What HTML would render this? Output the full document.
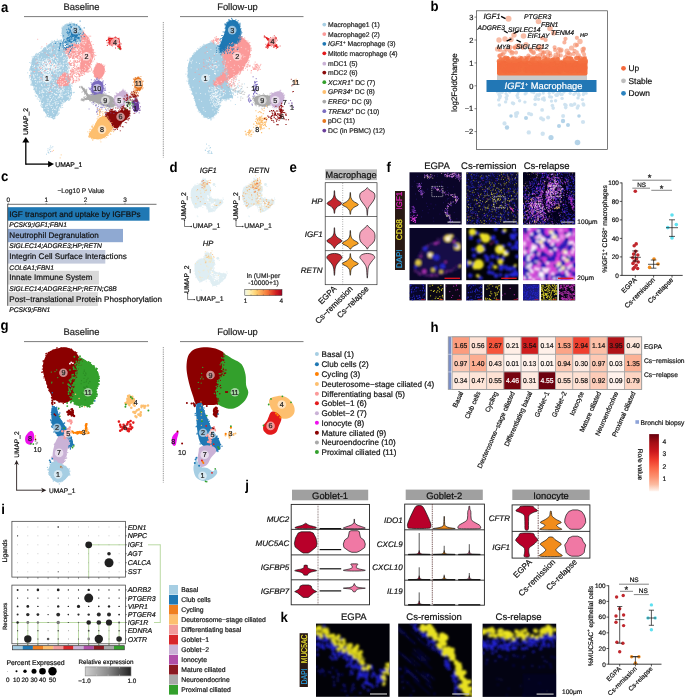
<!DOCTYPE html>
<html><head><meta charset="utf-8"><title>Figure</title>
<style>
html,body{margin:0;padding:0;background:#fff;}
body{width:685px;height:698px;overflow:hidden;}
svg{display:block;font-family:"Liberation Sans",sans-serif;text-rendering:geometricPrecision;opacity:0.9999;}
</style></head><body>
<svg width="685" height="698" viewBox="0 0 685 698">
<defs>
<filter id="b1" x="-10%" y="-10%" width="120%" height="120%"><feGaussianBlur stdDeviation="0.8"/></filter>
<filter id="b2" x="-10%" y="-10%" width="120%" height="120%"><feGaussianBlur stdDeviation="1.2"/></filter>
<filter id="b4" x="-10%" y="-10%" width="120%" height="120%"><feGaussianBlur stdDeviation="0.9"/></filter>
<filter id="b5" x="-10%" y="-10%" width="120%" height="120%"><feGaussianBlur stdDeviation="0.8"/></filter>
<filter id="b3" x="-10%" y="-10%" width="120%" height="120%"><feGaussianBlur stdDeviation="0.35"/></filter>
</defs>
<rect width="685" height="698" fill="#fff"/>
<text transform="translate(1 12.2) scale(0.93 1)" font-size="14.2" font-weight="bold">a</text>
<text x="81.5" y="10" font-size="9.4" text-anchor="middle" fill="#222" stroke="#222" stroke-width="0.2" >Baseline</text>
<line x1="24" y1="16.6" x2="148" y2="16.6" stroke="#444" stroke-width="0.7" />
<text x="237.5" y="10" font-size="9.4" text-anchor="middle" fill="#222" stroke="#222" stroke-width="0.2" >Follow-up</text>
<line x1="180" y1="16.6" x2="303.5" y2="16.6" stroke="#444" stroke-width="0.7" />
<line x1="163.3" y1="22" x2="163.3" y2="157.5" stroke="#333" stroke-width="0.6" stroke-dasharray="0.9 0.9"/>
<path d="M61.1 40.6C59.4 40.1 55.1 40.6 52.1 42.1C49.1 43.6 46.1 47.1 43.1 49.6C40.1 52.1 36.1 54.1 34 57.1C32 60.1 31.2 64.2 30.7 67.7C30.2 71.2 30.5 74.7 31 78.2C31.6 81.7 32.5 85.2 34 88.7C35.5 92.3 38.5 96 40.1 99.3C41.6 102.5 41.8 105.5 43.1 108.3C44.3 111.1 45.8 114.2 47.6 115.8C49.3 117.5 52 118.7 53.6 118.2C55.2 117.7 56.2 115 57.4 112.8C58.5 110.7 58.5 107.6 60.4 105.3C62.3 103 66.7 101.3 68.6 99.3C70.6 97.3 71.6 95.8 71.8 93.3C72.1 90.7 70.9 86.7 70.2 84.2C69.4 81.7 67.5 81.2 67.1 78.2C66.8 75.2 68 69.7 67.9 66.2C67.8 62.7 66.9 59.6 66.4 57.1C65.9 54.6 65.5 53.1 64.9 51.1C64.3 49.1 63.3 46.8 62.6 45.1C62 43.3 62.9 41.1 61.1 40.6Z" fill="#a6cee3" />
<path d="M62.6 27C63.8 25.2 66.4 23.9 68.6 23.4C70.9 22.9 74 23.2 76.2 24C78.3 24.9 80.3 26.8 81.4 28.5C82.6 30.3 83.2 32.5 83.1 34.6C83 36.6 82.1 39.2 80.7 40.6C79.3 42 76.7 42.3 74.7 43C72.7 43.6 70.4 44.6 68.6 44.5C66.9 44.3 65.3 43.7 64.1 42.1C63 40.4 62.1 37.1 61.9 34.6C61.6 32 61.5 28.9 62.6 27Z" fill="#a6cee3" />
<path d="M82.9 32.3C84.2 32 86.6 34.9 88.2 37.6C89.8 40.2 91.8 45.1 92.7 48.1C93.6 51.1 94 52.9 93.6 55.6C93.3 58.4 91.5 62.3 90.6 64.7C89.7 67.1 89.2 68.8 88.2 70.1C87.2 71.4 85.8 72.6 84.5 72.3C83.1 72.1 81 70.3 80.4 68.4C79.8 66.5 80.7 63.3 81 60.9C81.2 58.5 82.7 54.7 81.9 54.1C81.1 53.5 78.1 57.2 76.2 57.4C74.2 57.7 71.7 56.5 70.2 55.6C68.6 54.8 67.2 53.6 66.7 52.3C66.1 51.1 65.5 49.5 66.8 48.1C68.2 46.7 72.5 44.3 74.7 43.9C76.9 43.5 78.9 46.6 79.9 45.8C80.9 45 80.2 41.3 80.7 39.1C81.2 36.8 81.7 32.5 82.9 32.3Z" fill="#fb9a99" />
<path d="M58.9 78.2C60 76.6 62.5 73.4 64.1 72.9C65.8 72.4 67.8 73.8 68.8 75.2C69.8 76.6 70.6 79.6 70.3 81.2C70.1 82.9 68.8 84.4 67.3 85.1C65.8 85.9 62.8 86.3 61.1 85.9C59.4 85.5 57.6 84 57.2 82.7C56.8 81.4 57.7 79.8 58.9 78.2Z" fill="#fb9a99" />
<path d="M95.4 65.9C96.3 64.4 97.3 63.1 98.8 63.2C100.2 63.2 103.1 64.7 104 66.2C105 67.7 105 70.2 104.5 72.2C104 74.2 102.5 77.3 101 78.2C99.6 79.1 97 78.5 95.7 77.5C94.5 76.4 93.5 74.1 93.5 72.2C93.4 70.3 94.6 67.4 95.4 65.9Z" fill="#fb9a99" />
<path d="M70.8 80h0m5.7 -11.1h0m2.4 9.4h0m-8.8 -21.1h0m5.6 19.3h0m-3.4 6.2h0m-0.2 -14.6h0m-3 -5.5h0m6.5 7.6h0m-3.3 -7.4h0m-0.2 6.4h0m1.1 -12.2h0m8.7 14.9h0m-3.1 -10.3h0m-8.2 4h0m9.5 10.6h0m1.7 -1.2h0m-8.4 -2.3h0m3.2 0.1h0m-7.4 -9.7h0m2.2 8.6h0m8.4 3.5h0m-5.2 -6.6h0m2.1 9.5h0m0.2 -10.8h0m-0.5 -10.1h0m7.8 15.7h0m-9.3 -11.8h0m5.9 10.3h0m-3 -2.2h0m-4.9 2.4h0m8.5 -0.8h0m-3.9 -2.6h0m0.2 -6.3h0m-1.1 8h0m-2.3 -3.9h0m2.9 7.7h0m1.1 -4.6h0m-9.2 -6.3h0m2.3 9.9h0m1.3 7.1h0m6.6 -21.1h0m-10.4 -1.9h0m11.7 6.5h0m-10.2 10.5h0m3.7 -15.5h0m-2.9 12.8h0m0.1 -7.1h0m8.6 5h0m-6.2 0.6h0m-4.7 -2.5h0m6.3 -5.5h0m1.4 0.6h0m1.5 16.9h0m-9.2 -22.2h0m2 19.5h0m0.2 -0.4h0m8.2 -4.5h0m-7.3 12h0m9.2 -12.7h0m-9.1 3.6h0m2.7 -2h0m-1.2 1.5h0m-4.1 -9.2h0m3.9 15.6h0m0.1 2.2h0m6.8 -14.5h0m-2.7 -6.8h0m2.1 9.3h0m-5.2 -4.5h0m-2.7 9.2h0m3.6 -13.4h0m-5.2 13.1h0m3 -4.6h0m0.5 10.4h0m-2 -15.2h0m2.2 -3.2h0m5.3 17.4h0m3.3 -4.2h0m-10.2 1.1h0m-2.4 -15.5h0m10.6 12h0m-6.6 -8.6h0m8.4 8.7h0m-11.6 -1.5h0m-0.5 -14.2h0m3.7 16h0m3.7 -10.9h0m-7.8 1.2h0m12.8 8.3h0m-9.7 6.2h0m6.2 -19.4h0m-9.9 4.2h0m1.2 -2.1h0m2 16.1h0m0.2 -7.4h0m-2.5 4.8h0m-0.9 -17.8h0m8.8 12.2h0m-4.5 -10.8h0m-1.6 15.5h0m7.5 1.2h0m-6.8 -3.3h0m0.8 -8.3h0m-3.6 1h0m9.1 10.1h0m-5.5 -8.8h0m0.2 14.5h0m0.2 -8.5h0m3.9 1.5h0m-5.3 -16.1h0m0 1.5h0m4.9 0h0m-7.6 15.7h0m3.4 4.3h0m3.2 2h0m-5.3 -10.1h0m-0.8 0.4h0m3.3 10.8h0m5.9 -20.2h0m-4 -0.5h0m4.4 14.2h0m-7.3 -16.8h0m4.7 13.3h0m-2.4 -5.7h0m-2.2 -8.7h0m6.2 10.9h0m-1.2 -9.9h0m-3.4 2.1h0m-3.7 3.4h0m4.4 9.8h0m2 -3.1h0m1.9 -1.7h0m0.6 8.1h0m-7.1 -6.5h0m3.8 -7.6h0m-1 9.4h0m-2.2 2.4h0m-3.6 -16h0m7.3 22.4h0m-5.5 -3.1h0m8.4 2.3h0m-5.1 -4.1h0m5.8 -3h0m-8.9 -9.5h0m0.7 8.8h0m8.5 -14.4h0m-1.2 18.5h0m-5.3 -5.6h0m-2.8 6h0m10.1 -2.8h0m-8.5 7.9h0m6.2 -5.9h0m-3.4 6.2h0m-4.4 -16.7h0m6.8 2.3h0m-7.6 -3.1h0m2.1 12.7h0m6 -4.1h0m-5.5 -1.7h0m-0.1 1.2h0m-0.4 2.7h0m3.8 4.8h0m4.4 -7.9h0m-6.1 -8h0m-4.3 14.6h0m0.1 -1.7h0m0.3 -6.9h0m6.9 -5.3h0m-1.1 1.3h0m-1 2.6h0m-2.1 -1.4h0m7.5 7.9h0m-4.6 -1h0m-1.8 -12.3h0m3.5 18.8h0m3.7 -10.3h0m-8.3 -9.5h0m4.9 10.1h0m-3.6 -3h0m0.3 12.2h0m2.8 -3.6h0m-1.5 0.3h0m2.4 -2.7h0m-0.2 -6.7h0m0 6.3h0m2.9 -0.8h0m-7.3 -9.5h0m3 -3.1h0m-1.2 -3h0" stroke="#fb9a99" stroke-width="0.9" stroke-linecap="square" fill="none"/>
<path d="M74.7 53.9h0m-1.3 -3.8h0m1.2 5.8h0m2.7 -5.4h0m0 2h0m-7.1 -3.9h0m10 0.6h0m-5.3 1h0m-0.2 3.6h0m-5.1 -0.8h0m8.1 1.6h0m-6.6 -2h0m-0.5 -0.5h0m-0.9 2.2h0m10.2 -4.5h0m-9.5 6.2h0m7.2 -1.1h0m-1.3 -5.2h0m-2.8 4.3h0m5.2 -5.5h0m-2.3 -0.3h0m5.1 2.7h0m-0.9 2.8h0m-4.5 -4.5h0m-1.2 -1.2h0m-5.7 5.6h0m3.3 0.3h0m-1.8 -0.3h0m7 -4h0m-9 0.9h0m5.7 -2.9h0m1.6 7.7h0m1.5 -0.7h0m3.9 -2h0m-9.2 2.2h0m-3.7 -4.3h0m5.9 -0.2h0m-4.8 -1.4h0m9.6 2.2h0m-3.5 -2.4h0m2 1.1h0m-1.8 5.7h0m3 -0.5h0m-7 -4.7h0m3.8 5.3h0m-2.7 -0.4h0m5.3 -7.1h0m2.3 -1.4h0m-11.3 6.4h0m-1.3 -2.8h0m1.1 0.8h0m10.4 4.4h0m0 -8.5h0m-8.3 0.7h0m5.3 6.2h0m0.8 1h0m-0.4 -4.5h0m-0.3 -1.4h0m-0.7 1h0m0.2 2.1h0" stroke="#fff" stroke-width="0.8" stroke-linecap="square" fill="none" opacity="0.85"/>
<path d="M68.9 65.8h0m-0.5 -2.2h0m-31.8 -10.2h0m4.8 -2h0m-2 46.1h0m-5.8 -41.1h0m-1.6 11.4h0m40.1 18.4h0m-0.8 6.8h0m-16.4 25h0m-9.2 -6h0m-14.9 -44.9h0m11.4 38.9h0m26.8 -37.6h0m-34.9 -11h0m33.5 0.9h0m3.3 7.2h0m-40 15.4h0m38.6 16.2h0m-8.4 -54h0m-16.6 66.5h0m22.1 -31.4h0m-11.6 37.2h0m17.7 -31.6h0m-37.8 -27.8h0m33.1 15.7h0m-25.9 33h0m19.5 -60h0m-5.7 71.2h0m-13.6 -11.9h0m28 -11.6h0m-3.6 -33h0m-29.7 -5.1h0m-0.7 3.2h0m32.4 10.5h0m-1.1 14h0m-3.2 -34.3h0m4 38.8h0m1 -9.9h0m-23.3 34.8h0m17.5 -9.1h0m3.9 -33.8h0m5.8 24.3h0m-10.1 -47.2h0m-7.2 67h0m9.5 -47.7h0m1.4 7.8h0m-19.1 43.6h0m-15 -35.4h0m32.8 -23.6h0m-10.9 -16.2h0m7.7 64.3h0m-1.8 -63.6h0m9.3 44.3h0m-38.8 -17.6h0m-1 8.8h0m17 39.1h0m-1.9 -6h0m21.2 -31.3h0m-23.8 -28.7h0m18.6 -8.2h0m-28.8 17.3h0m7.1 -6.8h0m-3.6 43.7h0m-5.1 -33.2h0m-0.3 3.8h0m14.3 -19.4h0m15.2 57.4h0m8.9 -24.9h0m-36.5 -22.4h0m-1.6 27h0m34.5 -21h0m1.6 -7.1h0m3 25.4h0m-9 23.7h0m5.4 -43.1h0m-33.3 -1.5h0m36.1 38.3h0m-6.2 -57.3h0m1.6 5.7h0m3.5 32.9h0m-8.8 28.2h0m-26.9 -23.4h0m-2.3 -15.9h0m32.2 -28h0m1.3 7h0m-32.3 27.8h0m15.5 -30.7h0m-10.1 47.6h0m17.9 25h0m9.9 -69.3h0m-4 -7.2h0m7.7 32.5h0m-34.7 -16h0m18.6 -11.6h0m-2.6 70.2h0m11.9 -76.6h0m1 2.2h0m-6.9 1h0m5.1 60.8h0m-28.9 -31h0m32.6 -20.1h0m2.1 5.2h0m-14.3 59.2h0m-19.6 -37.3h0m26.3 -38.1h0m10.7 39.7h0m-33.5 -27.7h0m32.6 15.9h0m-37.3 -1.1h0m6.3 23.2h0m23.6 15.6h0m3.9 -6h0m-35.1 -32.8h0m32.7 -23.7h0m-0.2 -3.2h0m-29.6 18.5h0m36 37.8h0m2.6 -5.6h0m-17 -52.2h0m12.6 32.1h0m-3 -22.5h0m-21.5 57.1h0m17.7 -0.8h0m-5.1 8.7h0m6.1 -74.9h0m7.7 57.8h0m-14.1 16.4h0m12.2 -37.6h0m-0.4 -1.7h0m-9.2 39.9h0m8.6 -35h0m-33.7 3h0m24 30.5h0m11.9 -32.8h0m-32 12.8h0m31.5 -15.4h0m-3.5 23.2h0m-32.6 -17.5h0m22.2 35.1h0m-21.9 -51.8h0m29.9 -26h0m6.1 57.9h0m3.1 -6.1h0m-32 6.7h0m-8.5 -20.3h0m40.1 18.8h0m-32.9 -3.4h0m29.2 -28.7h0m-2.5 -12h0m-1.8 -12.4h0m-1 -2h0m8.4 59.5h0m-15.5 12.5h0m15.4 -17.2h0m-33.3 1.7h0m10 14.9h0m16.6 -58.7h0m-19.5 58.5h0m30.5 -18.5h0m-33.2 7.5h0m-3.9 -6.2h0m-6.7 -19.8h0m31.7 -31.8h0m-8.8 0.6h0m11.6 9.7h0m-21.9 55.1h0m20.7 -5h0m-33.3 -31.3h0m17.6 45.3h0m14.3 -70.1h0m-14.8 67.1h0m-12.7 -27.1h0m-2.4 -27.6h0m2.9 36.6h0m2 3.5h0m-7.8 -23.4h0m3.1 -10h0m35.9 15.7h0m-34.4 3.5h0m37.7 7.7h0m-27.4 18h0m-12 -26.2h0m3.8 6.8h0m22.1 23.2h0m-13.5 -66.3h0m-11.5 37.7h0m34.3 -10.3h0m-2.6 -24.4h0m-16.7 -5.9h0m-16.3 31.2h0m35.5 -22.2h0m-7.3 51.4h0m3.5 -50.8h0m5.9 24.6h0m-0.1 6.5h0m-41.8 -12.9h0m7.9 -18.4h0m34.1 42.5h0m-3.6 -40.5h0m-12.1 60.9h0m10 -72.9h0m-29.7 12h0m34.1 10.5h0m-34.7 22.7h0m27.4 13.7h0m-4.5 10.2h0m-20.4 -56.3h0m27.5 44.2h0m-25 -47.9h0m29.9 46.9h0m-23.2 10.6h0m-0.6 -61.4h0m-5 48.2h0m13.7 20.9h0m9.2 -11.2h0m8.5 -12.9h0m-6.7 -42.6h0m-30.4 36.9h0m-4.7 -11h0m44.5 14.5h0m-17.5 20.2h0m6.5 -67.6h0m-15.1 70.2h0m-8.4 -59.5h0m-4.4 36.4h0m23.7 18.1h0m5.4 -60.9h0m1.4 5.3h0m-13.5 -13.7h0m9.3 5.1h0m-6.8 69.9h0m15.1 -47.9h0m-2.4 -15.6h0m-5.6 -6.3h0m9.6 42.4h0m-3.7 -14.9h0m-0.5 -8.5h0m-22.9 -16.9h0m22.7 22.5h0m-4.2 -26.5h0m-29.7 16.6h0m33.8 -1.2h0m-10.6 55.7h0m-5.5 -71.4h0m12.1 0.1h0m8.1 54.2h0m-37.4 -13.7h0m28.4 -40.1h0m6.8 20.3h0m-32.1 28.6h0m5.5 12.7h0m-4.4 -11.5h0m19.5 17.5h0m14.4 -26.3h0m-0.3 9.4h0m-13 19h0m7 -53.1h0m-27.4 -6.1h0m25.4 -11.3h0m-18.1 67.7h0m18.1 -63.3h0m-19.9 1.5h0m4.9 -4.4h0m2.9 -3.2h0m3.5 -0.8h0m-10.9 69.2h0m-3.4 -9.2h0m27.4 -41.1h0m-33.2 -1.4h0m-1.9 23.9h0m0.6 -23.3h0m2.5 -3.1h0m18.1 62.2h0m-15.2 -21.6h0m-4.3 -7.8h0m8.3 17.7h0m-0.7 -2.5h0m11.1 12.8h0m10.8 -68.5h0m-22.2 58.5h0m-8.5 -22.1h0m36.1 8.7h0m-13.5 21.5h0m3.8 -4.9h0m-1.1 2.9h0m9.1 -52.4h0m-4.1 -14.6h0m-19.7 63.6h0m24.4 -26.7h0m3 0.8h0m-34.5 -28.9h0m9.3 -6.4h0m14.3 59.2h0m7 -37.7h0m-35.7 -8.9h0m31.9 -14.5h0m-14.6 70.7h0m0.9 -72.1h0m-14.5 45.4h0m8.6 19.7h0m24.8 -39h0m-1.2 -13h0m-0.8 14.2h0m4.5 22.7h0m-40.2 -25.4h0m27.1 41.3h0m-15.6 -5.9h0m18.8 -63.3h0m-1.1 -1.7h0m-16.6 8.4h0m25.8 36.8h0m-4.2 -31.4h0m0.1 4.4h0m-22.9 48.8h0m10.5 -65.4h0m-6 73.7h0m22.7 -33.6h0m-23.7 35.1h0m-9.9 -26.8h0m31.4 -10.3h0m-12.4 38.2h0m11.5 -62.4h0m-34.7 20.7h0m30.5 -32.6h0m4.4 28.9h0m0.1 -4.4h0m-9.4 -28.9h0m14 52.3h0m-12.9 15.6h0m10.5 -42.9h0m-9.4 48.8h0m-18.4 -64.9h0m-9.7 36.2h0m32.7 -34.6h0m5.1 50.1h0m-36.3 -16.2h0m30.9 -34.2h0m6.7 39.4h0m-7.5 -39h0m-27.2 41.9h0m17.2 26.8h0m-21.8 -33.2h0m40.1 5h0m-38.4 -31.5h0m-1.8 24.1h0m36.1 -27.2h0m-5.4 49.1h0m2.6 -55.6h0m-17.4 -0.3h0m-6 55.1h0m-8.3 -43.7h0m36.8 36h0m-1.9 -39h0m0.6 24.6h0m-37 -6.1h0m7.8 21.7h0m-9.3 -35.1h0m37.7 0.9h0m0.1 18h0m-6.4 -37.4h0m-29.5 35.8h0m-0.2 -17.2h0m34.6 15.4h0m-1 -23.4h0m4 23.5h0m-36.8 3.9h0m7.4 19h0m10.4 -56.8h0m10.7 62.7h0m-21.4 -10.5h0m2.7 5.7h0m-12.5 -25.9h0m30 30.2h0m-18.4 -5.8h0m-3.1 -3.3h0m19.2 15.1h0m9.8 -54h0m-14 59.5h0m7.4 -77.2h0m-24.6 51.2h0m-5.5 -23.2h0m-0.6 6.9h0m27.9 39.6h0m-18 -13.8h0m21.6 -57h0m-30.6 24.7h0m29.5 36.5h0m10.1 -21h0m-15.9 -42.2h0m13.5 31.8h0m-37.2 -7h0m34.1 -14.4h0m-35.2 17.6h0m33.4 33.4h0m-27.2 -12.4h0m5 14.3h0m26.4 -47.5h0m-1.5 20.7h0m3.6 21.3h0m-8.9 4.5h0m-11.2 -57.2h0m8.9 62.5h0m-14.3 -3.3h0m14.3 -65.4h0m6.2 4.4h0m0.2 9.1h0m-29.9 2.4h0m30.2 43.9h0m3.2 -28.2h0m-35.8 -16.2h0m24.3 57h0m-21.9 -24.1h0m33.4 -16.7h0m-0.7 7.1h0m-1.7 21.3h0m-1.3 -50.9h0m-6.7 63.3h0m-7.1 -68.2h0m20.2 44.6h0" stroke="#a6cee3" stroke-width="0.7" stroke-linecap="square" fill="none"/>
<path d="M70.5 94.4h0m-23.4 4.6h0m-1.6 7.2h0m5.8 -54.9h0m-1.3 33.5h0m-5.9 -15.4h0m15.8 -27.7h0m-20.9 19.7h0m25 40.1h0m-21.6 -10.7h0m18.1 -11.2h0m-28.9 -7.8h0m3.1 -6.2h0m21.5 29h0m-1.9 14.9h0m-19.8 -30.2h0m10.3 29.1h0m11.3 -5.2h0m-20.6 -21.5h0m26.2 -25.6h0m-9.1 2.2h0m-13 21.4h0m9 8.6h0m-6.1 15.4h0m-8.9 -16.8h0m14.9 28.6h0m16.9 -42.2h0m-25.9 20h0m8.3 20.3h0m3.9 -61.5h0m-13.6 6h0m-4.6 17.2h0m30.7 -17.7h0m-4.5 12.6h0m-9.4 27.2h0m18.6 -9.3h0m-18.8 -27.1h0m13.2 2.2h0m-27.1 26.8h0m21.7 11.7h0m-11.5 -19.5h0m4.6 -33.9h0m-8.1 40.8h0m-3.9 -22.6h0m1.9 12.3h0m-5.4 0.3h0m21.3 10h0m-9.7 18.9h0m-0.4 -34h0m-12.1 13h0m15.8 -13.6h0m1.2 26.8h0m2.2 -17.8h0m-12.4 10.4h0m17.2 -8.6h0m2.2 -36.1h0m-14.8 13.1h0m0.4 16.6h0m13.9 23h0m-6.6 -29.8h0m10 29.5h0m-12 -30.7h0m-2.3 -6.4h0m5.3 4.7h0m-20.3 9h0m11 -11.1h0m-0.1 15.4h0m-1.1 -22.8h0m-3.3 42h0m2.4 -18.4h0m16.8 4h0m-2.4 -26h0m0 -1.7h0m-23.5 13h0m12.4 23.9h0m-9.4 -20.2h0m10 -25.9h0m13.2 13.8h0m10.7 28.1h0m-21.3 13.7h0m-0.2 -17.7h0m-12 -13h0m5.8 6.7h0m-0.6 -16.4h0m13.7 42.5h0m-7.6 -50.4h0m-5.2 35.4h0m13.2 -40.9h0m-1.7 58.2h0m5.5 -25.3h0m4.2 -30h0m-12.3 57.8h0m13.9 -46.3h0m-12.1 15.3h0m-13 -9.3h0m11.7 -3.6h0m-5.8 13.7h0m2.5 -34.1h0m12.1 36.8h0m-25.7 4.3h0m16.1 -7.9h0m-4.8 24.7h0m2.7 -25.8h0m12.8 23h0m-9.8 -19.8h0m1.8 -25.3h0m-11.8 12.6h0m-0.2 10.7h0m9.7 17.3h0m-13.3 -44.7h0m18.4 18.4h0m-15.5 -19.5h0m17.5 21.7h0m-20.1 3h0m18.2 -28.1h0m8.3 23.1h0m-14.7 6.9h0m6.4 -4.7h0m8.1 -14.4h0m-18.7 10.8h0m16.4 -12.3h0m-7.1 9h0m-5.6 49.2h0m-1.4 -67.4h0m-9.3 18.7h0m-5.8 -1.2h0m17.7 21.7h0m-7.7 -3.3h0m3.9 -20.2h0m0.5 -5.3h0m12.6 -16.8h0m-10.2 7.2h0m-9.9 34.6h0m2.7 -4h0m-5.9 -17.1h0m-4.2 12.6h0m13.1 27.8h0m11.5 -11.6h0m-7.8 -45.1h0m7.5 -1.9h0m-16.1 16.2h0m-4.2 16.3h0m22.2 -10.9h0m-10.8 0.3h0m16.1 -8.9h0m-32.4 16.6h0m-0.7 -9.3h0m17 38.5h0m3 -60.5h0m-4.3 60.4h0m-6.8 -23h0m4.9 -9.4h0m2 3.5h0m5.7 -32.6h0m-3.8 55h0m-2.1 12.9h0m-10.7 -27.5h0m25.4 14.4h0m-6.4 -35.9h0m-8.6 16.7h0m1.8 -6.5h0m-3.3 -12.3h0m6.8 44.4h0m7.2 -21.8h0m-13.5 -20.7h0m15.7 25.1h0m-11.5 -33.2h0m-0.3 4.6h0m-17.1 19.4h0m27.2 -0.1h0m-8.2 32.7h0m4.6 -41.4h0m-8.4 -1.3h0m-4.9 3.4h0m13.8 -7.2h0m-17.5 33.8h0m13.7 20.6h0m-5.4 -6.6h0m12.9 -24.7h0m-17 -18.3h0m1.9 21.7h0m17.1 -24.3h0m-6.9 16.6h0m-6.1 13.4h0m-4.9 -13.8h0m11.1 -28.4h0m-17.4 0.8h0m22.4 36.9h0m-13.3 -23h0m14.6 14.1h0m-23.3 -10.6h0m12.2 -9.5h0m3.5 5h0m-4.7 0.2h0m4.6 -22.2h0m-16.8 10.9h0m11.3 40.3h0m2.1 -1.2h0m14.4 -1.3h0m-12.5 14.6h0m6.2 -31.5h0m-23.6 10.9h0m20.4 -17.5h0m-23.6 -2.6h0m19.6 44.6h0m8.1 -41h0m8.8 26.4h0m-14.8 -3.7h0m11.1 0.5h0m-31.1 -22.1h0m1.1 12.4h0m33.3 -0.7h0m-26.6 11.2h0m5.1 -4.3h0m15.5 -13.7h0m-20.3 26.6h0m12.4 -5.5h0m-2.3 -11.4h0m-3.6 -1.3h0m19.5 -1.6h0m-13.9 4.6h0m-13.5 -9.8h0m1.3 27.4h0m7.2 -53.7h0m-9.3 6.7h0m28.4 38.1h0m-14.5 -47.7h0m-13.4 2.6h0m22.4 18.8h0m-0.2 18.2h0m-23.4 -6.8h0m10.9 34.8h0m4.8 -12.2h0m7.6 -20.3h0m-25.4 -2.8h0m26.1 -18h0m-5.9 34.5h0m-4.7 -11.7h0m3 13h0m-15.1 -29.2h0m22.9 20.4h0m-20.8 1.6h0m-7.4 -12.8h0m25.4 -37.1h0m5.2 32.8h0m-22.3 13.6h0m9.5 24.8h0m-3.2 -23.2h0m-3 -23.2h0m-6.5 14.3h0m19.2 -16.2h0m0.7 4.5h0m-10 10.1h0m-2.6 -1.8h0m3.6 27.1h0m-4.5 -55.7h0m1.4 31.3h0m-9.2 -11.8h0m20 -1.4h0m-18.5 31.6h0m9.4 2h0m2.2 -34.1h0m-14.8 -10.9h0m19.2 2.2h0m-8.9 10.8h0m14 -20.4h0m-31.3 22.2h0m23.4 22.7h0m8.9 -33.1h0m-15.9 27.7h0m15.2 -0.1h0m-13.8 0h0m11.5 -39.4h0m-7.7 -4h0m3.8 13.3h0m10.6 16.6h0m-24.1 -3.2h0m-11.9 -0.1h0m29.9 -14.7h0m7.4 35.9h0m-21.3 -44.3h0m21.5 42.5h0m-17.4 0.7h0m15.1 -28.2h0m-14.2 14.2h0m-3.2 3.6h0m2.7 26.4h0m-8.6 -43.7h0m-5.5 -2.8h0m11.6 30.6h0m18.3 5h0m0.3 -26.2h0m-6.1 -26.7h0m-5 22h0m0 15.2h0m-22.2 -14.3h0m23.3 -24h0m-15.2 50h0m6 -3.1h0m-15.8 -10.3h0m34 3.4h0m-18.6 2.7h0m7.5 0.3h0m3 -18.9h0m-1.6 41.1h0m-4.8 -2.4h0m11.7 -32.3h0m-16.7 -12.7h0m15.8 -5.9h0m-21.7 20.9h0m7.5 -27h0m14.5 29.2h0m1.2 5.6h0m-10.9 1.4h0m-10.5 12.4h0m1.8 -36.5h0m10.6 -4.4h0m-17.4 39h0m16.5 -25.2h0m-0.4 -27.5h0m14.6 51.1h0m-10.3 -11.9h0m3.8 21h0m0.4 -48.4h0m-1.4 46.9h0m-3.5 -45.7h0m-17.8 32.7h0m13.1 -21.5h0m5.2 -6.6h0m-6.5 0.4h0m-4.9 32.3h0m9.5 17.3h0m3.8 -14.1h0m-18.4 -10.4h0m0.4 4.9h0m20.5 -35.1h0m-4.6 -6.5h0m-15.9 49.1h0m-2.3 -6.6h0m1.8 -34.2h0m9.6 17.4h0m11.6 -6.3h0m0.9 -7.1h0m-7.5 40.5h0m-10.7 -30.8h0m5.6 5h0m-7.6 -14.3h0m15.2 17.6h0m-10.2 29.2h0m0 -9.1h0m20.6 -2.7h0m-7 1.7h0m4.1 -35.2h0m-28.8 3.8h0m8.4 7.1h0m0.7 31.9h0m-0.2 -31.5h0m19.8 3.4h0m-9.8 16.7h0m-12.2 -19.7h0m18.4 -21.2h0m-5.8 24.7h0m-17.7 -18.2h0m-2.8 1.8h0m9.9 43.4h0m11.7 -53.1h0m-9.8 47.9h0m-0.1 1.3h0m5.2 -22.7h0m2.5 24.4h0m0.3 -8h0m-19 -34.3h0m5.4 30.9h0m7.8 9.8h0m18.4 -5.7h0m-13.5 6.6h0m-6.3 -28.4h0m-8.7 19.1h0m14.1 -38.2h0m8.2 -10.4h0m-16.4 44.3h0m8.5 -20.8h0m-4.8 15.1h0m3.2 4h0m-16.8 -29.3h0m21.8 48.6h0m-5.9 -13.6h0m-8.7 3.6h0m3.1 -6.3h0m10.1 -16.1h0m-8.3 17h0m-1.6 -37.7h0m18.6 27.3h0m-7.8 11.8h0m-10.5 -33.3h0m20.3 31.8h0m-7.4 -15.1h0m-13.2 -27.9h0m0.1 30.4h0m-7.1 3.5h0m0.4 -3.8h0m-1 -18.9h0m13.7 33.4h0m4.6 -28.6h0m-6.8 42h0m12.1 -20.6h0m-10.9 14.3h0m-7.8 2.7h0m13.7 -26.2h0m-13.5 16.4h0m17.5 -16.7h0m-11.6 27.3h0m16.2 -34h0m-23.6 17h0m-11.4 -10.8h0m34.3 -3.1h0m-5.8 -8.3h0m10.9 27.4h0m-0.3 4.3h0m-14.7 -29.7h0" stroke="#fff" stroke-width="0.8" stroke-linecap="square" fill="none" opacity="0.85"/>
<path d="M48.9 63.1h0m-9 -1.7h0m9.7 6.2h0m-7 -7.8h0m9.1 4.8h0m-1.8 -2.1h0m3.8 -3.6h0m-1.3 7.7h0m-5.8 -6.7h0m4.2 11.5h0m-1.7 -5.5h0m5.9 -10.1h0m-14.4 11.4h0m28.3 -6.6h0m-7.8 4.4h0m-4.7 3.7h0m-2.8 -3.8h0m-8.1 -2.7h0m9.9 3.8h0m-12.4 -4h0m5.4 6h0m-5.1 -5.7h0m13.6 8.5h0m-24.8 -13.5h0m10.7 15.7h0m6.8 -7.3h0m4.2 -8.6h0m-9 10.7h0m2.8 -5.3h0m2.6 -3.3h0m-7.1 13.7h0m8.4 -3.8h0m-4.9 2.8h0m5.1 -5.3h0m5.5 -0.2h0m-22 2.3h0m12.7 -4.2h0m-12.6 10.2h0m10.5 -11.2h0m-4.8 -1.6h0m7.4 10.6h0m7.5 0.7h0m8.5 -13h0m-3.6 10.7h0m-7.8 -6.5h0m-6.5 6.3h0m-5.7 -2.3h0m15.2 0.4h0m-3.1 -3.5h0m-6.9 -1.7h0m8.3 10h0m-6.7 -7.4h0m-1.5 0.7h0m10.8 1.6h0m-12 4.4h0m-0.2 -8.8h0m-0.7 -1.9h0m7.9 7.8h0m-8.4 -4.6h0m4.2 -3.3h0m15.7 4.6h0m-25 4.7h0m14.3 -2.7h0m-4.6 -2.6h0m4.4 -2.8h0m0 2.8h0m-4.4 -1.4h0m5.1 6.6h0m-14.9 -2.5h0m16.8 -4.4h0m1 7.4h0m-9.2 -3.1h0m1.3 -1.3h0m-6.1 1.1h0m6.4 -5.1h0m-6 3.2h0m11.6 -2.7h0m-6.2 2.1h0m2.2 0.9h0m0.4 5.5h0m-6.2 -6.9h0m-2.8 4.2h0m21.5 -3.5h0m-15 -0.3h0m5.7 4.4h0m-3 -6.3h0m-1.4 5.9h0m3.5 -3.9h0m-3.5 10.9h0m-6.3 -4.4h0m-3.5 -8.7h0m1.7 4h0m3.6 6.8h0m0.9 -14.3h0m-3.4 10.4h0m-0.6 -3.9h0m0.9 -3.7h0m9.8 3.2h0m0 0.8h0m3.6 -0.7h0m-2.7 1h0m-10 6.1h0m5.2 -3h0m-1 -9.3h0m-6.1 4.6h0m2 4.9h0m10.6 -3h0m1.8 -1.7h0m-7.8 -7.1h0m-1.2 8.6h0m-3.3 -5h0m-1.3 9.2h0m3.6 -4.8h0m-0.5 -0.6h0m-7 1.2h0m17.2 -6.6h0m-12.7 1.9h0m7 0.6h0m-3.6 3.7h0m11.9 1.5h0m-4.1 3.6h0m-6.5 -9.9h0m-7.4 2.7h0m16.6 -2.7h0m2.3 5.8h0m-8.7 -6.9h0m-1.9 -0.8h0m-0.9 10h0m8.3 -3.7h0m2.3 -0.9h0m-13.1 5.6h0m10.6 -10.6h0m-6.8 11.3h0m-4.5 -8h0m4.4 8.1h0m-2.7 -4.4h0m1.3 -1h0m-3 7.2h0m3.5 -10.8h0m13.6 2.6h0m-9.8 8.9h0m-3.1 -6.4h0m1 6.3h0m0.5 -0.7h0m-2.7 -11.3h0m4.1 4.8h0m-10.3 0h0m12.2 -9.9h0m-4.9 12.5h0m19.2 -3.2h0m-13.5 2.3h0m-4.6 -6.3h0m-1.4 4.1h0m1.6 -3h0m2.8 0.8h0m-8.5 1.8h0m10.5 -2h0m-5.3 2.6h0m10.5 -1.2h0m-5.5 0.9h0m-7.4 -2.9h0m3 -0.2h0m-1.5 7.1h0m-0.7 -5.2h0m1.3 -1.4h0m4.2 4.6h0m-0.2 -6.6h0m-5.5 10.4h0m1.8 -1.5h0m-0.3 -5.5h0m-5 -0.5h0m7.2 -6.1h0m-11.8 6.7h0m19.3 5.5h0m-17.6 -8h0m18.2 7.2h0m-10.2 -3.4h0m-8.5 3.5h0m2.9 5.8h0m10.8 -6.9h0m-10.4 -1.3h0m0 0.6h0m5.4 -0.8h0m5.3 -4.2h0m-0.3 0.5h0m-2.7 -5.5h0m0.3 11.6h0m3.8 -0.6h0m-5 -5.3h0m6.2 -0.2h0m-5.2 4h0m-1.3 -4.7h0m1.4 -2.3h0m4.2 3.6h0m-12.4 2.5h0m1.3 2.1h0m-7.9 -14.3h0m16.7 4h0m-1 6.2h0m-1.2 3.1h0" stroke="#fff" stroke-width="0.9" stroke-linecap="square" fill="none" opacity="0.9"/>
<path d="M58.3 90.1h0m2 -6h0m4 4h0m-1.7 8.7h0m-5.9 -5.3h0m0.9 -3.1h0m5.4 2.9h0m-4.7 -4.3h0m-3.1 7.5h0m4.7 0.3h0m3.5 -4.9h0m-2.4 6.6h0m1.3 -7h0m-1.6 3.7h0m-2.2 -8.5h0m0 18.7h0m-3.6 -14.5h0m6.3 3h0m-6.7 -6.2h0m8.3 1.4h0m-8 -2.6h0m5.5 6.8h0m2.1 -5h0m-0.3 -4.3h0m-0.9 14.6h0m-0.1 8.1h0m-2.8 -7.3h0m3 -6.4h0m-2.4 -1h0m2 4.7h0m-3.9 0.2h0m13.4 -13h0m-9.9 10.2h0m-6.3 8.3h0m5 -11.1h0m4.8 -5.6h0m-10.4 13h0m10.6 -2.1h0m-2.1 -1.5h0m-3.1 3.4h0m3 -1.6h0m-2.3 -3h0m-2.4 12h0m2.3 -6.3h0m1.7 -19.8h0m0.4 9.8h0m-1.7 7.9h0m-0.5 -0.8h0m1.1 -4.4h0m-1.9 -1.1h0" stroke="#fff" stroke-width="0.8" stroke-linecap="square" fill="none" opacity="0.9"/>
<path d="M81.9 45.7h0m-12.9 9.9h0m22.3 -3.6h0m-1.3 19.5h0m4.5 -11.9h0m-17.7 -15.3h0m-11.7 3.9h0m15.8 -4.2h0m1.9 24.5h0m7.5 -2h0m-19.5 -11.8h0m0.5 1.1h0m0.2 -12h0m5.9 3.5h0m5.7 11.8h0m10 2h0m-15.4 -3.8h0m5.1 9.4h0m-15 -15.3h0m-1 1.3h0m13.2 13.4h0m9.2 0h0m-24.8 -16.6h0m25.9 14.6h0m-11.7 4h0m-11.3 -18.3h0m12.2 -5.4h0m-13.3 11.4h0m22.5 -17.9h0m-6.8 21.3h0m-1.7 3.2h0m-3.9 -18h0m9.3 27.3h0m-5.2 -3.1h0m1.8 -11.1h0m0.3 1.7h0m0.5 -26.2h0m8.6 8.7h0m-8.2 -8.9h0m-2.6 23.7h0m-13.8 -8h0m13.6 10.2h0m8.6 -19.6h0m-17.8 6.7h0m10.9 -10.2h0m-14.3 15h0m-1.9 -2.2h0m27.7 3.8h0m-11 16.8h0m0 -33.2h0m8 31.5h0m-13 -12.1h0m0.5 0.5h0m-9.3 -7.1h0m10.8 8.6h0m-2.5 -1.3h0m-2.7 -12.9h0m14.2 28.7h0m-20.4 -16h0m14.7 3.8h0m-13.4 -2.1h0m7.9 -11.2h0m12.6 21.4h0m1.6 -5.3h0m-8.3 -29.8h0m-2.4 7h0m-14.5 9.9h0m24.3 -4.1h0m-17.4 12.5h0m-5 -10.8h0m10.9 14.8h0m-0.5 5.7h0m3.2 -7h0m-15.6 -11h0m25.1 19.5h0m-17.8 -13.5h0m4.7 -9.8h0m3.1 -6.4h0m1.7 31.2h0m-3.1 -13.8h0m-9.1 -10.5h0m17.8 -6.6h0m-7.7 0.2h0m-0.9 17.8h0m12.6 -4.2h0m-1.2 8h0m-22.4 -11.5h0m-1.1 1.2h0m22.1 13h0m2.1 -6h0m-24.7 -3h0m9.1 -13.6h0m-11.1 7.3h0m15.4 -4.9h0m8.6 21.7h0m-1.6 6.7h0m-13.8 -14.1h0m10.3 -23.9h0m-15.7 20.3h0m12 -18.1h0m-4.8 18.6h0m10.9 12.6h0m-5.9 0.2h0m-3.6 -22.2h0m12.2 -9.5h0m-6.1 19.7h0m-10.5 1.1h0m8.6 9.3h0m-10.9 -10h0m21.5 -2.1h0m-10.8 -17.9h0m11.7 8.2h0m1.1 11.7h0m-12.6 -9h0m10.9 3.6h0m-21.3 4.7h0m6.6 -10.6h0m2.5 1h0m-0.4 10.1h0m-1.2 3.1h0m-9.4 -11.6h0m-1.1 8.4h0m18.9 16h0m-20.9 -22.9h0m21.6 -11.3h0m-4.3 -5.1h0m-10.3 11.4h0m16.1 16.8h0m-5.3 11.6h0m-9.1 -15.9h0m6.7 -1h0m1.4 -14.8h0m-0.6 23.1h0m6.9 2.6h0m-2.1 -29.3h0m1.7 33.3h0m-10.4 -17.5h0m2.3 -8.9h0m13.1 10.7h0m-18.3 -8.7h0m17.7 4.3h0m-13 6.4h0m-15.5 -4.9h0m12.9 5.6h0m-7.2 -10.9h0m21.3 6h0m-13.6 2.3h0m4.3 -12.9h0m-14.7 11.1h0m16 16.8h0m-12.9 -12.4h0m-3.6 -7.9h0m12.1 19.4h0m7.6 -30.4h0m-3.9 -7h0m-2.4 28.6h0m0 6.4h0m-12 -20.8h0m25.4 9.2h0m-27.9 -1.5h0m26.8 -0.4h0m-12.1 18.9h0m1.6 -15.9h0m-0.2 -24.7h0m5.6 4.8h0m-1.6 35.7h0m-5.7 -28.5h0m11.6 7.6h0m-21.7 2.9h0m8.8 6.6h0m-12.8 -11.7h0m22.9 19.6h0m-5.7 1.9h0m-15.6 -18.5h0m-1.9 1.5h0m8.2 -9.9h0m4.1 1.2h0m1.7 16.1h0m5.4 -24.4h0m-5.5 23.5h0m-0.4 -14.6h0m1.9 18h0m-0.2 0.3h0m-12.4 -10.1h0m-3.7 -1.3h0m3.8 -4.6h0m22.6 10.3h0m-11.3 11.6h0m-1.6 -2h0m-1.3 -14.2h0m15 -3.3h0m-8.8 -18.7h0m7.8 19.5h0m2 -0.9h0m-13.1 -4.8h0m7.5 23.9h0m-4.5 -9.7h0m-11.7 -4.3h0m19.7 14.2h0m-3.5 -31.5h0m4.2 15.5h0m-14.2 -7.3h0m5.7 9.6h0m9.7 1.5h0m-28.2 -3.3h0m30.7 1.9h0m-13.3 -20.6h0m5 4.4h0m5.2 18.2h0m-17.9 -11.9h0m3.2 -1.7h0m-9.5 4.4h0m23.2 -0.2h0m-28 3.3h0m29.2 -1.1h0m-11.9 13.5h0m13.8 -11.1h0m-24.7 4.3h0m11.6 14h0m5.4 1h0m-3 2.4h0m-11.5 -30.7h0m-6.1 8.5h0m17 21.4h0m-15.7 -19.5h0m20.1 17.3h0m-6.2 -30.5h0m-3 14.8h0m12.8 -9.4h0m-10.4 10.7h0m0.7 1.6h0m-0.8 -20h0m2.3 -4.6h0m4.1 32.5h0m-17.1 -20.8h0m14.3 28.5h0m-13.8 -30.3h0m11.2 -10.7h0m12.4 25.1h0m-13.7 -22.6h0m-11.9 8.8h0m26.3 11.1h0m-14.5 9.6h0m-12.8 -14.9h0m21.7 -8.9h0m-18.6 13.1h0m6.2 1h0m2.2 0.8h0m-13.4 -6.4h0m14.4 17.7h0m11.1 -2.9h0m-12.9 -19h0m-8 11.1h0m-5.1 -6.4h0m16.1 -3h0m-16 2.2h0m14.5 15.5h0m10.6 -28.8h0m-16.2 8h0m6.7 27h0" stroke="#fb9a99" stroke-width="0.7" stroke-linecap="square" fill="none"/>
<path d="M58.8 85.3h0m6.5 0.3h0m-7.8 -4.9h0m2.8 -4.5h0m4.3 -1.7h0m-6.7 6.3h0m8.2 4.8h0m0.3 -0.5h0m-9.6 -2.2h0m8.9 -8.9h0m1.7 11.2h0m-6.4 0.1h0m4.4 -12.2h0m-0.7 2.5h0m4.9 3.4h0m-9.7 6.1h0m5.3 -12.1h0m-1.5 11.2h0m4.1 -10.5h0m2.8 0h0m-0.5 2.8h0m-10 1.5h0m-1.8 4.1h0m9.6 1.6h0m-3.4 -9.8h0m-3.8 2.8h0m7.6 6.6h0m-9.3 2.8h0m-0.6 -6.1h0m4.4 -6.5h0m5.5 11.8h0m-9.3 -7.2h0m-1.6 5.5h0m12.7 -4.4h0m-2 5.9h0m0.8 -2.8h0m1.5 -2.6h0m-12.4 -2.1h0m3.8 8.3h0m2.1 -0.7h0m0 -12.7h0m-8.6 9.3h0m13.2 -3.6h0m-2.5 7.5h0m-6.4 1.6h0m-3.4 -7h0m5.7 7.6h0m-4.4 -4.8h0m7.1 2.1h0m-1.1 0.7h0m2.1 -1.1h0m-6.8 -0.9h0m2.6 0.9h0m6.9 -10.2h0m-8.1 2.4h0m-2.6 4.8h0m6.8 -7.7h0m-5.2 5.6h0m1 7.2h0m9.1 -4.5h0" stroke="#fb9a99" stroke-width="0.7" stroke-linecap="square" fill="none"/>
<path d="M94 69h0m9.1 -1.4h0m-5.8 -3.4h0m4.8 1.5h0m1.6 6.3h0m0.5 -1.8h0m-0.4 2.6h0m-5.1 -8.7h0m-2.7 4.3h0m5.8 -2.6h0m-2.3 -2.3h0m1.1 14.4h0m-5.8 -2.2h0m6.6 -11.3h0m-5.6 3.7h0m-1.7 8.1h0m1.4 -2.5h0m2.9 -9.9h0m-1.6 3h0m-2.1 0.5h0m4.4 9.8h0m-5.6 -3.9h0m1.6 1.7h0m-0.3 1.8h0m7 2.3h0m-2 -14h0m5 0.3h0m-8.7 11.7h0m2.1 1.5h0m-2.9 -1.9h0m6.8 2.1h0m3.2 -7.3h0m-6.8 7.4h0m-3.1 -1.1h0m0.6 -12.4h0m6.6 5.9h0m0 1.5h0m-6.6 -2.4h0m0.6 7.4h0m7.9 -11.2h0m-1.4 2.3h0m-1.4 5.1h0m-2.3 5h0m-6.2 -7.9h0m3 5.4h0m-2.5 -4.8h0m2 5h0m4 -12.8h0m-3.5 13.2h0m5.2 -13.3h0m-2.5 0.3h0m-7.6 6.3h0m11.1 2.5h0m1.9 -3.5h0m-7.7 1.4h0m-3.9 1.5h0m2.3 -2.9h0m-1.6 1.7h0m9.6 -6.3h0m-8.4 11.3h0m3.1 -12.5h0m-1.3 12.9h0m-0.5 -11.5h0m1.1 -1.9h0m-2.7 7.2h0m9.6 3h0m-1.1 0.4h0m-5.7 -10.3h0m2.8 1.1h0m-0.1 14.1h0" stroke="#fb9a99" stroke-width="0.7" stroke-linecap="square" fill="none"/>
<path d="M85.7 68.6h0m7.3 -17.5h0m-25.2 -2.9h0m9.4 2.2h0m8.7 -8.4h0m-15.7 10.3h0m15.1 17.7h0m0.7 -29.8h0m-2.2 9.5h0m2.9 2.8h0m2.2 15.1h0m-14.3 -10.7h0m9.1 2.5h0m-1 10.2h0m1 -26.7h0m5.5 1.7h0m-6.4 -11.4h0m-0.5 14.3h0m4.2 -9.5h0m-4.9 3.3h0m0.1 14.9h0m10.9 -7.5h0m-15.4 5.9h0m14.4 4.4h0m-3 -19.7h0m-12.4 12.9h0m6.3 -9.2h0m3.1 -0.1h0m0.4 9.8h0m-4.3 -9.9h0m9.5 15h0m-21 -7h0m7.9 1.2h0m14.3 -4.6h0m-7.7 20h0m-0.4 -22.6h0m-10.1 1.8h0m15.3 15.6h0m0.8 2.7h0m2 -11.2h0m-7.9 -9h0m6.5 1.8h0m-6.4 23.8h0m4.4 -15h0m-3.3 9.3h0m-1.7 -16.4h0m4.7 18.4h0m-16 -10.5h0m11.2 4h0m-0.6 -15.9h0m6.4 3h0m-6.5 -7.1h0m-16.2 10.1h0m19.1 3.9h0m-5.5 -3.8h0m-7.3 -3.1h0m16.7 7.1h0m-16.6 -8.1h0m14 11.5h0m-4.5 -17.3h0m-0.1 -4h0m1.4 5.8h0m1.7 22h0m-8.2 -10.3h0m9.6 11.9h0m-1.4 -23h0m-14 2.8h0m12.1 -5.1h0m-16.1 12.2h0m4.2 2h0" stroke="#fff" stroke-width="0.8" stroke-linecap="square" fill="none" opacity="0.7"/>
<path d="M34.2 71.6h0m9.5 -5.7h0m8.8 -15.8h0m3.5 15.9h0m-2.6 -19.6h0m-6.8 -2.5h0m-0.1 33.1h0m-9 -14.2h0m21.5 1.2h0m-17.5 14.7h0m-2.6 -6.9h0m16.5 4.3h0m-24.8 -0.4h0m20.1 -6.3h0m4.9 -1.9h0m-9.2 17.6h0m-10.7 -16.6h0m2 -29.2h0m3.1 38.4h0m7.7 -8.8h0m-7.2 -0.6h0m8.1 -4.9h0m-4.7 7.6h0m17.7 4.1h0m-11.9 -13.4h0m3.4 -6.3h0m-4.7 36.9h0m-0.5 -37h0m7.3 31.6h0m-3.7 -11.3h0m-2.1 2.1h0m-9.5 -9.6h0m6.2 -3.7h0m3.2 -3.6h0m-7.1 19.3h0m8.7 3.8h0m-10.4 -11.3h0m-5.1 -12.7h0m17.2 25.9h0m-11.5 -39h0m-2.2 20.6h0m5.7 3.1h0m-1 5.1h0m2.2 4.9h0m5.8 -15.8h0m-18.2 6.9h0m10.8 -18.8h0m2.3 25.2h0m-5.4 -5h0m6.8 -13.1h0m-3.6 2.6h0m9.1 -7.6h0m-3.1 36.6h0m7.8 -10.8h0m-8.5 6.7h0m-14.4 -23.6h0m14.3 -1h0m5.2 -5.1h0m-1.3 14.5h0m-7.2 -17.5h0" stroke="#fb9a99" stroke-width="0.7" stroke-linecap="square" fill="none"/>
<path d="M74.6 39.5h0m8.9 -6.3h0m-5.4 -3.1h0m-3.3 10.3h0m0.8 -8h0m-2 -0.9h0m6.2 -2h0m-8.2 1.3h0m6.3 -2.1h0m-3.7 5h0m-4.5 3.9h0m11.5 -0.8h0m-14.2 -4.3h0m4.4 -5h0m2.5 6.8h0m3.6 -4.9h0m-3.1 5.3h0m-3 0.1h0m0.1 -1h0m1.1 -3.5h0m0.2 -0.9h0m1.8 5.7h0m-2.8 1.7h0m-0.4 0.2h0m3 -5.7h0m-6.2 1.8h0m8.5 -2.7h0m-2 -2.3h0m-0.4 3.1h0m-2.8 1h0m7.1 -0.1h0m-2.1 1.8h0m-0.8 7.6h0m-2.9 -6.1h0m-2.2 -8.6h0m5.4 7.3h0m-6.2 7.6h0m4.3 -6.9h0m-6.1 2.9h0m2.1 -1.6h0m10.2 -2.6h0m-4.6 -4.3h0m3.2 10.2h0m-4.1 -5.6h0m0.4 2.8h0m-0.9 -2.6h0m1.9 2.6h0m-2.3 -12.5h0m1.9 7.5h0m-3.6 -0.5h0m4.5 -4.1h0m0.1 4.6h0m1.5 6h0m-7.3 -5.5h0m4.5 -2.1h0m-1.9 3.3h0m-1.5 1.2h0m-2.2 -3.7h0m6.8 5.4h0m0.6 -1.4h0m0.8 -6.7h0m0.1 9.7h0m-1.7 -7.6h0m1.5 2.2h0m-7.5 -0.5h0m3 -2.5h0m0.1 -1.7h0m-4.9 0.5h0m3.5 7.3h0m0 -1h0m-1.1 -3.3h0m9.2 9.8h0m-6.2 -14h0m9.3 6.2h0m-7.5 3.6h0m-3.1 -3.6h0m3.7 -0.7h0m-0.1 2.6h0m-7.2 3h0m5.9 -11.6h0m-3.1 12.3h0m4 -7.4h0m-6.2 5.8h0m5.1 -3.9h0m-0.1 -5.9h0m1.2 9.3h0m2.3 0.7h0m0.8 -2.6h0m-6.5 -1.3h0m2.2 -0.5h0m-5.4 -0.7h0m1 4.1h0m7.6 -3.6h0m-2.6 6.9h0m-6.1 -5.7h0m9.4 -3.4h0m0 7.8h0m0.7 -3.8h0m-4.5 -4.1h0m2.4 5.4h0m-4.5 -5.9h0m2.7 3.5h0m-3.4 -0.7h0m5 0.2h0m-3.6 7.7h0m0.7 -0.2h0m0.9 -2.8h0m2 0.8h0m-4.8 -4h0m3.2 -6.3h0m-1.1 1.6h0m2.9 11.7h0m0.6 -3.5h0m-6.3 -3.2h0m7.3 -8h0m-2.7 1.2h0m-0.3 3.1h0m1.7 2h0m-5.5 8.4h0m2.4 -3.3h0m-3.3 -10.1h0m2 -0.3h0m9.4 6.7h0m-8.6 -2.9h0m1.2 7.6h0m4.2 -10.2h0m-5 5.1h0m-5 -2.1h0m5.6 3.8h0m1.8 -2.6h0m2.4 4.2h0m-3.6 -3.9h0m1.4 -2.2h0m-2.4 1.9h0m-6.4 -7.8h0m6.7 9.8h0m-0.9 -2.1h0m0.7 -0.4h0m-2 4.2h0m-2.2 -6.6h0m7 3h0m-5.3 -1.4h0m-0.3 0h0m3.8 8.3h0m-3.3 -3.8h0m0.3 8.3h0m-1.2 -11.5h0m4.3 1h0m3.3 -6.8h0m-2.9 3.1h0m-1.4 6.7h0m2 -6.4h0m-4.1 2.3h0m-5.2 -1.3h0m3.3 -1.8h0m2.7 -0.2h0m10.7 -1.9h0m-16.4 5.7h0m8.7 -5.3h0m-3.8 8.1h0m-1.6 -1.2h0m-0.2 1.4h0m7.1 1.1h0m-2.8 -2.5h0m-0.3 3h0m-1.7 -7.2h0m0.5 9.6h0m2.4 -5.5h0m-4.3 -8.5h0m1.7 9.7h0m10.7 0.2h0m-8 1.3h0m-5 -4.2h0m1.7 -0.8h0m0.2 6.3h0m-0.9 -4.5h0m3.7 -7.2h0m-0.8 8.5h0m-2 -3.1h0m2.7 -0.9h0m-5.1 8.1h0m5.8 -9.4h0m-2.2 -2.8h0m-1.1 6h0m0.1 -4h0m6.7 11.3h0m-5.5 -5.9h0m1.1 -1.4h0m0 6.3h0m-6.6 -7.4h0m5.4 2.1h0m1.8 0.4h0m4.3 -6.3h0m-1.4 9.5h0m-1.8 -2.8h0m-1.8 -4.5h0m-6 -1.3h0m-2.7 -0.1h0m5.7 -0.4h0m4.7 5.8h0m-4.6 -2.1h0m2 -5h0m-3.1 9.7h0m1.2 -4.8h0m5.9 1.2h0m-2.3 3h0m-0.1 -11h0m-5.4 12.8h0m-2.8 -1.4h0m12.2 -7.9h0m-4.4 5.1h0m-0.5 -3.7h0m-1.1 3.8h0m2.4 -9.2h0m-3.1 3h0m-2.3 10.7h0m3.7 -11h0m-6.6 9.8h0m4.7 -8h0m3.7 -2.2h0m-8.1 1.4h0m1.3 -4.3h0m3.8 9.9h0m0 1.1h0m-0.6 -0.7h0m5.6 7.9h0m-10.3 -8.1h0m7.8 3.1h0m0.4 -5.2h0m-0.4 6.2h0m-6 -14.5h0m4 0.3h0m-0.6 7.6h0m-1.4 2.1h0m4.1 -10h0m3.8 -3.6h0m-5.5 9.8h0m1.7 4.8h0m-1.2 0.5h0m-3.1 -5.8h0" stroke="#1f78b4" stroke-width="0.9" stroke-linecap="square" fill="none"/>
<path d="M63.8 48.9h0m-0.4 -2.9h0m2 -0.5h0m-2.9 -1.6h0m1.5 -4.4h0m3.5 7.9h0m1.1 -3.2h0m-2.1 3.2h0m4.4 -4.7h0m-11.5 4.4h0m12.2 -4.8h0m-2.2 -1.2h0m1.9 4.3h0m-4.7 -2.4h0m-0.3 6.6h0m0.2 -2.2h0m2.6 -6.7h0m-0.5 6.6h0m-8.3 -3.6h0m9.7 2.4h0m-3.6 -1.6h0m6.2 1h0m-3.8 8.6h0m0.5 -7.9h0m-9.2 -2.2h0m10.7 -2.5h0m-6.5 6h0m-8.9 -4.2h0m14.1 9h0m-6.1 -11.1h0m6.1 -1.6h0m6.9 3h0m-10.4 -0.5h0m4.4 3.1h0m0.7 -3.3h0m-12 8.3h0m7.1 -7.8h0m-5.5 1.5h0m1.7 -1.1h0m4.6 -3.8h0m-7.4 9.4h0m4.5 -5.6h0m3 -3.1h0m2.1 1.4h0m-1.6 -2.5h0m-2.3 9.7h0m3.7 -10.1h0m1.7 11.8h0m-10.4 -4.3h0m5.4 4.2h0m4.9 -3h0m-2.5 -1.8h0m-5.1 0.1h0m4.4 -1.4h0m2.8 7.3h0m-4.8 -3h0m5.2 2.5h0m-5.6 -8.2h0m-1.4 -6.5h0m5.2 10.9h0m3.4 -1.8h0m-8.3 -2.8h0m4.4 -0.3h0m-5 1.8h0m11.6 3.9h0m-7.9 -9.2h0m-0.1 6.3h0m4.8 0.5h0m-4.7 -2.4h0m-3.9 4.3h0m5.4 -7h0m-2.4 8h0m1.2 -7.5h0m-0.7 3.8h0m-0.6 -3h0m3.4 4.2h0m0.3 -4.5h0m1.1 5h0m-5.4 -3.3h0m1.6 3.5h0m2.6 -5.5h0m-1.7 0.3h0m3.8 7.6h0m-10.7 -5.4h0m2.5 -3.1h0m9.2 6.9h0m-4.4 -2.7h0m-1 0h0m9 -1h0m-10.9 -1.4h0" stroke="#1f78b4" stroke-width="0.9" stroke-linecap="square" fill="none"/>
<path d="M62.2 28.3h0m16.5 11.2h0m-4.7 -16h0m8.7 11.2h0m-8.1 -11.4h0m5.3 19.2h0m-6.2 0.5h0m-6.7 -19.4h0m-1.9 0.9h0m8.6 18h0m0.3 0.1h0m7.1 -7.9h0m0.2 4h0m-5.5 5.2h0m5 -5.2h0m-4.5 0h0m-14.5 -5.2h0m20.9 -3.1h0m-5.8 12.1h0m-5.2 -20.3h0m8.2 19h0m-10.1 -18.7h0m-8.8 13.1h0m13.9 6.2h0m-7.1 2h0m-5.8 -16.5h0m0.6 8.4h0m17.5 -10.3h0m-6.6 -1.4h0m4.3 17h0m-0.5 -17.1h0m-1.1 1.5h0m-14.2 3.2h0m12.4 13.9h0m7.5 -13.1h0m-6.4 -4.9h0m-12.6 18.8h0m0.6 -3.6h0m19.7 -2.6h0m-2.3 -9.9h0m-14.9 -2.8h0m-1.1 4.3h0m-2 -2.6h0m7.4 18.9h0m12.8 -11.6h0m-0.9 -2.2h0m-12.4 -7.9h0m-1.4 21.2h0m9.6 -3h0m3.9 -12.6h0m-5.6 13.6h0m-3.8 -19h0m-10.3 9.3h0m2.8 9.9h0m1.4 0.5h0m4 0.7h0m10.7 -4.2h0m-9.6 5.4h0m10.8 -13.5h0m-15.5 11.8h0" stroke="#a6cee3" stroke-width="0.7" stroke-linecap="square" fill="none"/>
<path d="M92.5 83.1C93.4 81.5 95.3 81.1 96.9 80.9C98.4 80.8 100.7 80.9 101.8 82C103 83.1 103.6 85.6 103.7 87.5C103.8 89.4 103.2 92.1 102.4 93.5C101.5 95 100 95.9 98.5 96.3C97.1 96.6 94.8 96.6 93.6 95.7C92.4 94.8 91.6 92.9 91.4 90.8C91.2 88.7 91.6 84.8 92.5 83.1Z" fill="#7b6cc0" />
<path d="M102.6 94.2h0m-5.8 2.1h0m-5.6 -7.7h0m0.9 -5.5h0m1.6 11.8h0m-1.6 -7.4h0m4.6 8.7h0m-2.2 -12.5h0m4.1 -3.1h0m4.6 7.3h0m-6.3 -7.1h0m-4.8 13.5h0m-1.8 -5.1h0m8.9 -10.1h0m-0.1 1.3h0m-7.6 3.7h0m7.2 12.2h0m-3.2 -15.7h0m-5.2 8.9h0m11.2 0.7h0m-7 2.7h0m1.1 -10.3h0m5.9 10.2h0m-4.6 -14.3h0m1.9 3.1h0m-0.9 -1.9h0m2.7 15.7h0m-0.6 -5.2h0m3 -4.6h0m-1.6 -2.2h0m-9.9 1.5h0m9.7 4.9h0m-6.4 -10.2h0m7.8 2.2h0m-5.3 -3.9h0m-6.3 12.5h0m10.7 1h0m-7.8 -4.4h0m10.4 -1.2h0m1.2 -1.3h0m-11.3 -3.8h0m-2.8 -0.9h0m9.7 12.8h0m-4.7 -13.5h0m7.5 9.8h0m-1.1 4.6h0m-1.5 1.1h0m-2.9 -13.6h0m7.5 12.9h0m-11.1 -0.8h0m3.6 -10.9h0m-6.3 13.3h0m8.2 -14.1h0m4.9 5.8h0m-16.3 0.6h0m2.4 3.2h0m12.8 -2.2h0m-9.6 8.5h0m1.4 -0.4h0m4.1 -14.2h0m-4.6 13.4h0m-0.4 -12.8h0m-5.3 5.7h0m2.1 -2.4h0m-0.9 1.4h0m11.6 -1.6h0m-8.8 5.2h0m-3.9 -2.8h0m9.3 10.2h0m-7.8 -4.3h0m13.7 -4.2h0m-13.9 3.8h0m7.6 2h0m4.2 -7.7h0m-10.5 4.1h0m12.8 -4.1h0m-1.4 -0.4h0m-1.2 2.9h0m-3 -5.8h0m3.3 -1.3h0m-7.6 -1.2h0m6.7 0.6h0m-8.2 -0.6h0m1.8 1h0m-3.1 5.7h0m4.7 -8.1h0m7.8 8.3h0m-3.6 4.4h0m1.2 -2.8h0m-1.1 3.8h0m-7.9 -10.2h0m-1.9 3.7h0m0.5 -2.3h0m3.2 9.6h0m5.5 -11.6h0m1.3 -1.8h0m-7.9 -0.5h0m0.2 12.8h0m-1.6 -0.9h0m4.2 -14.2h0m2.5 14.5h0m-7.8 -3.5h0m11.4 -9.9h0m-12.2 1.8h0m12 -0.6h0m-0.2 1h0m-3.4 -0.8h0m-8.1 9.5h0m12.9 0.6h0m-4.5 -9.6h0m-4.8 8.1h0m9.3 -0.3h0m-10.9 -6.8h0m0.5 12.9h0m3 -17.3h0m6.1 12h0m-4.4 -8.3h0m2.2 13.5h0m4.9 -6.2h0m-3.1 0.8h0m-9.3 -3.7h0m-0.1 10.7h0m5.4 -1.6h0m0.3 1.8h0m-1 -4.5h0m3.3 2.4h0m-4.6 0.1h0m-3.1 -4.4h0m-0.8 -5.1h0m3.1 -5.6h0" stroke="#7b6cc0" stroke-width="0.7" stroke-linecap="square" fill="none"/>
<path d="M81 86.4C81.1 85.9 83.2 87.4 84.3 88.6C85.4 89.8 86.4 92.4 87.6 93.5C88.8 94.7 89.3 95.3 91.4 95.4C93.5 95.5 96.9 93.9 100.2 94.1C103.5 94.2 108.5 94.8 111.1 96.3C113.7 97.7 115.5 101 115.7 102.8C116 104.7 114.1 106.9 112.4 107.4C110.8 108 108.2 107.1 105.7 106.4C103.1 105.6 99.3 104 96.9 103.1C94.5 102.2 93.2 101.4 91.4 100.9C89.6 100.3 87.6 99.9 85.9 99.8C84.3 99.7 81.9 100.4 81.8 100.1C81.7 99.8 84.5 98.6 85.4 97.9C86.3 97.3 87.3 97.3 87 96.3C86.8 95.3 84.8 93.5 83.8 91.9C82.8 90.3 80.9 87 81 86.4Z" fill="#a9a9a9" />
<path d="M84.7 97h0m1.7 -5.8h0m23.1 15h0m6.9 -1.4h0m-23.1 -3.7h0m-6.4 -8.4h0m-0.2 -1.2h0m27.4 12.1h0m-31.4 -11.9h0m15.9 12.9h0m17.9 -2.1h0m-32.3 -3.9h0m6 2.6h0m0.5 -6.1h0m2.8 7.1h0m-7.6 -12.6h0m8.2 13.2h0m14.2 5.9h0m-23.3 -15.5h0m26 3.9h0m-28.9 -9.7h0m1.4 3.2h0m31.2 14.3h0m0.4 -4h0m-33.2 -13.2h0m4.5 2.4h0m11.9 13.7h0m-11.6 -13.3h0m-4.5 10.2h0m32.6 5.1h0m-24.6 -5.1h0m21.3 -1.4h0m-24.1 -5.2h0m-7.2 -7.7h0m10.7 8.3h0m-8.8 5.7h0m30.9 -0.7h0m-15.1 3.6h0m-16.3 -4.5h0m15.3 3.8h0m12.1 5.5h0m-22.6 -8.8h0m-3.7 0h0m4 -3.6h0m28.9 9.9h0m-28.4 -9.7h0m0.7 0.4h0m-2.1 2.8h0m23.3 -6.7h0m-26.1 6.6h0m18.8 5.6h0m4.9 0.5h0m-18.1 -6.1h0m7.2 6.1h0m-10.1 -5.5h0m0.3 -0.7h0m28.9 5h0m-30 -13.8h0m19.7 3.8h0m4.7 3h0m-26.3 3h0m3 -6.7h0m-6.5 -6.4h0m6.7 4.7h0m6.3 2h0m-8.6 6.7h0m32.3 -1.7h0m-18.2 -4.8h0m-14.2 3.4h0m0.2 0.5h0m26.7 11.5h0m-18.8 -13.4h0m-9.6 -8.7h0m7.5 7.7h0m-7.9 -2.5h0m31.8 15.4h0m-12.9 -13.3h0m-8.4 6.2h0m-7.8 -8.5h0m5 3.4h0m17.9 13.4h0m-19.7 -12.7h0m5.6 -2.4h0m-11.3 6.6h0m31.8 5h0m2.1 -3.2h0m-3.9 -0.7h0m-20.9 -9.1h0m17.8 5.3h0m-13 -1.7h0m-9.8 3.8h0m-1.3 -6.2h0m4.8 6.9h0m6.9 2.3h0m-15.6 -2.7h0m3.6 -5.4h0m7.7 7.3h0m11.1 -7.4h0m-20.2 6h0m22.9 6.7h0m-4.3 -1.1h0m-21 -18.3h0m5.8 6h0m26.7 11.3h0m1.4 -5.8h0m-30.3 -11h0m1.1 3.8h0m7.4 2.8h0m-4 0.1h0m19.9 11.8h0m-8.6 -2h0m-0.3 -11.2h0m3.9 11.4h0m-17.7 -6h0m-2.4 2.1h0m0.8 -1h0m18.8 -6.3h0m-21.5 -7.5h0m4.4 5h0m-0.3 5.2h0m15.2 -1.6h0m-15.2 4.4h0m1 -5h0m26 12.3h0m-11 -12.3h0m-8.3 -0.3h0m20.6 7.2h0m1.4 0.6h0m-1.5 -2.3h0m-28.1 -8.4h0m26.9 6.9h0m-24 -1.4h0m-3.1 -4.3h0m-6.3 -4.8h0m2.7 11.5h0m5.6 -2h0m-4.5 3h0m31.9 3.6h0m-4 -6h0m-24.1 0.1h0m-0.3 -8.4h0m8.2 11.8h0m-10.5 -3.2h0m10.4 5.5h0m14.6 4h0m-28 -7.9h0m7.2 -3.9h0m1.6 5h0m12.5 -6.1h0m13.6 9.6h0" stroke="#a9a9a9" stroke-width="0.7" stroke-linecap="square" fill="none"/>
<path d="M114.4 97.4C115.1 95.5 117.3 94.2 118.8 93C120.3 91.8 121.8 90.1 123.2 90.3C124.6 90.4 126.2 92.7 127.1 94.1C128 95.5 128.9 97 128.8 98.5C128.7 99.9 127.4 101.6 126.5 102.8C125.5 104.1 124.5 105.4 123.2 106.1C121.9 106.9 120.2 107.8 118.8 107.4C117.4 107.1 115.7 105.6 115 103.9C114.2 102.3 113.8 99.2 114.4 97.4Z" fill="#cab2d6" />
<path d="M128.2 96.9h0m-6.8 9.7h0m-5.3 -9.9h0m4.9 10.6h0m-4.3 -13.9h0m-2.8 7h0m15.3 -2.4h0m-14.4 6h0m13.1 -4.1h0m-6.4 7.4h0m6.5 -5.9h0m-7.6 5.3h0m6.5 -6.9h0m-4.6 -8.8h0m-2.6 1h0m6.7 13h0m-3.1 -13.7h0m0.6 0.8h0m-9.1 5.2h0m11.1 6.3h0m-8.2 2.7h0m5.2 -1.5h0m1.3 -13.2h0m2.6 14.6h0m2.2 -10.6h0m-2 3.8h0m0.4 -4.8h0m-2.3 -4.2h0m2.4 5h0m1.2 0.6h0m-2.9 5.7h0m-2 -11.5h0m3.5 4.6h0m-1.1 -2h0m-1.2 -1h0m5.2 3.8h0m-10.5 13.1h0m-6.9 -5.8h0m2.8 -4.9h0m11.7 3.5h0m-10.6 3.5h0m10.2 -9.9h0m-10.7 1.2h0m10.6 0h0m-12.4 3.8h0m3.2 -6h0m-3.3 5.9h0m13.1 -3.2h0m-0.8 -4.4h0m-9.8 2.6h0m14.3 4.6h0m-9.7 8.1h0m6.7 -11.3h0m-10.4 10.6h0m5 -0.5h0m6 -10.3h0m-8.9 12.8h0m2.3 -2.2h0m3.1 -3.1h0m0.1 -12.5h0m2 13.6h0m-10.3 2.6h0m7.7 -4.9h0m-4.5 1.8h0m7 -9.6h0m-1.1 0.8h0m-11.7 1.3h0m2.6 -1.8h0m10.1 -2.3h0m-0.8 2h0m-3.9 12h0m-5.7 -5.5h0m7.6 5.5h0m3.5 -7.1h0m-3.4 5.3h0m-8.6 -4.5h0m4.4 -6.4h0m6.4 8.3h0m-3.4 -12.2h0m-3.5 2.5h0m8.3 2.9h0m-4.9 -4.7h0m3.2 12.9h0m-9.1 -9.8h0m12.9 5.2h0m-10.7 8.3h0m-2.6 -11.7h0m-1.1 7.6h0m7.4 -14.1h0m4.5 4.7h0m-13 1.6h0m13.2 2.1h0m0.4 -3.4h0m-10.6 11.9h0m-0.8 -12.7h0m12.7 5.3h0m-3.1 4.1h0m-7.3 3.4h0m4.6 2.1h0m1.1 -6.2h0m0.1 -9.6h0m2.8 9.7h0m-1.4 -2.1h0m-1.9 5.7h0m-8.5 -10h0m14.4 4.6h0m-4 -7.6h0m-3.8 -2.6h0m-7.9 7h0m-1 6.1h0m2.4 -10.4h0m6.6 12.8h0m-1.1 -0.2h0m4.9 0.1h0m-8.1 1.9h0m6.4 -2.1h0m1.2 -2.5h0m0.3 -8.7h0m-4.2 12.9h0m-3.9 -13.5h0" stroke="#cab2d6" stroke-width="0.7" stroke-linecap="square" fill="none"/>
<path d="M131.9 102C132.5 100.7 135 98.1 136.1 98.2C137.2 98.4 138 101.2 138.5 102.8C139 104.5 139.3 106.8 139.2 108.3C139 109.8 138.3 111.3 137.4 111.7C136.5 112.1 134.4 111.6 133.6 110.6C132.8 109.7 132.8 107.6 132.5 106.1C132.2 104.7 131.3 103.3 131.9 102Z" fill="#6a3d9a" />
<path d="M135.6 97.4h0m0.3 13.7h0m4.6 -4.3h0m-5.5 6.4h0m4.2 -0.4h0m-7.1 -11.4h0m2.4 10.2h0m-2.2 -3.2h0m5.4 -3.9h0m1.9 5.6h0m-7.7 -7.6h0m1.1 1.4h0m5.4 0.7h0m1 5.8h0m-1.1 -4.9h0m-6.6 -5.2h0m4.6 11.8h0m0.8 -13.9h0m-4.1 2h0m5.2 1h0m-0.3 1.4h0m-4.8 3.8h0m5.4 -0.4h0m-4 5.3h0m-0.8 -11h0m6.6 9.9h0m-6.5 -1.6h0m-2.1 -3.3h0m0.9 1.9h0m7 -4.1h0m-3 -2.4h0m2 1.7h0m-6.5 0.7h0m5.6 -1.5h0m-6 2.4h0m2.8 2.6h0m3.9 0.4h0m-4.9 3.4h0m1.3 -11.6h0m4.8 9.8h0" stroke="#6a3d9a" stroke-width="0.7" stroke-linecap="square" fill="none"/>
<path d="M134.7 79.3C135.4 78.2 137.2 77.3 138.5 77.6C139.8 77.8 141.8 79.5 142.4 80.9C143.1 82.4 142.9 84.8 142.4 86.4C142 88.1 140.6 90.5 139.6 90.9C138.6 91.3 137.4 89.9 136.5 88.8C135.6 87.7 134.4 85.8 134.1 84.2C133.8 82.6 133.9 80.4 134.7 79.3Z" fill="#e6761e" />
<path d="M135.6 87.7h0m-0.6 -0.2h0m7 -0.6h0m-0.4 -2.7h0m-5.9 -2h0m-0.4 -2h0m1.7 6.5h0m-0.6 0.5h0m-2.4 -5h0m3.6 5.7h0m-3.1 -8.1h0m6.1 9.6h0m-4.7 -11.9h0m4.1 9.3h0m-2.5 -9.4h0m0.8 12.1h0m4.6 -8h0m-2.6 -2.4h0m2.8 8.8h0m-4.3 -9.4h0m-6.1 6.8h0m2.9 2.9h0m4.2 -9.6h0m-5.3 1.1h0m1.9 -0.7h0m-0.6 7.9h0m3 -9.9h0m-1.7 9.8h0m4.5 -3.7h0m-6.2 1.7h0m4.2 6h0m-4.3 -12.9h0m7.2 7.4h0m-4.4 -6.8h0m4.5 6.4h0m-2.9 -5.6h0m-4.7 2.6h0m0.5 -0.7h0m-1.6 0.7h0m5.9 8.6h0m-1.6 -13.1h0m-2 12.7h0m2.8 -12.7h0m0.8 12.1h0m1 -10.9h0m-5.3 -0.6h0m2.6 11.1h0m2.8 -12.5h0m-6.4 6.2h0m3.4 -5.6h0m1.3 11.9h0m3.1 -0.2h0m-3.8 -10.5h0m-4.2 -0.1h0m0.5 7.9h0m-1.4 -7.3h0m0.3 0.7h0m5.1 -1.6h0m-1.8 12.4h0m6 -9.4h0" stroke="#e6761e" stroke-width="0.7" stroke-linecap="square" fill="none"/>
<path d="M133.6 91.4h0m1.1 -3.6h0m1.2 2.4h0m-0.3 5.7h0m-0.1 -10.5h0m2.1 9.6h0m-1.9 -0.6h0m-0.4 -2.6h0m-0.9 0.3h0m0 1.1h0m0.7 -2.4h0m3.5 2.2h0m-2.8 -3.1h0m0.6 -0.7h0m-2.3 1.1h0m2.4 6.2h0m-2.3 -1.4h0m2.9 -2.5h0m-3.2 -3.6h0m2 3.3h0m-4.1 2.4h0m5.1 -4.3h0m0.5 0.3h0m-3.2 3.4h0m2.1 -0.9h0m-0.3 5.8h0m-3 -6h0m1.8 -6.4h0m-1 7.4h0m-1.2 0.4h0m4.5 0.4h0m-1.1 -2.5h0m-1.7 -0.2h0m1.3 3.4h0m-3.7 -3.1h0" stroke="#e6761e" stroke-width="0.8" stroke-linecap="square" fill="none"/>
<path d="M106.8 113.8C107.7 112.5 110.2 110.8 112.2 110.5C114.2 110.2 117 112.4 118.8 111.8C120.6 111.3 121.7 107.6 123.2 107.2C124.7 106.8 126.6 108.3 127.7 109.4C128.8 110.5 130.1 112.2 129.9 113.8C129.7 115.4 127.9 117.6 126.5 119.3C125 120.9 122.4 122.2 121 123.7C119.5 125.1 119 127.6 117.7 128.1C116.4 128.7 114.6 128.2 113.3 127C112 125.9 111.1 122.9 110 121.5C108.9 120 107.3 119.5 106.8 118.2C106.2 116.9 105.8 115.1 106.8 113.8Z" fill="#8b0a0a" />
<path d="M105.4 118.7h0m6.5 3.7h0m6.8 -11.5h0m8.9 8.2h0m-18.4 -4.3h0m5.7 -3.5h0m-7.2 13.3h0m5.4 -12.7h0m11.3 6.2h0m-3.9 3.9h0m7.7 -1.8h0m-20.7 1.4h0m13.1 3.6h0m-12.9 -12.5h0m8.2 12.3h0m2.5 -12.8h0m7.8 2.5h0m-6 11.8h0m-9.7 -14.6h0m-1.7 6.9h0m19.8 -4.6h0m-8.9 -1.9h0m-9.5 9.5h0m-3.7 -2.4h0m23.3 -11.7h0m-0.2 3.9h0m-7.3 -2.9h0m1.5 -3.1h0m-17.8 12.4h0m20.7 1.3h0m-4.4 7.3h0m-0.3 -18.5h0m-15.2 7.7h0m-1.7 0.8h0m14.6 -4.8h0m4.4 7.5h0m-11 -10.5h0m-7 4.5h0m0.1 7.5h0m13.1 3.8h0m-1.4 -16.3h0m-11.1 3.9h0m21.8 1.9h0m-21.5 4.7h0m16.4 -9.8h0m-4 15.3h0m-7 -14.8h0m9.5 -3h0m-5.7 5.5h0m10.5 -0.6h0m-20.6 3.2h0m15.7 -4.2h0m8.1 2.8h0m-24.4 3.2h0m-0.3 -0.1h0m24.5 -2.4h0m-24 1.4h0m23.6 -4h0m-10.5 0.5h0m10.2 6.9h0m-7.8 -10.3h0m-11.7 14.7h0m10 -13.4h0m-13.3 3.7h0m21.6 -2.8h0m-8.7 11.7h0m-11 -1.9h0m6.7 -9.7h0m15 5.1h0m-24.3 -1.3h0m6.7 13h0m-3.4 -12.6h0m20.7 -4.2h0m4.5 2.7h0m-14.3 11.5h0m10.3 -13.8h0m-21.7 10.1h0m2.7 -10.3h0m0.2 -1.1h0m14 12.7h0m4.1 -4.3h0m-17.3 -7.9h0m15.9 6.6h0m-6.5 -5h0m5.1 10.9h0m-1 -3.4h0m-11.2 7.3h0m-5.8 -12.4h0m5.2 14.9h0m3.2 -0.4h0m-10.3 -11.5h0m2.5 0.4h0m6.9 9h0m-6.4 -15.9h0m2 17.5h0m-0.7 -17.4h0m12.1 -4.4h0m6.5 6.7h0m-18.4 -3.7h0m3.2 17.7h0m-1.4 -1.5h0m15.5 -9.1h0m-18.9 -4.6h0m-2.9 8.1h0m22.9 -7.1h0m-11.2 0.1h0m3.2 8.7h0m5.1 -9h0m-19.7 -0.1h0m12.2 -1.8h0m-9.5 2.2h0m14.9 -4.7h0m-1.3 11.7h0m-14.3 2.4h0m12.5 0.7h0m-10.1 -13.7h0m18.7 -0.8h0m-14.4 -0.7h0m-8.7 6.7h0m3.7 -4.8h0m-1.4 8.1h0m-1.9 -1.1h0m-2.2 -4.5h0m3.9 -2.3h0m20.5 5.6h0m-5.9 2.7h0m2.4 -10.7h0m1 1.7h0m-12.8 20.5h0m-5.6 -13.5h0m14.8 -7.4h0m2.6 10.2h0m-6.3 3.3h0m-8 3.7h0m13.1 -17.8h0m-10 4.9h0m-5.8 4.9h0m11.2 12.6h0m-6 -18.9h0m-6.2 9.3h0m16.7 -3.5h0m-4.4 -4.8h0m4.8 3.6h0m-15.9 7h0m4.7 3.3h0m-7.5 -6.7h0m22 -1.2h0m-20.9 -2.2h0m7.9 12.9h0m-7.8 -16.5h0m22.1 -2.5h0m-17.3 15.1h0m10.6 1.2h0m-13.5 -6h0m14.8 -12.6h0m-4.3 16.8h0m-13 -4.8h0m20.5 -11h0m-22.1 7.2h0m10.1 -5.6h0m9 -0.4h0m-12.7 14.7h0m8.4 -13h0m-3.1 15.7h0m-8.5 -14.6h0m8.8 16.1h0m3.5 -18.3h0m-0.4 -3.2h0m-5.7 18.9h0m12.3 -15.5h0m-1.8 -2.6h0m-2.5 11.2h0m-13.6 -1.4h0m-1.4 -1.9h0m-1.3 2.2h0m16.9 -11.9h0m-0.2 13.8h0m-2.5 3.7h0m-0.4 -13.4h0m-12.9 10.5h0" stroke="#8b0a0a" stroke-width="0.8" stroke-linecap="square" fill="none"/>
<path d="M134.5 97h0m-2.4 -0.3h0m1.2 -5.1h0m-2 5.9h0m0.4 -5.5h0m0.2 2.7h0m1.2 2.1h0m1.1 -0.2h0m3.3 3.4h0m-4.9 -0.2h0m1.1 -4h0m-0.5 -1.6h0m3.6 6.7h0m-2.1 -0.4h0m-0.4 -6h0m0.4 0.4h0m0.8 6.1h0m2.4 -5.6h0m-3.1 -1.4h0m-7.5 0.9h0m6.6 2.6h0m0.5 -5.1h0m-0.2 3.6h0m-1 0.7h0m3.2 -3.7h0m-2.7 3.1h0m4.7 -0.1h0m-2.7 -0.4h0m-2 0.7h0m-7.5 1.6h0m4.2 -0.6h0m4.4 -1.1h0m1.3 1.6h0m-5.5 -1.3h0m1.6 -2h0m4.6 2.2h0m0 4.9h0m-6.9 -3.9h0m5.1 -1.4h0m-1 0.6h0m1.5 -0.6h0m1.7 -5.3h0m-1.5 4.8h0m-6.2 0.9h0m2.8 -2.6h0m4.8 1.7h0m-1.7 2h0m-3 -2.3h0m-1.3 -0.7h0m4.7 0.8h0" stroke="#8b0a0a" stroke-width="0.8" stroke-linecap="square" fill="none"/>
<path d="M125.8 100.3h0m3.4 2.4h0m-1.7 -5h0m0.4 -0.5h0m8.3 2h0m-11.3 -3.2h0m5.7 4h0m-7.3 -1.4h0m5.6 3.4h0m-1.4 -6.1h0m5.8 5.3h0m-6 -2.3h0m4.2 2.4h0m-4.3 -1.9h0m-2.7 -0.6h0m1.7 -0.3h0m1.5 1.4h0m-0.8 -4.3h0m1.1 2.8h0m1.1 1.7h0m1.9 -6.7h0m-3.6 10.1h0m-1.6 -4.7h0m4 -0.8h0m-7.2 8.9h0m1.4 -7.2h0m3.1 3.6h0m-0.4 -9h0m-0.2 6.2h0m3.3 3h0" stroke="#8b0a0a" stroke-width="0.8" stroke-linecap="square" fill="none"/>
<path d="M126.3 109.2h0m4.1 -10h0m-0.3 5h0m-2.4 2.3h0m5.6 -2.1h0m-5.4 -3.5h0m1.3 5h0m0.3 -0.6h0m-2.8 -2.1h0m6.5 2.7h0m-6.3 -2h0m5.7 -0.4h0m-2.4 -1.2h0m-5.8 -0.5h0m6.3 1.1h0m0.1 0.5h0m-1.6 1.5h0m-1.9 -0.6h0m6.6 -0.3h0m-3.1 2.3h0m-0.8 2.4h0m2.2 -7.2h0m-3.4 0.7h0m-2 3.1h0m3.4 -0.4h0m-1.6 -2.1h0m-0.5 4.3h0m2.1 0.3h0m-2.6 -1.3h0m-1.4 -2.9h0m4.6 -0.7h0m0.6 2.8h0m-4.8 -0.6h0m-1.3 3.8h0m4.6 -4.3h0" stroke="#33a02c" stroke-width="0.8" stroke-linecap="square" fill="none"/>
<path d="M130.2 106.8h0m-4.1 -3.7h0m-5.1 -1.3h0m10 6.4h0m3.2 -8.4h0m-5.1 7.2h0m6.9 -4.7h0m-2.7 -2.6h0m-6.1 4.3h0m-2.1 -0.7h0m-1.5 6.7h0m0.3 -0.8h0m3.6 -5h0m4.3 -5.3h0m-3.5 4.9h0m-2.4 0.5h0m2.9 1h0m4.2 -0.3h0m-14.1 0.1h0m12.7 -3.9h0m-0.5 4.7h0m0.2 -1.7h0m-3.2 3.5h0m0.4 -3h0m-2.4 -0.8h0m-3.8 -0.7h0m3.2 -4.8h0m4.6 7.1h0m-7 3.6h0m5 -5.8h0m2 6.9h0m-1 -0.9h0m-1 -1.2h0m2.8 -5.9h0m-6.1 4.6h0m1.5 -3.1h0m5.5 0.5h0m-5.2 3.8h0m-7.7 1.6h0m14.6 -1.3h0" stroke="#fff" stroke-width="0.8" stroke-linecap="square" fill="none"/>
<path d="M93.6 102.2h0m2.3 3.7h0m2.2 4.6h0m2.3 1.1h0m-11.3 -2.6h0m21.7 3.8h0m-7.4 -7h0m0.9 1.3h0m4.9 -0.9h0m-8.4 -3.9h0m-2.4 4.1h0m-6.4 -3.6h0m15.5 2.9h0m-11.7 -0.4h0m0.6 -0.4h0m5.7 0h0m-5.3 6.8h0m5.1 -2.6h0m-4.7 2h0m0.7 -2.1h0m2.5 -1.7h0m2.9 -2.1h0m3.4 5.2h0m-9.4 3.9h0m-4 -10.1h0m20.6 9.2h0m-3.2 -5.1h0m-13.4 -0.6h0m2.3 4.5h0m5.6 0.7h0m-2.5 -5.5h0m-3.1 1.7h0m2 -1.5h0m-4.3 1.6h0m8.6 4.4h0m9.8 -2.4h0m-9.2 -9h0m-9.9 10h0m3 -2.4h0m6.2 -0.4h0" stroke="#7b6cc0" stroke-width="0.8" stroke-linecap="square" fill="none"/>
<path d="M89.2 133.5C89.9 131.9 92.2 129.3 93.6 126.9C95.1 124.6 96.4 121.1 98 119.3C99.6 117.4 101.8 116 103.5 116C105.1 116 106.6 117.8 107.8 119.3C109.1 120.7 110.4 123.1 111.1 124.7C111.9 126.4 112.9 127.5 112.3 129.1C111.8 130.8 109.5 133.1 107.8 134.7C106.2 136.3 104.6 137.8 102.4 138.5C100.2 139.3 96.8 139.4 94.7 139.1C92.6 138.8 90.7 137.7 89.8 136.8C88.9 135.9 88.6 135.1 89.2 133.5Z" fill="#fdbf6f" />
<path d="M92.8 140.1h0m16.1 -17.7h0m-15.8 2.5h0m20 2.8h0m-7.2 6.7h0m-12 4.6h0m19.6 -13h0m-21.7 0.2h0m12.5 10.8h0m-1.8 0.6h0m7 -11.9h0m-3.1 -7.8h0m-9.8 19.7h0m1 -1.4h0m2.6 -18.2h0m-9.4 13.8h0m17.3 3.7h0m-3.6 -19.3h0m-11.6 21.4h0m6.5 -19.2h0m12.1 11.2h0m-22.2 6.7h0m16.3 -1.7h0m0.9 0.8h0m-14.2 -8.1h0m0 -1.2h0m3.6 -2.4h0m-6.6 9.7h0m8.5 5h0m-0.2 -17.6h0m-4.9 6.4h0m12.1 -8.5h0m0.3 -1.6h0m4.7 3h0m-15.6 18h0m-3.4 -8.8h0m1 9.4h0m15.3 -3.3h0m4.8 -7.4h0m-18.6 10.4h0m10.1 -21h0m0.8 -1.5h0m-0.9 1h0m-0.4 -2.2h0m7.6 19.2h0m-5.8 1h0m-7.7 3h0m11.1 -20.8h0m-15.8 17h0m7.7 -15.8h0m11.8 4.2h0m-5.2 15.1h0m-1.4 -1.1h0m5.2 -6.8h0m2.3 1.1h0m-24.1 6h0m20.2 -2.8h0m-16.7 -7.5h0m21.5 5.3h0m-2.1 -0.4h0m-1.7 -7.6h0m1.2 7.3h0m-23.2 0.7h0m9.3 -13h0m10.8 2h0m-4.7 -2.3h0m-13.3 15.2h0m10.3 6.1h0m9.9 -13.4h0m3.1 1.4h0m-22.5 8.1h0m14.6 -1.6h0m-3.7 4.3h0m-12.2 -5.5h0m9.7 -12.8h0m-8.6 13.7h0m23.2 -2.6h0m-20.6 -2.9h0m10.5 -11.6h0m-10.9 23h0m14.6 -18.6h0m-17.8 10h0m21.5 -5.3h0m1.4 2h0m-14.5 -8.9h0m-7.4 13.4h0m13.3 -13.8h0m-13.7 18h0m17.6 -17.4h0m-16.3 10.7h0m19.4 4.4h0m-22.1 1.7h0m16.3 1.9h0m-13.6 0.3h0m4.8 0.6h0m7.5 -21.2h0m3 17.6h0m-8.7 3.8h0m7.1 -20.2h0m-15.2 18.1h0m22.6 -7.4h0m-5.1 3.7h0m-17.9 0.7h0m18.1 -17.8h0m-17.2 17.7h0m8.4 -17.2h0m2.1 25.2h0m9.9 -13.6h0m-18.8 -1.2h0m19.5 -0.3h0m-3.7 8.9h0m0.2 -17.3h0m-18.2 11h0m16.3 -9.8h0m-10.2 8.5h0m10.8 -10.5h0m-15.6 19.5h0m16.6 -4.9h0m-5.2 -12.4h0m-13.1 17.6h0" stroke="#fdbf6f" stroke-width="0.7" stroke-linecap="square" fill="none"/>
<path d="M97.5 108.5h0m2.4 1.8h0m3 6.8h0m-3.5 -4.3h0m0.4 -3.5h0m2 2.7h0m-2.7 2.7h0m-1.6 -1.5h0m0.4 3.7h0m3.2 -7.6h0m4.4 -1h0m-5.6 4.3h0m0.5 -1.7h0m-0.8 0.5h0m0 4.1h0m0.4 -2.3h0m2.5 2.6h0m-2.9 -1.9h0m-0.9 -3.2h0m4.2 2.8h0m-2.5 2h0m-1.1 -4.3h0m3.5 0.5h0m2.9 -0.1h0m-1 1.1h0" stroke="#fdbf6f" stroke-width="0.8" stroke-linecap="square" fill="none"/>
<path d="M108 38.5C108.8 37.8 111.2 37.8 113 37.8C114.8 37.8 117.9 37.7 119 38.6C120.1 39.5 119.5 41.2 119.8 43C120.1 44.8 121.3 48.6 121 49.3C120.7 50 119 47.7 118 47C117 46.3 116.2 45.2 115 45C113.8 44.8 112.1 46 111 45.5C109.9 45 108.8 43.2 108.3 42C107.8 40.8 107.2 39.2 108 38.5Z" fill="#e31a1c" />
<path d="M119.6 48.5h0m-10.3 -4.9h0m11.4 3.3h0m-1 -4h0m-4.1 -5.9h0m0.3 8h0m-1.9 0.2h0m5.7 -2.7h0m-6.7 2.2h0m7.9 -1.2h0m-11.2 -4.7h0m11.2 5.5h0m-1.5 3.5h0m-9.6 -10.6h0m10 11.5h0m-11.4 -11.4h0m9.5 9.1h0m3.5 2.4h0m-11.5 -4.4h0m9.1 -2.2h0m-3.9 -4.9h0m-2.5 6.6h0m6.7 -2.4h0m-1.2 6.5h0m-3.1 -10.4h0m3.1 9.1h0m1 -8.5h0m-2.4 -0.6h0m-4.3 8.1h0m-3.5 -3.5h0m-0.7 2h0m-1.2 -3.5h0m0.2 2.1h0m5.1 3.1h0m-2.7 -1.1h0m-0.6 -2.3h0m7.9 1.8h0m-4.4 0.1h0m-3.8 -1.4h0m7 2.6h0" stroke="#e31a1c" stroke-width="0.7" stroke-linecap="square" fill="none"/>
<path d="M118.3 40.8h0m0.3 2.8h0m-1.1 -0.5h0m-1.3 -3h0m0.6 -1.5h0m-6.5 5.7h0m-0.2 -4.7h0m8.9 6.2h0m-8 -4.7h0m5.8 3.6h0m-6.6 -1.8h0m6.4 0.8h0m-5.8 0.5h0m3.3 -5.2h0m1 0h0m1.6 2.1h0m3.2 2.7h0m-11.5 -2.2h0m8.4 3.1h0m0 -1.3h0m-0.4 -1.4h0m1.5 -2.4h0m1 3.5h0m-1.7 -4h0m-8.9 1.7h0" stroke="#fff" stroke-width="0.8" stroke-linecap="square" fill="none" opacity="0.7"/>
<path d="M107.3 45.5h0m-0.8 -5h0m9 7.5h0m5.1 1.6h0" stroke="#e31a1c" stroke-width="0.9" stroke-linecap="square" fill="none"/>
<path d="M119 48.6h0m0.6 0.6h0" stroke="#33a02c" stroke-width="0.9" stroke-linecap="square" fill="none"/>
<path d="M48.2 152.5h0m2.3 -1h0m-2 0.7h0m1.6 -2.9h0m0 -1.5h0m-2.2 3h0m3.9 -3h0m-3.8 1h0m2.6 -2.8h0m2.2 0.7h0m-3.9 6.4h0m-2.4 1.1h0m4.1 -2.5h0m-1.1 -1.8h0" stroke="#a6cee3" stroke-width="0.8" stroke-linecap="square" fill="none"/>
<path d="M53.4 150.4h0m6.8 7.5h0m1 -3h0" stroke="#fdbf6f" stroke-width="0.8" stroke-linecap="square" fill="none"/>
<path d="M52.1 151.4h0" stroke="#fb9a99" stroke-width="0.8" stroke-linecap="square" fill="none"/>
<circle cx="47.1" cy="78.4" r="4.3" fill="#fff" opacity="0.55"/>
<text x="47.1" y="80.9" font-size="7.2" text-anchor="middle" fill="#222" stroke="#222" stroke-width="0.2" >1</text>
<circle cx="86.5" cy="56.4" r="4.3" fill="#fff" opacity="0.55"/>
<text x="86.5" y="58.9" font-size="7.2" text-anchor="middle" fill="#222" stroke="#222" stroke-width="0.2" >2</text>
<circle cx="75.2" cy="30.1" r="4.3" fill="#fff" opacity="0.55"/>
<text x="75.2" y="32.6" font-size="7.2" text-anchor="middle" fill="#222" stroke="#222" stroke-width="0.2" >3</text>
<circle cx="115" cy="42.4" r="4.3" fill="#fff" opacity="0.55"/>
<text x="115" y="44.9" font-size="7.2" text-anchor="middle" fill="#222" stroke="#222" stroke-width="0.2" >4</text>
<circle cx="119.3" cy="100.3" r="4.3" fill="#fff" opacity="0.55"/>
<text x="119.3" y="102.8" font-size="7.2" text-anchor="middle" fill="#222" stroke="#222" stroke-width="0.2" >5</text>
<circle cx="120.6" cy="116.8" r="4.3" fill="#fff" opacity="0.55"/>
<text x="120.6" y="119.3" font-size="7.2" text-anchor="middle" fill="#222" stroke="#222" stroke-width="0.2" >6</text>
<text x="127.8" y="106.5" font-size="7.2" text-anchor="middle" fill="#222" stroke="#222" stroke-width="0.2" >7</text>
<circle cx="102" cy="129.6" r="4.3" fill="#fff" opacity="0.55"/>
<text x="102" y="132.1" font-size="7.2" text-anchor="middle" fill="#222" stroke="#222" stroke-width="0.2" >8</text>
<circle cx="105.3" cy="100.3" r="4.3" fill="#fff" opacity="0.55"/>
<text x="105.3" y="102.8" font-size="7.2" text-anchor="middle" fill="#222" stroke="#222" stroke-width="0.2" >9</text>
<circle cx="97.2" cy="88.2" r="4.3" fill="#fff" opacity="0.55"/>
<text x="97.2" y="90.7" font-size="7.2" text-anchor="middle" fill="#222" stroke="#222" stroke-width="0.2" >10</text>
<circle cx="138.6" cy="83.2" r="4.3" fill="#fff" opacity="0.55"/>
<text x="138.6" y="85.7" font-size="7.2" text-anchor="middle" fill="#222" stroke="#222" stroke-width="0.2" >11</text>
<text x="135.6" y="111.3" font-size="7.2" text-anchor="middle" fill="#222" stroke="#222" stroke-width="0.2" >1</text>
<line x1="25.8" y1="164.8" x2="25.8" y2="140.9" stroke="#000" stroke-width="1.3" />
<line x1="25.8" y1="164.1" x2="50" y2="164.1" stroke="#000" stroke-width="1.3" />
<path d="M22.3 142.6 L29.3 142.6 L25.8 136.9 Z" fill="#000" />
<path d="M48.1 160.9 L48.1 167.3 L54 164.1 Z" fill="#000" />
<text x="55.3" y="166.6" font-size="6.75" stroke="#000" stroke-width="0.2" >UMAP_1</text>
<text x="28.4" y="121.5" font-size="6.75" text-anchor="middle" stroke="#000" stroke-width="0.2" transform="rotate(-90 28.4 121.5)" >UMAP_2</text>
<path d="M211.5 42.6C209.6 42.8 206.3 44.2 203.6 45.7C201 47.3 198.1 49.5 195.8 52C193.4 54.5 190.8 57.4 189.5 60.7C188.1 64 187.6 67.8 187.6 71.7C187.6 75.7 188.5 80.4 189.5 84.4C190.4 88.3 192.1 91.5 193.4 95.4C194.7 99.3 195.6 104.6 197.3 108C199 111.4 201.5 114.1 203.6 115.9C205.7 117.6 208 118.7 209.9 118.4C211.9 118.1 213.9 116.3 215.5 114.3C217 112.3 218.4 108.8 219.4 106.4C220.5 104.1 220.5 101.4 221.8 100.1C223.1 98.8 225.6 99.1 227.3 98.5C229 98 231.6 98.5 232.2 97C232.7 95.4 231.3 91.2 230.4 89.1C229.6 87 227.8 86.7 227.3 84.4C226.8 82 227.7 77.5 227.3 74.9C226.9 72.3 225.4 71 224.9 68.6C224.4 66.2 224.6 63.2 224.1 60.7C223.7 58.2 223 55.6 222.2 53.6C221.5 51.6 220.5 50.5 219.4 48.9C218.3 47.3 216.8 45.2 215.5 44.2C214.2 43.1 213.5 42.3 211.5 42.6Z" fill="#a6cee3" />
<path d="M240.7 37.1C242.3 36.8 244.6 39.4 246.2 41C247.8 42.6 249.8 44 250.3 46.5C250.9 49 250.1 53.4 249.5 56C249 58.6 248.1 60.2 247 62.3C245.9 64.4 244.5 66.8 243.1 68.6C241.6 70.4 239.9 72 238.3 73.3C236.7 74.6 235.2 75.4 233.6 76.5C232 77.5 230.4 78.8 228.9 79.6C227.3 80.4 225.7 80.5 224.1 81.4C222.6 82.2 221.1 83.9 219.4 84.5C217.7 85.2 214.3 86.1 213.7 85.3C213.2 84.5 214.9 81.4 216.3 79.6C217.6 77.9 220.3 76.7 221.8 74.9C223.2 73.1 224.5 71 224.9 68.6C225.3 66.2 224.6 63.2 224.1 60.7C223.7 58.2 222 55.6 222.2 53.6C222.5 51.6 224.1 50.3 225.7 48.9C227.3 47.4 230.2 46 232 44.9C233.9 43.9 235.3 43.9 236.7 42.6C238.2 41.3 239.1 37.3 240.7 37.1Z" fill="#fb9a99" />
<path d="M226.5 23.7C227.4 21.7 229 20.9 230.4 20.4C231.9 19.8 233.7 19.7 235.2 20.4C236.6 21 238.3 22.5 239.3 24.5C240.2 26.5 240.7 30 240.8 32.3C241 34.7 240.7 36.9 240.1 38.6C239.4 40.4 238.1 41.7 236.7 42.7C235.4 43.8 233.9 44.2 232 45.1C230.2 46 227.6 47.1 225.7 48.3C223.9 49.4 222.1 52.2 221 52.2C219.9 52.2 219.1 50.1 219.2 48.1C219.4 46.1 220.8 42.8 221.8 40.2C222.7 37.6 224.1 35.1 224.9 32.3C225.7 29.6 225.6 25.7 226.5 23.7Z" fill="#1f78b4" />
<path d="M215.4 115h0m2.6 -4.9h0m2.4 -8h0m11.2 -5.3h0m-7.6 -30.5h0m-14.4 -22.7h0m-13.4 57.9h0m24.5 -50.1h0m11.9 46.4h0m-45 -30h0m43.8 27h0m-44.1 -18.3h0m0.4 -16.2h0m38.2 8.7h0m-7.1 -19.2h0m-29.9 20.4h0m12.6 44.5h0m-4.7 -63h0m30.5 44.4h0m-38.2 -24.5h0m5.6 26.8h0m-1.1 -2.9h0m38.8 -2.3h0m-45.5 -12.2h0m30.1 -35.1h0m4.5 3.8h0m-22 -0.1h0m-9.8 29.8h0m23.6 -36.2h0m-21 15h0m34 15.7h0m-35.1 -16.1h0m12.8 59.1h0m20.4 -57.7h0m-28 -8.8h0m28.6 13.7h0m-26.8 47.2h0m5.1 5.5h0m21.8 -43.9h0m2.5 26.2h0m-37.6 -13.2h0m5.8 11h0m17.7 -53.3h0m4.7 68.9h0m7 -14h0m0.4 0.4h0m2.9 0h0m-35.2 -42.2h0m-3.3 1.8h0m3.9 40.1h0m-5.3 -14.8h0m34.8 -25.4h0m-34.5 6.4h0m16.2 52.6h0m20 -37.3h0m-27.6 -28.1h0m28.9 29.2h0m-30.3 23.9h0m24.6 -2.2h0m6.8 -21.7h0m0.4 6.6h0m0.1 -0.8h0m-8.1 -35.1h0m-0.7 55.3h0m13.1 -10.4h0m-16.3 16.8h0m-2.9 1.1h0m-0.6 -0.4h0m18.9 -19.6h0m-12.9 13.1h0m-13.3 -60.3h0m21.1 24.5h0m-37.8 -6.5h0m35.7 -2.6h0m-29.3 37.6h0m17.9 -56.9h0m8.2 7.2h0m-4.8 61.9h0m11.3 -33.2h0m-3.8 -17.6h0m-33.5 2h0m26.1 50.2h0m-2.4 3.8h0m14.2 -32.9h0m5.4 9.6h0m-33.5 -46.6h0m20.4 3.1h0m-0.5 -3.7h0m0.1 58.1h0m12.2 -12.6h0m-42.8 -7.2h0m29.2 -36.6h0m6.9 48.6h0m-38.1 -26.1h0m21.9 -27h0m-5.9 0.7h0m6.3 -1.2h0m10.4 62.3h0m-2.1 6.4h0m-17.2 -64h0m28.6 38.5h0m-13.2 25.5h0m7.3 -49.6h0m2.4 36.7h0m-35.8 -10.3h0m12.2 -43.2h0m-4.5 2h0m25.3 5h0m-35.4 22.1h0m28.6 37.5h0m10.2 -37.1h0m-38 -3.2h0m39.7 1.4h0m-17.1 45.5h0m8.1 -66.8h0m-0.7 57.5h0m5.4 -47.7h0m-6.3 42.3h0m-9.4 10.4h0m1.2 -71.1h0m-5.5 2.3h0m24.5 37.7h0m-24.1 -39.3h0m17.2 8.2h0m-23.1 -3.9h0m-1 57.5h0m-0.9 -54.4h0m18.4 -9.2h0m-1.2 0.1h0m-15 67.1h0m24.2 -56.6h0m1 9.5h0m3.6 8.7h0m-17.2 -28.1h0m-5.9 71.3h0m10.4 -1.9h0m9 -48.5h0m2.3 20.7h0m-5.5 -33.9h0m-27.2 2.2h0m5 54.8h0m25.9 -55.6h0m-2.2 47.7h0m6.6 -15.3h0m-21.2 32h0m-19.4 -35.8h0m32.6 24h0m-14.5 10h0m26.5 -19.6h0m-13.2 8.3h0m-2.7 -60.6h0m8.1 18h0m4.8 27.8h0m-32.7 18.5h0m30.2 -26.7h0m-33.1 -28.2h0m11.4 63.6h0m-16.9 -34.4h0m43.6 16.1h0m-26.8 -52.2h0m20 16h0m-25.2 48.5h0m22 -57.9h0m-18.1 62.8h0m20.1 -15.8h0m2.2 -21.6h0m-7 -30h0m6.9 51h0m-27.9 9.9h0m24.7 -49.2h0m3.1 21h0m1.6 -10.7h0m-12.2 -22.5h0m-20.9 4.8h0m32.9 27.4h0m0 -6h0m-38.8 6.6h0m4.1 -25.1h0m33.7 25.5h0m-14 34.5h0m-14.3 -9.5h0m16.6 5.5h0m14 -28.2h0m-1.7 14.6h0m1.4 -9.7h0m-1.1 -1.4h0m-10 -40.8h0m-27.7 31.7h0m36.2 23.3h0m3 -13.3h0m-12.3 23.5h0m12.7 -24.8h0m-16.1 29.8h0m0.1 -73.2h0m12.8 31.6h0m0.4 8.7h0m0.9 -0.8h0m-30.9 22.5h0m10.3 -60.6h0m1 74.5h0m-11.9 -66.4h0m5.2 59.2h0m21.4 -11.3h0m-11.4 -56.9h0m20.7 45.6h0m-14.3 22h0m-1.1 2.7h0m12.7 -25.6h0m-10.4 18.2h0m-22.7 -0.9h0m29.9 -33.8h0m-20.7 44.1h0m-17.1 -40.1h0m-0.5 2.3h0m34.3 -20h0m6.7 41.1h0m-9 -51.4h0m-33.8 26.6h0m40.5 -4.4h0m-3.3 -6.8h0m1.3 7.6h0m-1.3 -14h0m-33.8 24.6h0m27.9 31h0m-22.9 -20.6h0m22.4 -46.9h0m-28.1 34h0m34.7 -25.4h0m-34.7 22.9h0m36 24.2h0m7.3 -3h0m-29.5 14.1h0m27.6 -27h0m2.4 13.1h0m-11.3 -46h0m8.2 35.1h0m-2.4 -12.6h0m-4.3 -18.8h0m4.3 15.1h0m-7.6 37.1h0m-27 -14h0m10 -47.3h0m-5.9 50.4h0m29.9 3.1h0m-32.9 -42.6h0m26.3 48.1h0m-0.9 4h0m-17.9 3.6h0m-1.6 -3h0m-9.4 -22.5h0m35 -27.4h0m-13.1 58.8h0m7 -8.5h0m-4.8 5.5h0m15.3 -28h0m-15.5 -44.3h0m-25.6 33.8h0m41.1 8.6h0m-10.8 -36.7h0m-7.8 -6.6h0m-2.4 75.9h0m23.3 -21.2h0m-40.9 -10h0m14.6 29.9h0m21.3 -18.4h0m0.9 -0.9h0m-36.3 -7.2h0m36.7 -6.8h0m-1 -15.3h0m-38 9.9h0m21.7 40.5h0m-0.5 -76.8h0m11.8 12.9h0m-3.7 -7.6h0m-22.1 58.3h0m34.7 -16.6h0m-3.5 -5.6h0m2 15.6h0m-4.1 -25.7h0m-16.5 -29.5h0m11.5 56.7h0m-13.1 17.2h0m5.8 -0.7h0m-23.7 -35.7h0m39.2 4.5h0m-3.8 -25.6h0m1.3 16.7h0m-0.5 -16.3h0m0.1 6.7h0m6.8 28.6h0m-0.7 -0.1h0m-20.8 20.2h0m20.1 -23.7h0m-0.8 -3.7h0m-30.7 24h0m10.6 5.9h0m16.8 -33.6h0m-5.2 16.6h0m-3.4 -55.5h0m-29.4 37.4h0m-0.6 -4.1h0m25.2 34.4h0m14.8 -15.4h0m5.1 -4.8h0m-20.1 22.7h0m8.3 -61.4h0m-4.1 53.9h0m6.7 -43.7h0m-1.4 -13.3h0m-33.9 29.6h0m22.1 -40h0m15.4 30.7h0m-1.1 -1.9h0m-37.5 4.8h0m37 -6.2h0m-33.7 18.2h0m32.2 -25.1h0m-30.9 -1.8h0m1.7 -5.1h0m25.8 -2.1h0m-29.7 31.6h0m24.9 -39.5h0m-20.4 51.7h0m32.1 -24.9h0m-37.9 -4.4h0m39.8 10.8h0m3.9 11.5h0m-8.6 -23.5h0m2.8 8.1h0m-14.8 -29.9h0m7.4 1.5h0m7.9 31.4h0m-38.1 -13.7h0m-0.3 20.6h0m14.9 -39.8h0m18 11.2h0m-3.1 -6.7h0m-10 69.7h0m-9.8 -9.1h0m-2 -7.8h0m24.1 -0.5h0m-28.9 -7.5h0m39.5 -4.3h0m-27.1 27.9h0m5.3 -1.1h0m-17.4 -21.6h0m-0.9 -6.5h0m26.2 -39.7h0m-17.3 -1.6h0m-11 36.8h0m3.1 -28h0m39.5 40.8h0m-11.5 -43.6h0m5.1 10.6h0m-36.8 19.5h0m26.3 30.2h0m5.1 -62.1h0m-27.7 43.1h0m25.6 14.9h0m-24.4 -51.5h0m6 52.6h0m12.2 -67.4h0m18 47.4h0m-6.6 -31.3h0m-33.6 1.1h0m-0.4 10.3h0m15.9 -25.3h0m15.3 56.8h0m-4 8.2h0m12.5 -23.4h0m-38.6 1h0m37.5 -4h0m-17.4 33.6h0m16 -43.2h0m-8.6 35.3h0m-6.9 11h0m12.7 -64.7h0m-8.7 -12.4h0m-24.7 15.1h0m41.6 34.1h0" stroke="#a6cee3" stroke-width="0.7" stroke-linecap="square" fill="none"/>
<path d="M216.1 62.6h0m-7.8 54.9h0m9 -12.8h0m5 -12.7h0m-15.6 -31.1h0m23.5 33.3h0m-27 13.4h0m-2.6 -14.1h0m-1.1 -30h0m17.4 -10h0m-22.2 24.9h0m20.5 -12.9h0m-9.9 46h0m-12.4 -24.3h0m-2.2 -25.9h0m21.3 27.9h0m-10.4 12.1h0m13.3 -13.9h0m-17.8 -18.3h0m13.1 -8.5h0m-13.8 1.7h0m28.9 28.5h0m-14.2 -22.2h0m1.6 -10.4h0m9 -1h0m-10.8 -7.7h0m19.9 45h0m-13.2 7.6h0m-18.1 -14.2h0m-7.1 -27.6h0m22.3 51.7h0m-26 -33.1h0m7.4 14.2h0m20.1 0.6h0m-9.8 -16.5h0m1 -24.8h0m7.2 1.5h0m-10.8 56.2h0m-12.6 -42.3h0m38.3 23.6h0m-38.1 -28.3h0m2.1 16.4h0m5.7 20.2h0m8 -24.8h0m6.6 25.7h0m-22.1 -38.8h0m36 23.3h0m-9.6 -24h0m-12.3 7.1h0m-18.1 3.9h0" stroke="#fff" stroke-width="0.8" stroke-linecap="square" fill="none" opacity="0.8"/>
<path d="M218.3 98.7h0m-0.6 -2.9h0m0.5 -7.4h0m-1.2 4.7h0m1.4 11.4h0m5.2 -3.9h0m-12.1 -6.5h0m1.8 7.3h0m2.9 -18.1h0m8.1 9h0m-10.5 5.2h0m8.3 2.3h0m1.3 -7.2h0m-9.8 1h0m5.2 9.5h0m1.2 -9.8h0m-0.4 4.2h0m-5.6 5.4h0m1.3 -10.4h0m-0.2 -3.7h0m8.5 16h0m-13.4 -9.6h0m2 -4.4h0m0.2 4.7h0m7.6 1.4h0m3 -1.2h0m-4.7 -4.5h0m1.8 3.3h0m-6.3 9.2h0m3.5 -2.6h0m-1.5 -4.7h0m3.2 -8h0m-8.2 9.8h0m9.2 6.7h0m-3.6 -15.5h0m-2.4 3.9h0m3.9 7.3h0m-2.9 -6.9h0m1.9 13.7h0m-4.8 -1.4h0m2.2 -9.3h0m-4.5 3.5h0m7.2 2.6h0m-4.6 3.3h0m-0.5 -14.8h0m10 -0.9h0m-2.1 11.3h0m0.1 -7.3h0m-1.3 8.8h0m2.5 -1.6h0m-5.3 -6.8h0m-2.9 3.4h0m-7.5 -4.2h0m19.9 -0.3h0m-6.7 15.5h0m-6.3 -6.8h0m0.7 -8.8h0m1.5 2.2h0m1 1h0m2.4 -1.6h0m-5.6 -1.3h0m-0.3 -4.6h0m4.1 15.8h0m-0.8 -12.4h0m2.8 6.6h0m-9.6 -8.4h0m0.7 1h0m14.3 3h0m-8.5 9.2h0m-3.6 -4.5h0m12.3 -5.4h0m-7.7 2.2h0m-5.5 6.5h0m8.7 -5.8h0m-1.3 -12.2h0m-3.6 20.6h0m5.3 -4.1h0m-0.7 0.1h0m1.1 -5.7h0m-9.3 1.9h0m6.4 7.9h0m0.1 -13.8h0m1.1 10.7h0m-3.7 -12.5h0m1 -0.2h0m-4.5 -2.6h0m7.6 15.2h0m-3.2 -13.3h0m7.3 12.5h0m-6.2 -3.4h0m1.6 -3h0m-1.9 8.4h0m-6.9 -16.2h0m12.9 11.9h0m1.7 1.3h0m-6.1 -9.6h0m-4.2 13.3h0m-3.4 -12.9h0m9.4 12.2h0m-9.3 -8h0m10.4 -3.6h0m-8.9 5.4h0m5.5 -9.9h0m-3.4 6.4h0m7.2 -12.6h0m2 8.5h0m-7.7 5.1h0m3.6 5.1h0m-1.3 -0.4h0m-2 4.4h0m-3.6 -5.3h0m8.9 -8.3h0m-4.4 7.7h0m-1.1 2.6h0m-2.8 -13.2h0m1.3 11.7h0m1.4 -7.5h0m5.2 11.7h0m-5.1 -5.7h0m1.2 -1.7h0m-2.8 0.4h0m6.3 -6.1h0m-5.3 15.6h0m1.1 -9.1h0m5.7 -0.1h0m-1.7 -7.6h0m-8.2 11.6h0m3.7 -13.7h0m-2.1 9h0m0.4 -7.2h0m-0.9 3.2h0m3.9 4.7h0m0.4 -4.4h0m-0.6 4h0m-5 0.4h0m2.5 -6.6h0m-1.3 19.8h0m-3.1 -21.4h0m4.8 -1.7h0m5.7 10h0m-6.9 -0.4h0m-0.6 -0.5h0m6.3 8.7h0m0.4 -5.2h0m-4.1 7.6h0m1.3 -5.6h0m0.4 9.2h0m-0.1 -17.8h0m0.2 5.9h0m-1 -6.3h0" stroke="#fff" stroke-width="0.8" stroke-linecap="square" fill="none" opacity="0.9"/>
<path d="M216.6 67.6h0m-0.2 -0.4h0m-1.6 6.4h0m0.2 -2.7h0m-5.7 -11.3h0m3 2.4h0m-2.7 13.5h0m7.1 -9.4h0m-4.7 0.8h0m4 1.1h0m-2.5 1.3h0m-3.1 -2h0m4.5 4.6h0m-0.4 1.6h0m1.4 -8h0m-1.6 0.2h0m-6.2 -4.2h0m7.3 12.3h0m-2.8 -4.3h0m4.8 -2.5h0m-1.8 7h0m-1.7 -8.1h0m4.1 4.9h0m-5.1 -10.1h0m0.9 6.3h0m5.1 -1.9h0m-4.9 -2.1h0m-3.2 2.8h0m4.5 -3.2h0m-6 4h0" stroke="#fff" stroke-width="0.8" stroke-linecap="square" fill="none" opacity="0.9"/>
<path d="M238 41.8h0m-15.6 20.2h0m20.9 6.7h0m-19 -1.5h0m15.8 5.4h0m9.7 -25h0m0.6 7h0m-36.1 28.4h0m10.7 -23h0m-0.4 2h0m2.5 19.2h0m4.5 -37.7h0m5.9 29.7h0m2.1 -1.6h0m-7.4 5.2h0m12.8 -36.3h0m-21.4 23h0m-5.2 19.7h0m4.6 -33.3h0m17.7 20.7h0m-15.4 -20.9h0m-3.9 34.5h0m29.8 -35.1h0m-34.7 33.6h0m6.7 -21.4h0m24.7 -20.3h0m-24.8 41.1h0m9.5 -39.6h0m2.1 32.2h0m-11 7.6h0m25.4 -31.4h0m-26.3 11.9h0m12.1 -19.1h0m-10.9 16.5h0m13.5 -18.9h0m5.3 26.3h0m-26.7 14.4h0m9.2 -33.5h0m18.9 16.6h0m-10.5 -19.7h0m-14.5 31.2h0m30.3 -23.9h0m-25 16.9h0m21.8 -28.9h0m-9.9 35.1h0m-14.5 -20.5h0m3.3 -5.3h0m-7.4 33.4h0m2 0.1h0m-2.2 -4.6h0m11.9 -35.3h0m18.5 20.4h0m-16.1 -18.9h0m-9 16.4h0m26.9 -9.9h0m-16.6 26h0m6.9 -40.3h0m10.5 17.4h0m-3.4 -8.4h0m-19.4 36h0m16.3 -15.9h0m-2.3 -29.1h0m9.6 13.3h0m-9.4 -13.3h0m3.8 27.6h0m-3.3 2.1h0m-16.8 13.7h0m5.8 -36.5h0m17 16.5h0m-4.8 7.3h0m-13.9 -20.9h0m14.8 -5.9h0m-12.8 35.2h0m6.5 -2.5h0m-22.2 12h0m22.8 -47.7h0m-15.4 44.6h0m3.5 -3.2h0m-13.5 1.1h0m8.6 -26.6h0m19.5 -16.3h0m3.9 30.5h0m-25.6 14h0m7.4 -2.9h0m-11.5 -0.7h0m6.1 -5.9h0m16.5 -31.3h0m5.2 -1.5h0m-16.8 41.9h0m23 -26.9h0m-0.4 -0.4h0m-22 -7.5h0m23.9 1h0m-16.3 26.5h0m-12.4 -16.8h0m1.6 6.1h0m19.2 4h0m4.5 -3.6h0m-25.9 20.4h0m20.7 -15.1h0m-1.9 -1.3h0m-18.3 4.1h0m27 -26.7h0m-16.8 0.2h0m-2.6 32.1h0m-16.5 6.2h0m25.4 -13.2h0m-17.6 15.4h0m-4.6 -7.3h0m5.1 -24.3h0m13.2 22.4h0m6.2 -6.5h0m-19 4.8h0m8.3 -30.8h0m15.5 16.8h0m-13.6 -15.1h0m-4.4 -1.1h0m12.6 26.2h0m9.6 -22.6h0m-5.7 -11h0m-16.4 42.6h0m1.8 0.9h0m19.7 -29.4h0m-30.8 25.5h0m17 1.6h0m-13.5 -17h0m24.9 -20h0m1.2 14.2h0m1.9 -0.1h0m-23.9 23.7h0m23.6 -25.5h0m-27.2 -1.8h0m26 -8h0m1.7 1.2h0m-5.8 -6.9h0m-25.5 38.2h0m1.5 -1.5h0m2.7 -15.7h0m-1.5 27.8h0m-1.1 -12.4h0m22.7 -5h0m3.6 -8.9h0m-21.8 -12h0m16.6 20.3h0m1.8 -29.9h0m-16.2 42.9h0m20.8 -37.1h0m-8.4 24.8h0m2.6 -2.4h0m6.7 -7.1h0m-28.8 13.1h0m22.8 -35.5h0m-11.4 5.1h0m-6.2 5.8h0m14.9 23.2h0m7.8 -29h0m0.3 18.9h0m-3.7 -22.4h0m-25.5 44.9h0m3.7 -17.4h0m-9.1 16.7h0m32.4 -22.8h0m-21.5 0.9h0m11.5 11h0m-11.9 7h0m-6.7 -1.3h0m8.8 -29.5h0m-12.1 33h0m32.3 -20.4h0m0.6 -16.8h0m-22.9 34.9h0m-2.3 -26.1h0m17.1 20.2h0m7.3 -13.2h0m-1 -20.5h0m-4.7 29.5h0m-10.1 -22.9h0m-7.3 9.4h0m-6.6 31.6h0m24.7 -51.4h0m-13.6 43.5h0m-8 4h0m-4.3 2.1h0m33.5 -43.5h0m-26.8 31.4h0m18.3 -3.9h0m2.3 -2.7h0m-16.6 0.8h0m13.8 2h0m-20.5 6.6h0m-6.8 5.9h0m22.1 -9h0m-3.6 2.9h0m5.3 -2.9h0m-12.9 -16.2h0m1.8 -10.8h0m11.5 29h0m-7.1 1.9h0m-9.4 7.2h0m-6.3 -3.9h0m10.4 -12h0m25 -26.7h0m-1.8 16.3h0m-25 15.1h0m22.2 -10.8h0m2 -19.8h0m-25.2 33.1h0m4.9 5.1h0m12.7 -40.8h0m7.3 2h0m2.6 8.5h0m-15.9 27.7h0m-16.9 -1.1h0m31.8 -35h0m-9.1 30.9h0m-21.2 3.5h0m5.2 -24.9h0m3.1 12.3h0m3.9 -17.5h0m-1.8 0.7h0m-4.2 3.2h0m-6.7 34.6h0m22.9 -16.7h0m-18.2 -13.1h0m0.7 8.9h0m21.9 -2.1h0m-13.1 14.6h0m9.8 -9.3h0m3 -3h0m-20.8 -5.6h0m22.6 2.8h0m-21.5 2h0m10 15.4h0m-11.2 0.6h0m1.7 -21.3h0m23.8 -5.3h0m-9.5 -15.5h0m-16.8 15.3h0m3.3 -4.1h0m-1.3 20.3h0m22.8 -25.5h0m-24.5 19.4h0m22.9 3.1h0m-3.9 3.7h0m7.5 -12.9h0m-26.1 7.1h0m23.8 -20.2h0m-20.6 35.2h0m23.1 -33.6h0m-27.2 28h0m0.3 -3.2h0m0.9 -19.3h0m-0.9 29.7h0m15.1 -9.8h0m-21.9 10.1h0m25.1 -44.3h0m-7 41.2h0m15.7 -27.9h0m-24.2 -2.2h0m14.5 25.5h0m6.5 -22.2h0m-26.2 33h0m16.6 -10.1h0m7.8 -33.3h0m-11.2 37.3h0m-11.8 -23.8h0m0.1 29h0m10.7 -40.4h0m-8.1 6.7h0m-8.5 31.1h0m30.6 -23.1h0m-26.1 24.8h0m-5.6 2.2h0m13.6 -5.8h0m3.4 0.5h0m8.1 -43.3h0m-15 14.1h0m0.5 -0.6h0m23.1 -5.8h0m-23.3 5.9h0m17.1 19.5h0m-21.7 -18h0m13.9 25.9h0m-14 -0.8h0m-3.5 1.2h0m2.4 5h0m3 -0.8h0m0.6 -30.8h0m15.9 -15.2h0m-11.7 10.6h0m-0.8 21.8h0m13.6 2.6h0m-17.4 -8.9h0m3.4 9.6h0m0.3 -9.4h0m12 6.4h0m0.1 -31h0m-3.2 39.5h0m-9.2 -26.4h0m-2.7 8.2h0" stroke="#fb9a99" stroke-width="0.7" stroke-linecap="square" fill="none"/>
<path d="M244.9 56.6h0m-3.6 -9.2h0m2.2 9.6h0m-16.6 9h0m-0.3 -13.7h0m-0.3 18.9h0m12.1 -5.5h0m-13.5 6.5h0m20.5 -8h0m0.4 -15.3h0m-13 -3.3h0m-3.4 6.5h0m8.8 -1.5h0m-7.1 16.8h0m2.8 7.3h0m-6.7 1.4h0m1.4 -0.7h0m14.3 -8.9h0m-9.8 2.9h0m6.1 1.9h0m-21.3 12.8h0m17.7 -35.3h0m-17.9 33.4h0m10.8 -3.2h0m19.7 -28.2h0m-15.3 4.6h0m6.6 11.6h0m-3.7 -21.3h0m-1.6 25.7h0m6.9 -12.2h0m-14.9 8.4h0m10.1 -23.2h0m-10.9 16.8h0m5.2 -0.7h0m-2.4 1.7h0m8.2 -16.5h0m-20.3 35.2h0m26.8 -25.9h0m-1.4 1h0m-7.1 9.2h0" stroke="#fff" stroke-width="0.8" stroke-linecap="square" fill="none" opacity="0.7"/>
<path d="M216.3 36.6h0m0.2 4.6h0m-3.6 0.1h0m4.2 -1.9h0m-3.7 0.4h0m0.3 3.9h0m4.7 -0.5h0m-0.4 -4.4h0m-0.7 1.1h0m-5 2.1h0m7.4 -1.6h0m-3.3 -2.2h0m0.8 0.6h0m1.6 0.1h0m-5.4 3.7h0m4.6 -2.6h0m-5.1 0.8h0m0.9 1h0m2.3 -1.4h0m0.1 -1.6h0m0 1.9h0m1.6 -1.3h0m-2.6 -0.5h0m1.1 1.1h0m1.5 2.1h0m0.3 0h0m-0.9 -2.2h0m0.7 3.4h0m-3 -5.7h0m3.7 1.1h0m-4.6 2h0m6.3 0.3h0m-2.5 -1.7h0m-1.3 2.1h0m-0.7 -1.9h0m-4.2 1.4h0m2.1 -0.2h0m4.2 0.4h0m-2.5 -0.6h0m1.5 3.7h0" stroke="#fb9a99" stroke-width="0.8" stroke-linecap="square" fill="none"/>
<path d="M206.4 47.3h0m-2.8 15h0m5.5 23.8h0m4.4 -5h0m-1.3 -16.3h0m-6 1h0m3.6 -5.5h0m0.1 -1.5h0m-8.6 9.8h0m-3.1 0.6h0m16.1 -13.7h0m-6.1 12.7h0m-3.8 -1.5h0m11.7 0.4h0m-12.6 -0.7h0m1.6 16.2h0m-1.3 -22.9h0m7 7.7h0m-11.3 14.2h0m6.5 -13.8h0m6.7 -2.8h0m-3.2 -7.2h0m-10.4 16.7h0m6 -21.6h0m3.4 11.3h0m-1.3 -12.7h0m-0.9 25h0m10.2 -14.8h0m-21.3 10.7h0m8.8 -8.6h0" stroke="#fb9a99" stroke-width="0.7" stroke-linecap="square" fill="none"/>
<path d="M247.5 70h0m7.5 -4.1h0m1.4 -1.5h0m-0.1 4.8h0m-2.4 0.3h0m-6.7 -3.5h0m6.6 2.9h0m5.2 -2.7h0m0 1.9h0m-3.4 1.3h0m-0.6 -2.1h0m1.3 -2.8h0m-2.3 4.6h0m-2.5 1.4h0m-4.3 -5.8h0m12.2 2.7h0m-11.2 -2.3h0m3 5.8h0m4.4 -6.1h0m-0.6 3.4h0m2.5 -1h0m-7.6 -0.9h0m5.5 0.6h0m-0.7 1.4h0m-3.6 4.6h0m2.1 -3.9h0m-0.7 -2h0m7.8 -1.3h0m0 3.7h0m-2.8 1.3h0m-4.2 -2.9h0m-5.8 -0.9h0m9 -0.6h0m0.1 0.9h0m-2.4 -3h0m2.9 -0.1h0m1.3 1.9h0m-11.6 1h0m3.2 -1.7h0m8.8 4.3h0m-4 -0.8h0m-5 -3.1h0m6 0h0m0.9 1.8h0m0.7 1.4h0m-1.3 -2.5h0m1.6 -1.4h0m1 3.1h0m-1.2 -2.9h0m3.3 -0.8h0m-2.6 5.7h0m-3 -8h0m-1 7.2h0m-5 -2.9h0m6.7 2.2h0" stroke="#fb9a99" stroke-width="0.8" stroke-linecap="square" fill="none"/>
<path d="M225.6 78.2h0m5.7 7.6h0m-9.1 1.4h0m5.4 -9.1h0m11.4 2.3h0m-8.7 3.2h0m4.9 -2.2h0m-1.8 2.6h0m-0.2 -6h0m0.1 2.6h0m-9.4 10.7h0m5.3 -12.2h0m-2.1 6.3h0m7.3 -1.7h0m-4.9 0.5h0m5.7 4.5h0m-2.1 -5.6h0m-1.7 2.7h0m3.5 -9.7h0m-3.5 5.2h0m0.1 -1.5h0m2 2.4h0m-2.4 3.4h0m3.1 -0.7h0m-4.6 1.8h0m4.7 -0.5h0m-2.5 -1.3h0m-6.3 -3.1h0m10.9 -3.8h0m-6.4 7h0m3.8 -2.6h0m-6.8 3.3h0m3.4 -2.1h0m7.4 0.3h0m-8.8 0.5h0m5.3 -8.2h0m-2.4 10.6h0m-0.2 -4.4h0m7.9 3.6h0m-8.5 -0.7h0" stroke="#fb9a99" stroke-width="0.8" stroke-linecap="square" fill="none"/>
<path d="M220.7 50.7h0m0.3 0.3h0m14 -29.5h0m-1.6 23.3h0m-8.6 -8.8h0m13.4 -7.2h0m1.9 6.4h0m-1.6 6.2h0m-17.6 13.3h0m19.3 -15.7h0m-2.8 -16.9h0m-12.4 28.8h0m15 -27.7h0m-16.3 26.5h0m16.3 -19.5h0m-19 20.2h0m16.6 -7.2h0m-13.3 7.1h0m-3.2 1.2h0m4.4 -20.2h0m10.8 -8.7h0m1.1 2.4h0m-7.6 -2.5h0m1.6 22.1h0m-10.1 7.9h0m15.1 -29.4h0m3.6 3.3h0m-7.1 18.8h0m-6.7 -19.1h0m14.9 6.5h0m-20.6 18.8h0m17.7 -9.4h0m-5 -20.9h0m-0.6 24.7h0m-7.9 3.3h0m8.2 -4.1h0m-2.5 0.5h0m5.3 -2.9h0m-3.4 3.9h0m8.3 -16.4h0m-20.5 9.5h0m2.1 -4h0m16.2 -8.9h0m-10.4 -3.8h0m1.3 -3h0m-3.3 6.1h0m10.6 -2.4h0m3.3 4.7h0m-21 16.9h0m2.5 -6.6h0m20.5 -2h0m-15.3 -13.9h0m13.3 17.2h0m-7.9 5h0m-5.5 3.6h0m7.6 -27.8h0m-8.9 7.5h0m-4.5 16.7h0m19.2 -20.2h0m-8.3 21.6h0m-8.4 -14.4h0m9.3 -11.3h0m0.9 25.1h0m-12.7 -7h0m2.7 -0.1h0m-1.6 14.4h0m3.6 -4.9h0m13.7 -10.2h0m-16.6 1.6h0m4.3 -7.7h0m-7.8 15h0m6.7 0.6h0m2.9 0.1h0m-4.7 -11.3h0m7.2 8.9h0m-5.2 2.4h0m14.5 -10.5h0m-15.2 8.4h0m-4.3 -4h0m8.3 -20.9h0m9.6 19.1h0m-14.4 -7.1h0m1.2 0h0m2.5 -8.1h0m-6.9 26.3h0m6.8 -26.8h0m-10.5 22h0m7.1 -21.8h0m-1.8 14.7h0m16.2 3.3h0m-16.3 8.3h0m13.6 -25.9h0m-10.2 7.5h0m15 6.2h0m-1.3 -14.4h0m-3.9 -4.1h0m1 2.1h0m3.6 7.6h0m0.3 10.2h0m-20.3 12.7h0m11.8 -32.3h0m-13.5 26.8h0m18.4 -3.1h0m-13 6.2h0m9.8 -5h0m1.6 -1.2h0m4.1 -18.6h0m-14.8 6.3h0m6.6 -13h0m3 2.7h0m-14.8 25.3h0m15.6 -24.6h0m-11.9 17.2h0m12 -18.2h0m-8.4 3.2h0m12 16.4h0m-9.3 -19.3h0m-4.9 28.2h0m15.4 -17.9h0m-9.6 -10.9h0m-5.5 13.9h0m3.6 -14.6h0m-2.7 26.9h0m-4.1 -11.2h0m16.3 -14.8h0m3.7 12h0m-12.7 -9.7h0m-8.8 23.7h0m-1.2 4.3h0m4.4 -14.5h0m4.1 -14.5h0m12.3 19.2h0m-8.6 4.6h0m-8.9 -5.7h0m12.1 -18.9h0m-12.2 29.7h0m1.8 -15.6h0m7.9 -16.2h0m-8.9 33h0m3.5 -4.1h0m-6.7 -5.2h0m6.8 5.6h0m-4 -10.7h0m9.9 -17.7h0m1.2 0.8h0m-13 30.4h0m1.5 -10.6h0m18.8 -9.3h0m-4.5 10.4h0m0.7 0.4h0m-14.7 -4.5h0m1.2 10.8h0m1.7 -20.8h0m-6.2 18.5h0m5.8 3.1h0m0.1 -20.5h0m-5.3 16.1h0m21 -16.1h0m-1.3 -2.2h0m-10.5 -5.3h0m-5.9 16.3h0m1.9 -11.8h0m-1.4 23.8h0m12.3 -7.2h0m3.7 -17h0m-2 -1.2h0m-13.1 10h0m2.4 -4h0m-7.8 22.3h0m21.5 -21.2h0m-4.3 12.1h0m-12.8 8.1h0m5.5 -3.3h0m-3.3 -23.9h0m-6.6 24.3h0m6.3 -24h0m15.9 9.4h0m-3.5 -11.2h0m-12.2 1.3h0m-6 25.7h0" stroke="#1f78b4" stroke-width="0.8" stroke-linecap="square" fill="none"/>
<path d="M224.9 46.1h0m2.6 7.5h0m-6.2 -3.8h0m2 -5.9h0m6 2.7h0m-2.8 2.3h0m-4.7 0.5h0m12 -0.7h0m-8.6 0.7h0m-2.3 2.1h0m1.6 1.9h0m-4.7 -6.2h0m6.8 4.6h0m-2.4 0.6h0m-1.2 -5.5h0m7.1 5.9h0m-5.9 -2.8h0m-5.3 -3.8h0m13.5 4.4h0m-7.8 -0.2h0m-3.6 -0.7h0m16.7 0h0m-6.8 -4.8h0m1.6 4.3h0m-1.9 2.8h0m-1.2 0.9h0m-0.7 -2.5h0m-1.7 -3.5h0m0.3 -2h0m6.3 4.3h0m0 3.2h0m-9.3 -4.6h0m7.7 1.6h0m-8.6 -1.5h0m-4.8 1h0m-2.2 -0.9h0m0.1 4.3h0m9.5 -4.3h0m-2.6 1h0m5 1h0m-5.5 -3.9h0m1.1 4.8h0m5.2 -2.5h0m-2.9 2.2h0m11.7 -2.6h0m-13.7 2.1h0m8.2 3.4h0m-15.8 -3.1h0m3.8 0.6h0m0 -3.6h0m3.4 -0.1h0m-2.9 -1.1h0m10.8 2.5h0m-11.7 -2h0m7.6 5.5h0m-6.9 -2.4h0m2.2 -3.9h0m5.9 2.5h0m8.4 1h0m-15.7 -3.7h0" stroke="#1f78b4" stroke-width="0.8" stroke-linecap="square" fill="none"/>
<path d="M238.3 87.8h0m-3.2 4h0m2.4 -5.5h0m1.7 -4h0m-2.9 8.7h0m0.7 1h0m3.3 1.3h0m-0.9 -1.2h0m-4.3 -1.9h0m0.5 0.6h0m-0.2 1.5h0m-1.9 -9.5h0m3 -3.1h0m5.3 9.2h0m-8.9 1.4h0m5.3 -5h0m0 6.7h0m-3.9 -3.4h0m1.1 15.9h0m7.4 -12.9h0m-1.8 4.9h0m-2.8 -9.2h0m0.6 3.8h0m-5.2 1h0m0.1 -12.2h0m7.1 11h0m-5.6 4.5h0m-4.5 5.4h0m9.6 -9.6h0m2.1 -4.2h0m-4.8 5.9h0m0.2 4.3h0m0.1 -6.2h0m2.5 -1.6h0m-9.1 5.7h0m13.1 -11.2h0m-6.8 7.5h0m-1.8 -14.7h0m-3.3 20.2h0m5.3 -5.3h0" stroke="#a6cee3" stroke-width="0.7" stroke-linecap="square" fill="none"/>
<path d="M233.4 89.7h0m10.9 4.6h0m-3 -0.8h0m-6.2 -8h0m7 -1.4h0m-2.1 9.2h0m7.3 -5.9h0m-14.9 -2.5h0m6.2 7.1h0m-3.7 -0.7h0m-6.6 -4h0m14.5 10.9h0m-8.6 -8.4h0m2 -2.4h0m8.6 5h0m-13.8 -5.3h0m6.6 7.1h0m5.5 0.2h0m-3.9 -3.7h0m-3.1 -2.3h0m5.1 -2.2h0m2 4.9h0m-1 0.7h0m-1.4 6.2h0m-5.5 -7.9h0m6.5 2.2h0m-8.6 -1.9h0m7.5 9.8h0m0.6 -11.6h0m6 8.4h0" stroke="#a9a9a9" stroke-width="0.7" stroke-linecap="square" fill="none"/>
<path d="M264 35.8 L270.3 39.1 L276.8 37.1 L275.3 42.6 L278.3 48.1 L271.8 45.4 L266.3 46.9 L268.3 41.6 Z" fill="#e31a1c" />
<path d="M278.1 46.8h0m-1.4 -2.2h0m-12.3 -8.8h0m6.9 4h0m1.6 -2.5h0m-4.1 8.1h0m-1 1.6h0m-0.7 0.3h0m8.7 -2.3h0m-11.5 -8.6h0m13.4 11h0m-4.3 -0.4h0m-2.3 -9h0m5.6 9.9h0m-5.4 -1.8h0m4.5 -6.1h0m-7.6 7.1h0m-1.2 -8.9h0m3.5 -0.6h0m6.5 7.8h0m-11.4 1.7h0m3.6 -2.1h0m7 -3.4h0m-9.8 6h0m0.2 -1.9h0m9.9 -0.9h0m-2.4 -4.7h0m-5.9 5.2h0m4.9 -7.3h0m1.5 9.1h0m-1.8 -8.2h0m-4.6 7.2h0m-0.6 2.4h0m8.7 0.1h0m-2 -12.9h0m-0.7 8.2h0m1.7 -1.8h0m-6.3 -3.4h0m7.5 0h0m0.7 1.5h0m-2 -3.3h0m-7.1 10.7h0m2.7 -8.8h0m6.6 8.4h0m-3.7 -0.1h0m6.4 -1.1h0m-5.3 -2.3h0m-10.5 -6.1h0m1.6 6.7h0m1.5 2.1h0" stroke="#e31a1c" stroke-width="0.7" stroke-linecap="square" fill="none"/>
<path d="M254 98.2C254.6 96.7 257.5 95.5 260.3 95.2C263 94.9 268.4 95.2 270.3 96.5C272.2 97.7 272.6 101 271.8 102.8C270.9 104.5 267.8 106.5 265.3 106.8C262.7 107 258.4 105.7 256.5 104.3C254.6 102.8 253.4 99.7 254 98.2Z" fill="#a9a9a9" />
<path d="M252.9 98.1h0m8.7 -2.5h0m-5.9 8.5h0m4.4 -7.4h0m4 -0.6h0m6.8 5.2h0m-2.8 -5.1h0m-12.3 8.2h0m14.4 0.6h0m-15.3 -0.9h0m4.8 -9.4h0m-2.1 0.1h0m-1.8 4.1h0m17 -0.7h0m-8.3 8.8h0m-8.9 -3.4h0m12.2 -6h0m-12.8 3.1h0m9.2 -6.1h0m-10.7 5.6h0m18.2 3.8h0m-16.3 1.1h0m13.3 -1.4h0m-1.3 2.7h0m-12.7 -6.5h0m-1.4 2.4h0m10.2 -8.5h0m-0.7 1.2h0m-6.4 10.8h0m11.4 -10.5h0m-8.3 10.6h0m2.4 2.4h0m-6.6 -7.5h0m6.3 4.3h0m-6.3 -7h0m12.2 9.2h0m-3.1 -11.6h0m-7.7 0.7h0m9.8 9.1h0m3.1 -8.7h0m-14.5 2h0m14 6.7h0m0.6 -7.1h0m-14.6 -1.3h0m14.3 6.6h0m2.8 -4h0m-2 -3.3h0m-14.6 2.1h0m3.4 8.1h0m13 -5.4h0m-10.9 4.7h0m8.8 -10.3h0m-5.1 0.1h0m5.7 2.3h0m-13.8 0.1h0m-1.5 0.5h0m16.7 3.8h0m-4.4 -4.9h0m-8.7 -2.6h0m11.1 0.1h0m0.5 0.7h0m-16.9 2h0m17.8 3.9h0m0.1 -5h0m-8.1 8.9h0m-7.5 -1.7h0m-2.1 -5.2h0m18.7 0.2h0m-15.6 5.8h0m-3.3 -7h0m9.1 8.8h0m-2.9 -9.5h0m1.5 -1.2h0m-7.8 2.8h0m6.2 6.8h0m11.8 -3.7h0m-17.2 -2.7h0m5 6.1h0m1.1 -7.8h0m-4.2 6.5h0m-1 -6.6h0m5.7 7.3h0m2.2 -8.9h0m-8.2 7.9h0m0.8 -3.6h0m6.5 -3.7h0m6.1 2.4h0m-15.7 0.6h0m2.4 -3.2h0m8.2 9.8h0m0.7 -8.1h0m8.2 3.3h0m-4.6 2.9h0m-6.1 1.8h0m3.8 -9.5h0m7.8 6.8h0m-2.7 -3.7h0m-15.1 3.1h0m12.4 -6.2h0m-12.7 4.8h0" stroke="#a9a9a9" stroke-width="0.7" stroke-linecap="square" fill="none"/>
<path d="M270.3 95.7C271.4 93.1 277 91.1 279.3 91.2C281.6 91.4 284.1 94.3 284.3 96.7C284.5 99.2 282.5 104.1 280.6 105.8C278.6 107.4 274.5 108.4 272.8 106.8C271.1 105.1 269.2 98.3 270.3 95.7Z" fill="#cab2d6" />
<path d="M272.8 107.5h0m6.5 -14.8h0m-0.1 0.2h0m-6.3 3.4h0m6.8 9.1h0m-4.8 -13.3h0m0.3 1h0m1.7 0.9h0m4.9 1.1h0m-6.6 -1h0m7.8 -1.1h0m-1.8 4.9h0m3.1 -0.6h0m-11.2 -0.4h0m0.9 12.1h0m-1.5 -15.5h0m11.7 1.9h0m-9.4 12h0m0.7 -14h0m5.7 5.9h0m-4 -7.2h0m3.3 2.9h0m-9.1 -1.3h0m7.4 -0.1h0m-4.1 0.4h0m6.8 8.2h0m-7 4.8h0m7.1 -14.3h0m-3.6 14.6h0m-6.5 -10.3h0m9.3 9.2h0m-7.5 -10.1h0m6.4 -5.1h0m3.7 2.6h0m-1.2 1.5h0m-6 10.8h0m-2.6 0.6h0m6.1 1.9h0m0.2 -13.5h0m-8.9 7.4h0m5.9 4.9h0m1.6 -1.1h0m3.7 -5.4h0m-8.3 -4.3h0m-1.4 -2.5h0m8.5 8.5h0m-3.2 -8.3h0m-4.3 12.1h0m1.2 -0.7h0m5 -12.4h0m-10 7.8h0m0.3 -7.5h0m7.2 12.4h0m-5.6 -13h0m1.5 12.2h0m-0.3 -11.7h0m5.9 -0.9h0m-6.9 7.3h0m-1 -6.4h0m0.4 12.4h0m1.1 -3.2h0m5.8 -8.6h0m2.5 -1.5h0m-1.4 10.3h0m-4.4 4.7h0m-4.9 -8.6h0m12.1 -4.9h0m-4.2 10h0m-5.2 -8.5h0m9.2 8h0m-1.1 -13h0m-4.3 4.1h0m6.3 4.3h0m3.4 1.5h0m-12.9 -5.7h0m0.8 11.5h0m6.3 -14.2h0m4.5 7.3h0m-6.9 -6.3h0m3.7 1.5h0m-10.6 4.3h0m7.8 -6.5h0m0.2 1.9h0m3.6 5.7h0m-12.1 4.9h0m10.3 1.1h0m-4.6 2.9h0m8.4 -13.7h0m-6.7 12.1h0m2.4 -16.8h0" stroke="#cab2d6" stroke-width="0.7" stroke-linecap="square" fill="none"/>
<path d="M254.1 96.1h0m1.1 -6.3h0m0.4 -3.6h0m-1.1 5h0m0.8 -8.6h0m-1.4 5.3h0m3.3 -3.6h0m-0.7 2.4h0m-2.2 6.2h0m0.4 -0.9h0m2.2 -10.5h0m-0.7 4.1h0m0.7 8h0m-1.2 -4.9h0m0.5 -4.2h0m-0.3 2.9h0m-0.1 1.8h0m-1.1 -6.9h0m-0.4 9h0m-0.6 -5.3h0m1.1 -2.8h0m1.5 10.1h0m-3 -3.8h0m3.7 -5h0m-3.9 -7.7h0m3.6 11h0m-3.1 6.5h0m0.9 -4.7h0m0.7 1.6h0m1.1 -0.7h0m1.9 -3.5h0m-2.1 -2.5h0m-1.2 7.9h0m-0.1 -11h0m0.1 7.6h0m0.9 -6.9h0m-0.5 7.2h0m0.4 -0.4h0m0.2 -4h0m-1 6.1h0m1.3 -12.3h0m-1.9 7.4h0m-0.2 -1h0m-0.6 8.5h0m4.1 -4.7h0" stroke="#7b6cc0" stroke-width="1" stroke-linecap="square" fill="none"/>
<path d="M248.4 99.8h0m2.8 0.9h0m-2.5 -0.4h0m0.2 -1.5h0m-0.5 -2.7h0m4 9h0m-2.3 -5.9h0m0.3 1.2h0m-1.2 -5.4h0m-0.4 6.2h0m0.7 0.9h0m-0.3 -4.2h0m2.8 6.2h0m1 -7.8h0m-2.8 5h0" stroke="#7b6cc0" stroke-width="1" stroke-linecap="square" fill="none"/>
<path d="M258.2 122h0m1.5 1.5h0m0.2 3.7h0m1.9 -5.9h0m0.1 3h0m-0.5 3.2h0m-0.7 -4.9h0m1.6 -4.4h0m-0.1 -8.4h0m-1 9.3h0m-3.2 -1.2h0m2.3 8.3h0m0.9 0.7h0m5.4 -21h0m0.2 13.7h0m-4.1 9.2h0m-6.3 -12.7h0m2.7 6.3h0m1.2 -3h0m8.9 9.2h0m1.7 -9.1h0m-9.8 1h0m-0.4 8.6h0m-3 -8.6h0m2.4 0.5h0m6 -3.4h0m-1.7 4.9h0m-3.4 -2h0m2.4 -1.5h0m-2.9 -1.6h0m0.6 -0.5h0m-3.7 3.8h0m6.6 -9.9h0m-4.3 0.7h0m1.5 9.6h0m-1.3 3.1h0m-0.3 -6.6h0m4.9 1.6h0m0.6 5.2h0m-8.4 3.2h0m7.5 -19.2h0m0.5 16h0m0.1 -6.8h0m-5.5 1.2h0m4.3 6.6h0m-1.7 -9.4h0m2.3 6.1h0m-1.7 0.1h0m0.5 -3.8h0m-3.2 0.7h0m5.7 6.3h0m0.1 -7h0m-3.2 6.3h0m-5.1 1.5h0m5.7 -2.8h0m2.8 -1h0m-9.2 1h0m1 -3.8h0m1.9 -2.5h0m0.7 12.6h0m4.1 -10.4h0m0.4 -0.5h0m-2.2 1.7h0m-0.9 1.9h0m-4.9 -4.1h0m0.2 5.4h0m1.7 -0.2h0m-2.5 -4.3h0m9 -0.2h0m-9.1 6.6h0m4.2 -13.6h0m-1.9 0.2h0m7.1 10.8h0m-6 1.2h0m2.3 0.5h0m-1.6 -5.8h0m0.3 8.8h0m2.4 -7.6h0m-6.1 3.3h0m-0.8 -12.6h0m2.2 13.4h0m5.3 -5.9h0m0.7 9.8h0m2.1 -1.6h0m-7.6 -7.7h0m1.1 8h0m-6.1 0.5h0m8 5.3h0m-0.5 -15.4h0m-1.1 8.9h0m4.6 -1.4h0m-3.4 3.9h0m-3.6 -4.8h0m4.6 -3.1h0m-1.5 -1.9h0m5.4 2.7h0m-1.5 2.7h0m-1.4 -10.6h0m-3.8 6.8h0m-3.9 1.1h0m5.7 -8.9h0m5.9 6.1h0m-6.9 6.6h0m5.5 -6.1h0m-9.1 3.1h0m5 4.4h0m-0.1 -1.4h0m-7.7 -1.2h0m5 -4.9h0m1.5 5h0" stroke="#fdbf6f" stroke-width="1.1" stroke-linecap="square" fill="none"/>
<path d="M248.5 131h0m-0.8 1.5h0m-1.3 2.5h0m3.1 -4.7h0m0.9 0.5h0m0.5 0.9h0m-5.6 -0.3h0m3.2 1.2h0m-0.2 1.8h0m0.8 1.3h0m-0.3 -3.3h0m0.6 -1.6h0m2.4 -0.5h0m-1.8 1.2h0m1.7 2.9h0m1.5 -2.3h0m-3.7 -2.4h0m-3.5 4.9h0m4 -1.9h0m-0.3 -1.9h0m1.3 5.4h0m-1.6 -3.8h0m-3.3 0.8h0m3.3 0.6h0m1.5 0.9h0" stroke="#fdbf6f" stroke-width="1.1" stroke-linecap="square" fill="none"/>
<path d="M272.8 115.1h0m6.4 -6.2h0m2.5 3.8h0m-11.9 -1.3h0m4.4 6.2h0m0.7 -4.7h0m-2.7 0.1h0m0.8 -1.9h0m13.1 4.3h0m-15.9 1.7h0m5.4 1.6h0m-0.8 -6.8h0m0.1 1.5h0m-3.4 -2.8h0m4.1 3.4h0m-2.8 -0.3h0m9.1 2.8h0m-7.2 -1.9h0m4.4 5.7h0m-7.9 -2.2h0m14.9 1.6h0m-8.1 -4.8h0m-6.3 3.9h0m12.4 0.2h0m-12.5 -2.5h0m4.7 -1h0m3.7 -5.9h0m-15.3 9h0m16.2 -2.5h0m3.9 -3.4h0m-4.1 -0.8h0m-4.1 -0.9h0m3.8 4.1h0m3.6 3.3h0m2 6.1h0m-12.1 -2.2h0m-2.1 -1.8h0m0.1 -4.9h0m6.3 2.3h0m-4.9 2.8h0m8.2 -5h0m-0.5 -3.1h0m1.9 -0.3h0m-7.7 2.6h0m0.7 -8.7h0m5.6 10.9h0m-10.6 1.4h0m2.7 -8h0m5.4 7.9h0m-2 6.2h0m0.7 -7.8h0m-0.2 -3.1h0m-9.7 2.3h0m7.9 -1h0m3.2 3.3h0m7.1 -4.3h0m-6.7 0.3h0m-12.9 5.4h0m11.8 5h0m-1 -5.5h0m-1.8 -5.9h0m-6.7 3.8h0m11.4 -5.8h0m0.3 4.4h0m0 1.6h0m-0.9 -1.7h0m-0.6 -1.8h0m4.2 2.3h0m-1.7 -0.3h0m-1.2 2.8h0m5.6 -4h0m-11.7 1.4h0m2.4 5.2h0m-1.7 -6.2h0m13.7 4.7h0m-4.6 -7.2h0m-2.5 4.7h0m-4.6 2.8h0m1 -9h0m1.9 6.6h0" stroke="#8b0a0a" stroke-width="1.1" stroke-linecap="square" fill="none"/>
<path d="M281.6 113h0m-1.3 -2.7h0m0.7 6.5h0m1 -10.6h0m-0.6 1.6h0m2.1 2.5h0m-2 -5h0m0.5 4.7h0m-1.2 -4.4h0m-0.2 5.9h0m1.3 0h0m-0.6 -1.1h0m-0.5 -1.5h0m0.9 -2.7h0m0.5 4.5h0m0 -0.1h0m-0.9 -1h0m-2 -2.3h0m2.5 5h0m0 -2.7h0m0.2 0.4h0m-1 -1h0m-1.4 -2.1h0m2.5 7.3h0m0.3 -2.9h0m-2 2.6h0m2.5 -7.1h0m-1.3 -3.5h0m-1.5 7.7h0m-0.1 -1.3h0" stroke="#8b0a0a" stroke-width="1.1" stroke-linecap="square" fill="none"/>
<path d="M295.8 82.6h0m-0.4 0.9h0m2 -0.9h0m-2.6 -0.6h0m1.9 -0.6h0m-1.7 2.8h0m1.1 -3.2h0m-0.9 2.1h0m1.5 -2.6h0m-1.2 1.2h0m-2.5 0.4h0m2.7 -0.6h0m1.9 0.5h0m-2.8 2.4h0m0.2 -4.7h0m2.2 1.1h0m-0.9 -1.5h0m-0.6 1.9h0m-0.3 -0.8h0m0 0.2h0m0.9 2.6h0m-1.5 -2.4h0m1.1 0.5h0m-0.4 0.6h0m-1.3 -1h0" stroke="#e6761e" stroke-width="1" stroke-linecap="square" fill="none"/>
<path d="M292.4 84.8h0m-0.6 1h0m0.8 6h0m0.6 -6.7h0m-1.9 -5.8h0m2.2 12.2h0" stroke="#8b0a0a" stroke-width="0.8" stroke-linecap="square" fill="none"/>
<path d="M291.9 102.7h0m0.1 2.3h0m-1.4 -4.4h0m-1.6 2.7h0m4.5 4.3h0m-0.3 -0.8h0m-3 -0.9h0m1.7 -2.3h0" stroke="#6a3d9a" stroke-width="0.8" stroke-linecap="square" fill="none"/>
<path d="M211.4 151.8h0m-0.9 -4.3h0m-3.7 0.7h0m3.1 -0.1h0m-1.8 5.3h0m3.9 0.1h0m-3 -7.8h0m2.6 7h0m-0.3 0.8h0m-5.8 -3.2h0m1 -6.2h0m-1.2 6.1h0m3.5 1.9h0m-1.2 -0.5h0m1.2 -0.7h0m1.1 2.5h0m-0.2 -2.7h0m-1.2 1.2h0" stroke="#a6cee3" stroke-width="0.8" stroke-linecap="square" fill="none"/>
<circle cx="205.4" cy="78.2" r="4.3" fill="#fff" opacity="0.55"/>
<text x="205.4" y="80.7" font-size="7.2" text-anchor="middle" fill="#222" stroke="#222" stroke-width="0.2" >1</text>
<circle cx="237.2" cy="56.4" r="4.3" fill="#fff" opacity="0.55"/>
<text x="237.2" y="58.9" font-size="7.2" text-anchor="middle" fill="#222" stroke="#222" stroke-width="0.2" >2</text>
<circle cx="232.2" cy="30.1" r="4.3" fill="#fff" opacity="0.55"/>
<text x="232.2" y="32.6" font-size="7.2" text-anchor="middle" fill="#222" stroke="#222" stroke-width="0.2" >3</text>
<circle cx="272.5" cy="41.6" r="4.3" fill="#fff" opacity="0.55"/>
<text x="272.5" y="44.1" font-size="7.2" text-anchor="middle" fill="#222" stroke="#222" stroke-width="0.2" >4</text>
<circle cx="275.3" cy="100.3" r="4.3" fill="#fff" opacity="0.55"/>
<text x="275.3" y="102.8" font-size="7.2" text-anchor="middle" fill="#222" stroke="#222" stroke-width="0.2" >5</text>
<text x="282.1" y="119" font-size="7.2" text-anchor="middle" fill="#222" stroke="#222" stroke-width="0.2" >6</text>
<text x="284.8" y="104.8" font-size="7.2" text-anchor="middle" fill="#222" stroke="#222" stroke-width="0.2" >7</text>
<text x="257.2" y="132.1" font-size="7.2" text-anchor="middle" fill="#222" stroke="#222" stroke-width="0.2" >8</text>
<circle cx="262.3" cy="100.3" r="4.3" fill="#fff" opacity="0.55"/>
<text x="262.3" y="102.8" font-size="7.2" text-anchor="middle" fill="#222" stroke="#222" stroke-width="0.2" >9</text>
<text x="255.2" y="90.7" font-size="7.2" text-anchor="middle" fill="#222" stroke="#222" stroke-width="0.2" >10</text>
<circle cx="295.8" cy="82.7" r="4.3" fill="#fff" opacity="0.55"/>
<text x="295.8" y="85.2" font-size="7.2" text-anchor="middle" fill="#222" stroke="#222" stroke-width="0.2" >11</text>
<text x="292.1" y="109.5" font-size="7.2" text-anchor="middle" fill="#222" stroke="#222" stroke-width="0.2" >1</text>
<circle cx="324.3" cy="24.6" r="1.9" fill="#a6cee3" />
<text x="328" y="27" font-size="6.8" fill="#222" stroke="#222" stroke-width="0.2" >Macrophage1 (1)</text>
<circle cx="324.3" cy="34.1" r="1.9" fill="#fb9a99" />
<text x="328" y="36.5" font-size="6.8" fill="#222" stroke="#222" stroke-width="0.2" >Macrophage2 (2)</text>
<circle cx="324.3" cy="43.8" r="1.9" fill="#1f78b4" />
<text x="328" y="46.2" font-size="6.8" fill="#222" stroke="#222" stroke-width="0.2" ><tspan font-style='italic'>IGF1</tspan><tspan font-size='4.4' dy='-2.2'>+</tspan><tspan dy='2.2'> Macrophage (3)</tspan></text>
<circle cx="324.3" cy="53.3" r="1.9" fill="#e31a1c" />
<text x="328" y="55.7" font-size="6.8" fill="#222" stroke="#222" stroke-width="0.2" >Mitotic macrophage (4)</text>
<circle cx="324.3" cy="63.7" r="1.9" fill="#cab2d6" />
<text x="328" y="66.1" font-size="6.8" fill="#222" stroke="#222" stroke-width="0.2" >mDC1 (5)</text>
<circle cx="324.3" cy="72.6" r="1.9" fill="#8b0a0a" />
<text x="328" y="75" font-size="6.8" fill="#222" stroke="#222" stroke-width="0.2" >mDC2 (6)</text>
<circle cx="324.3" cy="82.2" r="1.9" fill="#33a02c" />
<text x="328" y="84.6" font-size="6.8" fill="#222" stroke="#222" stroke-width="0.2" ><tspan font-style='italic'>XCXR1</tspan><tspan font-size='4.4' dy='-2.2'>+</tspan><tspan dy='2.2'> DC (7)</tspan></text>
<circle cx="324.3" cy="92" r="1.9" fill="#fdbf6f" />
<text x="328" y="94.4" font-size="6.8" fill="#222" stroke="#222" stroke-width="0.2" ><tspan font-style='italic'>GPR34</tspan><tspan font-size='4.4' dy='-2.2'>+</tspan><tspan dy='2.2'> DC (8)</tspan></text>
<circle cx="324.3" cy="101.6" r="1.9" fill="#a9a9a9" />
<text x="328" y="104" font-size="6.8" fill="#222" stroke="#222" stroke-width="0.2" ><tspan font-style='italic'>EREG</tspan><tspan font-size='4.4' dy='-2.2'>+</tspan><tspan dy='2.2'> DC (9)</tspan></text>
<circle cx="324.3" cy="111.2" r="1.9" fill="#7b6cc0" />
<text x="328" y="113.6" font-size="6.8" fill="#222" stroke="#222" stroke-width="0.2" ><tspan font-style='italic'>TREM2</tspan><tspan font-size='4.4' dy='-2.2'>+</tspan><tspan dy='2.2'> DC (10)</tspan></text>
<circle cx="324.3" cy="121" r="1.9" fill="#e6761e" />
<text x="328" y="123.4" font-size="6.8" fill="#222" stroke="#222" stroke-width="0.2" >pDC (11)</text>
<circle cx="324.3" cy="130.6" r="1.9" fill="#6a3d9a" />
<text x="328" y="133" font-size="6.8" fill="#222" stroke="#222" stroke-width="0.2" >DC (in PBMC) (12)</text>
<text transform="translate(430.5 11) scale(0.93 1)" font-size="14.2" font-weight="bold">b</text>
<g fill="#2b83c0" opacity="0.22">
<circle cx="583" cy="122" r="2.1" fill="#2b83c0" />
<circle cx="502.1" cy="92.4" r="1.6" fill="#2b83c0" />
<circle cx="572.2" cy="105.2" r="1.8" fill="#2b83c0" />
<circle cx="557.3" cy="95.3" r="1.6" fill="#2b83c0" />
<circle cx="551.5" cy="101.1" r="1.7" fill="#2b83c0" />
<circle cx="549.3" cy="93.3" r="1.6" fill="#2b83c0" />
<circle cx="535.8" cy="96.7" r="1.7" fill="#2b83c0" />
<circle cx="582.4" cy="99.6" r="1.7" fill="#2b83c0" />
<circle cx="537" cy="94.7" r="1.6" fill="#2b83c0" />
<circle cx="500.2" cy="91.8" r="1.6" fill="#2b83c0" />
<circle cx="538.8" cy="95.5" r="1.6" fill="#2b83c0" />
<circle cx="531.2" cy="114.4" r="1.9" fill="#2b83c0" />
<circle cx="544.3" cy="100" r="1.7" fill="#2b83c0" />
<circle cx="518.3" cy="91.8" r="1.6" fill="#2b83c0" />
<circle cx="526.3" cy="93" r="1.6" fill="#2b83c0" />
<circle cx="557.7" cy="93.6" r="1.6" fill="#2b83c0" />
<circle cx="577.4" cy="107.9" r="1.8" fill="#2b83c0" />
<circle cx="563.1" cy="116" r="2" fill="#2b83c0" />
<circle cx="565.7" cy="107.6" r="1.8" fill="#2b83c0" />
<circle cx="528.8" cy="132.4" r="2.2" fill="#2b83c0" />
<circle cx="583.6" cy="93.3" r="1.6" fill="#2b83c0" />
<circle cx="564.9" cy="104.5" r="1.8" fill="#2b83c0" />
<circle cx="538.5" cy="99.3" r="1.7" fill="#2b83c0" />
<circle cx="541.1" cy="118.2" r="2" fill="#2b83c0" />
<circle cx="542.1" cy="109.9" r="1.9" fill="#2b83c0" />
<circle cx="528.9" cy="113.6" r="1.9" fill="#2b83c0" />
<circle cx="578" cy="97.9" r="1.7" fill="#2b83c0" />
<circle cx="548.1" cy="117.6" r="2" fill="#2b83c0" />
<circle cx="562.1" cy="98.4" r="1.7" fill="#2b83c0" />
<circle cx="517" cy="95.6" r="1.6" fill="#2b83c0" />
<circle cx="560" cy="93.4" r="1.6" fill="#2b83c0" />
<circle cx="578.7" cy="94.7" r="1.6" fill="#2b83c0" />
<circle cx="579" cy="95.3" r="1.6" fill="#2b83c0" />
<circle cx="583.2" cy="104.1" r="1.8" fill="#2b83c0" />
<circle cx="542.4" cy="99" r="1.7" fill="#2b83c0" />
<circle cx="555.6" cy="100.7" r="1.7" fill="#2b83c0" />
<circle cx="525.1" cy="93.9" r="1.6" fill="#2b83c0" />
<circle cx="543.1" cy="119.6" r="2" fill="#2b83c0" />
<circle cx="553.1" cy="92.3" r="1.6" fill="#2b83c0" />
<circle cx="570.8" cy="104.9" r="1.8" fill="#2b83c0" />
<circle cx="578.7" cy="93.7" r="1.6" fill="#2b83c0" />
<circle cx="564" cy="92.1" r="1.6" fill="#2b83c0" />
<circle cx="555.8" cy="94.8" r="1.6" fill="#2b83c0" />
<circle cx="517.4" cy="113" r="1.9" fill="#2b83c0" />
<circle cx="506.6" cy="99.1" r="1.7" fill="#2b83c0" />
<circle cx="573.9" cy="94.4" r="1.6" fill="#2b83c0" />
<circle cx="515.9" cy="113.4" r="1.9" fill="#2b83c0" />
<circle cx="535.1" cy="104.5" r="1.8" fill="#2b83c0" />
<circle cx="499.9" cy="96.2" r="1.7" fill="#2b83c0" />
<circle cx="512.5" cy="103" r="1.8" fill="#2b83c0" />
<circle cx="504.5" cy="123.4" r="2.1" fill="#2b83c0" />
<circle cx="499.3" cy="105" r="1.8" fill="#2b83c0" />
<circle cx="498.9" cy="94.6" r="1.6" fill="#2b83c0" />
<circle cx="570.2" cy="93.3" r="1.6" fill="#2b83c0" />
<circle cx="513.5" cy="103.6" r="1.8" fill="#2b83c0" />
<circle cx="531.7" cy="92" r="1.6" fill="#2b83c0" />
<circle cx="586.1" cy="93.2" r="1.6" fill="#2b83c0" />
<circle cx="500.3" cy="95.9" r="1.7" fill="#2b83c0" />
<circle cx="552.4" cy="105.5" r="1.8" fill="#2b83c0" />
<circle cx="507.2" cy="95.8" r="1.7" fill="#2b83c0" />
<circle cx="499.8" cy="97.7" r="1.7" fill="#2b83c0" />
<circle cx="565.9" cy="105.4" r="1.8" fill="#2b83c0" />
<circle cx="578.2" cy="106" r="1.8" fill="#2b83c0" />
<circle cx="574.6" cy="104.1" r="1.8" fill="#2b83c0" />
<circle cx="539.6" cy="94.2" r="1.6" fill="#2b83c0" />
<circle cx="556.5" cy="95.4" r="1.6" fill="#2b83c0" />
<circle cx="506.2" cy="97.6" r="1.7" fill="#2b83c0" />
<circle cx="575.7" cy="92.9" r="1.6" fill="#2b83c0" />
<circle cx="549.6" cy="96.7" r="1.7" fill="#2b83c0" />
<circle cx="543.3" cy="93.1" r="1.6" fill="#2b83c0" />
<circle cx="583.4" cy="94.6" r="1.6" fill="#2b83c0" />
<circle cx="551.5" cy="97.1" r="1.7" fill="#2b83c0" />
<circle cx="498.6" cy="99.9" r="1.7" fill="#2b83c0" />
<circle cx="509.7" cy="92.1" r="1.6" fill="#2b83c0" />
<circle cx="500" cy="93.3" r="1.6" fill="#2b83c0" />
<circle cx="505.6" cy="101.9" r="1.7" fill="#2b83c0" />
<circle cx="542.7" cy="133.8" r="2.2" fill="#2b83c0" />
<circle cx="517.9" cy="97.6" r="1.7" fill="#2b83c0" />
<circle cx="519.6" cy="100.7" r="1.7" fill="#2b83c0" />
<circle cx="553.2" cy="108.1" r="1.8" fill="#2b83c0" />
<circle cx="560.9" cy="94.6" r="1.6" fill="#2b83c0" />
<circle cx="535.1" cy="99.2" r="1.7" fill="#2b83c0" />
<circle cx="497.4" cy="91.9" r="1.6" fill="#2b83c0" />
<circle cx="533.8" cy="92.7" r="1.6" fill="#2b83c0" />
<circle cx="562.1" cy="94.4" r="1.6" fill="#2b83c0" />
<circle cx="506" cy="93.6" r="1.6" fill="#2b83c0" />
<circle cx="517.8" cy="94.1" r="1.6" fill="#2b83c0" />
<circle cx="543.9" cy="98" r="1.7" fill="#2b83c0" />
<circle cx="524.9" cy="102.1" r="1.7" fill="#2b83c0" />
<circle cx="516.1" cy="116" r="2" fill="#2b83c0" />
<circle cx="583.7" cy="105" r="1.8" fill="#2b83c0" />
<circle cx="536" cy="98.9" r="1.7" fill="#2b83c0" />
</g>
<g fill="#2b83c0" opacity="0.35">
<circle cx="507" cy="127.5" r="2.2" fill="#2b83c0" />
<circle cx="551" cy="137.5" r="2.6" fill="#2b83c0" />
<circle cx="577.5" cy="142.5" r="2.8" fill="#2b83c0" />
<circle cx="563" cy="121" r="2.2" fill="#2b83c0" />
<circle cx="568" cy="125" r="2" fill="#2b83c0" />
<circle cx="526" cy="118" r="2" fill="#2b83c0" />
<circle cx="559" cy="126" r="2" fill="#2b83c0" />
<circle cx="579" cy="116" r="1.8" fill="#2b83c0" />
<circle cx="511" cy="116" r="1.8" fill="#2b83c0" />
</g>
<g fill="#bdbdbd" opacity="0.8">
<rect x="497" y="74.5" width="90" height="5.5" fill="#bdbdbd" />
</g>
<rect x="497" y="60.5" width="90.5" height="15" fill="#f4703f" rx="2"/>
<path d="M549.3 71.2h0m-14.2 -5.2h0m-20.7 4.9h0m54.3 -2.7h0m-24.8 -15.8h0m8 16.6h0m32.7 -0.9h0m-84.4 -5.2h0m7.2 5.9h0m64.7 -5.6h0m-72.2 3.9h0m34.5 -0.5h0m-17.7 -1.7h0m-11.7 4.2h0m26.1 -18.2h0m-25.9 10.1h0m10.1 4.2h0m17.5 1.7h0m31.6 0.9h0m-55.2 2.8h0m-3.7 -13.3h0m49.1 -10h0m4.5 24.1h0m-2.9 -11.1h0m5.6 6.1h0m-32 0.6h0m38.6 2.2h0m-23.8 -2.5h0m37.4 -7.4h0m-1.9 -1.4h0m-55.6 11.7h0m16.8 -0.3h0m-5.4 -6.3h0m43 1.9h0m-8.8 5.9h0m-58.8 -3.3h0m-7 3.4h0m72.6 -33.1h0m-21.7 32.8h0m-30.8 -1h0m32.8 -6.6h0m-20.3 3h0m-28.6 -0.3h0m73.3 -4.8h0m-74.7 5.2h0m54.2 3.3h0m15.7 -2.5h0m-16.8 0.8h0m25.6 -7.6h0m-36.9 10.3h0m-11.6 1h0m13.5 -15.9h0m-36.3 10.7h0m26.4 1.5h0m20 -17h0m-0.5 16.1h0m22.5 1.8h0m-19 -5.1h0m1.4 -6.3h0m-46.9 7.1h0m15.5 -1h0m50.3 0.7h0m-84.5 2.9h0m61.3 -11.5h0m-5.4 3.4h0m-55.4 -8.9h0m62.3 14.7h0m15.4 -9.3h0m-70.4 3.5h0m58.3 11.1h0m-2 -5h0m-48.3 -5.6h0m-4.7 5.1h0m25.9 5h0m11.5 -2.6h0m-31.6 -20.9h0m-11.5 25.7h0m36.1 -13.7h0m15.1 3.1h0m-15.2 2.1h0m-13.1 6.2h0m14.7 2.1h0m-37 -10.4h0m8.2 0.1h0m53.4 6.6h0m-9.5 -7.8h0m16.5 10.6h0m-61.4 -2.5h0m26.5 1h0m-39.8 -3.6h0m83.7 2.8h0m-37.5 -0.2h0m-8.4 -11.8h0m-11.7 7.5h0m15.3 2.1h0m37.7 5.2h0m-7.9 -2.1h0m-15.5 -9.3h0m0.6 8.2h0m16.4 3.1h0m-18.2 -3h0m-9 -10.7h0m23.4 6.9h0m-42.8 5.5h0m13 0h0m-15.7 -21.9h0m-14.5 11h0m23.4 9.5h0m-5.3 2.8h0m12.1 -0.8h0m-1.3 -1.2h0m39.6 -16.7h0m-39.6 11.6h0m42.6 4.7h0m-72.6 0.9h0m7.9 -6.5h0m16.1 5.3h0m36.9 1.3h0m1.1 -5.6h0m-35.7 -5.5h0m-5.1 -2.8h0m51.1 10.6h0m-20.6 -17.2h0m4.6 12h0m11.1 -10.2h0m-10.2 -8.5h0m-40.4 21.8h0m33.2 3.9h0m-24.1 2.1h0m49.2 -1.9h0m-42.1 -13.6h0m-25.4 -7.6h0m-5.2 24.3h0m19.6 -3.2h0m49.6 -12.8h0m-13.7 11.9h0m-19.1 2.3h0m25.4 -1.7h0m-48 -4h0m-11.7 4.8h0m67.8 2.1h0m-68.6 -0.9h0m9.6 -2.4h0m-0.1 0.9h0m-0.3 1.1h0m31.8 -1h0m-20.8 -7.9h0m-27.2 9.8h0m69 -3h0" stroke="#f4693c" stroke-width="4.2" stroke-linecap="round" fill="none" opacity="0.5" />
<path d="M566.6 70.5h0m-22.3 -13h0m-16.2 3.1h0m23.8 7.2h0m33.9 0h0m-45.8 -3.5h0m-13.8 -6.4h0m24.6 7h0m-5.2 -25h0m39.4 17.8h0m-46.7 9.9h0m6.1 3.6h0m-34.7 -20.5h0m48.3 2.3h0m-52.7 15.8h0m63 2.7h0m-60.5 -3.2h0m5.8 2.1h0m43.5 0.5h0m26.4 -7.2h0m-80.6 -9.4h0m16.7 12.3h0m27.8 3.9h0m-5 0.6h0m-26.4 -18.5h0m54.4 13.4h0m-12.2 -10.1h0m-47.5 10.6h0m-0.7 4.2h0m-2 -0.9h0m-4.8 0h0m28.5 -5.6h0m41.9 -10.3h0m-12.3 12.4h0m17.4 4h0m-71 -11.6h0m45.7 11.1h0m-21.9 -0.9h0m4.7 -1.5h0m-2.9 -7.9h0m36.2 5.9h0m-29.6 3.7h0m25.6 -30.3h0m-47 23.6h0m41.2 1.1h0m-58.5 2h0m15 4.5h0m33 -6.2h0m4 -2.4h0m6.8 5.3h0m-57.3 -6.3h0m67.8 -2.4h0m-19.7 13.3h0m-35.2 -0.6h0m38.5 -5h0m-39.3 -17.7h0m69.3 6.3h0m-45 14.7h0m-22.3 -10.5h0m43 10.6h0m17.7 -3.9h0m-42.9 2.3h0m26.9 -0.5h0m-5.3 3.6h0m3.8 -1.4h0m18.2 0.6h0m-50.5 -4h0m5.1 0.2h0m46.5 3.9h0m-13.2 -7.2h0m1.2 4.4h0m-29 1.3h0m1.6 1h0m-24.7 -2.7h0m0.1 0.1h0m33.4 2h0m-35.3 -4.2h0m60.4 5.1h0m-21.4 -6.2h0m23.5 -0.6h0m-50.5 6.9h0m46.3 -0.9h0m-72.1 -12.7h0m16.2 12.6h0m10.6 0.6h0m35.5 -1h0m-24.9 -0.9h0m34.4 4h0m-22.2 -1h0m-37.5 -6h0m19.7 6.6h0m18.6 -18.1h0m4.9 13.4h0m13.7 -13.5h0m-56.9 16h0m71.2 -17h0m-66.6 10.5h0m58.7 2.4h0m-15.1 1.2h0m-40.9 3.8h0m-15.1 -6.5h0m6.7 1h0m22.1 3h0m50.7 0.5h0m-43.4 0.2h0m-22.7 1.7h0m27.8 -10.9h0m-38.7 -9.2h0m51.1 21.6h0m2.9 -3.5h0m-16.9 3.1h0m-0.3 -4.7h0m23.8 -1.1h0m-6.8 -3.4h0m-42.4 9.8h0m22.6 -0.8h0m-29.5 -1.9h0m34.6 -4.3h0m9.6 -14.4h0m-47.7 15.4h0m-1.3 -2.2h0m30.7 7.3h0m-11.1 -7.1h0m14.2 -13.6h0m-10.3 18.7h0m49.6 -3.9h0m-71.3 -4.6h0m22.4 -10.7h0m23.8 10h0m22.8 6.9h0m6.2 5.2h0m-54.8 -13.5h0m-29.1 5.3h0m86.7 -1.1h0m-12 8.9h0m-28.1 -6.5h0m-9.2 3h0m31.1 2.8h0m-65.3 -5.5h0m80.7 -6.5h0m-25.7 10.7h0m20.2 2.3h0m-57.5 -11.4h0m56.7 7.8h0m1.3 3h0m-27.4 0.4h0m-31.8 -1.1h0m-19.9 -2.3h0m43.3 1.4h0" stroke="#f4693c" stroke-width="4.2" stroke-linecap="round" fill="none" opacity="0.5" />
<path d="M555.5 71.2h0m-11.7 -5.3h0m-10 -12.9h0m-24.2 14.4h0m29.1 0.7h0m45 -2.9h0m-40 2h0m-6.9 -18.4h0m31.6 14.9h0m-55.7 1.1h0m-3 3.5h0m-9.2 -5.9h0m83.5 1.5h0m-35.6 5.5h0m-11.2 -2.5h0m-1.7 2.3h0m-17.8 -8.1h0m64.1 -2.5h0m-28.9 12.8h0m-28 -13.6h0m58.7 7.8h0m-35.3 -2.8h0m-28.2 -0.6h0m10.3 -4.8h0m8.5 6h0m8.3 2.4h0m-8.4 -17.2h0m25.7 18.9h0m-21.8 -13.1h0m21.2 9.2h0m18.5 7.1h0m-31.6 -6.5h0m-12.5 -17.6h0m44.9 21.3h0m-30.8 -7.3h0m7 7.6h0m8.9 0.2h0m-56.9 -5.1h0m43.9 4.3h0m-13.2 -29.4h0m27.1 29.5h0m9.1 -2.5h0m-44.4 -1.5h0m33.2 -9.2h0m-9.9 8.8h0m-23.6 8h0m4.7 -0.6h0m42.6 -2.5h0m-29.5 -6.6h0m-37.3 -3.5h0m12.9 12.9h0m24 -3.3h0m27.9 -0.5h0m-72.1 4.3h0m-5.6 -5h0m59.8 4.7h0m-33.6 -4.5h0m49.6 -21.7h0m-1.9 18.9h0m-26.3 5.8h0m3.3 0.5h0m-27.1 -12h0m23.2 3.6h0m-9 7.3h0m3.4 -3.9h0m-22.9 -7.7h0m64.7 12.6h0m-64.7 -11.1h0m42 10.7h0m-11.9 -0.2h0m24.2 -4.6h0m-30.8 5.4h0m-9.2 -3.5h0m-3.8 3.3h0m-14.4 -7.6h0m63.6 -4.9h0m-27.1 2.2h0m-42.1 10h0m49.9 1.8h0m-54.3 -11.4h0m9.9 9.9h0m17.4 -12.2h0m-33.7 -2.2h0m25.8 9.5h0m14.7 5.4h0m42.5 -0.5h0m-13.5 -14.5h0m-30.7 -8.4h0m-34.2 23.2h0m36.8 0.6h0m28.4 -5h0m-0.8 3.1h0m-67.5 -14.2h0m15.8 12.6h0m-7.2 -2.6h0m29.6 5h0m-37.2 -1.4h0m65.2 1.8h0m-48.6 -6h0m35.6 -5h0m0.8 -2h0m-42.8 -5h0m-11.1 18.3h0m6.6 -10.3h0m35.1 -7.9h0m41.1 -3.8h0m-31.6 19.7h0m30 -6.7h0m-66.5 3.9h0m-15.4 6h0m54.1 -9.5h0m19.4 -1h0m-63.3 0.5h0m73.9 1.6h0m-43.8 5.9h0m-36.5 -4.8h0m78.6 6.5h0m-12.4 -16.3h0m-41 3.1h0m-17.2 11.4h0m36 -13.3h0m-2.7 15.3h0m34.5 -5.7h0m-13.2 4.4h0m-38.9 1.3h0m-13 -3.6h0m19.7 -3.8h0m36.9 5h0m8.1 -4.9h0m-50.8 6.5h0m53.5 -6.6h0m-79.9 -0.6h0m29.3 4.6h0m33.9 2.2h0m-43.5 -4h0m55.7 5.2h0m-6.2 -8.9h0m-57.5 1.4h0m38.8 -1.1h0m-7.3 6.5h0m-3 0.8h0m-4.2 -1.9h0m-30.5 1.9h0m20.8 -1.8h0m19.2 -6.6h0m-26.6 4.3h0m6.9 4.2h0m-17.4 -22.4h0m69.4 10.9h0m-66.6 12.2h0" stroke="#f4693c" stroke-width="4.2" stroke-linecap="round" fill="none" opacity="0.5" />
<path d="M507.6 59.2h0m28.2 -1.2h0m-0.4 2.8h0m36.1 -2h0m-72.8 2.4h0m33.1 -1.9h0m-19.8 -0.2h0m9.8 -0.1h0m-2.9 1.1h0m50.8 -0.9h0m-34.8 0.7h0m37.3 1.2h0m12.5 -2.4h0m-15.7 0.5h0m-20.1 0.9h0m-0.1 -0.8h0m-44 -1.3h0m74.9 3.5h0m-40.9 -3.1h0m33 1.6h0m-32.2 0.6h0m-27.3 -1.7h0m57.5 2h0m14.8 -1.2h0m-1.1 1.9h0m-40.6 0h0m-30.2 -3.3h0m57 0.3h0m-26.1 2.3h0m14.3 -2h0m9.5 -0.7h0m-19.7 3.4h0m-1.4 -2.4h0m39.5 1.7h0m-18 0.7h0m12.5 -1.3h0m-9.7 -0.3h0m-49.8 -0.9h0m0.6 -1h0m31.3 1.5h0m25.5 -1.4h0m-11.2 0.6h0m-40.2 0.4h0m55.5 1.4h0m-42.9 -1.9h0m-36.7 0.8h0m81 0.3h0m-26.1 1.7h0m-54.9 -2.2h0m32.4 -0.4h0m-3.1 1.8h0m-21.7 0.1h0m14.2 -0.2h0m-10.8 0.6h0m21.5 0.1h0m48 -1h0m-82.8 -0.8h0m83.5 1.1h0m-19 -0.7h0m15.9 1.7h0m-28.7 -1.2h0m-44.6 -2.4h0m9 2.9h0m56.1 0.2h0m3.5 -3h0m-75.1 0.9h0m-0.9 1.3h0m79.7 1.3h0m-72 -0.9h0m49.4 -0.1h0" stroke="#f4703f" stroke-width="4.2" stroke-linecap="round" fill="none" opacity="0.9" />
<g fill="#f5906c" opacity="0.6">
<circle cx="508.5" cy="18.8" r="3" fill="#f5906c" />
<circle cx="538.5" cy="21.5" r="2.8" fill="#f5906c" />
<circle cx="550" cy="28.5" r="2.8" fill="#f5906c" />
<circle cx="553.5" cy="33" r="2.6" fill="#f5906c" />
<circle cx="523.5" cy="36" r="2.8" fill="#f5906c" />
<circle cx="514" cy="35" r="2.7" fill="#f5906c" />
<circle cx="499" cy="40" r="2.7" fill="#f5906c" />
<circle cx="505" cy="39" r="2.7" fill="#f5906c" />
<circle cx="511" cy="39.5" r="2.7" fill="#f5906c" />
<circle cx="497.5" cy="49" r="2.6" fill="#f5906c" />
<circle cx="519" cy="46" r="2.7" fill="#f5906c" />
<circle cx="526" cy="44.5" r="2.6" fill="#f5906c" />
<circle cx="580" cy="41.5" r="2.7" fill="#f5906c" />
<circle cx="575.5" cy="45" r="2.6" fill="#f5906c" />
<circle cx="583" cy="49.5" r="2.6" fill="#f5906c" />
<circle cx="571.5" cy="48" r="2.6" fill="#f5906c" />
<circle cx="567" cy="51" r="2.6" fill="#f5906c" />
<circle cx="541" cy="47" r="2.6" fill="#f5906c" />
<circle cx="556" cy="55" r="2.6" fill="#f5906c" />
<circle cx="547.5" cy="52" r="2.6" fill="#f5906c" />
<circle cx="561" cy="50" r="2.6" fill="#f5906c" />
<circle cx="533" cy="52" r="2.6" fill="#f5906c" />
<circle cx="504" cy="52" r="2.6" fill="#f5906c" />
<circle cx="512" cy="53" r="2.6" fill="#f5906c" />
</g>
<rect x="486.5" y="80" width="110" height="12" fill="#2277b5" />
<text x="543.5" y="89.3" font-size="9.3" text-anchor="middle" fill="#fff" stroke="#fff" stroke-width="0.2" ><tspan font-style="italic">IGF1</tspan><tspan font-size="5" dy="-3">+</tspan><tspan dy="3"> Macrophage</tspan></text>
<rect x="476.5" y="10.8" width="130.9" height="138.7" fill="none" stroke="#444" stroke-width="0.7" />
<line x1="474.5" y1="17.1" x2="476.5" y2="17.1" stroke="#333" stroke-width="0.6" />
<text x="473.3" y="19.8" font-size="7.5" text-anchor="end" fill="#222" stroke="#222" stroke-width="0.2" >3</text>
<line x1="474.5" y1="40" x2="476.5" y2="40" stroke="#333" stroke-width="0.6" />
<text x="473.3" y="42.7" font-size="7.5" text-anchor="end" fill="#222" stroke="#222" stroke-width="0.2" >2</text>
<line x1="474.5" y1="62.9" x2="476.5" y2="62.9" stroke="#333" stroke-width="0.6" />
<text x="473.3" y="65.6" font-size="7.5" text-anchor="end" fill="#222" stroke="#222" stroke-width="0.2" >1</text>
<line x1="474.5" y1="85.8" x2="476.5" y2="85.8" stroke="#333" stroke-width="0.6" />
<text x="473.3" y="88.5" font-size="7.5" text-anchor="end" fill="#222" stroke="#222" stroke-width="0.2" >0</text>
<line x1="474.5" y1="108.7" x2="476.5" y2="108.7" stroke="#333" stroke-width="0.6" />
<text x="473.3" y="111.4" font-size="7.5" text-anchor="end" fill="#222" stroke="#222" stroke-width="0.2" >−1</text>
<line x1="474.5" y1="131.6" x2="476.5" y2="131.6" stroke="#333" stroke-width="0.6" />
<text x="473.3" y="134.3" font-size="7.5" text-anchor="end" fill="#222" stroke="#222" stroke-width="0.2" >−2</text>
<text x="456.5" y="82.5" font-size="7.95" text-anchor="middle" fill="#111" stroke="#111" stroke-width="0.2" transform="rotate(-90 456.5 82.5)" >log2FoldChange</text>
<text x="483.5" y="19.3" font-size="7.6" font-style="italic" fill="#111" stroke="#111" stroke-width="0.2" >IGF1</text>
<text x="524" y="19.3" font-size="6.8" font-style="italic" fill="#111" stroke="#111" stroke-width="0.2" >PTGER3</text>
<text x="477.5" y="29.8" font-size="6.7" font-style="italic" fill="#111" stroke="#111" stroke-width="0.2" >ADGRE3</text>
<text x="508" y="32" font-size="6.8" font-style="italic" fill="#111" stroke="#111" stroke-width="0.2" >SIGLEC14</text>
<text x="541" y="27.2" font-size="6.8" font-style="italic" fill="#111" stroke="#111" stroke-width="0.2" >FBN1</text>
<text x="527.5" y="38.2" font-size="6.5" font-style="italic" fill="#111" stroke="#111" stroke-width="0.2" >EIF1AY</text>
<text x="551" y="35" font-size="6.8" font-style="italic" fill="#111" stroke="#111" stroke-width="0.2" >TENM4</text>
<text x="580" y="37.2" font-size="5.6" font-style="italic" fill="#111" stroke="#111" stroke-width="0.2" >HP</text>
<text x="497" y="48.8" font-size="6.1" font-style="italic" fill="#111" stroke="#111" stroke-width="0.2" >MYB</text>
<text x="516" y="48.8" font-size="6.8" font-style="italic" fill="#111" stroke="#111" stroke-width="0.2" >SIGLEC12</text>
<line x1="501.1" y1="16.4" x2="505.5" y2="18.6" stroke="#000" stroke-width="1.3" />
<line x1="504" y1="30.8" x2="507.7" y2="33" stroke="#000" stroke-width="1.3" />
<line x1="513.6" y1="33.5" x2="518.2" y2="31.3" stroke="#000" stroke-width="1.3" />
<line x1="506.6" y1="41.1" x2="511.4" y2="38.9" stroke="#000" stroke-width="1.3" />
<line x1="516.5" y1="40" x2="520.8" y2="42.2" stroke="#000" stroke-width="1.3" />
<circle cx="623.5" cy="68.3" r="2.4" fill="#f4693c" />
<text x="628.5" y="71.2" font-size="8.4" fill="#111" stroke="#111" stroke-width="0.2" >Up</text>
<circle cx="623.5" cy="80.8" r="2.4" fill="#bdbdbd" />
<text x="628.5" y="83.7" font-size="8.4" fill="#111" stroke="#111" stroke-width="0.2" >Stable</text>
<circle cx="623.5" cy="93.3" r="2.4" fill="#2b83c0" />
<text x="628.5" y="96.2" font-size="8.4" fill="#111" stroke="#111" stroke-width="0.2" >Down</text>
<text transform="translate(1 181) scale(0.93 1)" font-size="14.2" font-weight="bold">c</text>
<text x="81" y="192.8" font-size="6.7" text-anchor="middle" fill="#222" stroke="#222" stroke-width="0.2" >−Log10 P Value</text>
<text x="8.2" y="202.2" font-size="6.4" text-anchor="middle" fill="#222" stroke="#222" stroke-width="0.2" >0</text>
<line x1="8.2" y1="203" x2="8.2" y2="204.3" stroke="#333" stroke-width="0.5" />
<text x="46.2" y="202.2" font-size="6.4" text-anchor="middle" fill="#222" stroke="#222" stroke-width="0.2" >1</text>
<line x1="46.2" y1="203" x2="46.2" y2="204.3" stroke="#333" stroke-width="0.5" />
<text x="85.6" y="202.2" font-size="6.4" text-anchor="middle" fill="#222" stroke="#222" stroke-width="0.2" >2</text>
<line x1="85.6" y1="203" x2="85.6" y2="204.3" stroke="#333" stroke-width="0.5" />
<text x="125" y="202.2" font-size="6.4" text-anchor="middle" fill="#222" stroke="#222" stroke-width="0.2" >3</text>
<line x1="125" y1="203" x2="125" y2="204.3" stroke="#333" stroke-width="0.5" />
<rect x="7.8" y="207.2" width="141.7" height="13.5" fill="#1f78b4" />
<text x="9.3" y="216.5" font-size="8.1" fill="#111" stroke="#111" stroke-width="0.2" >IGF transport and uptake by IGFBPs</text>
<text x="9.3" y="226.7" font-size="6.7" font-style="italic" fill="#111" stroke="#111" stroke-width="0.2" >PCSK9;IGF1;FBN1</text>
<rect x="7.8" y="228.9" width="115.2" height="13.3" fill="#8fa9d2" />
<text x="9.3" y="238.2" font-size="8.1" fill="#111" stroke="#111" stroke-width="0.2" >Neutrophil Degranulation</text>
<text x="9.3" y="248.2" font-size="6.7" font-style="italic" fill="#111" stroke="#111" stroke-width="0.2" >SIGLEC14;ADGRE3;HP;RETN</text>
<rect x="7.8" y="250" width="97.5" height="13.6" fill="#c3cadc" />
<text x="9.3" y="259.4" font-size="8.1" fill="#111" stroke="#111" stroke-width="0.2" >Integrin Cell Surface Interactions</text>
<text x="9.3" y="269.6" font-size="6.7" font-style="italic" fill="#111" stroke="#111" stroke-width="0.2" >COL6A1;FBN1</text>
<rect x="7.8" y="270.8" width="91.1" height="13.8" fill="#d9d9d9" />
<text x="9.3" y="280.3" font-size="8.1" fill="#111" stroke="#111" stroke-width="0.2" >Innate Immune System</text>
<text x="9.3" y="290.6" font-size="6.7" font-style="italic" fill="#111" stroke="#111" stroke-width="0.2" >SIGLEC14;ADGRE3;HP;RETN;C8B</text>
<rect x="7.8" y="292.2" width="90.1" height="13.8" fill="#d9d9d9" />
<text x="9.3" y="301.7" font-size="8.1" fill="#111" stroke="#111" stroke-width="0.2" >Post−translational Protein Phosphorylation</text>
<text x="9.3" y="312" font-size="6.7" font-style="italic" fill="#111" stroke="#111" stroke-width="0.2" >PCSK9;FBN1</text>
<line x1="7.7" y1="204.3" x2="156.5" y2="204.3" stroke="#333" stroke-width="0.7" />
<line x1="7.7" y1="204" x2="7.7" y2="305.8" stroke="#333" stroke-width="0.8" />
<text transform="translate(169.5 171.8) scale(0.93 1)" font-size="14.2" font-weight="bold">d</text>
<text x="208.3" y="173" font-size="7.6" text-anchor="middle" font-style="italic" fill="#111" stroke="#111" stroke-width="0.2" >IGF1</text>
<text x="259" y="173" font-size="7.6" text-anchor="middle" font-style="italic" fill="#111" stroke="#111" stroke-width="0.2" >RETN</text>
<text x="208" y="246.2" font-size="7.6" text-anchor="middle" font-style="italic" fill="#111" stroke="#111" stroke-width="0.2" >HP</text>
<path d="M191.2 189.7C191.9 187.7 193.8 186.6 195.3 185.7C196.8 184.8 199 184.9 200.1 184C201.2 183.1 201 180.9 201.7 180C202.4 179.1 203.2 178.6 204.1 178.7C205 178.8 206.4 179.6 207.3 180.8C208.2 182 209 184.2 209.7 185.7C210.4 187.2 211.3 188.4 211.3 189.7C211.3 191 209.7 192.4 209.7 193.7C209.7 195 210.1 196.8 211.3 197.7C212.5 198.6 215 198.9 216.9 199.3C218.8 199.7 221.8 199.3 222.6 200.1C223.4 200.9 222.6 202.8 221.8 204.1C221 205.4 219 206.9 217.7 208.1C216.3 209.3 215.2 210.6 213.7 211.3C212.2 212 210 212.6 208.9 212.1C207.8 211.6 208.1 209.3 207.3 208.1C206.5 206.9 205.3 205.2 204.1 204.9C202.9 204.6 201.4 206 200.1 206.5C198.8 207 197.3 208.5 196.1 208.1C194.9 207.7 193.7 205.8 192.8 204.1C191.9 202.4 191.2 200.1 190.9 197.7C190.6 195.3 190.5 191.7 191.2 189.7Z" fill="#dfeef3" />
<circle cx="214" cy="184.5" r="1.4" fill="#dfeef3" />
<path d="M197.3 216h0m0.5 0.7h0m25.2 -18.7h0m0.4 1.5h0m-7.9 -13h0" stroke="#dfeef3" stroke-width="0.9" stroke-linecap="square" fill="none"/>
<path d="M210.7 190.1h0m-11.8 -5.5h0m-3.1 0.6h0m13.4 1.3h0m-14.2 -1.3h0m14.6 2.5h0m12.1 12.1h0m-15.2 8.1h0m-5.2 -1.6h0m14 -7.3h0m-20.6 8.1h0m16.5 -10.1h0m-21.3 0.6h0m27.7 1.6h0m-7.3 -10.8h0m4 22.9h0m3.6 -11.7h0m-20.2 8.5h0m10.9 -25.8h0m-6 -2.2h0m14 21h0m-23.7 0h0m7.9 -17.6h0m3.8 -4.5h0m-4.1 27.6h0m20.6 -2.8h0m-10.7 -16.2h0m-13.1 -4.2h0m-1.9 24.6h0m-0.7 -22.7h0m20.5 25.3h0m-2.8 1.2h0m-2.6 -19.3h0m-0.1 -6.2h0m0.8 2.8h0m7.5 9.8h0m-18.7 7.7h0m-1.2 -21.5h0m-1 22.6h0m-5.6 -14.1h0m23.5 15.3h0m-5.4 -13.3h0m1.5 1.8h0m-14.4 10h0m2.5 -23.9h0m8.9 25.4h0m-15.5 -19.2h0m17.7 3.3h0m0.5 -1.4h0m-19.3 0.4h0m15.7 16.5h0m-12 -1.1h0m10.3 -27.9h0m-13.2 9.2h0m10.5 18.8h0m16.2 -2.3h0m-16 -25.9h0m17.9 23.4h0m-7.2 8.3h0m2.5 -11.8h0m-12.5 5.7h0m1.8 -25.9h0m-10.8 7.9h0m9.2 17.3h0m3.2 5h0m15.9 -6.9h0m-29.5 -15.7h0m14.9 24.6h0m-4.2 -6.1h0m-1 -27h0m14.8 21.5h0m-21.9 7.4h0m0.2 -0.5h0m4.8 -24.3h0m-8.3 20.8h0m4.5 4.6h0m25 -4.4h0m-27.3 3h0m6.7 -25.3h0m-9.4 19.8h0m-0.7 -5.7h0m3.2 12.2h0m27.2 -5.3h0m-13.2 10.5h0m9.6 -12.8h0m-9.8 -14.2h0m13.5 16.4h0m-13 5.7h0m12.9 -4.7h0m-12 -7.8h0" stroke="#dfeef3" stroke-width="0.8" stroke-linecap="square" fill="none"/>
<path d="M211.9 204.1h0m1.3 0.1h0m-0.2 0.8h0m-2.8 1.1h0m-0.2 -3.8h0m2.1 2.1h0m0.5 3.4h0m1.4 1.4h0m0 -3.9h0m0.8 -2.8h0m-4.7 0.2h0m3 2.8h0m-1.6 -0.5h0m0.8 -1.3h0m0.1 0.9h0m1 -0.9h0m-2.2 1.5h0m0.5 1.6h0m-0.1 -1.5h0m2.9 -2.3h0m-3.8 1.1h0m0.7 1.1h0m6.8 1.4h0m-6.3 0.9h0m-0.7 0.3h0m2.2 -2.8h0m-1.2 -0.7h0m0.3 0.5h0m2.3 -1.6h0m-0.5 -0.1h0" stroke="#fff" stroke-width="0.9" stroke-linecap="square" fill="none" opacity="0.9"/>
<path d="M207.8 195.5h0m-0.4 1.2h0m0.3 3.9h0m-0.3 -1.3h0m-1.5 0.9h0m0.7 2.9h0m1.9 -5.4h0m-0.6 -1.9h0m0.4 6.3h0m0.1 -5.1h0m-0.2 0.3h0m0.7 -0.9h0m-0.3 3.8h0m-0.8 0.2h0" stroke="#fff" stroke-width="0.9" stroke-linecap="square" fill="none" opacity="0.9"/>
<path d="M205.7 184.9h0m-2 3.7h0m7 -5.8h0m-5.4 3.1h0m-5.1 -1.7h0m4.6 -0.2h0m-0.9 -1.8h0m0 1.7h0m0 5h0m4.8 -8.1h0m-3.2 3.1h0m-0.2 3.9h0m4.9 -4.9h0m-4.8 2h0m-1 -2.2h0m0.6 8h0m-4.2 2.5h0m6.5 -12.1h0" stroke="#fdd08a" stroke-width="0.8" stroke-linecap="square" fill="none" opacity="0.95"/>
<path d="M203.7 186.2h0m0.4 -1.1h0m-2.2 -0.4h0m1.1 -0.7h0m3.1 6.3h0m-1.9 -3.1h0m-2 -1.7h0m5.1 -1.1h0m3 -4.1h0m-2.9 3.1h0m-2.4 -0.8h0m-0.2 3.9h0" stroke="#f9a050" stroke-width="0.8" stroke-linecap="square" fill="none" opacity="0.95"/>
<path d="M202.1 187.7h0m1.2 -7.2h0m0 2.5h0m5.9 -0.4h0m-7.1 -1.3h0m4.7 2.6h0" stroke="#e8602c" stroke-width="0.8" stroke-linecap="square" fill="none" opacity="0.95"/>
<path d="M197.8 200.1h0m17.3 0.2h0m-23.9 -2.6h0m16.2 -15.8h0m-11.7 21.7h0m23.7 0h0m-4.5 1.9h0m-5.2 -5.7h0m4.5 4.6h0m-18.2 -0.5h0m24.3 -2.7h0m-2.6 4.1h0m-14.4 -6.5h0m3.3 -9.3h0m-2.1 2.8h0m-7.9 -1.6h0m3.7 0.1h0m7.6 -8.4h0" stroke="#fdd9a0" stroke-width="0.8" stroke-linecap="square" fill="none" opacity="0.9"/>
<path d="M196.8 196.6h0m3.5 5.1h0m0.8 -4.9h0m15.2 8.7h0m-5.8 -15.1h0m-5.4 13.1h0m15.1 -0.9h0m-22.6 -12.9h0m0.6 8.5h0" stroke="#f59a4a" stroke-width="0.8" stroke-linecap="square" fill="none" opacity="0.9"/>
<path d="M242.7 189.7C243.4 187.7 245.3 186.6 246.8 185.7C248.3 184.8 250.5 184.9 251.6 184C252.7 183.1 252.5 180.9 253.2 180C253.9 179.1 254.7 178.6 255.6 178.7C256.5 178.8 257.9 179.6 258.8 180.8C259.7 182 260.5 184.2 261.2 185.7C261.9 187.2 262.8 188.4 262.8 189.7C262.8 191 261.2 192.4 261.2 193.7C261.2 195 261.6 196.8 262.8 197.7C264 198.6 266.5 198.9 268.4 199.3C270.3 199.7 273.3 199.3 274.1 200.1C274.9 200.9 274.1 202.8 273.3 204.1C272.5 205.4 270.6 206.9 269.2 208.1C267.8 209.3 266.7 210.6 265.2 211.3C263.7 212 261.5 212.6 260.4 212.1C259.3 211.6 259.6 209.3 258.8 208.1C258 206.9 256.8 205.2 255.6 204.9C254.4 204.6 252.9 206 251.6 206.5C250.3 207 248.8 208.5 247.6 208.1C246.4 207.7 245.2 205.8 244.3 204.1C243.4 202.4 242.7 200.1 242.4 197.7C242.1 195.3 242 191.7 242.7 189.7Z" fill="#dfeef3" />
<circle cx="265.5" cy="184.5" r="1.4" fill="#dfeef3" />
<path d="M248.8 216h0m0.5 0.7h0m25.2 -18.7h0m0.4 1.5h0m-7.9 -13h0" stroke="#dfeef3" stroke-width="0.9" stroke-linecap="square" fill="none"/>
<path d="M247.7 208.5h0m17.9 1.8h0m8.3 -7.4h0m-26.1 5.7h0m8.2 -2.9h0m6.1 -18.3h0m-18.5 12.9h0m15.1 -19.9h0m-4.7 1.2h0m3.3 -1.5h0m1.5 29.5h0m7 -11.3h0m-9.3 -19h0m0.9 26.5h0m5.1 -18h0m-13.4 -4h0m11.6 -2.8h0m-8.5 3h0m5.7 22.8h0m13.7 -7.6h0m-15.9 5.9h0m3.6 -24.7h0m-1.7 27.5h0m-3.7 -29.3h0m-10.5 9.6h0m21.2 21.4h0m-7.8 -29.9h0m-8.2 26.3h0m0 0.9h0m12.2 -20.6h0m-17 18.2h0m21.2 -6.9h0m-3.4 -10.1h0m-18.7 9.2h0m29.4 3.8h0m-7.9 -2.7h0m-18.3 -12h0m15.7 4.8h0m-18.4 10.1h0m9.2 -18h0m17.3 25.4h0m-19.8 -23.4h0m23.7 19.4h0m-19.5 -25.4h0m-4.5 27.8h0m1.4 -24.5h0m1.4 1.4h0m21.3 19.3h0m-31.1 -8.9h0m11.9 -14.3h0m1.3 25.2h0m16.5 -1.5h0m-4.5 6h0m-25.6 -11.2h0m16.1 13h0m4.9 0.3h0m-17.9 -24.7h0m15.8 8.2h0m-9.5 10.8h0m7.8 1.6h0m10.2 0.5h0m-19.7 -23.7h0m-4.1 20.7h0m-1.8 -17.7h0m12 -9.3h0m0 2.3h0m6.4 10.9h0m2 20h0m-4.6 -1.6h0m-0.2 -28.2h0m2.6 5.5h0m11.2 14.8h0m-1.7 -2.5h0m-10.1 -5.3h0m-11.1 -9.1h0m11.9 4.7h0m-19.3 10.5h0m17.4 12.7h0m-6.1 -32.4h0m-3.8 26.1h0m21.3 -1.6h0m-9.8 -9.7h0m-12.4 11.1h0m4 -27.7h0m5.9 6.5h0m-15.5 17.4h0m8.7 -20h0m-1.1 -1h0m-7.5 6.4h0m17 -0.6h0" stroke="#dfeef3" stroke-width="0.8" stroke-linecap="square" fill="none"/>
<path d="M262.3 204.2h0m3.4 1.4h0m-0.4 -4.1h0m-4.1 1.1h0m6.3 0.9h0m-2 -0.9h0m-1.3 6.7h0m1.6 -2h0m-0.5 -3.3h0m-6.4 -0.6h0m3.8 3.6h0m2.4 -4.9h0m-4.4 3.8h0m-1.1 3.1h0m8.1 -4.7h0m-1.5 1.2h0m-2.4 0.1h0m-0.2 -2.6h0m-5 3.5h0m2.7 -3.6h0m1.9 -0.5h0m0.4 5.4h0m1.9 -2.3h0m0.7 -0.9h0m0.3 -2.1h0m-3.1 2.1h0m0.9 1.4h0m-1.7 -1.8h0m0.9 -1.9h0m-1 3.4h0" stroke="#fff" stroke-width="0.9" stroke-linecap="square" fill="none" opacity="0.9"/>
<path d="M259.9 202.3h0m-0.5 -5.4h0m0.3 0.1h0m-0.2 -1.3h0m-0.9 3.5h0m1.1 -5.6h0m0.7 6.6h0m-1.2 -2.6h0m0.5 0.5h0m-1.1 2.2h0m2.5 -0.2h0m-0.9 1h0m-0.7 -0.4h0m-0.3 -6h0" stroke="#fff" stroke-width="0.9" stroke-linecap="square" fill="none" opacity="0.9"/>
<path d="M254.1 184.4h0m-1.9 -1.8h0m5.2 5.1h0m2.4 -5.3h0m-1.6 5.9h0m-2.6 -7.6h0m4.3 1.2h0m-4.6 1.4h0m1.5 -2h0m-0.5 5.8h0m3.2 -9.4h0m1.5 12.3h0m0.3 -6.3h0m-5.2 5.1h0m4.7 -5.7h0m-2.2 3.3h0m-7.4 -3.3h0m7.6 -0.2h0m1.6 -2.7h0m-3.9 7.5h0m-1.8 1.1h0m4.1 2.4h0m-4.1 -7.2h0m4.2 3.5h0m-4.5 -4.6h0m1.2 -7.2h0m-1.8 10.8h0m0.4 -4.9h0m5.9 1.5h0m-5.2 2.2h0m4.6 -6.2h0m-3.4 4.7h0m-1 -3.2h0m1 0.2h0m3.6 15.2h0m-4.1 -15.2h0m1.4 1.6h0m-3.6 3.4h0m7.3 1.5h0m-7.4 -1.2h0" stroke="#fdd08a" stroke-width="0.8" stroke-linecap="square" fill="none" opacity="0.95"/>
<path d="M257.3 183.4h0m-0.5 4.9h0m1.5 -2.1h0m2.3 -5.2h0m-4.7 7.5h0m2.6 1.3h0m-1.5 -1.4h0m-1 -0.4h0m3.7 2.1h0m-4.9 -4.2h0m-2 -0.2h0m2.9 -1.4h0m1.3 0.5h0m-1.5 3h0m1 -4.7h0m-0.8 1.2h0m-2 4.8h0m2.8 -5.6h0m-1.2 1.4h0m4.6 -2.4h0m-7.4 2.5h0m5.7 5.3h0m-3.9 1.1h0m3.4 -12.8h0m1.6 5.5h0m-1.6 -4.4h0" stroke="#f9a050" stroke-width="0.8" stroke-linecap="square" fill="none" opacity="0.95"/>
<path d="M257.2 183.1h0m1.2 6.9h0m-0.4 -6.1h0m-4.2 3.5h0m0.5 5h0m3.2 -11.9h0m-2.6 8.1h0m1.9 -0.6h0m-4.1 -0.5h0m4.4 -3.9h0m-5.6 11.3h0m5.6 -8.5h0m-1.7 4.9h0m-1.4 -9.7h0" stroke="#e8602c" stroke-width="0.8" stroke-linecap="square" fill="none" opacity="0.95"/>
<path d="M259.2 201.7h0m-6.8 -13.9h0m5 15.7h0m-11.5 -14.3h0m5.7 -2h0m7.4 9.3h0m-2.5 -9.2h0m4.7 15.9h0m5.8 2.5h0m-10.6 -4.6h0m1.3 -6.8h0m3 17.7h0m0.9 -16.9h0m-5.9 1.6h0m-6.5 -4h0m20.6 8.4h0m-4.8 0.1h0m0.3 1.9h0m-5 8.7h0m4.7 -6h0m-15.9 -14.2h0m7.7 12.2h0m1.9 -1.6h0m-7.6 1.5h0m8.8 3.8h0m-7.3 -24h0m1.5 2.5h0m3.4 11.1h0m3.8 -10.5h0m-18.1 13h0m6.5 7.2h0m-1.4 -21.5h0m10.3 4.9h0m-4.2 -4.2h0m0.5 17.9h0m-3.9 -19h0m14.5 22.1h0m-5 1.2h0m-2 -5.2h0m-1.6 -9.1h0m1.8 10.2h0m-14.1 -12.1h0m16.7 16h0m1.4 2.6h0m-19.7 -15.4h0m8.6 -0.4h0m18.1 10.7h0m-15.1 -22h0m-5.9 13.8h0m2.2 -4.5h0m6.7 -10.7h0m-1.8 18.7h0m0.4 0.9h0m-9.7 -0.8h0m0.9 1.6h0m10.8 -14.1h0m-2.8 6.7h0m3.6 8.1h0m8.3 4.5h0m-14.1 -2.9h0m18.3 0.2h0m-24.6 -11.5h0m5.7 1.6h0m16.1 8.8h0m-24.5 -10.6h0m23.3 11.2h0m-9.4 -3.8h0m2.2 -16.3h0m-13 5.9h0m3.9 -1.9h0m10.7 7.3h0m4.7 3.9h0m-5.8 1.6h0m8.9 6.2h0m-10.6 -3.9h0m11 0.5h0m-8.1 5.5h0m-7.6 -20.7h0m-7.6 17.4h0m11.3 -25.4h0m-6.4 15.5h0m4.8 -10.9h0m8.5 20.7h0m-15.1 -7.9h0m-0.8 -3.4h0m12.1 5h0m-0.9 -13.8h0m-7.7 11.8h0m-5 -8h0m0.7 -2.1h0m1.7 -3.1h0m11.9 21.4h0m6.2 -3.1h0m-20.9 -9h0m25 8.3h0m-8.9 -2.5h0m-16.9 6.5h0m22.4 1.4h0m-0.5 -3h0m-6.5 -15.4h0m-6.6 3.3h0m-3.6 11.5h0m-5.1 -3.8h0m7.9 -19h0" stroke="#fdd9a0" stroke-width="0.8" stroke-linecap="square" fill="none" opacity="0.9"/>
<path d="M256.2 198.9h0m2.9 -13.4h0m-14.2 15.8h0m14 -5.4h0m0 4.9h0m7.3 -1h0m-15.4 -12.5h0m12.9 14h0m-14.6 -14.9h0m-2.2 1.1h0m-0.7 18.3h0m-2 -7.4h0m10.1 -14.5h0m14.3 18.3h0m-11.2 -0.1h0m7.3 0.8h0m-7.1 -10h0m-3.7 11.1h0m3.8 -5.8h0m-2 -6.2h0m-12.1 0.9h0m13.9 1.9h0m-10.1 10.9h0m21.8 -3.1h0m-22.6 0.3h0m12.6 -13.4h0m-11.8 1.4h0m24.6 13.3h0m-15.7 -19.3h0m-7.1 4.7h0m19.4 17.6h0m-8.2 2.5h0m-10.7 -20.4h0m10.5 9.5h0m4.9 4.9h0m6.9 -3.8h0m-29.4 -4h0m9.5 3.8h0m15.9 4.5h0m-1.3 2.4h0m-15.7 -22h0m-2.4 19.5h0m18.1 -2.8h0m-6.7 -8h0m-16.2 3.1h0m26.4 9.3h0m-10.1 -17.1h0m-14.5 5.2h0m7.1 -7.3h0m15.9 17.6h0m4.4 -3.4h0m-20.3 -12.9h0" stroke="#f59a4a" stroke-width="0.8" stroke-linecap="square" fill="none" opacity="0.9"/>
<path d="M195 263.5C195.7 261.5 197.6 260.4 199.1 259.5C200.6 258.6 202.8 258.8 203.9 257.8C205 256.9 204.8 254.7 205.5 253.8C206.2 252.9 207 252.4 207.9 252.5C208.8 252.6 210.2 253.4 211.1 254.6C212 255.8 212.8 258 213.5 259.5C214.2 261 215.1 262.2 215.1 263.5C215.1 264.8 213.5 266.2 213.5 267.5C213.5 268.8 213.9 270.6 215.1 271.5C216.3 272.4 218.8 272.7 220.7 273.1C222.6 273.5 225.6 273.1 226.4 273.9C227.2 274.7 226.4 276.6 225.6 277.9C224.8 279.2 222.8 280.7 221.5 281.9C220.2 283.1 219 284.4 217.5 285.1C216 285.8 213.8 286.4 212.7 285.9C211.6 285.4 211.9 283.1 211.1 281.9C210.3 280.7 209.1 279 207.9 278.7C206.7 278.4 205.2 279.8 203.9 280.3C202.6 280.8 201.1 282.3 199.9 281.9C198.7 281.5 197.5 279.6 196.6 277.9C195.7 276.2 195 273.9 194.7 271.5C194.4 269.1 194.3 265.5 195 263.5Z" fill="#dfeef3" />
<circle cx="217.8" cy="258.3" r="1.4" fill="#dfeef3" />
<path d="M201.1 289.8h0m0.5 0.7h0m25.2 -18.7h0m0.4 1.5h0m-7.9 -13h0" stroke="#dfeef3" stroke-width="0.9" stroke-linecap="square" fill="none"/>
<path d="M206.8 252.6h0m-10.9 23.4h0m16.5 7.4h0m3.8 0.6h0m-4.7 -0.7h0m-6.6 -26.3h0m-3.7 24.6h0m18 -8.8h0m-5.5 -12.7h0m-7.4 -4.8h0m0 26.4h0m-8.7 -3.1h0m3.2 3h0m14.4 -17.3h0m-6.6 -11.3h0m-3.2 1.8h0m-3.1 26.4h0m14 4h0m-13 -4.9h0m-2.6 1h0m18.5 2.2h0m-9.1 -2.1h0m13.5 -8.2h0m-23.8 9.3h0m-0.7 -23.3h0m15.2 9.4h0m-8.7 -13.3h0m-0.7 -2.2h0m-10.9 17.9h0m6.4 -11.8h0m5.6 -4.6h0m19 19.3h0m-29.8 -0.1h0m15.8 -19.1h0m-4.9 24.7h0m-1.9 -22.7h0m11.5 16.2h0m-3 13.2h0m-14.6 -25.8h0m-2.6 13.6h0m2.4 -12.2h0m15.6 -3.1h0m-12.9 21.6h0m12.6 -24.2h0m-16.1 21.3h0m26.4 -3.4h0m-18 -20.3h0m0.5 2.6h0m-10.4 18.5h0m-0.5 -1.1h0m19 -6.1h0m12.2 7.7h0m-1.2 2h0m-12.7 -18.3h0m-1.6 23.3h0m-7.1 -2.1h0m4.8 -1.3h0m5.8 -13.6h0m0.3 20.3h0m-9.2 -30.8h0m-0.1 -1.3h0m-10 12.4h0m27.3 15.4h0m-19 -24.3h0m3.3 -5h0m-0.5 1.5h0m-1.6 26.9h0m4.3 -0.7h0m-13.3 -2h0m5.5 -19.2h0m-2.8 21.8h0m7.7 -26.5h0m-8.4 7.8h0m13.4 -8.6h0m3.3 7.6h0m10.4 18h0m-30.3 -14.3h0m16.3 -9.9h0m1 28.5h0m-13.8 -4.4h0m15.8 -19.4h0m2.8 27.5h0m-10 -6.7h0m-8.2 -18.6h0m21.2 11.2h0m5.9 4.6h0m-14.7 -23.4h0m8.2 30.9h0m-7.7 -1.9h0m-6.9 -27.3h0" stroke="#dfeef3" stroke-width="0.8" stroke-linecap="square" fill="none"/>
<path d="M214.3 278.3h0m2.3 -1.7h0m0.4 1.6h0m1.5 2.7h0m-2.6 -6h0m7.3 2.8h0m-8.7 2.9h0m2.6 -2.9h0m-4.1 0h0m5.6 0.2h0m-0.7 1.5h0m-1.7 0.3h0m2.2 -3.1h0m-1.5 0.5h0m0 -2.8h0m2.2 1.1h0m-2.3 4.2h0m-2.4 -5h0m0.7 1.9h0m0.3 -0.2h0m3.2 2h0m-1.9 -0.2h0m-1 0.7h0m2.1 -2.3h0m-3.6 3.6h0m0.4 0.5h0m1.3 -3.3h0m1.4 -2.4h0m0.7 3.3h0m-2.5 0.3h0" stroke="#fff" stroke-width="0.9" stroke-linecap="square" fill="none" opacity="0.9"/>
<path d="M212 273.6h0m1.1 -0.4h0m-0.7 0h0m-0.5 2.2h0m-1.2 -1h0m0.5 -2.7h0m1.1 1.4h0m-0.8 -1h0m0.3 1.1h0m0.6 0h0m0 -3.8h0m0.4 6.7h0m-0.1 -3.6h0m-0.9 2.5h0" stroke="#fff" stroke-width="0.9" stroke-linecap="square" fill="none" opacity="0.9"/>
<path d="M206.1 257.7h0m5.2 3.2h0m-5.9 -9.1h0m1.4 -5.5h0m-2.5 13h0m7.2 -1.9h0m-4.9 8.6h0m3.6 -7h0m0 -1h0m-1.1 -1.9h0m-0.8 -2h0m5.2 2.5h0m-4.9 1.8h0m2.9 0.5h0m-2.4 -1h0m1 -0.7h0m-4.9 3.4h0m6.8 -9.8h0m-2.1 7.7h0m0 2.9h0m1.3 -2.9h0m-4.2 -1.5h0m0.3 0.4h0m3.7 -0.9h0m-3.6 0.1h0m4.1 2.2h0m-1 3.4h0" stroke="#fde2a8" stroke-width="0.8" stroke-linecap="square" fill="none" opacity="0.95"/>
<path d="M205.8 261.9h0m6.8 -7.3h0m1.4 2.6h0m-8.3 5.5h0m1.4 -5.3h0m3.7 -4.5h0m-2 4.1h0m-0.3 -0.9h0m-2.4 -0.8h0" stroke="#f9b060" stroke-width="0.8" stroke-linecap="square" fill="none" opacity="0.95"/>
<path d="M202.2 277.5h0m2.7 -14.7h0m4 -1.5h0m-1.2 16.7h0m1.4 -15.5h0m3.2 9.9h0m-16.8 -8.8h0m17.4 -1.1h0m-1.8 6.2h0m-12.4 2.7h0m7.8 -10.1h0m-2.3 8.7h0m-3.2 9.3h0m7.4 -3.2h0m-7.5 -11.7h0m10.2 3.5h0m-11.3 4.7h0m8.2 -2.4h0m-4.8 0.5h0m-3.6 6.3h0m0.9 0.3h0m9.4 -16.4h0m8.5 14.6h0m-10.5 -8.6h0m-10.3 -4.5h0m12.6 7.4h0m-1.7 2.1h0" stroke="#fde6b8" stroke-width="0.8" stroke-linecap="square" fill="none" opacity="0.9"/>
<line x1="184.5" y1="226.5" x2="184.5" y2="220.5" stroke="#222" stroke-width="0.6" />
<line x1="184.5" y1="226.5" x2="191" y2="226.5" stroke="#222" stroke-width="0.6" />
<circle cx="184.5" cy="220.2" r="0.7" fill="#222" />
<circle cx="191.3" cy="226.5" r="0.7" fill="#222" />
<text x="192.8" y="227.8" font-size="6.9" fill="#111" stroke="#111" stroke-width="0.2" >UMAP_1</text>
<text x="186.1" y="206" font-size="6.9" text-anchor="middle" fill="#111" stroke="#111" stroke-width="0.2" transform="rotate(-90 186.1 206)" >UMAP_2</text>
<line x1="236" y1="226.5" x2="236" y2="220.5" stroke="#222" stroke-width="0.6" />
<line x1="236" y1="226.5" x2="242.5" y2="226.5" stroke="#222" stroke-width="0.6" />
<circle cx="236" cy="220.2" r="0.7" fill="#222" />
<circle cx="242.8" cy="226.5" r="0.7" fill="#222" />
<text x="244.3" y="227.8" font-size="6.9" fill="#111" stroke="#111" stroke-width="0.2" >UMAP_1</text>
<text x="237.6" y="206" font-size="6.9" text-anchor="middle" fill="#111" stroke="#111" stroke-width="0.2" transform="rotate(-90 237.6 206)" >UMAP_2</text>
<line x1="187.6" y1="299.6" x2="187.6" y2="293.6" stroke="#222" stroke-width="0.6" />
<line x1="187.6" y1="299.6" x2="194.1" y2="299.6" stroke="#222" stroke-width="0.6" />
<circle cx="187.6" cy="293.3" r="0.7" fill="#222" />
<circle cx="194.4" cy="299.6" r="0.7" fill="#222" />
<text x="195.9" y="300.9" font-size="6.9" fill="#111" stroke="#111" stroke-width="0.2" >UMAP_1</text>
<text x="189.2" y="279.1" font-size="6.9" text-anchor="middle" fill="#111" stroke="#111" stroke-width="0.2" transform="rotate(-90 189.2 279.1)" >UMAP_2</text>
<linearGradient id="cbd" x1="0" x2="1" y1="0" y2="0"><stop offset="0" stop-color="#eef6e8"/><stop offset="0.12" stop-color="#fff3b8"/><stop offset="0.3" stop-color="#fed070"/><stop offset="0.6" stop-color="#f4773a"/><stop offset="0.85" stop-color="#d01c1f"/><stop offset="1" stop-color="#a00020"/></linearGradient>
<rect x="244.8" y="289.5" width="37.2" height="6" fill="url(#cbd)" stroke="#333" stroke-width="0.5" />
<line x1="251" y1="289.5" x2="251" y2="290.6" stroke="#444" stroke-width="0.4" />
<line x1="251" y1="294.4" x2="251" y2="295.5" stroke="#444" stroke-width="0.4" />
<line x1="257.2" y1="289.5" x2="257.2" y2="290.6" stroke="#444" stroke-width="0.4" />
<line x1="257.2" y1="294.4" x2="257.2" y2="295.5" stroke="#444" stroke-width="0.4" />
<line x1="263.4" y1="289.5" x2="263.4" y2="290.6" stroke="#444" stroke-width="0.4" />
<line x1="263.4" y1="294.4" x2="263.4" y2="295.5" stroke="#444" stroke-width="0.4" />
<line x1="269.6" y1="289.5" x2="269.6" y2="290.6" stroke="#444" stroke-width="0.4" />
<line x1="269.6" y1="294.4" x2="269.6" y2="295.5" stroke="#444" stroke-width="0.4" />
<line x1="275.8" y1="289.5" x2="275.8" y2="290.6" stroke="#444" stroke-width="0.4" />
<line x1="275.8" y1="294.4" x2="275.8" y2="295.5" stroke="#444" stroke-width="0.4" />
<text x="245.6" y="303" font-size="6.4" text-anchor="middle" fill="#222" stroke="#222" stroke-width="0.2" >1</text>
<text x="281.3" y="303" font-size="6.4" text-anchor="middle" fill="#222" stroke="#222" stroke-width="0.2" >4</text>
<text x="263.5" y="277.6" font-size="6.7" text-anchor="middle" fill="#222" stroke="#222" stroke-width="0.2" >ln (UMI-per</text>
<text x="263.5" y="284.8" font-size="6.7" text-anchor="middle" fill="#222" stroke="#222" stroke-width="0.2" >-10000+1)</text>
<text transform="translate(289.5 172) scale(0.93 1)" font-size="14.2" font-weight="bold">e</text>
<rect x="325.2" y="169.3" width="51.8" height="10.8" fill="#b9b9b9" />
<text x="351.1" y="178.2" font-size="9.2" text-anchor="middle" fill="#111" stroke="#111" stroke-width="0.2" >Macrophage</text>
<rect x="325.2" y="182.7" width="51.8" height="102" fill="none" stroke="#333" stroke-width="0.7" />
<line x1="325.2" y1="216.5" x2="377" y2="216.5" stroke="#333" stroke-width="0.7" />
<line x1="325.2" y1="250.6" x2="377" y2="250.6" stroke="#333" stroke-width="0.7" />
<line x1="342.7" y1="183" x2="342.7" y2="284.5" stroke="#555" stroke-width="0.6" stroke-dasharray="0.8 1.6"/>
<path d="M334.6 191.2C334.7 192 334.6 194.6 335 196C335.4 197.4 335.8 198.3 336.9 199.5C338 200.7 341.6 202.2 341.7 203.4C341.8 204.6 338.7 205.5 337.6 206.5C336.5 207.5 335.7 208.4 335.2 209.5C334.7 210.6 334.8 212.4 334.6 213C334.4 213.6 334.4 213.6 334.2 213C334 212.4 334.1 210.6 333.6 209.5C333.1 208.4 332.3 207.5 331.2 206.5C330.1 205.5 327 204.6 327.1 203.4C327.2 202.2 330.8 200.7 331.9 199.5C333 198.3 333.4 197.4 333.8 196C334.2 194.6 334.1 192 334.2 191.2C334.3 190.4 334.5 190.4 334.6 191.2Z" fill="#c4262e" stroke="#111" stroke-width="0.7" stroke-linejoin="round"/>
<path d="M350.5 193C350.6 193.8 350.5 196.2 350.9 197.5C351.3 198.8 351.9 199.8 353.1 201C354.3 202.2 358.2 203.5 358.3 204.6C358.4 205.7 355 206.5 353.8 207.5C352.6 208.5 351.8 209.4 351.2 210.5C350.6 211.6 350.7 213.4 350.5 214C350.3 214.6 350.3 214.6 350.1 214C349.9 213.4 350 211.6 349.4 210.5C348.9 209.4 348 208.5 346.8 207.5C345.6 206.5 342.2 205.7 342.3 204.6C342.4 203.5 346.3 202.2 347.5 201C348.7 199.8 349.3 198.8 349.7 197.5C350.1 196.2 350 193.8 350.1 193C350.2 192.2 350.4 192.2 350.5 193Z" fill="#f5a024" stroke="#111" stroke-width="0.7" stroke-linejoin="round"/>
<path d="M367.5 188C368 188.4 369.2 189.7 370.3 190.5C371.4 191.3 373.3 191.9 374.1 193C374.9 194.1 375 195.7 374.9 197C374.8 198.3 374.1 199.7 373.3 201C372.5 202.3 371.1 203.8 370.3 205C369.5 206.2 368.7 207 368.3 208C367.9 209 367.8 209.8 367.7 211C367.6 212.2 367.6 214.3 367.5 215C367.4 215.7 367.2 215.7 367.1 215C367 214.3 367 212.2 366.9 211C366.8 209.8 366.7 209 366.3 208C365.9 207 365.1 206.2 364.3 205C363.5 203.8 362.1 202.3 361.3 201C360.5 199.7 359.8 198.3 359.7 197C359.6 195.7 359.7 194.1 360.5 193C361.3 191.9 363.2 191.3 364.3 190.5C365.4 189.7 366.6 188.4 367.1 188C367.6 187.6 367 187.6 367.5 188Z" fill="#f4a3bb" stroke="#111" stroke-width="0.7" stroke-linejoin="round"/>
<path d="M334.6 228.3C334.7 229.2 334.6 232.1 335 233.5C335.4 234.9 335.8 235.8 336.9 237C338 238.2 341.7 239.6 341.9 240.8C342.1 242 339.1 243.1 338 244C336.9 244.9 336.2 245.8 335.6 246.5C335 247.2 334.8 248 334.6 248.3C334.4 248.6 334.4 248.6 334.2 248.3C334 248 333.8 247.2 333.2 246.5C332.6 245.8 331.8 244.9 330.8 244C329.7 243.1 326.7 242 326.9 240.8C327.1 239.6 330.8 238.2 331.9 237C333 235.8 333.4 234.9 333.8 233.5C334.2 232.1 334.1 229.2 334.2 228.3C334.3 227.4 334.5 227.4 334.6 228.3Z" fill="#c4262e" stroke="#111" stroke-width="0.7" stroke-linejoin="round"/>
<path d="M350.5 231C350.6 231.8 350.5 234.6 350.9 236C351.3 237.4 351.7 238.3 352.9 239.5C354.1 240.7 358.2 242.1 358.3 243.2C358.4 244.3 355 245.2 353.8 246C352.6 246.8 351.9 247.5 351.3 248C350.8 248.5 350.7 249 350.5 249.2C350.3 249.4 350.3 249.4 350.1 249.2C349.9 249 349.9 248.5 349.3 248C348.8 247.5 348 246.8 346.8 246C345.6 245.2 342.2 244.3 342.3 243.2C342.4 242.1 346.5 240.7 347.7 239.5C348.9 238.3 349.3 237.4 349.7 236C350.1 234.6 350 231.8 350.1 231C350.2 230.2 350.4 230.2 350.5 231Z" fill="#f5a024" stroke="#111" stroke-width="0.7" stroke-linejoin="round"/>
<path d="M367.5 225.4C367.9 225.8 368.8 227 369.8 228C370.9 229 372.9 230.2 373.8 231.5C374.7 232.8 374.9 234.4 375 236C375.1 237.6 374.9 239.6 374.3 241C373.7 242.4 372.3 243.5 371.3 244.5C370.3 245.5 369.1 246.2 368.5 247C367.9 247.8 367.7 248.7 367.5 249C367.3 249.3 367.3 249.3 367.1 249C366.9 248.7 366.7 247.8 366.1 247C365.5 246.2 364.3 245.5 363.3 244.5C362.3 243.5 360.9 242.4 360.3 241C359.7 239.6 359.5 237.6 359.6 236C359.7 234.4 359.9 232.8 360.8 231.5C361.7 230.2 363.8 229 364.8 228C365.9 227 366.7 225.8 367.1 225.4C367.6 225 367.1 225 367.5 225.4Z" fill="#f4a3bb" stroke="#111" stroke-width="0.7" stroke-linejoin="round"/>
<path d="M336.4 253.6C337.7 253.8 339.5 254.3 340.4 255C341.3 255.7 342.1 256.7 342 257.6C341.9 258.5 340.8 259.4 339.9 260.5C339 261.6 337.7 262.8 336.9 264C336.1 265.2 335.6 266.2 335.2 268C334.8 269.8 334.8 273.5 334.6 274.6C334.4 275.7 334.4 275.7 334.2 274.6C334 273.5 334 269.8 333.6 268C333.2 266.2 332.7 265.2 331.9 264C331.1 262.8 329.8 261.6 328.9 260.5C328 259.4 326.9 258.5 326.8 257.6C326.7 256.7 327.5 255.7 328.4 255C329.3 254.3 331.1 253.8 332.4 253.6C333.7 253.4 335.1 253.4 336.4 253.6Z" fill="#c4262e" stroke="#111" stroke-width="0.7" stroke-linejoin="round"/>
<path d="M350.5 254C350.6 254.6 350.5 256.4 351 257.5C351.5 258.6 352.1 259.5 353.3 260.5C354.5 261.5 358.2 262.7 358.3 263.7C358.4 264.7 355 265.5 353.8 266.5C352.6 267.5 351.8 268.1 351.2 269.5C350.6 270.9 350.7 273.8 350.5 274.6C350.3 275.5 350.3 275.5 350.1 274.6C349.9 273.8 350 270.9 349.4 269.5C348.9 268.1 348 267.5 346.8 266.5C345.6 265.5 342.2 264.7 342.3 263.7C342.4 262.7 346.1 261.5 347.3 260.5C348.5 259.5 349.1 258.6 349.6 257.5C350.1 256.4 350 254.6 350.1 254C350.2 253.4 350.4 253.4 350.5 254Z" fill="#f5a024" stroke="#111" stroke-width="0.7" stroke-linejoin="round"/>
<path d="M369.3 253.6C370.6 253.8 372.4 254.3 373.3 255C374.2 255.7 374.8 256.7 374.7 257.6C374.6 258.5 373.3 259.4 372.5 260.5C371.7 261.6 370.6 262.8 369.9 264C369.2 265.2 368.6 265.8 368.2 268C367.8 270.2 367.7 275.5 367.5 277C367.3 278.5 367.3 278.5 367.1 277C366.9 275.5 366.8 270.2 366.4 268C366 265.8 365.4 265.2 364.7 264C364 262.8 362.9 261.6 362.1 260.5C361.3 259.4 360 258.5 359.9 257.6C359.8 256.7 360.4 255.7 361.3 255C362.2 254.3 364 253.8 365.3 253.6C366.6 253.4 368 253.4 369.3 253.6Z" fill="#f4a3bb" stroke="#111" stroke-width="0.7" stroke-linejoin="round"/>
<text x="322.6" y="204.2" font-size="8.0" text-anchor="end" font-style="italic" fill="#111" stroke="#111" stroke-width="0.2" >HP</text>
<text x="322.6" y="237" font-size="8.0" text-anchor="end" font-style="italic" fill="#111" stroke="#111" stroke-width="0.2" >IGF1</text>
<text x="322.6" y="272.8" font-size="8.0" text-anchor="end" font-style="italic" fill="#111" stroke="#111" stroke-width="0.2" >RETN</text>
<text x="337" y="289.3" font-size="8.1" text-anchor="end" fill="#111" stroke="#111" stroke-width="0.2" transform="rotate(-45 337 289.3)" >EGPA</text>
<text x="353.3" y="289.3" font-size="8.1" text-anchor="end" fill="#111" stroke="#111" stroke-width="0.2" transform="rotate(-45 353.3 289.3)" >Cs−remission</text>
<text x="369.3" y="289.3" font-size="8.1" text-anchor="end" fill="#111" stroke="#111" stroke-width="0.2" transform="rotate(-45 369.3 289.3)" >Cs−relapse</text>
<text transform="translate(386.5 172) scale(0.93 1)" font-size="14.2" font-weight="bold">f</text>
<text x="437" y="169.3" font-size="9.5" text-anchor="middle" fill="#111" stroke="#111" stroke-width="0.2" >EGPA</text>
<text x="488.8" y="169.3" font-size="9.5" text-anchor="middle" fill="#111" stroke="#111" stroke-width="0.2" >Cs-remission</text>
<text x="546.6" y="169.3" font-size="9.5" text-anchor="middle" fill="#111" stroke="#111" stroke-width="0.2" >Cs-relapse</text>
<rect x="395" y="191" width="9.9" height="79" fill="#2a1a14" />
<text x="402.5" y="268.3" font-size="8.2" fill="#2a9fe0" stroke="#2a9fe0" stroke-width="0.2" transform="rotate(-90 402.5 268.3)" >DAPI</text>
<text x="402.5" y="240.2" font-size="8.2" fill="#e8e030" stroke="#e8e030" stroke-width="0.2" transform="rotate(-90 402.5 240.2)" >CD68</text>
<text x="402.5" y="209.8" font-size="8.2" fill="#e020c0" stroke="#e020c0" stroke-width="0.2" transform="rotate(-90 402.5 209.8)" >IGF1</text>
<rect x="409.5" y="172.3" width="52.2" height="52.2" fill="#0a0528" />
<clipPath id="cp1"><rect x="409.5" y="172.3" width="52.2" height="52.2"/></clipPath>
<g clip-path="url(#cp1)">
<g filter="url(#b3)">
<path d="M445.8 212.1h0m-13.5 -25.1h0m16.1 28.5h0m2.4 -20h0m-5.4 18.1h0m2.8 0.5h0m7.3 -10.7h0m0.9 -5h0m-5.6 21.2h0m3.1 -25.1h0m-5.5 -1.6h0m-1.1 20.6h0m-0.4 -4.3h0m-0.9 3.3h0m1.5 2h0m-1.9 -19.6h0m3.7 23h0m-0.1 -2.7h0m5.7 -17.7h0m-2.3 23.7h0m-0.1 0.3h0m-11.1 -31.4h0m8.2 14.5h0m2.8 -2.6h0m-17.8 -14.4h0m15.9 31.9h0m-14.6 -31.3h0m12 20.5h0m-0.3 -3.2h0m-1 3.8h0m5.1 -7h0m6.8 -3.6h0m-8 6.7h0m0.9 0.3h0m-3.8 -0.2h0m-9.5 -15.5h0m19.4 6.8h0m-14.4 -4h0m-5.3 -4.9h0m18.6 14.3h0m-5.1 -6.7h0m-11.3 -4.5h0m8.8 25.7h0m-7.1 -24.3h0m-7.5 -4.6h0m13.9 27.4h0m5.6 -17.9h0m-4.5 7.3h0m0.6 12.5h0m6.1 -20.1h0m0.6 -0.1h0m0.1 -0.1h0m-9.1 16.8h0m11.2 -15h0m-7.4 -3.5h0m-1.9 23.7h0m-0.1 -1.4h0m-2.3 -2.6h0m0.5 -20.3h0m3.7 9.4h0m-0.6 16.6h0m6.3 -19.6h0m-9.5 5.6h0m-3 4.5h0m2.6 1.9h0m-1.4 0.1h0m-0.9 -20.7h0m-11.9 -4.6h0m18 31.6h0m-17 -30.4h0m13.4 21.9h0m-6.2 -20.1h0m9.1 25.7h0m-4.5 -24.5h0m4.5 29.6h0m6.3 -21.6h0m-9.4 13.2h0m8.7 -17.3h0m-5.4 25.2h0m-2.4 -10.6h0m-12.4 -22.6h0m14.1 33.5h0m-12.1 -31.8h0m19.7 11.1h0m-10.2 10.3h0" stroke="#7038c0" stroke-width="1" stroke-linecap="round" fill="none" opacity="0.85" />
<path d="M448.5 206.7h0m-3 1.9h0m9.9 -11.4h0m0.9 4.6h0m-17 -10.8h0m14.3 10.9h0m-8.7 10.4h0m12.3 -11.6h0m-20.6 -10.9h0m19.3 8.4h0m-1.7 -0.9h0m0.6 -1.4h0m-2.3 -1.3h0m-13.8 -5.5h0m17.4 12.5h0m-7.9 1.8h0m-11.3 -14.2h0m10.5 22.9h0m-5.9 -23h0m1.6 2.9h0m14.2 5.2h0m-11.3 -3h0m3.9 10.1h0m-1.6 2h0m9.4 -7h0m-19.9 -10.3h0m-0.3 0.4h0m-1.8 -1.3h0m11.5 18.2h0m6.6 -10.1h0m-3.1 5.9h0m-6.1 -9.2h0m6.3 1.8h0m-13.3 -4.1h0m10.9 4.4h0m6.8 1.6h0m-9 16.5h0m3.7 2h0" stroke="#e080e0" stroke-width="1" stroke-linecap="round" fill="none" opacity="0.85" />
<path d="M445.5 212.6h0m7 -16h0m-4.9 11.4h0m1.1 7.7h0m1.2 3h0m5.7 -19.3h0m-8.9 16.4h0m8.2 -21.6h0m-16.5 -4.5h0m17.2 7.1h0m-5.6 20.9h0m5.4 -17.6h0m-6.1 16.1h0m-2.3 -0.3h0m9.9 -16h0m-10.9 14.8h0m5.2 -19.8h0m-4.1 21.6h0m0.7 -1.4h0m3.1 -11.4h0m-8 -12.6h0m13 9.4h0" stroke="#fff0c8" stroke-width="1" stroke-linecap="round" fill="none" opacity="0.85" />
<path d="M463.2 179.9h0m-14.2 -4.3h0m-4.3 0.1h0m2.4 -3.1h0m9.5 4.7h0m-0.8 1h0m-3.6 -1.9h0m6.9 2.8h0m-5.9 -5.5h0m6.6 3.8h0m-14.6 -1.1h0m6.2 -0.3h0m5.4 -0.8h0m-4.1 -1.2h0m-6.9 0.3h0m14.4 4.7h0m-4.2 -4.6h0m1.7 1.4h0m-5.4 -1.5h0m1.6 1.2h0m5.9 2.7h0m-7.3 -0.8h0m3.3 -1.2h0m2.5 -1.7h0m3.8 -0.3h0m-6.9 0.5h0m-5.4 0.9h0m-5.2 -1.2h0m4.1 1.3h0m6.9 -1.1h0m-8.2 1.3h0m2.2 0.8h0m1.7 0.7h0m10.5 -2.2h0m-3.5 1.4h0m4.4 2.1h0m-10.5 -3.8h0m4.6 -1.8h0m-9.2 0.1h0m10.6 5.5h0m-3.6 -6.4h0m-9.5 2.3h0m12 1.9h0m-8.9 -3.2h0m10.3 2.8h0m-3.5 -2.2h0m-5.3 0.9h0m8.9 4.3h0m-1.9 -3.7h0m-8.1 0.4h0m3.4 1h0m6.9 0.4h0m-0.3 -2h0m-1.3 0h0m-9.9 0.1h0m3.3 1.1h0m5.9 -0.4h0m-7 -0.4h0m9.1 -0.6h0m0 -0.9h0" stroke="#8848c8" stroke-width="1" stroke-linecap="round" fill="none" opacity="0.9" />
<path d="M454.8 173.6h0m-7.6 1.3h0m11.5 0.3h0m-0.2 -1h0m-7.7 0.3h0m-9.1 -1.1h0m5.9 2.7h0m-0.6 0.7h0m0.1 -0.2h0m5.4 0.1h0m-0.8 -0.2h0m-6 -2.1h0m14.2 0.5h0m-15.5 -3h0m9.3 4.6h0m-2.5 -2.3h0m-1.7 1.8h0m5.5 -3.1h0m-8.2 2.6h0m5.4 -1.1h0m9.8 4h0m-8.3 -2.5h0m5.7 5h0m-5.3 -5.7h0m6 1.3h0m-1 -0.5h0m-6.4 -2.6h0m5.2 4h0m-4.2 -3.8h0m-1.1 1h0" stroke="#f0a0e0" stroke-width="1" stroke-linecap="round" fill="none" opacity="0.9" />
<path d="M424.6 174.8h0m-0.1 3h0m1.9 -2.2h0m4.5 2.1h0m-3.3 -1.8h0m0 0.7h0m2 1.8h0m2.6 -3.2h0m2.1 0.6h0m-8.1 -0.1h0m3.5 1.2h0m0.2 0.2h0m-2.4 -0.9h0m0.1 -1.5h0m3.5 -0.1h0m-3.9 0.2h0m-2.3 2.5h0m3.5 -0.4h0m-2.8 -1h0m3.2 0h0m-1.7 1h0m2.1 0.1h0m2.5 -0.6h0m-7.1 -0.6h0m2.7 0.3h0" stroke="#9050c8" stroke-width="1" stroke-linecap="round" fill="none" opacity="0.9" />
<path d="M427.4 178.1h0m-0.3 -3h0m1.2 2.2h0m2.5 -0.4h0m2 1.3h0m-5.4 -1.6h0m3.3 -1.9h0m-6 2.4h0" stroke="#f0e0a0" stroke-width="1" stroke-linecap="round" fill="none" opacity="0.9" />
<path d="M421.1 193.7h0m0.9 -3.5h0m-0.5 -3.6h0m-2.3 -1h0m2.8 7.7h0m-0.7 -1.2h0m0.3 1.6h0m-2.4 -7.3h0m5 6h0m-4.1 -5.6h0m0.3 -1.8h0m0.1 5.5h0m-1.1 -1h0m-2.3 -3.7h0m4.3 -2.5h0m-2 8.2h0m0.4 -0.1h0m-1 -7.2h0m4.3 7.1h0m-4.7 -4.8h0m3 4.3h0m-2.1 -5.4h0m1.6 6.4h0m-1.7 -7.1h0m1.3 8.2h0m1.1 1.8h0m-4.5 -11h0m5.5 10.5h0m0 3h0m-1.8 -6.5h0m-2.9 -2.9h0m1.6 -4.3h0m-1 2.5h0m4.2 6.2h0m-2 -4.4h0" stroke="#7038c0" stroke-width="1" stroke-linecap="round" fill="none" opacity="0.9" />
<path d="M417.9 186.9h0m3.3 5.1h0m0.9 2.8h0m-1.7 -6.5h0m-1.1 -2.1h0m-0.9 4.6h0m2.2 -4.5h0m0.4 8.4h0m1.9 -1.2h0m-3.8 -9.8h0" stroke="#e080e0" stroke-width="1" stroke-linecap="round" fill="none" opacity="0.9" />
<path d="M412.4 211.2h0m1.1 1.5h0m2.1 -2h0m0.3 1.8h0m-4.9 3.3h0m2.5 -0.4h0m0.3 -3.6h0m1.3 -1h0m-1.3 -1.4h0m0.1 1.8h0m0.3 -0.6h0m-1 -4.4h0m0.5 4.5h0m1.7 7.5h0m-1.8 -5.4h0m-2.9 -0.2h0m1.5 -3.3h0m1.2 2.3h0m0.5 -0.3h0m0.2 -2.9h0m-0.3 10.4h0m-1.7 -12h0m-0.2 11.3h0m3 -7.8h0m2 5h0m-1.5 4.8h0m-2.1 -7.7h0m2.2 4.9h0m-1.4 -9.9h0m0.2 1h0m1.1 9.3h0m-0.1 3h0m0.3 -0.1h0m-0.3 1.5h0m-0.7 -2.3h0m-1.1 -13.1h0m0.9 8.5h0m-2.1 -4.3h0m2.3 1.5h0m-1.4 -5.3h0" stroke="#8030b8" stroke-width="1.1" stroke-linecap="round" fill="none" opacity="0.9" />
<path d="M413.6 221.4h0m-4.1 0.7h0m4.1 -3.5h0m-0.5 0.8h0m3.4 -2.1h0m-1.7 3.1h0m2.7 -5.3h0m-4.4 4.4h0m1.6 0.1h0m-3.3 0.8h0m1.8 0.6h0m1.6 -3.4h0m-0.3 2.7h0m0.1 -2.2h0m-1.9 -1.2h0m2.7 3.9h0m-2.7 -1h0m0.3 -1.5h0m1.2 0.4h0m-1.5 0h0m2.5 3.6h0m-4.3 -4.8h0" stroke="#e838d8" stroke-width="1.2" stroke-linecap="round" fill="none" opacity="0.95" />
<path d="M461.4 174.3h0m-47.1 35.3h0m34 8.3h0m-1.5 -11.7h0m-30.3 -7.1h0m27.1 3.6h0m13.3 16.2h0m-42.1 -10.3h0m-5.2 -8.6h0m17.1 3.2h0m-17 0.9h0m38.1 -5.7h0m-0.7 25.8h0m-35 -37.8h0m9.4 30.5h0m11.7 1.1h0m4.1 -41.7h0m5.2 33.8h0m-0.7 -23.7h0m6 0.9h0m1.7 6.2h0m-2.2 -2.9h0m-20 15.9h0m14.7 -24.5h0m11.3 4.9h0m-6 13h0m-31.8 -5.9h0m33.2 4.6h0m-20.6 14.3h0m-5.4 -2.2h0m27.3 -12.8h0m0.6 25.8h0m2.1 0.5h0m-6.8 -23.2h0m12.7 -27.6h0m-5.6 25.6h0m-17.2 5.9h0m9.7 5.5h0m14.1 14h0m-25.8 -3.2h0m2.6 -38.7h0m25 7.5h0m-9.6 -17.1h0m-2.5 -0.5h0m-9.3 41.7h0m21.1 -36.7h0m-19.6 7.9h0m-10.5 -9h0m-3.2 12.8h0m-10.2 -12.6h0m33.8 44.9h0m-35.6 -4.3h0m37.2 -42.8h0m-23.8 35.3h0m4.2 -0.9h0m-2.4 -4.8h0m6.2 -29.3h0m-22.7 6.6h0m39.7 31.2h0m-25.9 -33h0" stroke="#2c1c88" stroke-width="0.8" stroke-linecap="round" fill="none" opacity="0.8" />
</g>
</g>
<rect x="431.8" y="186.4" width="11" height="10.2" fill="none" stroke="#fff" stroke-width="0.6" stroke-dasharray="1 0.8"/>
<line x1="447.5" y1="222.1" x2="460.5" y2="222.1" stroke="#fff" stroke-width="0.9" />
<rect x="466.2" y="172.3" width="52.2" height="52.2" fill="#0c0a2c" />
<clipPath id="cp2"><rect x="466.2" y="172.3" width="52.2" height="52.2"/></clipPath>
<g clip-path="url(#cp2)">
<g filter="url(#b3)">
<path d="M477.1 189.4h0m-10.2 22.2h0m43.4 -22.1h0m-23.9 31.9h0m0.6 -3.2h0m1 -40.7h0m25.1 37.4h0m-2.9 -14h0m3.8 2.3h0m-9.8 -9h0m-16.8 -1.9h0m20 20.8h0m-30.4 1.2h0m9.6 7.3h0m12.4 -7h0m15.6 -8.8h0m-38.2 -30.5h0m33.1 15.7h0m-36.3 18h0m33.9 -21.7h0m2.4 -4.7h0m6.2 13.8h0m-45.8 -10h0m45.6 -4h0m-20.6 20.4h0m-11.4 -26.7h0m7.1 45h0m17.3 -1.6h0m-16.1 -39.5h0m11.9 34.8h0m-7.3 -4.6h0m13.4 -22.1h0m-0.3 8.1h0m-27.4 -18.7h0m15.5 10.1h0m2.3 -12.7h0m-28.2 3.1h0m42.4 30.4h0m-35.6 -13h0m13.4 12.8h0m-20.9 -0.8h0m13.1 -23.2h0m33.1 5.6h0m-29.9 -0.3h0m25.5 1.9h0m-24.1 -16.3h0m-13.8 6.5h0m33.3 33.4h0m-35.7 -15.2h0m-1.6 -5.4h0m2.4 1h0m-3.9 21.6h0m7.2 -13.5h0m18.8 -13.8h0m-0.4 -17.2h0m-17.6 25.8h0m25.2 3.9h0m12.4 13.2h0m-19.7 -31.8h0m-9.1 -4.1h0m17.7 35.2h0m-28.4 -1.2h0m31.1 -21.2h0m-11.9 25.9h0m-20.6 -43h0m30.1 14.9h0m-37.6 -13.6h0m32.5 46.7h0m10.5 -20.1h0m7.5 -4.4h0m-38.9 -22.8h0m-3 35.5h0m4.2 10.8h0m-6.6 -36.5h0m40.1 -5.4h0m-43.5 -7.3h0m31 10.9h0m-11.2 26.6h0m8.2 -32.2h0m15.5 41.8h0m-34.8 -37.9h0m-9.8 19.4h0m6.5 -27h0m-1.2 20.9h0m36.1 9.6h0m-8.4 -0.4h0m-27.5 8.4h0m10.6 -19.4h0m2.7 -4.1h0m-15.9 23.9h0m30.5 3.4h0m-22.7 -19.8h0m3.6 -18.5h0m-9.3 31h0m7.1 -28h0m19.5 14.9h0m11.1 -15.3h0m-28.9 -6.3h0m21.5 36.1h0m-32.1 -0.6h0m0.3 -25.5h0m25.3 38.1h0m-0.2 -10h0m18.4 -7.2h0m-42.3 10.8h0m-0.5 -33.4h0m19.6 3.8h0m6.2 24.4h0m-21.1 -18.6h0m35.9 -20h0m-35.3 42.5h0m10.6 -3.1h0m9.6 -38h0m-29.6 36h0m46 -31.6h0m-41.6 11.8h0m45.5 -2.5h0m-12.3 32.5h0m-0.9 0.6h0m-36.1 -1.6h0m24.3 -25.6h0m16.9 1.7h0m-13.3 -1h0m-1.4 26.7h0m-10.3 -5.4h0m18.3 -41.4h0m-28.7 3.8h0m3.2 30.7h0m-1.9 -30.6h0m-8.1 7.4h0m-1.3 -6.7h0m15 4.8h0m18.8 0.7h0m-7.9 24.4h0m0.4 1.3h0m11.8 -35.9h0m13.2 50.2h0m-29.9 -42.7h0m-18.9 23.2h0m36 3.6h0m-15.8 14.7h0m-17.3 -45.3h0m35.5 14.1h0m-22.2 23.4h0m-3.4 -37.1h0m0.7 39.8h0m2.6 -27.7h0m28.9 -3.5h0m-42.9 34h0m1.7 -0.6h0m0 -26h0m-4.2 -5.4h0m21.7 -0.9h0m4.3 33.5h0m-7.2 -45h0m-11.2 45.4h0m-5.5 -11.7h0m18.8 -23.8h0m12.1 15.2h0m-27.7 10.6h0m31.8 -8.6h0m12.2 8.8h0m-39.6 -23.4h0m25.7 -16.7h0m-25.2 46.1h0m21.8 -13.4h0m-9.5 12.3h0m-24.9 -42.3h0m4.9 6.5h0m9.9 -3.4h0m13.5 7.2h0m9.8 27.4h0m0.7 7.1h0m-0.5 -27.1h0m-29.1 1.7h0m27.7 -2.6h0m0.1 17.4h0m-21.4 -29.6h0m-0.6 24.4h0m-4 16.2h0m5.8 -22.7h0m13.7 2.3h0m7.5 -18.2h0m-33.9 23.4h0m5.9 -3.4h0m0.4 -3.7h0m12.1 -1.9h0m19.3 15.8h0m7.1 -2.4h0m0.3 -30.3h0m-36.7 17.4h0m20.2 -4.5h0m-32.7 -9.6h0m16.3 19.8h0m30.4 -13.5h0m-11.8 31.3h0m-0.7 -5.6h0m13.7 0h0m-47.2 -31.7h0m23.3 35.3h0m26.3 -22.5h0m-3.8 -20.8h0m-42.2 1.1h0m20.8 40.4h0m9.5 -8.6h0m-14 6.3h0m-4.7 -15.3h0m-11.7 13h0m0.7 1.1h0m-3.6 -18.8h0m43.6 7.6h0m-3.3 -23.4h0m-14.8 -2.8h0m-5.8 2.9h0m16.1 21.5h0m-15.6 -11.5h0m8.7 34.2h0m-3.9 -4h0m22.4 -25.2h0m-11.9 -18.7h0m-12.8 25.2h0m8.6 16.4h0m19.3 -6.7h0m-19.7 -18.1h0m-29.4 -19h0m8.1 48.5h0m40.9 -11.1h0m-9.1 11.8h0m3.6 -38.4h0m-42 22.9h0m10.6 -27.7h0m11.3 -5.4h0m-16.1 49.3h0m2.5 -37.1h0m4.6 22.6h0m-5.7 9.8h0m37.4 -18.5h0m-3.6 -22.1h0m-31.7 23.8h0m-4 -24.6h0m1.3 47.4h0m31.3 -4.4h0m-26.5 -31.7h0m35.7 0.8h0m-28.4 20.6h0m8.6 8.1h0m-1.2 -38.2h0m3.3 0.5h0m11.7 -7h0m-27.8 32.8h0m28.7 -2h0m2.6 -14h0m-37.2 32.4h0m17.6 -21.1h0m21.2 -19.6h0m-42 6.4h0m21.5 21.3h0m-8.5 -28.6h0m22.4 3.2h0m-37 41.3h0m43 -0.9h0m-14.2 -25.9h0m-29 -10.1h0m21 30.8h0m-7.6 -10.7h0m7.8 -8.2h0m-14.2 3.3h0m23 17.4h0m-7 -7.5h0m16.9 -19.4h0m3.5 30h0m-26.3 -40.8h0m17.7 15.4h0m-10 26.1h0m-3 -27.2h0m20.1 -0.4h0m-13.1 18.5h0m-33.7 -0.6h0m23.2 -8.9h0m4.2 -21.3h0m13.3 1h0m-36.9 -6.8h0m-2.1 18.8h0m19.8 14.1h0m17.3 -12.1h0m3.7 -24.9h0m-30.6 12.1h0m20.3 8.9h0m10.5 -3.5h0m-15.1 24.7h0m-23.8 -39.8h0m-5.3 41h0m28.1 -7.8h0m15.6 -0.4h0m-21.3 11.5h0m4.6 -2.3h0m-11 -9.7h0m3.7 -32.4h0m12.7 23.9h0m-26.4 -6.3h0m31.5 5.2h0m-35.8 22.4h0m37.9 -15.4h0m-8.4 10.2h0m-25.8 -36.1h0m11.6 10.9h0m8.9 -0.4h0m-18.4 15.3h0m32.7 -26.4h0m-4.8 23h0m-32.3 -4.2h0m12.1 -2.8h0m28 0.7h0m-3.9 2.7h0m-17.2 0.7h0m-9.4 -18h0m10.9 14.5h0m0.7 15.2h0m-6.3 -15.8h0m2.8 -1.3h0m7.2 15.1h0m17.8 -11.1h0m2.7 -18.5h0m-13.5 14.3h0m0.6 11.4h0m-22.2 -20.2h0m5.3 6.2h0m-0.3 22.8h0m12.4 -13.2h0m8.7 4.1h0m-0.4 -29.5h0m-19.9 15.1h0m14.7 25.7h0m-13.7 -38.9h0m28.3 38.2h0m-32.7 -30.8h0m-13.9 19.2h0m26.7 -1.8h0m-15.2 3.9h0m30.3 -17.7h0m-8.4 26.9h0m16.2 -40.1h0m-13 36.3h0m8.2 -0.7h0m-31.9 -33.5h0m2.5 0.5h0m14.9 31.3h0m-12.7 -21.3h0m3.4 22.1h0m18.2 -37.6h0m-16.1 19.5h0m-24.3 30.9h0m44.4 -22.5h0m-22.5 -24.7h0m-16 -1.1h0m24 1.7h0m-23 28.7h0m34.7 7.7h0m-7.7 -26.9h0m-15.9 -3.9h0m19.9 15.4h0m-34.1 -9.8h0m8.4 12.4h0m15.9 1.9h0m-26.3 -3.4h0m31.9 -9h0m14.1 15.5h0m-38.7 -24.1h0m6.8 18.3h0m-12.3 11.4h0m27.1 -19.9h0m-3.9 18.5h0m-3.3 -33.1h0m-14.1 35.9h0m-6.5 -20.5h0m40.1 15.1h0m-3 1.7h0m-34.1 -21.6h0m41.3 -7.3h0m-7.9 6.5h0m-22 7.1h0m-15.5 -5.1h0m48.2 3.9h0m-23.2 -15.2h0m-15.9 7.7h0m4.8 21.9h0m34.1 -14.6h0m-4.8 22h0m-23.3 1.8h0m4.8 -18.5h0m3.1 -3.1h0m7.2 24h0m-17.9 -3.6h0m4.2 -20h0m-3.6 -12.5h0m4.4 32.8h0m-7.4 1.7h0m7 -42.4h0m-19.8 49.1h0m-3.1 -26.3h0m5.1 11.7h0m3.7 12h0m-10.3 0.2h0m11.5 -34.1h0m-5.7 34.7h0m42.9 -4.1h0m-44.9 -44.3h0m41.9 1.7h0m-43.7 5.1h0m23.4 25.5h0m7.9 12.2h0m10.5 -17.7h0m-33.2 14.1h0m15.2 -18.7h0m-19.4 16.8h0m21.8 -28.9h0m-26.6 3.3h0m49.4 10.9h0m-19.9 -3.2h0m-1.7 -15.3h0m10 19.6h0m-5.2 9.3h0m13.7 3.9h0m-42.4 -37.7h0m-3.9 13.5h0m9 32.8h0m-8.4 -11.6h0m17.7 -6.7h0m20.8 -27.9h0m-20 17.5h0m-15.9 -15.1h0m-3.8 22.9h0m39.9 7.9h0m-0.1 -11.2h0m-15.5 -8.7h0m8.4 19.3h0m-27.8 9.9h0m30.2 0.6h0m-23.6 -14.2h0m6.5 -12h0m30.9 16.6h0m-31.8 1.8h0m32.5 -31.9h0m-24.4 -3h0m-11.1 28.8h0m-14.2 -0.8h0m9 12.9h0m32.2 0.4h0m-36.6 -24.4h0m34.8 13.5h0m-31 2.8h0m18.6 -8.6h0m-23.5 4.7h0m0.2 12.2h0m35.7 -35h0m-20.7 -5.3h0m-7.5 49.2h0m2.7 -21.2h0m4.3 14h0m22.8 -4.6h0m7.1 -35.2h0m2.4 31.7h0m-14.9 -11.1h0m-31.8 -14.9h0m33.1 14.9h0m-15.6 18.8h0m21.9 -37.8h0m-11.5 45.4h0m5.9 -13.7h0m-24.3 -10.4h0m-10.1 -18.4h0m41.8 -3.3h0m1.9 17.6h0m-35.6 23.7h0m22.5 -17.3h0m6.2 -27.6h0m-21.2 7.7h0m18.5 34.2h0m3.5 -40.7h0m5.6 46.3h0m-41.7 -6h0m13.2 4h0m25.6 -47.3h0m-0.5 15.2h0m-11.6 33.2h0m-8.7 -46.6h0m-12.9 28.6h0m38 -14.6h0m-42.8 -1.8h0m24.6 -8.9h0m-8.6 17.2h0m-3 -0.5h0m-3.4 -16.8h0m-4.3 43.8h0m20.3 -13.3h0m-4.1 -34.1h0m-2.4 9.5h0m-17.9 22.8h0m30.3 -17.2h0m-25.3 3.5h0m-7.5 -5.5h0m26.4 -7.6h0m7.4 38.4h0m-22.7 -3.9h0m31.4 -16.4h0m-41.3 14.7h0m41.8 -10.6h0m-18 -6.2h0m-12.8 -18.3h0m14.1 2.4h0m19.5 -5.3h0m-17.5 48.3h0m-22.4 -49.6h0m31.1 17.2h0m6.6 12.6h0m1.4 17.4h0m2.2 -3.9h0m-26.5 -18.4h0m-5.5 10.4h0m3.5 -29.9h0" stroke="#2828c8" stroke-width="1" stroke-linecap="round" fill="none" opacity="0.9" />
<path d="M487.1 201h0m-3.2 22.6h0m-12.6 -48.9h0m10.3 47.2h0m24.2 -10.9h0m-5.6 -13.9h0m1.3 -22.8h0m-3.8 24.5h0m-8.8 -23.2h0m20.2 25.2h0m-28.1 -14.2h0m31.8 24.6h0m-23.8 -23.4h0m-20.9 12.7h0m48.5 -1.5h0m-44 10.6h0m-5.9 4.1h0m40.5 -38.8h0m-17.6 44.3h0m22.3 -44.3h0m-6.7 24.5h0m-24.9 -22.5h0m33.5 22.3h0m-15.4 0.5h0m-18.6 5.8h0m20.9 11.5h0m-28.4 -24.7h0m-4.9 28.1h0m34.3 -6.2h0m-22.9 -11.6h0m25 -29.5h0m-14.8 22.3h0m19.8 -13.6h0m7.2 35.4h0m-35.9 -14h0m0.4 -8.5h0m-6.4 -2.3h0m41.4 -14.5h0m-21.5 27h0m-7.9 -28.7h0m32.1 46.8h0m-9.3 -34.2h0m-13.2 34.1h0m-28.4 -16.2h0m32.2 0.3h0m-6.1 -20.9h0m-21.1 31.9h0m11.7 2.4h0m28.1 -41.3h0m-1.1 21.4h0m-3.5 8.8h0m-41 -15.5h0m33.8 -3h0m-10.6 -8.8h0m14.1 25h0m4.3 11.9h0m-15.9 -7.2h0m0.3 -17.1h0m7.7 25h0m-9.3 -29h0m22.4 29.4h0m-11.8 -47.5h0m-8.4 43.7h0m13.5 -33.6h0m-27 23.6h0m2.1 -30.4h0m-13.2 31.6h0m34.7 0.6h0m10.2 0.6h0m-12.7 8.9h0m-14.9 -7.4h0m1.8 5.7h0m6.4 -31.2h0m-11.2 4.8h0m16 -6h0m2.5 22h0m7.6 -12.6h0m-42.5 4.6h0m18.2 23.6h0m30.6 -42.7h0m-40.2 21h0m20 -0.2h0m-28.1 -13.6h0m41.9 19.3h0m4.9 11.3h0m0.4 -25.9h0m-15 -0.8h0m10.5 -9.3h0m-25.4 15.9h0m24.7 -18.7h0m-0.9 1.3h0m-29.2 27.5h0m2.3 -12.2h0m27.5 -14.9h0m-21.1 9.7h0m16.3 -0.2h0m-7.1 14.7h0m-17.8 8.4h0m13.4 -15.1h0m3.6 12.7h0m17.7 -17.4h0m-11.5 15h0m5.9 7.5h0m-36.6 -4.6h0m40.2 -14.1h0m2.9 -10.8h0m-47.1 35.3h0m35.4 -43.9h0m15.2 37.7h0m-3.2 6h0m-40.6 -1.6h0m34.2 -19.8h0m-17 -5.9h0m-17.6 -12.2h0m-6.6 -6.9h0m9.5 26.8h0m-6.6 16.1h0m19.6 -33h0m-12.6 17.3h0m15.8 6.1h0m-23.1 -15.5h0m7.8 24h0m18.6 1.5h0m12.1 -28h0m-12.8 22.1h0m-7.2 -2.5h0m10.4 -29.3h0m15.1 42.9h0m-33.2 -1.3h0m-12.8 -3.8h0m33.4 2h0m-0.8 2.3h0m-14.5 -12.8h0m9.9 -15h0m20.8 -18.6h0m-16.2 38.5h0m-31.6 -8.9h0m48.7 -31.5h0m-22 17.4h0m5.9 -11.1h0m-16.7 44.4h0m-10.5 -23.4h0m-4.1 20.2h0m2.3 -12.7h0m31.9 -22.7h0m-4.7 -9.3h0m-0.6 32.3h0m-20.2 -12.6h0m29 -19.1h0m-17.4 8.7h0m-19.8 24.9h0m45.7 -26.3h0m-12.3 38.9h0m12.2 -28.3h0m-34.3 27.9h0m29.5 -9.2h0m-37.8 -22.3h0m38.5 17.7h0m-35.7 -8.4h0m-8.4 -9.7h0m46.5 2h0m-16.5 -3.8h0m-19.4 -6.1h0m0.8 14.8h0m-5.2 26.2h0m33.3 -15.2h0m-40.2 11.9h0m50.1 3.1h0m-12.3 -45.3h0m-19.9 18.1h0" stroke="#c8c030" stroke-width="0.9" stroke-linecap="round" fill="none" opacity="0.9" />
<path d="M492.9 199.9h0m5.2 -4.1h0m17.1 0.3h0m-20.7 3.3h0m-7.5 -3.9h0m17.6 -1.4h0m-18 7.4h0m0.6 6.6h0m-6.6 -7.5h0m12.6 -11.5h0m0.9 6.1h0m-0.6 9.5h0m7.1 -5.7h0m-4.8 1.5h0m10 -16.6h0m-15 13.8h0m0.6 -3.7h0m12.1 -14.5h0m-9.5 14h0m10.1 -10.2h0m-2.6 6.6h0m-25.8 -0.4h0m24.3 16.2h0m9.7 1.4h0m-5.3 1.2h0m-15.4 -19.1h0m28.2 3.8h0m-18.3 5.6h0m-28.1 8.9h0m22.2 -6.2h0m-7.3 6.1h0m15.4 -22.4h0m-16.1 6.5h0m11.1 5.9h0m-4.3 -3.5h0m17.9 7.6h0m-27.2 0.1h0m19.9 0.8h0m-1.7 3.2h0m13.9 -0.4h0m-29.1 -2.9h0m3.6 -3.2h0m12.3 -6.4h0m-8.2 7.1h0m-0.2 -9.7h0m-9.1 7.3h0m20 4.4h0m-18.4 -14.8h0m6.7 -4.1h0m3.7 18.8h0m16.5 -2.5h0m-14.3 -3.2h0m-0.2 3.7h0m-10.7 -5.7h0m12.6 6.6h0m-5.7 8.6h0m5.8 -14h0m11.7 0.9h0m-11.4 -0.3h0m-12.1 11.1h0m5.9 -0.1h0m3.5 -6.6h0m5.3 -4.7h0m-11.3 -1.1h0m3.1 -8.3h0m16.9 13.1h0m-18.1 5h0m6.9 -4.8h0m-15.6 7.7h0m13.2 -7.4h0m12.6 8.6h0m-13.8 -20.1h0m11 12.4h0m-11.8 0.8h0m-15.3 7.7h0m-4.7 -5h0m25 -13.3h0m-16.7 22.6h0m25 -12.6h0m-26.7 9h0m15.9 -11.1h0m0.9 -6.8h0m2.4 16.6h0m-12.8 -3.5h0m3.1 4.4h0m4.8 -17.2h0m-9.4 15.8h0m0.5 -8.2h0m16.1 -2.6h0m-11.4 1.3h0" stroke="#d8d040" stroke-width="0.9" stroke-linecap="round" fill="none" opacity="0.9" />
<path d="M484.4 215.5h0m31.4 -8.6h0m-37.2 -11.6h0m29.2 -18.2h0m-12.4 42.2h0m-20 -4.2h0m11.7 -16.4h0m-15.2 14.9h0m13 -23.9h0m-16.4 27.2h0m39.6 -25.9h0m-12.1 -10.2h0m-12.9 -0.3h0m-5.6 23.1h0m13.7 17.3h0m16 -16.4h0m-5.3 -26.9h0m15.8 32.8h0m-39.9 6.7h0m-10 -21.2h0m29.4 12h0m12.9 -7.1h0m-29.2 -16h0m28.4 -5.9h0m-30.2 8.2h0" stroke="#c030b0" stroke-width="0.9" stroke-linecap="round" fill="none" opacity="0.9" />
<path d="M511.7 208.8h0m-0.2 0.4h0m-1.5 -2h0m1.9 2.1h0m0.7 0.3h0m-1.3 -0.9h0m-0.3 -0.8h0m-0.2 0.4h0m2.5 3.5h0m-0.3 -1h0m-0.2 -0.3h0m-0.5 -0.4h0" stroke="#e030c0" stroke-width="1" stroke-linecap="round" fill="none" opacity="0.95" />
<path d="M474.6 208.3h0m-2.8 1.3h0m-4.9 21.2h0m6.6 -13.4h0m-1.3 -1.1h0m0.8 -9.7h0m-3.7 22.8h0m19.4 -12.2h0m-5.7 -8.1h0m-9.8 7.7h0m-4.7 -4.4h0m1.1 -2.6h0m7.6 -1.3h0m5.4 -15.6h0m-14.1 20h0m11.6 3.2h0m-8.1 -10.1h0m-2.1 4.4h0m-8.2 -1.6h0m11.6 7.4h0m-0.5 -21.4h0m9.1 10.7h0m-12.5 -3.5h0m24.4 5.1h0m-12.2 -4.7h0m-13.9 7.1h0m6.4 9.3h0m9.6 -22.1h0m-7.9 -4.3h0m-4.5 21.5h0m2.3 1.5h0m4.6 -18.4h0m-4.1 12.1h0m9.7 -1.1h0m-2.6 13.6h0m-2.4 -11.5h0m-3.8 5.2h0m0.2 -3.3h0m-3.8 6.3h0m15.4 -8.9h0m-13 -2.8h0m0.3 -16.1h0m-1.7 14h0m7.6 -0.8h0m0.5 0.4h0m-10.3 4.9h0m12.1 4.9h0m-4.5 -1.5h0m-3.8 9.5h0m-2 -14.9h0m-8.8 5.3h0m20.7 -0.3h0m-3.6 17.6h0m-16.4 -10.5h0m12.6 -4.6h0m3.8 -6.1h0m-7.6 17.9h0m3.3 -31.1h0m-8.4 8.1h0m-1 9.5h0" stroke="#08061c" stroke-width="1.2" stroke-linecap="round" fill="none" opacity="0.9" />
</g>
</g>
<rect x="493.9" y="196.6" width="11.3" height="11" fill="none" stroke="#fff" stroke-width="0.6" stroke-dasharray="1 0.8"/>
<line x1="503.2" y1="221.9" x2="516.7" y2="221.9" stroke="#fff" stroke-width="0.9" />
<rect x="523" y="172.3" width="52.2" height="52.2" fill="#07051e" />
<clipPath id="cp3"><rect x="523" y="172.3" width="52.2" height="52.2"/></clipPath>
<g clip-path="url(#cp3)">
<g filter="url(#b3)">
<path d="M560.7 218.2h0m13.8 -26.6h0m-50.9 31.6h0m22.6 -43.2h0m25.5 6h0m-25.6 -0.4h0m-15.6 22.6h0m-1.7 -11.6h0m37.7 1.5h0m1.7 -18.2h0m-25.9 31.8h0m14 8h0m6.4 -30.9h0m12 30.5h0m-17.2 -42h0m-28.2 21.6h0m10.3 -25.4h0m-6 19.4h0m37.1 3.3h0m-9.5 -22.5h0m-28.1 10.3h0m13.7 12.8h0m-11.4 -16.2h0m32 30.7h0m-15.1 -17.7h0m14.5 5.5h0m-8.8 -21.2h0m3.8 12.1h0m-14.8 -6.2h0m6.6 21.9h0m20.5 -19.3h0m-11.3 37.4h0m-3.1 -37.3h0m9.9 3.9h0m-18.5 20.6h0m21.2 -11.6h0m-47.8 9h0m13.8 -4.6h0m-5.3 -6.5h0m17.1 -0.3h0m12.4 26.6h0m10.2 -45.7h0m-31.8 37.3h0m32.2 -1.6h0m-15.4 -37.5h0m-16.9 24.7h0m23.8 -11.5h0m-11.7 -4.9h0m-18.1 14h0m4.3 -14.1h0m15.7 19.2h0m9.8 -14.3h0m-40.4 29.1h0m20 -32.7h0m23.6 33.9h0m2.4 -17h0m-4.6 -1.9h0m-2.8 14.1h0m-2.7 -12.9h0m13.5 -21.9h0m-16.5 37.5h0m-20.9 -28h0m3.9 27.1h0m0.3 -25.2h0m14.8 3.2h0m-6.9 -3.2h0m-0.6 -5.9h0m0.7 13.9h0m-4 -1.6h0m7.1 -11.7h0m-7.5 26.5h0m-14.9 1.5h0m34.6 8.6h0m-29.9 -19.5h0m39.7 -20.1h0m-22.6 35.3h0m16.5 2.9h0m-9.9 -36.4h0m-13.1 23h0m-7.5 11.8h0m10.7 -0.1h0m13.6 1.3h0m-23 -37.6h0m2.7 0.7h0m11.7 0.7h0m16.2 3.9h0m-16.5 -1.9h0m-8.2 23.4h0m11.8 -8.2h0m-29.2 4.7h0m20 -2.6h0m9.4 -10.3h0m-11.3 20.2h0m10.8 -35.9h0m8.7 0.1h0m-24.1 8.3h0m31.4 -8.5h0m-0.8 -1.4h0m-21.8 16h0m20.8 14.7h0m-41.3 11.8h0m7.4 -15.1h0m-2.1 11.7h0m4.2 -27.5h0m29.8 14.2h0m-20.3 -21.4h0m6 3.1h0m18.3 32.6h0m-39.3 -9h0m0.4 14.4h0m36.7 -25.7h0m-20.8 -10.4h0m-19 11.9h0m14.7 24.8h0m6.1 -32.7h0m10 23.9h0m-20.1 -33.6h0m17.3 11.6h0m-14.4 -5.4h0m10.8 -3.3h0m-8.3 39.6h0m-8.3 -6.1h0m20.1 -43.8h0m5.2 3.6h0m-6 23h0m15.3 -23h0m-3.5 23.6h0m-25.3 -5.4h0m-4 26.9h0m-8.8 -14h0m16.4 -32.1h0m5.3 21.3h0m15.8 20.8h0m-36.1 3.8h0m42.1 -1.1h0m-48.8 -14.6h0m1.3 -6.4h0m3.7 7.7h0m43 -14h0m-29.2 19.5h0m-5.3 5h0m34.3 1.1h0m-37.9 -5.6h0m7.7 -21.3h0m-0.7 20.1h0m-14 5.8h0m29.4 -43.9h0m0.5 33h0m-28.6 -13.7h0m27 -17.5h0m-14.1 39.3h0m25.6 1.7h0m-29.6 -28h0m26.5 -2h0m-29.5 14.8h0m5.6 20.8h0m7.7 2h0m-2.1 -23.3h0m-2 -6.3h0m-7.6 9.9h0m29.5 10.7h0m-38.5 -15.4h0m27.5 16.8h0m-16.1 -24.7h0m8.7 1.6h0m2.7 -11.7h0m8.2 0.7h0m-32.6 22.4h0m21.8 17.1h0m6.8 -42.9h0m19 16.8h0m-30.5 -15.1h0m29.4 19.8h0m-38 -0.2h0m13.3 -5.8h0m-7.4 -21.3h0m-6.7 15.2h0m8.7 -4.8h0m4.6 11.2h0m-1.6 20.9h0m15.9 -26.7h0m-36.4 0h0m23.3 16.7h0m4.2 5.6h0m-7.9 -38.4h0m-11.2 47.4h0m24.9 -33.2h0m-23.2 24.6h0m33.4 7.9h0m-39.3 -13.7h0m-6.1 0.2h0m18.8 5.2h0m15.9 -8.7h0m5.5 2.1h0m-24 -14.9h0m17.6 -15.7h0m0.4 15.8h0m5.6 -13.2h0m0.4 18.3h0m-20.3 15.3h0m28.3 2.4h0m-42.7 6.5h0m27.7 -35h0m-31 11.7h0m41.2 -1.3h0m-42.9 14.9h0m22 -26.5h0m20.7 28.3h0m-31 -18.8h0m34.6 18.2h0m-24.1 -38.1h0m-9.5 10.5h0m-3.9 14.7h0m5.5 18.2h0m9.3 -21.4h0m22.7 27h0m-11.4 -40.9h0m-33.9 32.8h0m-0.1 -1h0m1.1 6h0m28 -40.8h0m-6.4 17.6h0m-22.3 18.4h0m47.7 -25.2h0m-30.5 13.9h0m10.9 0.6h0m-23.6 -14.8h0m16.7 29h0m28.5 -31.5h0m0 37.9h0m-31 -25.2h0m29.6 -14.7h0m-4.5 -3.8h0m-24.6 43h0m-10.4 -42.7h0m22.2 40.2h0m-18.7 -34.2h0m23.8 -8.4h0m-23.3 28.9h0m11.3 -4h0m0.7 -20.2h0m-2 24.7h0m5.9 -9.7h0m6.7 17.6h0m11.9 6.3h0m-29.5 -36.4h0m-11.5 30.8h0m-0.6 -7.2h0m3 10.7h0m14.5 -43.2h0m-1.9 25.1h0m-1.3 -0.9h0m-6.9 -4.2h0m33.2 -10.4h0m-39.6 33.7h0m-4.6 -1.5h0m13.6 -0.5h0m24.5 -4.2h0m-41.9 4.4h0m51.4 2.3h0m-18.9 -22.9h0m8.5 27.2h0m-22.9 -46.4h0m17.7 2h0m9 41.4h0m-10.7 -2.7h0m0.7 -32.9h0m7.6 33.1h0m-38.8 4.8h0m16.9 -37.3h0m25.4 21.2h0m-45.2 -1h0m15.3 -11.4h0m20.9 -14.3h0m-0.2 13.7h0m3.1 -15.7h0m-2 -4h0m-1 31.3h0m11.1 15.7h0m-40.5 -15h0m6.3 -0.6h0m32.7 0.4h0m-21.6 -28.6h0m11.7 21.5h0m-3.8 15.4h0m-27.6 -15.7h0m32.3 17.7h0m-1.4 -17.4h0m-23.1 -8h0m0.7 -2.9h0m-3.7 16.3h0m34.7 -5.8h0m-23.8 -25.1h0m-16 13.8h0m15.5 5.1h0m29.1 4.4h0m-22.7 4.4h0m-12.4 -14.4h0m-6.8 15.6h0m36.1 6.8h0m-6.2 -12.3h0m1.5 -6.2h0m-10 -3h0m-13.9 8.8h0m-11.7 7.3h0m-0.3 -7.6h0m8 15.2h0m-7.4 -17.4h0m30 24.7h0m-16.4 -36.6h0m24.8 28.8h0m-22 0.2h0m-18.4 3.4h0m3.3 -23.1h0m44.1 -17.5h0m-17.2 6h0m17.4 41.4h0m-40.3 -29.6h0m8.7 27h0m21.8 -43.2h0m-11.5 22.6h0m-20.5 -15.3h0m7.4 7.4h0m-3.6 18.1h0m2.8 -33.4h0m-3.1 27.3h0m35.5 19h0m-29.9 -4.6h0m11.8 -38.7h0m-26.2 13.6h0m45.3 22.7h0m-42.9 -11.2h0m38.6 -22.9h0m-9.2 37.2h0m10.3 -17.8h0m-24.5 23.1h0m-9 -14h0m28.8 10.6h0m0.8 -13.2h0m-38.7 -7.3h0m1.1 4.9h0m38.7 -30.9h0m-9.3 8.9h0m6.8 27h0m-12.4 -19.9h0m13 2.9h0m-9.9 0.8h0m19.9 26.8h0m-23.6 -11.7h0m14.2 -8h0m3.4 -11.2h0m-23.8 28.8h0m22.8 -29.1h0m-14.6 -10.7h0m-10 42.5h0m-17.3 -24.7h0m12.1 20.5h0m12.1 -28.5h0m0.1 6.3h0m-16.5 -4.2h0m5.4 7.8h0m18.8 6.2h0m-0.2 -12.6h0m-32.8 0.3h0m28.3 5.1h0m16 11.1h0m-30.7 10.6h0m14.2 -29.7h0m-17.8 29.3h0m5.8 -17.6h0m28.4 -10.1h0m-15.9 -10.3h0m-16 25.8h0m17.3 13.8h0m-21.4 -6.6h0m36.7 -8.2h0m-28.8 5.1h0m17.3 -10.9h0m0.8 -21.4h0m15.1 4.6h0m-39.4 9.7h0m21 6.8h0m0.6 0h0m-4.4 21.5h0m12.6 -44h0m-19.1 32.6h0m25.1 -24.2h0m-22 10.3h0m10.8 3.9h0m-1.4 3.5h0m11.6 12.4h0m-29.5 -0.5h0m22.1 -11h0m-30.4 13.6h0m32.5 -41.4h0m-39.5 49.1h0m48.5 -12.1h0m-2.3 -23.3h0m-33.3 18.3h0m-4.8 7.5h0m7.7 -14.3h0m21.5 8.9h0m-29.6 11.8h0m9.9 -34.2h0m-11.6 27.1h0m5.6 -1.6h0m28.1 1h0m-15.9 -38.8h0m8.3 35.9h0m-14.8 -0.3h0m19.8 -23.5h0m-7.2 11h0m-8 14.4h0m-1.5 -11.1h0m-8.4 -21.6h0m12.7 44.7h0m18.1 -10.8h0m-16.5 9.7h0m-22.5 -32.5h0m22 27.6h0m10.5 -5h0m-11.8 -37.8h0m10.2 -0.6h0m-13.1 49.7h0m12.6 -18.5h0m-32.5 6.9h0m35.9 9.1h0m-3.8 -17.5h0m-22.4 3.1h0m33.5 -33.4h0m3.3 17.4h0m-45.7 2.6h0m33.4 -12.4h0m-7.4 7.9h0m12 11h0m5.2 19.7h0m-26.6 -21.9h0m-12 18h0m-6.4 -7.1h0m20 -20.1h0m2.1 20.4h0m20.5 -20.1h0m-20.3 14.1h0m-2.3 9h0m-10.7 -27.2h0m24.3 33.8h0m-1.5 -43.2h0m9.5 43.1h0m8.6 -0.6h0m-50.3 -8.9h0m41.1 -0.5h0m-33.4 3h0m22.4 -20.3h0m19.2 24.1h0m-0.4 -24.1h0m-41.8 19.2h0m-7.2 -5.9h0m24.1 -28.6h0m1.3 32h0m6.2 -26.4h0m17.9 29.9h0m-22 -16.6h0m-8.6 -21.7h0m-12.6 44.4h0m14.1 -0.6h0m-10.5 -32h0m-8.3 9.5h0m25.3 11.4h0m-0.7 -32.3h0m14.1 14.7h0m-5.5 36h0m-34.7 -14.8h0m22.7 -32.8h0m20.7 9.2h0m-14.7 18.6h0m-12.2 -6.5h0m30.4 -15.8h0m-41.1 0.7h0m2.5 17.5h0m-6.3 12.2h0m4.1 -1.2h0m3 -1.9h0m41.5 9.8h0m-31.1 -21.8h0m-0.7 -8.6h0m18.2 -5.7h0m-20.7 33.2h0m15.6 -16h0m-24.9 3.9h0m42.9 -24.9h0m-43.9 23.7h0m28.6 -23.1h0m10.6 6.1h0m-22.6 -12.4h0m-18.5 11.8h0m22 -0.5h0m18.9 10.3h0m-2.6 19.6h0m3 -32.3h0m-10.8 28.9h0m-21 -22.3h0m-0.1 10.8h0m6.2 21.1h0m-18.6 -24h0m0 21h0m14.5 5.2h0m29.9 -27.8h0m-7.1 -13h0m11.4 20.3h0m-12.8 -21.9h0m5 27h0m-19.5 -14h0m-5.3 22.4h0m21.5 -0.7h0m-21.7 -26.5h0m5.9 -9.1h0m12.8 43.5h0m-36.1 0.3h0m21.4 -48.7h0m25.1 42.5h0m-35.8 -20.4h0m23 10.5h0m-10.1 -25.7h0m10 11.3h0m-26.7 22h0m1.4 -13.7h0m4.4 15h0m18.6 -37.9h0m-23 21.7h0m25.9 -27.7h0m-14.4 36.3h0m-1.4 2.6h0m26.1 -35.9h0m-29.5 12h0m9.3 -2.5h0m-3.8 -9.1h0m10.7 22.1h0m12.1 9.3h0m3.4 6.7h0m3.6 9.6h0m-10.9 -41.6h0m5.4 38.8h0m-12.5 -40h0m-18.3 10.9h0m15.3 -17.6h0m13.8 7.1h0m6.1 22.6h0m-19.9 6.4h0m16.5 -14.6h0m-3.2 -8.4h0m-24.1 22.3h0m-2.6 -3.3h0m-9.9 -20.8h0m21.9 33.4h0m-19.8 -10.9h0m28.1 5.4h0m13.9 9.5h0m-26.9 -7.1h0m-5.4 -3.7h0m-16.2 3.3h0m6.8 -13.5h0m3.5 -15.9h0m6.8 -6.3h0m2.2 11.1h0m0 0.3h0m-12.5 2.7h0m30.2 29.3h0m-15.3 -26.6h0m-13 -17.4h0m19.5 35.3h0m-9.3 -26.3h0m23.3 -1.5h0m-28.7 15.8h0m-2.7 -2.9h0m34.9 -6.6h0m-11.2 23.4h0m-27.4 -8.6h0m4.7 -30.4h0m18.8 1.8h0m7.8 5.1h0m-38.9 9.7h0m47.9 5.5h0m-38.4 13.8h0m5.8 -4.9h0m27 -3.5h0m2.2 -19.7h0m-27 -11.7h0m21.7 16h0m-30.6 0.9h0m12.2 -10.9h0m25.3 42.9h0m-40.3 -28.1h0m28.3 14.4h0m-10.1 -20.5h0m11.1 24h0m14.1 6.1h0m-48.9 -1.3h0m28.2 -26.5h0m20.7 -9.3h0m-23.8 40.9h0m-0.2 -43.2h0m-23.8 42.9h0m16.9 -1.3h0m-13.2 -3.9h0m26.3 -17.9h0m-3.5 23.7h0m-19.4 -29.9h0m8 15.4h0m4.7 -8.6h0m-20.2 -11.9h0m19.1 1.9h0m17.5 2.4h0m-10.8 11.5h0m12.2 8.4h0m-26.7 -12.2h0m22.5 17.1h0m1 -40.7h0m7.6 47.6h0m-15.9 -31.2h0m-20.5 1.3h0m41.6 -12.4h0m-21.2 33.2h0m16.1 7.3h0m-1.8 -44.7h0m8.9 33h0m-32.6 -21.5h0m-8.2 -6.6h0m-5.7 24.9h0m23.7 -32.8h0m-15.7 17.9h0m-1.9 -1.5h0m9.5 23.5h0m-7.3 -22h0m30.7 -12.9h0m-23.1 -3.3h0m24.4 12h0m-13.5 19.5h0m15 -1.2h0m-24.5 -0.1h0m28.6 -17.9h0m-13.4 -15.7h0m-20.3 18.2h0m-9 18.3h0m19.9 -18.5h0m-26 12.9h0m9.9 17.4h0m1 -10.2h0m7.3 -23.2h0m-3.7 0.6h0m26 15h0m-30.5 -1.8h0m24.2 -18.7h0m12.5 28h0m-37.5 -20.2h0m-11.3 33.4h0m27.5 -39.2h0m23.9 34.1h0m-39.2 -39.8h0m-4 2.6h0m15.7 38.8h0m-17.6 -22.5h0m19.4 -11.5h0m-15.7 25h0m9.6 -22.2h0m20 27h0m-31.8 -31.9h0m36.6 4.9h0m-19.9 17.7h0m-5.2 -33.1h0m-4 20.1h0m28.6 -6.1h0m-2.9 23.6h0m-26.3 12.7h0m-9.1 -11h0m10.2 -25.7h0m23.3 23.5h0m6.3 3.3h0m0.9 -19.9h0m5.1 21.4h0m-13.1 5h0m-16.9 -47.7h0m-3.1 51.2h0m-3.6 -42.2h0m22.2 13.5h0m-23.4 -7.8h0m2.3 23.3h0m-7.9 1.2h0m0 10.3h0m1.1 -33.3h0m37.3 9.2h0m-22.8 15h0m-23 -21.1h0m19.5 14.6h0m-7.8 -19.7h0m0 11.3h0m3.9 17.3h0m35.1 -16.2h0m-43.2 19.2h0m21 -7.5h0m4.8 7.7h0m-19.6 1h0m-13.5 -13.3h0m24.9 -9h0m2.2 7.4h0m1.3 15h0m-12.8 -11.4h0m8.7 2.6h0m4 -30.8h0m14.4 19.8h0m-22.3 -3.4h0m13.7 11.1h0m4.2 -2.8h0m-1.6 15.5h0m-3.3 -40.5h0m-30.4 30.1h0m11.4 10.5h0m23.8 -3.5h0m-29.3 1.5h0m40.4 -19.8h0m-37.1 -17.7h0m6.7 40.7h0m17.6 -34.6h0m-22.8 20.6h0m14.6 -1.7h0m18.2 -17.7h0m-21.2 -6.5h0m17.6 6h0m-15.5 -12.8h0m14.9 3.7h0m-2.1 31.8h0m-36.4 -12.7h0m36.4 0h0m8.5 -6.4h0m-1.6 4.8h0m-19.2 17.3h0m1.4 -1.8h0m15.3 1.3h0m-14.7 -24h0m-19.9 28.1h0m37 -21.9h0m-9.6 5.9h0m-30.4 7.9h0m15.8 0.8h0m0 -10h0m16.7 -27.2h0m-28.3 39.2h0m34.3 -12.3h0m-28.1 -4.4h0m-13.4 14.6h0m35.5 -3.6h0m-22.6 -24.9h0m10.6 25.7h0m-24.7 16.9h0m29.5 -15.2h0m10.9 -20.5h0m-33.6 0.3h0m29.3 24.1h0m8 8.8h0m-28.5 -46.4h0m0.1 0.9h0m32 46.3h0m-34.1 -39h0m-1.8 15.3h0m17.5 0.1h0m-5.7 -0.5h0m22.3 -3.1h0m-28.8 9.1h0m27.6 -25.2h0m-44.2 17.9h0m16.1 7.7h0m5.5 -1.5h0m15.5 18.8h0m-1.3 -32.6h0m-29.5 8.5h0m0.9 12.3h0m29.7 1.7h0m-22.6 12.2h0m13 -36.7h0m-30.7 24.5h0m28.9 -9.7h0m11.3 -20.5h0m-20.8 24.1h0m4.1 -11.9h0m3 12.3h0m-23.9 -19.8h0m44.6 -0.2h0m-24.9 9.4h0m-12 13h0m9.6 6.3h0m12.7 -21.9h0m-7.5 28.2h0m25.2 -40.7h0m-0.5 34.4h0m-36.8 -21.2h0m6.9 3.3h0m23.4 24.3h0m-4.7 -37.9h0m0.2 33.4h0m-4.8 -6.6h0m-22.9 5.5h0m-2 -24.8h0m15.8 18h0m15.4 12.3h0m1 -16.7h0m-9.5 -4.6h0m1.2 1.2h0m-1.6 -3.1h0m-31.3 10.1h0m8.9 -24.6h0m36.9 2.2h0m-40 35.9h0m1.2 2.5h0m38.5 -5.2h0m-26.8 -41.2h0m26.8 27.8h0m2.6 -11h0m-40.8 11.5h0m-5.2 15.1h0m43.5 -18.5h0m-35.1 -19h0m38.4 7.3h0m-32.6 29.1h0m14.6 -32.3h0m17.6 0.9h0m-21.6 20.4h0m-10.6 8.7h0m5.6 -0.1h0m20.6 -22.4h0m-21.6 4.4h0m9.3 4.2h0m-2.3 -10h0m-23.4 9.9h0m2.1 -6.3h0m8 6.4h0m28.4 -31.1h0m-32.7 11.5h0m11.1 20.9h0m-10.5 1.5h0m28.7 13.8h0m1.4 -47.1h0m-39.5 32.8h0m17.8 0.1h0m22.4 -16.2h0m1.1 -2.9h0m-18.1 26.3h0m21.3 5.6h0m-23.3 -17.4h0m13.3 11.1h0m-13 -22.6h0" stroke="#2a20c4" stroke-width="1.1" stroke-linecap="round" fill="none" opacity="0.9" />
<path d="M557.8 207.2h0m-21.7 -0.5h0m18.2 13.2h0m-16.4 -41.4h0m14.3 -4.3h0m2.2 46.3h0m11.5 -17.3h0m-40.5 -21.5h0m-1.4 6.2h0m50.2 22.8h0m-28.8 -21.9h0m-4.2 22.3h0m22.7 0.4h0m-2.3 -2h0m-3.5 1.8h0m-27.1 -23.8h0m16.1 17.6h0m11.4 7.8h0m-16.4 -36.1h0m31 2.3h0m-47.4 -5h0m43.7 -0.1h0m-24.3 -1.1h0m13.3 47.7h0m-10.6 -43h0m-16.7 -3.3h0m16.7 23h0m7.7 -4.4h0m19.3 11.4h0m-42.6 -10.8h0m5.9 7.4h0m-7.3 -22h0m25.1 39h0m4.7 -45.5h0m-10.5 22.5h0m-25 -11.6h0m9 -4.7h0m-4.8 2.7h0m45.6 25.5h0m-42.3 -24.9h0m15.1 4.4h0m-7.1 22.3h0m-15.3 6h0m21 -18h0m-8 1.2h0m29 -9h0m-22 24.8h0m-0.8 -32.2h0m19.8 36.8h0m-21.2 -11.5h0m25.9 14.8h0m-2.2 -48.6h0m-18.5 14.9h0m18.5 17.3h0m-9.1 18.5h0m8.7 -4.6h0m-10.9 1.9h0m-0.7 -37.6h0m19.7 -7h0m-37.4 34.6h0m33.8 -13.6h0m-22.5 14.3h0m-11.6 10.9h0m26 -7.5h0m-36.7 -17.7h0m45.8 -21.4h0m-45 48.5h0m19.5 -42.1h0m-8.2 40.9h0m6.3 -14.5h0m29.7 4.5h0m-10.1 4.7h0m-26.9 -29.4h0m19.4 34.4h0m-20.1 -8.3h0m0.4 7.6h0m6.2 -38.1h0m-17.7 4h0m29.2 2.5h0m-28.8 15h0m47.5 13.1h0m-49 -6.2h0m2.6 8.1h0m4.4 -9.2h0m41.6 -33.4h0m-26.6 38.1h0m26.4 -5.8h0m-19.9 -37.2h0m0.8 35h0m-12.5 -5.9h0m8 1.1h0m14.1 1h0m7.2 -6.6h0m-1.8 -20h0m-17.3 28.9h0m-13.6 -32.6h0m-10.5 2.4h0m25.3 40.7h0m17.6 -24.3h0m-35.4 26.7h0m-7.6 -38.3h0m16.1 -1.1h0m-8.1 -6.4h0m34.6 23.8h0m-25.3 -2.8h0m0.8 -0.2h0m14.6 -10.5h0m-25.5 9.8h0m40.5 24.2h0m-27.8 -16.8h0m15.6 -20.9h0m5.2 3h0m-35.8 30.6h0m32.6 -32h0m2.8 38.8h0m-11.2 -26h0m17.4 2.1h0m-26.6 5h0m-18.7 1h0m41.4 -27.6h0m-39.6 7.4h0m11.5 24.7h0m14.8 -1.1h0m11.5 -24.6h0m-3.6 14h0m-39 22.5h0m42.8 -33.8h0m-7.4 13.9h0m-8.8 18.2h0m18 -17.8h0m-4.9 6.1h0m-30.5 6.9h0m-2 -25.1h0m21.8 -3.1h0m5.3 7.2h0m-10.7 -11.5h0m-8 -0.4h0m31.6 44.7h0m1.4 -44.3h0m-32.3 17.3h0m-10.3 21.3h0m18.3 -14h0m-19 -19.8h0m34.9 -5.3h0m-5.9 12h0m-15.8 30.6h0m4.1 -17.3h0m-16.4 -2.8h0m2.1 -27.5h0m16.1 23.6h0m4.4 19.9h0m-17.5 -38.3h0m5.7 20.4h0m4.2 18.8h0m-15.3 -1.1h0m37.8 1.9h0m-32.3 -46.4h0m32.8 27h0m-11 -1.2h0m-34.3 -11.8h0" stroke="#6030c8" stroke-width="1" stroke-linecap="round" fill="none" opacity="0.9" />
<path d="M529.3 212.1h0m14.1 0.4h0m-17.7 -1.1h0m14.5 -12.1h0m-6.5 0.1h0m12.3 17.8h0m-7.9 3.3h0m14.8 -15.4h0m-10.5 -0.3h0m-2.7 3.2h0m1.1 19.6h0m-12 -21.9h0m11.6 -4.5h0m-9.2 9.1h0m-7.4 -14.1h0m11.9 5.5h0m-1.8 22.3h0m-9.1 -2h0m15.7 -11.3h0m-16.3 -2.5h0m7.6 4.4h0m10.5 -18.7h0m-13.6 12.2h0m-0.9 0.9h0m16.1 26.3h0m-11.9 -34.5h0m-6.4 3.1h0m10.2 15.1h0m6.2 -11.2h0m-3 -1.8h0m-6.2 5.1h0m2.1 13.4h0m8.6 -16.9h0m-2.4 5.9h0m12 -3.4h0m-25.2 2.5h0m10.6 -11.8h0m4.5 0.6h0m-2.8 -10.5h0m-10.7 14.7h0m1.6 0.2h0m1.8 11h0m-7.5 -20.5h0m22.1 15.8h0m-4 5.8h0m13.1 -19.9h0m-15.5 7.5h0m9.4 3.7h0m-20.9 6.7h0m1.3 -8.2h0m-0.1 9.3h0m1.5 -9.2h0m8.7 5.6h0m3.1 -11.6h0m-10.7 6.2h0m3.2 7h0m-2.8 -15.4h0m4.1 2.5h0m-7.5 11.2h0m11.7 7.4h0m14.7 -27.2h0m-19.8 18h0m10.4 -16h0m-12.7 8.5h0m18.3 21.6h0m-30 -19.1h0m24.7 -9.4h0m-11.8 30.6h0m9.3 -4.3h0m-3.6 -2.1h0m1.2 -17.3h0m5.1 17.9h0m-19.6 -23.9h0m25.1 7.5h0m-8.1 3.5h0m-1.4 10.4h0m-16.7 -13.8h0m11 -5.8h0m4.1 6.2h0m0.6 5.8h0m5.7 9.1h0m-0.2 -4.1h0m-26.2 1.3h0m16 8.4h0m3.4 -12.5h0m-18.6 1.4h0m14.6 -0.2h0m5.4 0.1h0m7 -6.7h0m-12.7 1.3h0m-12.1 18.3h0m10.7 -21.7h0m-6.9 -8.9h0m2.7 11.5h0m2.6 -2.9h0m-5.6 -5.8h0m3.7 8.5h0m-2 18h0m-9.6 -20h0m27.7 24.8h0m-12.7 -14.6h0m-2.1 -21.2h0m5.3 15.2h0m-4.3 -4.5h0m2.9 0.9h0m-10.5 13.9h0m6.6 16.3h0m0.7 -6.2h0m-1.4 -18.1h0m10 2.1h0m-4.9 1.2h0m1 -7.9h0m3.4 -8.5h0m4.2 11.5h0m3 0.9h0m-14.3 -16h0m16.9 18.9h0m-23.5 4.3h0m7.9 -11.4h0m-5.3 -3.1h0m23.3 7.9h0m-19.8 -3.3h0m16.1 13.2h0m-13.4 -5.1h0m4.9 -16.5h0m4.4 5.7h0m-11.6 -6.2h0m-2.3 10.9h0m14.2 8.6h0m-2.2 -12.7h0m-6.8 6.2h0m10.9 -16h0m-18.4 6.1h0m6.3 11.9h0m2.4 3h0m6.2 -3.5h0m4.1 -8.7h0m-11.2 -6.5h0m-5.4 6h0m19 9.5h0m-3.1 4.8h0m-22.5 -20.7h0m7.7 5.8h0m18.6 11h0m-11.5 -7.1h0m2.1 -6.6h0m1 4.3h0m-16.9 -4.7h0m12.1 0.2h0m-4.6 16.1h0m3.3 -1.8h0m-2.7 5.9h0m8.3 4.7h0m-8.9 -11.1h0m4.8 -10.4h0m-1 0.7h0m-4.9 -3.4h0m-6.6 16.7h0m-1.5 -27.8h0m14 4.7h0m-10.5 10.1h0m33 3.9h0m-27.1 8.5h0m5.6 6.1h0m1.5 -15h0m-1.4 -0.8h0m9.4 -4.5h0m-8.7 15.8h0m0.7 -12.6h0m-3.2 -4.8h0m-7.5 11.6h0m-0.1 -13.1h0m11.6 1.7h0m-2.7 8.4h0m-8.4 -3.8h0m-2.3 14.3h0m11.4 -4.8h0m-1.8 -0.5h0m-9.1 1h0m14.9 -12.8h0m-8.2 1.3h0m3.1 22.4h0m-10.5 -24h0m13.6 13.4h0m0.1 -20.2h0m-16.1 17.4h0m6.6 1.5h0m-0.1 -5.8h0m12.7 3.4h0m-0.1 -6h0m-11.5 -13.7h0m-2.2 9h0m15.7 -0.9h0m4.2 0.1h0m-17.5 15.6h0m20.7 -6.1h0m-25.5 -4.5h0m9.3 -11.1h0m-1.1 2.2h0m19.3 8.7h0m-20.3 -9.5h0m10.6 1.1h0m-3.3 14h0m-8.1 -4h0m-4 6h0m6.6 -16.7h0m12.7 0.5h0m-22.4 11.5h0m13.5 12.5h0m-7.7 1h0m10.1 -31.2h0m8.9 11.2h0m-5.3 3h0m-24.4 -0.8h0m12.7 15.1h0m21.5 -6.9h0m-10.6 -3h0m-10.1 7.4h0m-2.6 -11h0m-1.2 8.7h0m11.5 -10h0m-15.4 -20.4h0m-5.6 30.1h0m13.6 -0.1h0m-13.7 -7.1h0m18.5 10.2h0m-24.2 -4.1h0m30 -7.8h0m-13.3 -0.7h0m4.2 8.2h0m7.7 -1.7h0m-9.3 8.5h0m-7 -11.3h0m1 3h0m10.5 -8h0m0.2 -0.3h0m-4.4 3h0m1.5 5.4h0m-8.1 -34.6h0m0.3 30.5h0m-13 2.5h0m22.4 -9.1h0m-2.7 -1.1h0m-10.5 11.5h0m21.5 0.5h0m-2.5 -11h0m-9.6 -3.2h0m6 0.1h0m-5.5 10.6h0m3.2 19.8h0m2.3 -16.1h0m1.5 2.9h0m-3.5 -21.5h0m-5 3.1h0m-2 8.3h0m8.1 16.1h0m9.4 0.1h0m-16.6 -2.7h0m-18.3 -12.9h0m20.2 7.6h0m-5.4 -2.3h0m17.4 0.6h0m-2.8 -9.2h0m-18.1 13.8h0m26.1 5h0m-32.1 -24.7h0m18.5 3h0m-4.6 11.1h0m17.7 -12.3h0m-11.4 5.5h0m3.1 -9.2h0m-0.8 11.5h0m6.5 -4h0m-20.4 1.8h0m9.1 -3.8h0m-7.9 11.3h0m9.2 -17.1h0m0.2 16.7h0m-4.1 -2.9h0m-3.3 -4.6h0m9 12.9h0m-10.7 -23.5h0m0.6 18.6h0m-0.6 -8.2h0m-5 12.8h0m7.9 2.6h0m7.6 -18.9h0m4.7 -2.4h0m-1 16.6h0m-12.2 -5.4h0m7.3 -4.6h0m-2.8 -3.1h0m-8.3 1.1h0m1.7 11.6h0m-10 3.3h0m20 -1.8h0m11.9 -6.4h0m-25.3 -1.4h0m16.7 -10.6h0m-18.6 17.7h0" stroke="#b840d8" stroke-width="1.1" stroke-linecap="round" fill="none" opacity="0.9" />
<path d="M549.6 198.8h0m-0.7 2.7h0m1.8 -14.6h0m-13.5 4.3h0m18.4 16.4h0m6.7 -18.8h0m-19.1 -11.3h0m12.9 8.9h0m10 14.7h0m-14.5 -14.6h0m-4.2 17.4h0m20.5 -2.1h0m-23.4 8.5h0m4.2 -35.4h0m1.2 23h0m7.3 -9h0m5.1 -9.3h0m-12.1 -11.1h0m3.9 20.5h0m-7.5 5.3h0m-3.2 -1.9h0m1.3 8.2h0m16.7 -7.6h0m7.5 4.4h0m-11.2 -19.9h0m-2.2 -0.3h0m-20.4 14h0m7.5 -17.8h0m10.5 26.4h0m-2.6 -9h0m-1.2 3.4h0m5.2 3h0m-8.8 12.2h0m3.2 -12.3h0m-4.9 -24.1h0m-7.4 15.6h0m7.7 11.9h0m21 -7.8h0m-14.7 -8.5h0m-2.2 23.5h0m0.9 -10.5h0m2.8 2.1h0m-14.2 -26.4h0m11 12.5h0m4.9 11.1h0m-6.8 -14.5h0m8.4 0.8h0m-0.9 -5.7h0m-7.1 0.1h0m13.3 15.5h0m0 -1.8h0m3.9 -0.2h0m-27.6 -3h0m27.3 -5.2h0m-10.2 19h0m0.3 -20.8h0m1.3 11.1h0m-17 -8.5h0m20.3 23.6h0m-6.4 -20.6h0m0.3 -9.3h0m2.8 3.8h0m-0.6 21.3h0m8 -18.2h0m-15.9 17.1h0m8.7 -2.3h0m10.4 -19.1h0m-12.6 9.6h0m-3.9 19.8h0m-2.9 -17.3h0m2.6 4.5h0m-2.1 -19.6h0m-8.4 13.8h0m13.6 12.7h0m7.5 -4.8h0m-3.2 -14.5h0m9.9 12.6h0m-22.3 4.3h0m-1.2 4h0m14.9 -7.5h0m-10.4 -10.8h0m10.2 15h0m-0.6 -4.7h0m4.5 -7.2h0m6.8 13.6h0m-14.4 -12.1h0m3.5 -7.2h0m-12.2 29.1h0m6.2 -23.8h0m17.5 17h0m-12.8 -19.6h0m-6.7 6.9h0m-0.7 -10.9h0m-1.7 20h0m13.2 -20.7h0m-12.8 5.2h0m-1.9 -1h0m0.8 3.2h0m9.3 9.7h0m-9.4 -1.5h0m4.5 -18.8h0m-14.6 9.8h0m19 4.6h0m0.5 -9.8h0m-4.6 22h0m10.5 -27.8h0m0.8 5.7h0m-1.4 3.4h0m-19.8 3.6h0m13.2 11.6h0m1.2 -6.1h0m-6.2 6.8h0m-0.6 6h0m0 -25.1h0m6.3 0.2h0m-11.3 11.2h0m-11 5.4h0m15.3 -1.8h0m2 1.6h0m-5.5 10h0m1.3 -19.6h0m0.5 1.6h0m-5.3 -0.5h0m17.9 -3.1h0m0 -14.7h0m8 8.1h0m-23.3 4.9h0m15.9 -1.3h0m-20.1 11.9h0m10.8 -4.3h0m7.4 -3.7h0m-15.4 20.7h0m2.1 -11.2h0m2 -13.7h0m2.9 7.1h0m18 0.4h0m-26 -7.8h0m17 -1.7h0m-14.9 13.5h0m2.9 1.6h0m-6.4 -10.2h0m16.5 3.1h0m-8.5 -4.6h0m13.5 2.4h0m-2.7 15.2h0m-18.3 -8.5h0m14.3 11.3h0m0.1 -4h0m-7.9 -3.7h0m-4.7 -6.9h0m4.7 11.4h0m7 -26h0m-6.9 19.9h0m4.3 -10.4h0m-2.8 13.5h0m-10.6 1.2h0m10.3 -2.7h0m4.9 -5h0m6.2 -4.8h0m-0.4 4.6h0m-11.6 -3.8h0m19.1 4.1h0m-20.4 -13h0m-1.9 5.5h0m19.1 17.7h0m-10.5 -15.5h0m-5.6 16.2h0m9.8 -24.6h0m-3.7 7.8h0m1.5 9.4h0m-6.2 -11h0m2.1 -1.3h0m-5.8 -1.2h0m-4.1 9h0m6.3 2.5h0m-0.7 -3.4h0m3.7 -9.4h0m-1.5 17.6h0m11 5.4h0m-19.1 -14h0m2.6 0.1h0m-2.7 2.1h0m15.3 -11.2h0m-6.8 16.5h0m6 -14.7h0m-3.9 12.2h0m-4.7 5.5h0m0.8 -15.6h0m15.9 -5.5h0m-7.8 10.2h0m2.9 -2.7h0m-1.3 -4.6h0m-14.6 3.7h0m-0.8 9.4h0m7 2.3h0m8.5 -21.5h0m2.6 33.1h0m-2.8 -27.5h0m-3.8 -4.2h0m-0.1 -0.4h0m8.8 22.6h0m-2.7 -8.1h0m5.5 18.6h0m-15.1 -20.8h0m-4.6 -0.9h0m20.2 -8.4h0m-8.7 3h0m-3.7 5.1h0m6.1 -12.3h0m-8.9 7h0m9.9 10.5h0m-12.4 -9.8h0m1.9 3.8h0m0.4 -5.2h0m-5.6 9.7h0m6.3 -8.4h0m4.7 8h0m0.9 6.1h0m-12 -13.2h0m1.4 6.5h0m9 12.4h0m-1.2 -13.1h0m-0.4 19.5h0m-3 -21.5h0m2.5 2.4h0m1.6 11h0m-5.7 -20.8h0m-0.7 -4.5h0m-6.1 12.6h0m7.3 -13.1h0m1.9 8.1h0m-13.5 7.1h0m19.4 -20.7h0m-8.1 31.9h0m-2 -2.8h0m0.6 -6.6h0m7.9 -10.1h0m-9.6 11.8h0m7.9 -12.4h0m-3.4 15.4h0m-0.6 -22.3h0m-3.4 14h0m3.7 -7.7h0m-0.9 9.6h0m2.2 -12.6h0m0 15.8h0m2.1 -13h0m-13.6 17.9h0m16.4 -14.6h0m0.1 16.4h0m-2.7 -6.1h0m-2.2 6h0m3 -12.8h0m1.9 -19.1h0m-9.3 7.8h0m6.2 29.8h0m0.2 -31.5h0m0 11.2h0m-13.9 -4.3h0m10.3 10.2h0m7.1 -1.1h0m0.2 18.4h0m-8.4 -25.8h0m-6.7 7.4h0m9.9 15.2h0m-10.9 -27.2h0m7.8 27.1h0m-5.4 -25.3h0m-0.2 9.4h0m4.3 10.2h0m2.1 -17.2h0m16.5 -2.4h0m-13 22.4h0m-21.1 -5.7h0m18.4 -20.8h0m5.5 29h0m2.8 -4.7h0m-17.8 -8.1h0m26.6 -4.3h0m-18.9 7.4h0m1.2 8.6h0m14.6 -13.9h0m-26 -8.3h0m4.8 34.6h0m6.7 -13h0m11 -12.5h0m-6.3 -6.6h0m3.9 0.5h0m1.1 2.2h0m-8.3 12h0m3.1 -27.6h0m-5 5.6h0m3.6 8.9h0m-0.4 -5.2h0m-14.7 24h0m23.3 -13.7h0m3.5 -0.4h0m-15.7 2.8h0m0.8 -17.3h0m8.8 5.7h0" stroke="#b840d8" stroke-width="1.1" stroke-linecap="round" fill="none" opacity="0.9" />
<path d="M527.2 223.4h0m8.9 -19.8h0m6.1 12.2h0m-21 -2.6h0m19.8 3h0m2.4 -11.7h0m-0.8 3.4h0m6.9 -6.9h0m-20 21.6h0m15.2 -2.4h0m1 -0.8h0m-2.6 4.5h0m-7.1 -19.6h0m2.8 8h0m2.1 2.7h0m-11.4 9.3h0m-3 -9.3h0m7.6 16.1h0m-1.4 -14.6h0m9.7 -8.9h0m3.6 5.4h0m2.4 -20.2h0m-10.9 26.1h0m4.5 -4.6h0m-9 -3.7h0m9.1 0.5h0m-11.9 -8.3h0m3.6 2.6h0m2.9 -1.7h0m-14.8 -5.1h0m9.4 11.4h0m3.1 -6.6h0m16.4 21h0m-21.7 -20.9h0m10 7.9h0m5.9 7.7h0m-12.4 -11.6h0m6.2 2.2h0m-6 3.8h0m4.5 -3.8h0m1.7 -11.8h0m-3.6 5.2h0m12.4 8.5h0m-13.1 -1.5h0m2.3 -12.2h0m-5.3 6h0m4.3 -7h0m10.7 8.2h0m3.9 5.1h0m-12.6 6.2h0m-6.4 -11.2h0m0.4 7.8h0m-1 -7.4h0m5.5 -4.6h0m-7 7.6h0m10.9 5.6h0m-2.4 -2.8h0m0.5 7.9h0m10 -8.2h0m-12.7 -7.9h0m2.9 1.6h0m13.8 -0.7h0m-22.7 19.4h0m-3.5 -12.2h0m9.3 13.2h0m8.7 -15.7h0m-11.8 12.3h0m2.9 -13h0m-10.3 -9.8h0m-0.7 8.9h0m-0.8 -3.8h0m18.9 -5h0m-1.8 -1.1h0m-8.3 10.5h0m10.9 26.1h0m-6.1 -27.1h0m-4.3 -7.6h0m-5 11.2h0m22.5 -16.1h0m-7 12.6h0m-5.8 5h0m5.9 -15.5h0m-0.7 14.6h0m-4.4 7.7h0m0.1 -14.3h0m13.1 3.5h0m-10.2 -11.8h0m-11.1 8.6h0m-1.6 -3.4h0m20.9 18.5h0m-0.4 -3h0m-18.3 -11.2h0m10.7 8.7h0m0.6 -3.6h0m-8.8 1.3h0m6.6 -5.7h0m-3 3.2h0m2 3.5h0m-3.3 -6.7h0m-1.2 14.2h0m1.4 -17.5h0m-1.3 3.3h0m5.1 -0.8h0m3.4 1.3h0m-6.2 -0.3h0m-8.7 11.3h0m19.2 -23.1h0m-6.4 4.9h0m4.1 13.8h0m-0.6 -10.4h0" stroke="#f09cec" stroke-width="1" stroke-linecap="round" fill="none" opacity="0.95" />
<path d="M551.6 184.6h0m-2.7 15.2h0m-4.5 -11.4h0m3.8 -4.9h0m7.6 2.9h0m-2.8 11.1h0m2.9 -12.1h0m-0.7 8.6h0m4.3 21.7h0m-5.9 -22.3h0m1.4 11.3h0m2.4 -21.4h0m1.5 20.9h0m-5.6 -16.3h0m1.8 -0.2h0m-3.8 -13.4h0m6.5 16.6h0m5.4 4.6h0m-12 -20.8h0m0.2 8.4h0m-6.3 -1.6h0m13.6 0.5h0m-6.6 -2.8h0m2.2 13h0m4.8 -5.4h0m-5.3 -1.2h0m-14.8 14.2h0m23.2 -11.5h0m-19.5 3.3h0m0.1 -0.8h0m5.2 -5.8h0m6.5 19h0m-7.4 -26h0m5.7 5.2h0m-5.6 8.8h0m6.3 -5.7h0m-9.5 14h0m9 -6.4h0m5.1 -7.7h0m0.6 4.1h0m-7 10.1h0m-5.8 -2.1h0m1.2 -17.9h0m0.1 15.5h0m10.6 8h0m-6.1 -6.8h0m-2.7 8.8h0m12.3 -8.4h0m-6.3 -2.6h0m-6.1 -2.3h0m5.3 -12.3h0m-3.8 12h0m-3.7 -0.9h0m4.9 0.6h0m-2.7 5.2h0m2.9 -2.8h0m5 -10.4h0m1.4 8.5h0m-6.7 -0.7h0m4.2 -8.4h0m8.2 5.4h0m-7.8 2.8h0m-11.6 -10.4h0m9 8.1h0m-6.4 18.1h0m3.2 -25h0m-2.8 10.5h0m13.3 -25.2h0m-0.5 12.3h0m-8.5 15.3h0m-4 -13.9h0m-1.2 11.3h0m8.6 -9.2h0m11.8 3.4h0m-18.5 -0.6h0m6.8 5.5h0m-6.8 7.5h0m5.2 -5.3h0m-6.4 -11.9h0m9.8 11h0m-5.4 -4h0m-1.1 10.2h0m1.7 -9.2h0m-0.7 2.1h0m-3.7 -7.4h0m3.7 19.7h0m-3.6 -4.6h0m5.8 -23.8h0m2.4 27.9h0m-5.1 4.9h0m-0.2 -19.8h0m4.6 -9.2h0m-7.9 20.8h0m-0.1 -13.9h0m6.7 -6h0m6 19.1h0m-13 -10.1h0m4 13.4h0m-1.7 -16.6h0m16 -2.4h0m-7.9 12.2h0m-6.6 -11h0m10 16.8h0m-11 -5.3h0m0.2 -2.4h0m3.2 -3.5h0m2.5 17.7h0m5.7 -11.4h0m-15.2 -12.6h0m2.1 5.7h0m12.8 -0.8h0m-1.1 0.9h0m-4.9 -8.9h0m-6.3 15.8h0m1 5h0m2.3 -10.8h0m6.7 -13.4h0m-8.7 10.6h0m1.2 13.7h0m2.6 -12.5h0" stroke="#f09cec" stroke-width="1" stroke-linecap="round" fill="none" opacity="0.95" />
<path d="M551.8 198.6h0m7.7 -1.9h0m-7 -4.4h0m1.1 6.6h0m4.1 -24h0m-6.1 13.7h0m4.9 -7h0m-1.4 5.3h0m3 -17.5h0m-9.5 31.4h0m8.8 -7.9h0m-7.1 -6.7h0m2 -12h0m-4.8 11.5h0m6.7 -4.5h0m-0.9 4.1h0m2.5 8.4h0m-1 -11.3h0m0 6.2h0m-0.7 -1.6h0m1.9 -9.4h0m6.6 11.4h0m-7.7 -3.8h0m-2.1 2.9h0m-3.7 -3h0m-2.1 7.9h0m10.9 2.4h0m-0.9 -8.6h0m-3.8 3.1h0m1.2 -2.8h0m-4.8 -1.1h0m4.3 2.2h0m-5.4 3.4h0m15.5 -10.8h0m-15.5 10.2h0" stroke="#fff0fa" stroke-width="0.9" stroke-linecap="round" fill="none" opacity="0.95" />
<path d="M536 204.2h0m4.4 8.2h0m-8.2 -14.2h0m2.7 2.7h0m-6 -6.3h0m3.7 -0.3h0m-0.5 7.5h0m6.2 15.1h0m2.4 -13.1h0m-6 18.2h0m3.6 -18.6h0m2.7 5.1h0m5.5 -0.3h0m-14.7 -1.5h0m8.1 -1h0m-0.8 -1.7h0m3 4.6h0m-6.6 1.8h0m4.7 0.5h0m0.7 -6.7h0m-0.2 3.1h0m-2.1 -6h0m-1.3 2.7h0m-5.2 -0.4h0m7.4 3h0m-4.9 0.9h0m5.6 -4h0m-4.6 2h0m5.3 -3.8h0m-4.3 5.6h0" stroke="#fff0fa" stroke-width="0.9" stroke-linecap="round" fill="none" opacity="0.95" />
<path d="M570.9 200h0m-1.5 -3.9h0m1.3 3.9h0m0.7 0.7h0m-0.7 0.5h0m0.8 2.6h0m0.8 1h0m1.4 -5.6h0m-1.8 -1.4h0m0.3 10.5h0m-1.6 -8.9h0m1 -0.1h0m1 -1.2h0m-1 -2.3h0m1.7 14.4h0m-0.7 -2.7h0m-0.6 -3.6h0m-1.4 -4h0m0.8 0h0m0.2 1.4h0m-0.4 0.6h0m-0.1 -3.4h0m2 8.5h0m-1.5 -6.6h0m0.1 3.8h0m-1.6 -4.8h0m3.4 6.5h0m-1.4 1.4h0m0.6 0.9h0m-2.1 -8.7h0m3.2 7.6h0m-3.1 -9.5h0m0 5.8h0m2.4 4.6h0m-0.7 0.1h0m0.7 -1.6h0m-1 -1h0m-0.2 -1.8h0m1.7 2.3h0m-1.7 -3.8h0m1.3 1.3h0m-0.6 -4.5h0m-0.6 8.8h0m0.2 -6.5h0m-0.6 -1.2h0m-1.1 -1h0m0.6 -0.5h0m0.2 6.4h0m-2.6 -6.4h0m4.2 10.9h0" stroke="#b030d0" stroke-width="1.1" stroke-linecap="round" fill="none" opacity="0.9" />
<path d="M531.2 207h0m2 8.2h0m2.9 7h0m19.2 -47.2h0m-28.6 7.3h0m46 -9.3h0m-45.6 12.9h0m9.9 5.1h0m8.3 5.4h0m-21.3 -10.7h0m-0.8 33.1h0m13.6 2.5h0m-8.6 -33.2h0m10.1 9.2h0m-1.2 22.6h0m17.5 -41h0m-20 42.8h0m-10.7 -6.4h0m23.6 -34.1h0m-20.5 30h0m4.2 7.5h0m21.8 -18.3h0m-20.8 -27.7h0m4.7 4.5h0m-10.6 11.8h0m23 27h0m-18.9 -16.5h0m30.3 9.3h0m-34.2 -7.7h0m34 0.5h0m-34.8 -18.4h0m5.5 15.6h0m28.9 15.4h0m-15 -24.5h0m-1 19.7h0m-5.3 -7.6h0m-8.3 3.6h0m43 6.4h0m-49.9 4.9h0m38 -34.8h0m12.3 12.5h0m-2.6 -2.6h0m-41 20.2h0m4.3 9.5h0m9.7 -1.3h0m-1.1 -5.3h0m-5.7 -39h0m2.8 46.8h0m28.7 0.5h0m-9.5 -14.6h0m1.4 -17.6h0m-35.5 27.8h0m42.7 -37.8h0m-43.7 25.2h0m26.7 -10h0m-6.6 -13.2h0m-6.9 34.9h0m-9.9 -43.8h0m3.7 26h0m15.6 -4.4h0m-10.8 -21.5h0m24.9 38h0m-31.8 -19.2h0m19.3 18.8h0m-1.1 -22.7h0m-2 16.7h0m-3.3 3.2h0m6.7 -24.3h0m-12.5 26.5h0m-6.9 -36.4h0" stroke="#e8c860" stroke-width="0.9" stroke-linecap="round" fill="none" opacity="0.9" />
<path d="M543.1 196.3h0m1.2 2.2h0m0.2 -6.5h0m2.8 23.6h0m-3.4 -20.2h0m3.4 16.7h0m-0.1 0.7h0m-1.9 -5.7h0m-1.4 -7.4h0m2.2 -10h0m0.6 22.7h0m0 -1h0m-2.9 -11.9h0m-0.4 2.9h0m0.7 -1.4h0m0.8 4.2h0m1.6 -21h0m0.9 31h0m-2.4 -26.2h0m-0.4 22.1h0m4.6 8.6h0m-2.1 -36.8h0m-1.5 4.1h0m1.1 -6.2h0m-1.4 16.4h0m0 10.9h0m0.6 4.4h0m-2.4 -14.8h0m4.1 18.8h0m-3.8 -11.5h0m4.2 9.5h0m-0.5 -35.1h0m-1.8 32h0m4.5 10.9h0m-5.7 -25.9h0m3 -13.8h0m-0.7 28.5h0m0.1 -24.8h0m-2.7 5.2h0m2.1 17.9h0m0.5 -30.4h0m-0.5 5.8h0m-2.1 19.2h0m5.8 18.5h0m-3 -39.2h0m-3.2 16.3h0m2.3 10.8h0m-0.7 -27.6h0m-1.5 15.1h0m2.5 -9.5h0m1.2 -7.5h0m-1.3 34.1h0m-1.7 -11.2h0m1 -15.4h0m3.7 26.2h0m-5.7 -16.9h0m5.8 23.4h0m-5.8 -23.3h0m1.3 -4.4h0m5 26h0m-3.8 -33.1h0m1.4 26.8h0m-3.5 -18.3h0m1 -5.3h0m0.3 0.9h0m-0.1 -1.6h0m-2.4 9.5h0m3.3 -13.1h0m-0.6 15.5h0m1.3 -15.7h0m1.9 36.1h0m-2.2 -31.7h0m-1.6 17.7h0m3.2 7.9h0m-0.7 -32.5h0m-3.7 17.1h0m4.4 15.3h0m-3.5 -21.8h0m-1.3 9.9h0m4.8 14.9h0m-3.5 -20.2h0m0.3 12.8h0m2.3 -28.3h0m-0.7 30.9h0m0.7 -30.5h0m-3.3 10.9h0m4.4 22.1h0m-2.1 -27.3h0m1 -7h0m0.5 1.4h0m-2.1 7.9h0m-1.5 9.2h0m-0.4 -5.6h0m3 -12.1h0m-1.8 23.7h0m0.2 -15.6h0m-1.4 10.2h0m3.6 -21.5h0m-1.4 5.2h0m-0.7 5.1h0m0.2 21.9h0m4.9 10.7h0m-2.8 -42.5h0m-2.5 8.8h0m-1.3 13.4h0m2.3 -16.8h0m-2.2 18.2h0m1.5 3.1h0m0.9 -23.9h0m-2.4 18.7h0" stroke="#05031a" stroke-width="1.5" stroke-linecap="round" fill="none" opacity="0.97" />
<path d="M564 185.1h0m1.8 11.7h0m0 -0.3h0m3.5 8.3h0m-0.3 0h0m-2.8 -1.3h0m0.2 -5.8h0m2.2 10h0m-4.5 -24.8h0m6.3 26.8h0m-4.8 -13.7h0m0.5 -3.4h0m5.5 19.4h0m-2.7 -6.5h0m-3 -11.9h0m-3.6 -12.2h0m0.6 -2.4h0m2.4 19.3h0m7.9 14.3h0m-9 -24.5h0m8.2 23.5h0m-3.1 -5.8h0m2.5 5.1h0m-5.3 -12.2h0m6 12.4h0m-7.5 -25h0m-1.3 -3.7h0m2.3 8.2h0m4 16h0m-0.6 1.6h0m3.2 2.8h0m-7.6 -26.9h0m2.3 17.5h0m6 11.6h0m-6 -10.4h0m-3 -17.5h0m0.4 1.8h0m1 8.4h0m-3.2 -16.8h0m1.8 13h0m5 12.5h0m1.5 2.8h0m-5.4 -18.3h0m-0.8 -8.6h0m0.8 7.3h0m2.1 15.6h0m-3.9 -18h0m1.4 9.4h0m2.8 7.2h0m-1.6 -9.6h0m0.7 8.4h0m-1.9 -13.3h0m2.4 13.7h0m-4.3 -20.3h0m5.4 23.7h0m-2.3 -3.6h0m0.7 -1.5h0m4.8 11.4h0m-1.4 -1.8h0m1.2 2.5h0m2.2 1.8h0m-9.6 -27.3h0m1.7 10.3h0m3.3 10.1h0m-1.8 -1.8h0m2.6 1.8h0m-5.8 -23.1h0m1.5 11h0m-2.1 -12.3h0m0 -3.5h0m3.3 21.9h0m3.7 6.1h0m-8.5 -29.7h0m6.8 29.2h0m-5.2 -25.7h0m5.7 27.2h0m-2.9 -16.5h0m-1.3 -6.5h0m-2.3 -8.2h0m3.2 16.5h0m1.3 11.6h0m-2 -11.6h0m6.9 20.2h0m-9.1 -32.4h0m2.8 11.6h0m-0.7 6.4h0m4.2 7.1h0m-4.7 -16.1h0m-0.6 -1.6h0m2.7 11.6h0m-3.2 -22.9h0m6.5 34.8h0m-4.3 -15.1h0m1.8 4.3h0m5.1 10.5h0m0.6 0.3h0m-8.1 -17.5h0m0.9 5.2h0m0.1 -1.2h0m4.9 11.3h0" stroke="#05031a" stroke-width="1.5" stroke-linecap="round" fill="none" opacity="0.97" />
<path d="M559.8 207.2h0m-0.9 3.2h0m-4 4.2h0m7.7 0.8h0m-4.5 7.1h0m-6.4 -13.6h0m9.1 4.7h0m-2.6 1.6h0m-0.7 -6.9h0m-4.7 -5.4h0m3.2 20.6h0m-1.9 -15.2h0m1.7 1.5h0m0.6 5h0m2.1 2.6h0m-2.1 -9.4h0m-2.2 5.4h0m1.7 4h0m3.3 -0.9h0m-3 -1.8h0m-3.7 -1.6h0m-1.8 -7.3h0m6.8 -1.1h0m1.1 13.2h0m-9.6 -4.2h0m6.3 8.3h0m1.4 -10.5h0m-7 1.7h0m5.9 0h0m0.7 -8.2h0m1 16.8h0m-1 -14.8h0m-5.2 1.6h0m2.7 6.8h0m-5.5 -1.7h0m7.8 7h0m-4.2 -7.2h0m5.3 4.8h0m5 -4.5h0m-6.5 2.3h0m0.2 -2.4h0m-2.5 6.5h0m2.7 -12h0m0.5 5.5h0m-1.6 -2.7h0m3.9 -3.7h0m-8.3 -2.2h0m9.3 5h0m-4 9.5h0m3.6 -7.6h0m-3 1.9h0m0.7 3.8h0m0.9 -9.6h0m3.2 16.6h0m-7.5 -13.9h0m3 8.5h0m0.8 0.5h0m3.8 -10.9h0m-5 4h0m2.1 5.4h0m-2.6 -5.1h0m6 3.8h0m-9.7 -2h0m-0.1 0.1h0m7.2 -1.1h0m-2.6 -0.1h0m9.5 4.6h0m-9.8 -6.9h0m-5.9 4.7h0m3.4 1.1h0m7.2 -6h0m-2.8 -5.3h0m-5.7 14.2h0m9.9 -6.2h0m-11.6 5.9h0m5.3 -0.5h0m-2.4 -9h0m0 -2.2h0m3.1 6.2h0m4.2 -5h0m-3.2 3.5h0m0.1 1.7h0m0.3 -3.5h0m-1 -5.5h0m-1.4 5.3h0m-0.9 6.6h0m4.8 0h0m-2 -6.9h0m-1.7 9.6h0m-0.9 -10.9h0m-7 -6h0m6.7 3.1h0m-0.1 13.4h0m0.7 -5h0m-4.3 5h0m3.5 -6h0m0.5 0.8h0m-4.2 1.9h0m8.5 -7h0m-5.2 5.1h0m-2.1 2.1h0m4.7 2.7h0m3.2 -7.4h0m-4.7 -2.4h0m3.1 -2.2h0m-0.9 11.6h0m-2.8 -2.8h0m-1.6 -2.2h0m1.5 -5.9h0m-2.4 -8.1h0m6.3 11.2h0m-0.8 4.7h0m-3.9 -0.4h0m1.1 -5.6h0m-0.9 3.2h0m5 -1.9h0m-3 3.5h0m-1.7 -0.6h0m2.9 -3.9h0m-3.9 3.5h0m6.6 -4.6h0m-0.3 0.1h0m-1.8 6.4h0m0.2 5h0m-2.7 -2.3h0m-4.8 -10h0m3.3 0.9h0m0.9 6.5h0m3.5 -6.2h0m2.2 -1.3h0m-4.8 9.7h0m-2.1 4.4h0m-2 -12.3h0m7 1.7h0m-0.9 0.3h0m-3.4 12.8h0m-2.5 -8h0m2.4 4.3h0m3.1 -13.3h0m-2.3 1.9h0" stroke="#05031a" stroke-width="1.6" stroke-linecap="round" fill="none" opacity="0.95" />
<path d="M530.7 174.4h0m-8.7 -1.1h0m9.1 -5.5h0m-4 13.3h0m-1.3 -3.5h0m-7.8 -9.7h0m11.6 7.6h0m-8.7 2h0m5.4 5.5h0m-0.2 -6.4h0m1.1 -2.8h0m-0.4 8h0m2 -4.8h0m5.8 -3.1h0m-2.5 -6.8h0m-5.2 12.3h0m3.2 0.5h0m-3.5 -1.3h0m-1.3 -5.5h0m2.4 3.3h0m-1.5 -0.8h0m0.6 3.7h0m-0.9 -2.9h0m-0.6 -0.9h0m3.9 -4.7h0m1.3 0.5h0m-5 5.8h0m6 0.5h0m-6.9 -5.7h0m5.6 7.9h0m-6.7 -1.1h0m3.1 -4.4h0m11.5 2.3h0m-5.7 0.2h0m-7.5 5.4h0m0.2 -1.6h0m4.5 -8.2h0m3.5 2.7h0m-4.1 -2.8h0m-1.6 -1.4h0m-5.4 3.4h0m8 -1.3h0m-2.1 6.9h0m1.1 -7.8h0m-9.6 2.6h0m5 1.9h0m6.3 -5.1h0m2.3 -0.6h0m-3.9 -0.4h0m-1.6 3h0m0.5 -8.8h0m4.3 15.8h0m-7.1 1.3h0m2.4 -14h0m-1.8 5.7h0m2.8 3.3h0m0.2 0.6h0m-2.8 -3.8h0m-2.1 1h0m3.8 2.2h0m-5.5 0.1h0m2.4 -9.1h0m0.3 4h0m-0.7 3.7h0m6.7 4.9h0m-9.2 -1.5h0m3.5 -4.1h0m-3.8 -5h0m7.5 3.6h0m-6.4 2.3h0m3.9 0.3h0m0.5 3.6h0m1.9 -3.6h0m2 -2.4h0m-9.4 3.7h0m2.4 -0.2h0m-0.3 -2.6h0m7.7 3.5h0m6.2 0.9h0m-22.3 -0.7h0" stroke="#05031a" stroke-width="1.6" stroke-linecap="round" fill="none" opacity="0.95" />
<path d="M559.1 206h0m-2.3 1.5h0m-2.3 1.2h0m3.2 -0.3h0m0.6 -1.1h0m0.1 0.6h0m-1.6 0.8h0m0.3 -1.5h0m1.6 0h0m-2.2 -0.2h0m2.4 -1.8h0m-1.6 3.4h0m2.2 -1h0m-4.3 0.8h0m1.7 -1.2h0m-1.9 1.1h0" stroke="#e8c060" stroke-width="1" stroke-linecap="round" fill="none" opacity="0.9" />
</g>
</g>
<rect x="550.6" y="185.4" width="10.3" height="11.2" fill="none" stroke="#fff" stroke-width="0.6" stroke-dasharray="1 0.8"/>
<line x1="561" y1="222.1" x2="574" y2="222.1" stroke="#ddd" stroke-width="0.9" />
<text x="577.3" y="224" font-size="6.6" fill="#111" stroke="#111" stroke-width="0.2" >100μm</text>
<rect x="409.5" y="228" width="52.2" height="52.2" fill="#0a0628" />
<clipPath id="cp4"><rect x="409.5" y="228" width="52.2" height="52.2"/></clipPath>
<g clip-path="url(#cp4)">
<g filter="url(#b4)">
<path d="M413.8 265.3C414.6 260.8 419 251.7 422.5 247.8C426 243.8 431 243.7 434.8 241.6C438.6 239.6 442.4 236.8 445.3 235.5C448.2 234.2 449.6 232.3 452.3 233.8C455 235.2 459.8 239 461.4 244.3C463 249.5 463.9 260.6 462.1 265.3C460.3 270 455.7 270.7 450.5 272.6C445.4 274.6 436.8 276.7 431.3 277C425.7 277.3 420.2 276.3 417.3 274.4C414.3 272.4 412.9 269.7 413.8 265.3Z" fill="#1a0f4a" opacity="0.9"/>
<path d="M446.2 272.6h0m-31.4 -1.9h0m35.8 0h0m-32.1 1.6h0m2.2 1.7h0m21.5 -1.5h0m-5.4 3.9h0m-4.7 -1h0m3.5 0.2h0m18.4 -7.5h0m2.5 -1.9h0m-14.1 5.9h0m-0.2 2.5h0m-25 -1.8h0m10 2.6h0m20.6 -4.7h0m-32.9 1h0m9 1.5h0m3.3 2.6h0m19.8 -4.2h0m-6.4 1.6h0m5.5 -2.1h0m-26.5 3.6h0m30 -3.4h0m-12.3 5h0m-5.7 -0.2h0m14.4 -4.3h0m-16 3.8h0m22.4 -5.7h0m-17.7 4.5h0m16.8 -3.2h0m-30.1 2.6h0m-2.2 0h0m13.1 1.9h0m-16.2 -4.5h0m16.9 5.5h0m2.9 -1.8h0m-11.1 -0.8h0m5.6 2.1h0m1.6 -1.5h0m6.3 -1.1h0m21.9 -9.3h0m-15.2 9h0m-25.7 1.4h0m12.3 0h0" stroke="#c040c0" stroke-width="1" stroke-linecap="round" fill="none" opacity="0.85" />
<path d="M443.1 236.7h0m-16.4 9.4h0m0.8 -0.5h0m-9 14.4h0m26.2 -22h0m-4.9 1.8h0m-5.7 3.2h0m7.1 -4.8h0m-12.7 7.4h0m-7.1 8.2h0m23.2 -17.2h0m-18.3 9.8h0m-0.9 0.8h0m12.1 -8.8h0m-20.9 23.3h0m1.8 -1.5h0m2.9 -6.8h0m11.7 -10.1h0m4.3 -3.4h0m6.6 -3.5h0m0.7 1.3h0m-28.3 24.3h0m6.4 -14.4h0m7.7 -4h0m-5 4.5h0m-9.2 14.4h0m11.7 -15.7h0m4.7 -3.6h0m4.5 -0.4h0m-11.3 3.9h0" stroke="#9040b8" stroke-width="0.9" stroke-linecap="round" fill="none" opacity="0.8" />
<circle cx="425.1" cy="248.6" r="2.3" fill="#2626d0" opacity="0.95"/>
<circle cx="436.5" cy="257.4" r="3" fill="#2626d0" opacity="0.95"/>
<circle cx="442.7" cy="266.2" r="2.6" fill="#2626d0" opacity="0.95"/>
<circle cx="435.6" cy="267.9" r="1.8" fill="#2626d0" opacity="0.95"/>
<circle cx="415.5" cy="267" r="1.6" fill="#2626d0" opacity="0.95"/>
<circle cx="428.6" cy="253" r="1.6" fill="#2626d0" opacity="0.95"/>
<circle cx="424.3" cy="271.4" r="2.1" fill="#c838c8" opacity="0.85"/>
<circle cx="435.6" cy="243.4" r="1.4" fill="#c838c8" opacity="0.85"/>
<circle cx="438.3" cy="242.5" r="1.1" fill="#c838c8" opacity="0.85"/>
<circle cx="445.6" cy="262.1" r="1.1" fill="#c838c8" opacity="0.85"/>
<circle cx="420.8" cy="256.5" r="1.1" fill="#c838c8" opacity="0.85"/>
<circle cx="454" cy="241.6" r="1.4" fill="#c838c8" opacity="0.85"/>
<circle cx="447.9" cy="238.1" r="3.9" fill="#e8d040" opacity="0.95"/>
<circle cx="457.2" cy="246.4" r="3.5" fill="#e8d040" opacity="0.95"/>
<circle cx="418.1" cy="262.7" r="3" fill="#e8d040" opacity="0.95"/>
<circle cx="430.4" cy="255.1" r="2.8" fill="#e8d040" opacity="0.95"/>
<circle cx="433" cy="270" r="1.9" fill="#e8d040" opacity="0.95"/>
<circle cx="441.1" cy="271.9" r="1.8" fill="#e8d040" opacity="0.95"/>
<circle cx="460.3" cy="266.3" r="1.4" fill="#e8d040" opacity="0.95"/>
<circle cx="451.9" cy="235.5" r="1.6" fill="#e8d040" opacity="0.95"/>
<circle cx="447.9" cy="238.7" r="2.3" fill="#fff8e8" opacity="0.95"/>
<circle cx="457.5" cy="246.9" r="1.6" fill="#fff8e8" opacity="0.95"/>
<circle cx="430" cy="255.1" r="1.8" fill="#fff8e8" opacity="0.95"/>
<circle cx="450.2" cy="235.9" r="1.1" fill="#fff8e8" opacity="0.95"/>
<circle cx="455.8" cy="245.7" r="1.8" fill="#3030d8" opacity="0.95"/>
<circle cx="433" cy="256.5" r="1.4" fill="#3030d8" opacity="0.95"/>
</g>
</g>
<line x1="444.5" y1="278.3" x2="460" y2="278.3" stroke="#e0141c" stroke-width="1.3" />
<rect x="466.2" y="228" width="52.2" height="52.2" fill="#020208" />
<clipPath id="cp5"><rect x="466.2" y="228" width="52.2" height="52.2"/></clipPath>
<g clip-path="url(#cp5)">
<g filter="url(#b4)">
<circle cx="510.8" cy="274.7" r="2" fill="#2424d0" opacity="0.95"/>
<circle cx="517" cy="248.1" r="2.2" fill="#2424d0" opacity="0.95"/>
<circle cx="505.8" cy="266.8" r="2.1" fill="#2424d0" opacity="0.95"/>
<circle cx="481.2" cy="250.7" r="2.4" fill="#2424d0" opacity="0.95"/>
<circle cx="471" cy="237.8" r="2.2" fill="#2424d0" opacity="0.95"/>
<circle cx="506.2" cy="278" r="1.9" fill="#2424d0" opacity="0.95"/>
<circle cx="473.1" cy="265" r="2.1" fill="#2424d0" opacity="0.95"/>
<circle cx="489.4" cy="267.4" r="2.1" fill="#2424d0" opacity="0.95"/>
<circle cx="513.4" cy="236" r="2.3" fill="#2424d0" opacity="0.95"/>
<circle cx="487.5" cy="257.6" r="2" fill="#2424d0" opacity="0.95"/>
<circle cx="492.6" cy="273" r="2.1" fill="#2424d0" opacity="0.95"/>
<circle cx="496.5" cy="242" r="2" fill="#2424d0" opacity="0.95"/>
<circle cx="478.7" cy="241" r="2.1" fill="#2424d0" opacity="0.95"/>
<circle cx="470.2" cy="275.6" r="2.4" fill="#2424d0" opacity="0.95"/>
<circle cx="514" cy="268.1" r="2.1" fill="#2424d0" opacity="0.95"/>
<circle cx="491.5" cy="263.7" r="2.1" fill="#2424d0" opacity="0.95"/>
<circle cx="506.8" cy="269" r="1.8" fill="#2424d0" opacity="0.95"/>
<circle cx="478.8" cy="251.9" r="2.4" fill="#2424d0" opacity="0.95"/>
<circle cx="496.9" cy="249.9" r="2" fill="#2424d0" opacity="0.95"/>
<circle cx="467.4" cy="265" r="2.4" fill="#2424d0" opacity="0.95"/>
<circle cx="503.5" cy="231.7" r="2.3" fill="#2424d0" opacity="0.95"/>
<circle cx="477.2" cy="233.1" r="2.1" fill="#2424d0" opacity="0.95"/>
<circle cx="500.6" cy="274.8" r="1.9" fill="#2424d0" opacity="0.95"/>
<circle cx="474" cy="255.6" r="2.3" fill="#2424d0" opacity="0.95"/>
<circle cx="492.9" cy="238.3" r="2.1" fill="#2424d0" opacity="0.95"/>
<circle cx="480.6" cy="278.1" r="2.2" fill="#2424d0" opacity="0.95"/>
<circle cx="513.1" cy="275" r="2.4" fill="#2424d0" opacity="0.95"/>
<circle cx="497.4" cy="257.5" r="2" fill="#2424d0" opacity="0.95"/>
<circle cx="515.7" cy="246.4" r="2.4" fill="#2424d0" opacity="0.95"/>
<circle cx="502.6" cy="259.2" r="2.1" fill="#2424d0" opacity="0.95"/>
<circle cx="512.3" cy="237.7" r="2.3" fill="#2424d0" opacity="0.95"/>
<circle cx="484.5" cy="249.8" r="1.8" fill="#2424d0" opacity="0.95"/>
<circle cx="514.4" cy="229.5" r="2.4" fill="#2424d0" opacity="0.95"/>
<circle cx="500.8" cy="266.6" r="2" fill="#2424d0" opacity="0.95"/>
<circle cx="472.3" cy="263.5" r="2.1" fill="#2424d0" opacity="0.95"/>
<circle cx="516.9" cy="274.5" r="2.4" fill="#2424d0" opacity="0.95"/>
<circle cx="473.3" cy="249.6" r="2.1" fill="#2424d0" opacity="0.95"/>
<circle cx="477.1" cy="264.8" r="2.2" fill="#2424d0" opacity="0.95"/>
<circle cx="493.4" cy="236.9" r="1.9" fill="#2424d0" opacity="0.95"/>
<circle cx="466.6" cy="261.8" r="2.2" fill="#2424d0" opacity="0.95"/>
<circle cx="501" cy="269.1" r="2.2" fill="#2424d0" opacity="0.95"/>
<circle cx="504.8" cy="252" r="2.3" fill="#2424d0" opacity="0.95"/>
<circle cx="516" cy="234.4" r="1.9" fill="#2424d0" opacity="0.95"/>
<circle cx="515.4" cy="272" r="2.2" fill="#2424d0" opacity="0.95"/>
<circle cx="485.5" cy="256" r="1.9" fill="#2424d0" opacity="0.95"/>
<circle cx="509.5" cy="244.4" r="2.2" fill="#2424d0" opacity="0.95"/>
<circle cx="493.4" cy="237.7" r="2.4" fill="#2424d0" opacity="0.95"/>
<circle cx="514.1" cy="237.8" r="2.2" fill="#2424d0" opacity="0.95"/>
<circle cx="501.8" cy="267.2" r="2.4" fill="#2424d0" opacity="0.95"/>
<circle cx="503.8" cy="245.8" r="1.8" fill="#2424d0" opacity="0.95"/>
<circle cx="512.4" cy="248.1" r="1.9" fill="#2424d0" opacity="0.95"/>
<circle cx="495.7" cy="229" r="2.2" fill="#2424d0" opacity="0.95"/>
<circle cx="510.1" cy="268.8" r="2.5" fill="#2828d8" opacity="0.95"/>
<circle cx="513.6" cy="274" r="2.3" fill="#2828d8" opacity="0.95"/>
<circle cx="506.6" cy="275.8" r="2.3" fill="#2828d8" opacity="0.95"/>
<circle cx="517.1" cy="242.5" r="2.3" fill="#2828d8" opacity="0.95"/>
<circle cx="511.8" cy="235.5" r="2.3" fill="#2828d8" opacity="0.95"/>
<circle cx="492.6" cy="256.5" r="2.3" fill="#2828d8" opacity="0.95"/>
<circle cx="487.3" cy="260" r="2.1" fill="#2828d8" opacity="0.95"/>
<circle cx="517.1" cy="256.5" r="2.1" fill="#2828d8" opacity="0.95"/>
<circle cx="496.1" cy="275.8" r="2.3" fill="#2828d8" opacity="0.95"/>
<circle cx="489.1" cy="272.3" r="2.1" fill="#2828d8" opacity="0.95"/>
<circle cx="472.4" cy="232" r="3.5" fill="#f0e428" opacity="0.97"/>
<circle cx="485.6" cy="238.1" r="4.7" fill="#f0e428" opacity="0.97"/>
<circle cx="480.3" cy="248.6" r="4.2" fill="#f0e428" opacity="0.97"/>
<circle cx="478.6" cy="264.4" r="5.1" fill="#f0e428" opacity="0.97"/>
<circle cx="469.8" cy="262.7" r="2.1" fill="#f0e428" opacity="0.97"/>
<circle cx="499.6" cy="249.5" r="4.7" fill="#f0e428" opacity="0.97"/>
<circle cx="505.7" cy="253" r="3.2" fill="#f0e428" opacity="0.97"/>
<circle cx="500.4" cy="261.8" r="2.8" fill="#f0e428" opacity="0.97"/>
<circle cx="495.2" cy="267" r="2.1" fill="#f0e428" opacity="0.97"/>
<circle cx="477.7" cy="275.8" r="1.8" fill="#f0e428" opacity="0.97"/>
<circle cx="515.3" cy="265.3" r="1.4" fill="#f0e428" opacity="0.97"/>
<circle cx="504.8" cy="230.3" r="1.8" fill="#f0e428" opacity="0.97"/>
<circle cx="482.1" cy="235.5" r="2.5" fill="#f0e428" opacity="0.97"/>
<circle cx="475.1" cy="267" r="2.5" fill="#f0e428" opacity="0.97"/>
<circle cx="505.7" cy="253" r="1.6" fill="#fffce0" opacity="0.95"/>
<circle cx="500.4" cy="248.6" r="1.4" fill="#fffce0" opacity="0.95"/>
<circle cx="490.8" cy="243.9" r="0.9" fill="#e030a0" opacity="0.95"/>
<circle cx="492.6" cy="242.5" r="0.7" fill="#e030a0" opacity="0.95"/>
<circle cx="507.5" cy="251.3" r="1.6" fill="#2a2ad8" opacity="0.95"/>
<circle cx="483.8" cy="246" r="1.6" fill="#2a2ad8" opacity="0.95"/>
<circle cx="503.1" cy="257.4" r="1.4" fill="#2a2ad8" opacity="0.95"/>
</g>
</g>
<line x1="501.2" y1="278.3" x2="516.7" y2="278.3" stroke="#e0141c" stroke-width="1.3" />
<rect x="523" y="228" width="52.2" height="52.2" fill="#c848d4" />
<clipPath id="cp6"><rect x="523" y="228" width="52.2" height="52.2"/></clipPath>
<g clip-path="url(#cp6)">
<g filter="url(#b5)">
<path d="M566.5 259h0m-4.8 -22.7h0m-9 -0.7h0m8.2 -5.3h0m-13.3 45h0m-8.5 -42.9h0m16.2 8.4h0m-18 22.4h0m-7.4 -25h0m-3.6 16.8h0m47.3 -20.9h0m-50 8.3h0m1.3 6.2h0m33.7 24.8h0m-8.1 -23.5h0m6.9 23.6h0m4.8 -1.7h0m-4.5 -23.5h0m6.3 28.8h0m-30.5 -38.6h0m-10.4 7.5h0m40.1 24.1h0m2.3 -27.2h0m-3.3 -5.1h0m-2.3 11h0m-7 -7.1h0m-14.5 35.2h0m-10 -38.2h0m20.5 36.6h0m-8.4 -29h0" stroke="#f090ec" stroke-width="4.4" stroke-linecap="round" fill="none" opacity="0.9" />
<path d="M573.2 274.1h0m-35.9 -41h0m19.4 18.7h0m-16.8 -11.6h0m-0.4 -10.8h0m4.3 1.8h0m-18 42.3h0m14.5 1.5h0m7.3 -39.9h0m8.4 19.2h0m0.3 -18.2h0m-12.3 19.1h0m-17.4 21.7h0m48.1 -11.8h0m-24.2 -31.3h0m-5.2 8.7h0m-6.2 -1.1h0m30.8 -11.4h0m-19.8 18.2h0m9.8 17.9h0m-21.1 -19.1h0m31.6 0.2h0m-13.6 28.7h0m-29.1 -12.4h0m14.2 16.1h0m11.4 -4.5h0m-9.7 -9.5h0m20 7.6h0m-27.2 -15.3h0m23.1 11.4h0m-26.8 -18.3h0m37.3 -21h0m-10.1 47.6h0m-13.9 -3.4h0m20 -32.4h0m-10.6 -9.2h0m-13.2 22.2h0m-5.6 -21.4h0m24.3 13.8h0m-26.9 -6.4h0m-6.8 15h0m43 -9.1h0m-44 -18h0m27.8 17.4h0m6.3 10.7h0m8.1 13.3h0m-36.2 -3.9h0m-7.4 3h0m37.8 -6.3h0m-26.2 -12.3h0m6.3 6.5h0m17.3 0.4h0m-10.1 -20.4h0m15.6 31.9h0m4.3 -35.6h0m-35.7 -0.1h0m12.4 42h0m18.9 1h0m-18.7 -39.9h0m-11.5 24h0m-4.9 9.6h0m1.6 -33.9h0m10 -2.9h0m-6.8 27.5h0m36.7 -1.6h0m-36.5 -17.4h0m33.5 16.3h0m-29.2 -13.7h0m12.4 5.1h0m7 0.3h0m-34.1 9.2h0m28.2 -0.5h0m13.5 -7h0m-5.7 23.4h0m-31.1 -20.5h0m16.9 -9.7h0m11.6 30.5h0m-2.9 -29.6h0m8.7 -0.4h0m-21.4 25.9h0m14.6 8.9h0m-8.5 -20.2h0m4.8 17.7h0m-21 -15.7h0m-6.1 -3.8h0" stroke="#2418b8" stroke-width="5.4" stroke-linecap="round" fill="none" opacity="0.97" />
<path d="M542.8 245.4h0m-4.1 4.4h0m19.5 4.3h0m-29.4 -1.7h0m29.9 3.1h0m9.9 -2.7h0m-26.7 20.4h0m3 -22.6h0m-7.9 -2.9h0m29.7 23.3h0m-9.4 -26.1h0m-12.1 14.1h0m1 -27.5h0m24.4 44h0m-21.9 -11.9h0m-5.7 -5h0m4.5 -24.9h0m19.1 0.5h0m7.8 16.2h0m-39.1 18.2h0m22.5 -8.1h0m-17.5 18.8h0m-9.3 -48.1h0m22.3 6.6h0m14.9 26.4h0m-27.6 -20.5h0m11.1 29.2h0m6.1 -14.8h0m-5.1 10.7h0m-20 4.5h0m12.5 -24.1h0m-6.1 4.7h0m14.5 20.2h0m-8.9 -1.7h0m22.5 -42.2h0m-9.5 20.3h0m4.8 21.9h0m-31.3 -3.8h0m19.2 -16.8h0m-16.1 15h0" stroke="#e838e0" stroke-width="3.4" stroke-linecap="round" fill="none" opacity="0.95" />
<path d="M546.5 271.6h0m11.8 -31.6h0m-5.5 33.7h0m-20 -28h0m13.2 23.8h0m23 -34.8h0m-2.2 1.1h0m-22.1 34.9h0m6.2 -19.5h0m21.7 27.9h0m-24.8 -9.6h0m7.3 -20.4h0m-23.5 1.7h0m-2.8 -22.1h0m10.9 6.1h0m-1.8 18.9h0m-2.1 15.1h0m2.7 -37.9h0m9.1 32.2h0m-23 -19.5h0m18 35.8h0m-0.4 -33.9h0m6 23.7h0m-10.2 -31.7h0m29.5 37.3h0m-1 -3h0m-35 -37.7h0m12.8 5.4h0m19.3 18.4h0m6.2 -14.8h0m5.3 1.8h0m-22.6 -0.5h0m-28.1 33.5h0m24.9 -37.2h0m-24.3 12.1h0m43.5 15h0m-37.1 -13.3h0m21 -17.2h0m-9.1 31.8h0m-9.7 10.5h0m-3 -15.2h0m-6.7 -12.6h0m4.1 22.2h0m14.5 -27.2h0m30.1 -4.4h0m-0.2 10.1h0m-2.9 -18.6h0m4 15.3h0m-30.8 24.5h0m27.8 -31.4h0m0.5 23.5h0m-33.6 -24.5h0m31.2 15.2h0m-14.3 22.1h0m-15.9 -9.5h0m-8.4 -2.9h0m28.6 12.4h0m-31.9 -13.9h0m8.7 -18h0m4.5 27.5h0" stroke="#fff0fa" stroke-width="3.2" stroke-linecap="round" fill="none" opacity="0.97" />
<path d="M527.4 266.5h0m13.9 -28.5h0m-0.8 35h0m-8.5 -1.5h0m4.1 -9.1h0m-6.3 7.4h0m-1.4 -10.2h0m14 16.6h0m-8.3 -27.4h0m-5.5 7.8h0m1.4 20.9h0m2.5 -29.3h0m11.1 -8.9h0m-3.1 36.3h0" stroke="#ffffff" stroke-width="3.4" stroke-linecap="round" fill="none" opacity="0.95" />
<path d="M551 232h0m4 5h0m10 15h0m2 8h0m-4 8h0m-4 -4h0m-18 -22h0" stroke="#fbeeb0" stroke-width="4.6" stroke-linecap="round" fill="none" opacity="0.95" />
<path d="M553 234h0m13 19h0m-9 13h0m3 4h0" stroke="#ffffff" stroke-width="3.2" stroke-linecap="round" fill="none" opacity="0.95" />
<path d="M543 252.3h0m-1.3 2.5h0m-10.8 -16.4h0m36.8 19h0m-42.3 -25.2h0m-0.8 -2h0m1.3 34.9h0m25.5 -16.3h0m-9.2 12.4h0m4.8 18.3h0m-11 -16.1h0m11.8 -6.8h0m17.7 -23.2h0m-39.2 14.9h0m29 17.6h0m-18.6 -12.6h0m29.9 -14.9h0m-38.4 32.8h0m20.3 -24.6h0m-8.2 14h0" stroke="#1c1890" stroke-width="3.2" stroke-linecap="round" fill="none" opacity="0.9" />
</g>
</g>
<line x1="558" y1="278.3" x2="573.5" y2="278.3" stroke="#e0141c" stroke-width="1.3" />
<text x="577.3" y="279.5" font-size="6.6" fill="#111" stroke="#111" stroke-width="0.2" >20μm</text>
<rect x="409.5" y="284.2" width="16.3" height="16.2" fill="#07062a" />
<clipPath id="cp7"><rect x="409.5" y="284.2" width="16.3" height="16.2"/></clipPath>
<g clip-path="url(#cp7)">
<g filter="url(#b3)">
<path d="M412.1 289h0m11 6h0m0.4 -9.6h0m-11.2 11.9h0m7.3 -1.5h0m-9.5 -9h0m9 8.9h0m-6.2 -8h0m9.8 9.3h0m-5.9 -0.7h0m-4.7 3.1h0m12.5 -5.6h0m-12.9 -8.8h0m2.8 13.9h0m0.1 -9.3h0m-0.8 2.2h0m2.2 -4.6h0m0.9 8.4h0m7.3 -0.8h0m0.3 4.3h0m-14.6 -1.4h0m12.6 -7h0m-2.3 6.7h0m4.5 1.1h0m-13.5 -9.2h0m7.1 9h0m-5.7 2h0m10.6 -13.1h0m-10.3 13h0m10.4 -11.7h0m-7.2 2.5h0m-5.4 -5.6h0m13.9 4.7h0m1 -1.2h0m-13.9 2.1h0m4.2 -2.8h0m-4.2 4.5h0m8.1 6.9h0m-10.2 -6.6h0m4.2 3.6h0m10.7 -5.6h0m1 0.2h0m-13.9 0.5h0m6.6 -3.9h0m-7.7 -3h0m12.2 -0.2h0m-5.6 12h0m-3.3 -12.3h0m4.5 13.8h0m3.9 -13.6h0m-8.4 10.5h0m9.7 -7.1h0m-1.1 2.5h0m-4.7 8h0m1.9 -1h0m-2.8 -9.8h0m-2.2 10.4h0m6.4 1h0m-10.4 -13.8h0m9.7 5.3h0" stroke="#2626c8" stroke-width="1.2" stroke-linecap="round" fill="none" opacity="0.9" />
</g>
</g>
<line x1="421" y1="299.6" x2="425" y2="299.6" stroke="#e0141c" stroke-width="0.6" />
<rect x="427.4" y="284.2" width="16.3" height="16.2" fill="#0a0814" />
<clipPath id="cp8"><rect x="427.4" y="284.2" width="16.3" height="16.2"/></clipPath>
<g clip-path="url(#cp8)">
<g filter="url(#b3)">
<path d="M435.2 298.6h0m6.1 -9.3h0m-8.7 -4.2h0m6.8 3.8h0m-9.4 -2.8h0m11.5 4.3h0m-0.6 -4.9h0m-8.8 14.8h0m5.6 -1.8h0m4.6 -2.5h0m-4.1 -8.9h0m-5.8 -1.8h0m-1.8 10.5h0m6.1 -3.6h0m5.9 3.2h0m-0.9 3.9h0m-8.2 -7.9h0m4.3 -0.7h0m-3.4 0h0m1.6 6.3h0m6.7 -8.3h0m-4.3 9.6h0m4.7 -1.2h0m-12 -6.7h0m8.8 6.2h0m-0.4 -4.8h0m0.9 7.3h0m-2.3 -11.5h0" stroke="#e0d828" stroke-width="1.2" stroke-linecap="round" fill="none" opacity="0.9" />
</g>
</g>
<line x1="438.9" y1="299.6" x2="442.9" y2="299.6" stroke="#e0141c" stroke-width="0.6" />
<rect x="445.4" y="284.2" width="16.3" height="16.2" fill="#0c0618" />
<clipPath id="cp9"><rect x="445.4" y="284.2" width="16.3" height="16.2"/></clipPath>
<g clip-path="url(#cp9)">
<g filter="url(#b3)">
<path d="M449.8 291.6h0m6 -1.6h0m-9.9 -4h0m5.7 11.5h0m2.1 -11.3h0m2.8 -0.5h0m-3.8 9.8h0m3.5 -10.9h0m3.3 11.2h0m-1.9 -6.1h0" stroke="#c030b8" stroke-width="1.2" stroke-linecap="round" fill="none" opacity="0.9" />
</g>
</g>
<line x1="456.9" y1="299.6" x2="460.9" y2="299.6" stroke="#e0141c" stroke-width="0.6" />
<rect x="466.2" y="284.2" width="16.3" height="16.2" fill="#07062a" />
<clipPath id="cp10"><rect x="466.2" y="284.2" width="16.3" height="16.2"/></clipPath>
<g clip-path="url(#cp10)">
<g filter="url(#b3)">
<path d="M468.4 286.1h0m9.4 4.6h0m3.5 5.4h0m-2.2 -1.6h0m2.3 -2.1h0m-0.5 4.3h0m-8.5 -5.6h0m0.3 8.8h0m2.7 -9.5h0m-6.9 6.8h0m-1.2 -0.1h0m4.8 -12.3h0m7.2 12.6h0m-4.1 0.6h0m4.1 -7h0m-1.3 6.2h0m3.1 -9.8h0m1.2 8h0m-11.3 1.3h0m11.5 -6.7h0m-7.9 1.5h0m2.8 -1.3h0m-9.1 10.1h0m9.2 -10.5h0m-2.3 -4.9h0m6.6 0.7h0m-10.2 14h0m9 -12.8h0m-10.4 13.5h0m-0.1 -0.6h0m6.2 -10.9h0m-7.3 -3.8h0m-2.5 15.1h0m4 -7.9h0m-1.9 0.4h0m2.8 -5.7h0m-1.4 -1.9h0m7 9.5h0m-7.5 -9.8h0m2.5 7.5h0m3.5 -0.3h0m0.3 -2.4h0m3.5 -1.6h0m0 0h0m-1 9.2h0m-10 -4.5h0m5 -7.5h0m8 14.4h0m-7.6 -13.9h0m7.8 1.9h0m-14.5 11.1h0m8.5 -2.5h0m-5.1 -7.8h0m7.2 9.2h0m-5.7 2.3h0" stroke="#2626c8" stroke-width="1.2" stroke-linecap="round" fill="none" opacity="0.9" />
</g>
</g>
<line x1="477.7" y1="299.6" x2="481.7" y2="299.6" stroke="#e0141c" stroke-width="0.6" />
<rect x="484.1" y="284.2" width="16.3" height="16.2" fill="#0a0814" />
<clipPath id="cp11"><rect x="484.1" y="284.2" width="16.3" height="16.2"/></clipPath>
<g clip-path="url(#cp11)">
<g filter="url(#b3)">
<path d="M497.4 294.6h0m0.2 -7.5h0m-8.5 12.5h0m6.9 -4.5h0m-0.4 0.7h0m0.6 4.2h0m-9.3 -10.8h0m3.4 10.4h0m0.2 -3.8h0m5.8 2.3h0m-6.6 -2.6h0m9 -9.6h0m-1.7 14h0m-8 -11.8h0m0.4 10.4h0m-1.5 -12.5h0m3 -1.6h0m1.8 1.7h0m-5.4 12.6h0m10.3 -10h0m0.9 3.2h0m-2.5 -4.5h0m-10.7 11.7h0m10.7 -4.3h0m-1.7 3.3h0m-3.6 -5.1h0m1.1 7.4h0m-6.1 -2.4h0m14.2 -12.5h0m0.3 5h0m-13.7 9.7h0m8.8 -6.5h0m-6 -8.9h0m7.8 8.1h0m-6.2 -1.6h0m0.9 2.5h0m-1.1 5.9h0m9.2 -10.4h0m-3.8 -3h0m-1.2 6.3h0" stroke="#e0d828" stroke-width="1.2" stroke-linecap="round" fill="none" opacity="0.9" />
</g>
</g>
<line x1="495.6" y1="299.6" x2="499.6" y2="299.6" stroke="#e0141c" stroke-width="0.6" />
<rect x="502.1" y="284.2" width="16.3" height="16.2" fill="#0c0618" />
<clipPath id="cp12"><rect x="502.1" y="284.2" width="16.3" height="16.2"/></clipPath>
<g clip-path="url(#cp12)">
<g filter="url(#b3)">
<path d="M514.3 294.7h0m-9.3 -0.9h0m12.2 4.8h0m-7 -10.2h0m-7.8 6.8h0" stroke="#c030b8" stroke-width="1.2" stroke-linecap="round" fill="none" opacity="0.9" />
</g>
</g>
<line x1="513.6" y1="299.6" x2="517.6" y2="299.6" stroke="#e0141c" stroke-width="0.6" />
<rect x="523" y="284.2" width="16.3" height="16.2" fill="#07062a" />
<clipPath id="cp13"><rect x="523" y="284.2" width="16.3" height="16.2"/></clipPath>
<g clip-path="url(#cp13)">
<g filter="url(#b3)">
<rect x="523" y="284.2" width="16.3" height="16.2" fill="#1a1a80" />
<path d="M528.4 300.2h0m2.4 -2.2h0m6.6 -10.3h0m-10.8 5.9h0m11.5 -3.4h0m-2.1 -3.2h0m-6.9 12.8h0m-5 -12h0m2.7 7.1h0m11.1 3.6h0m-4.6 -5.7h0m1.5 -5.6h0m-8.1 5.9h0m3.6 0h0m7.4 -5.1h0m-4.8 -0.6h0m5.4 4.1h0m0.9 8.8h0m-6.2 -0.7h0m-6.7 -5.2h0m12.4 -9h0m-1.4 9.1h0m-10.1 1.9h0m-1.8 -6.3h0m8.2 2h0m4.1 2.2h0m-9.4 1.8h0m1.4 -8.1h0m3.8 -0.1h0m1.2 5.1h0m2.5 3.8h0m-2.4 -11.5h0m1.3 10.7h0m-4.6 4.3h0m3.2 -0.9h0m-2.4 -5.1h0m-4.2 -7.2h0m7.9 8.1h0m-0.3 -2.6h0m-6.6 -5.2h0m-4.8 4.4h0m8.8 5.8h0m-2.5 -0.6h0m-6.8 -5.1h0m0.9 3.2h0m9 4.7h0m2.4 -14.2h0m-1.1 13.4h0m-4.9 -12.8h0m1.3 5.5h0m-1.8 6.7h0m-2.6 -4.2h0m6.7 -8.3h0m-0.8 -0.8h0m-9 6.7h0m11.9 -4.4h0m-5.2 9h0m5.2 1.2h0m3.2 -10.7h0m-13.5 8.4h0m-0.2 -9.4h0m5.8 1.7h0m-5.4 -2.8h0m-0.1 13.5h0m1.7 -9.7h0m-2.9 3.5h0m-1.2 4.5h0m13.3 -1.6h0m-3.4 2.1h0m-0.6 -3.9h0m-8.3 -0.3h0m5.2 5.1h0m8.3 -5.3h0m-7.8 0.2h0m7 7.2h0m-2.6 -0.5h0m3.2 -3.4h0m-12.8 -3.2h0m2.5 3.3h0m0.4 -3.5h0m-0.7 7.1h0m-3 -11h0m10.4 5.7h0m-7.1 -3.1h0m9.5 7.2h0m-10.5 -6.3h0m4.1 -2.2h0m3.6 -4.3h0m-8.4 -0.9h0m13.5 10.7h0m-5.6 -5.3h0m-2.7 5.6h0m7.7 -9.6h0m-7.8 11.8h0m1.5 -0.5h0m-5.8 -3h0m12.6 -1.3h0m-1 -5.7h0m-11.7 10.5h0m-1.1 -1.7h0m10.9 -9h0m-11.5 4.8h0m8.4 -4.1h0m3.1 5.3h0m-12.3 4.6h0m4.3 -6.6h0m7.8 3.7h0m1.2 -2.4h0m-10.7 -6h0m5.2 -0.3h0" stroke="#2626c8" stroke-width="1.2" stroke-linecap="round" fill="none" opacity="0.9" />
</g>
</g>
<line x1="534.5" y1="299.6" x2="538.5" y2="299.6" stroke="#e0141c" stroke-width="0.6" />
<rect x="541" y="284.2" width="16.3" height="16.2" fill="#0a0814" />
<clipPath id="cp14"><rect x="541" y="284.2" width="16.3" height="16.2"/></clipPath>
<g clip-path="url(#cp14)">
<g filter="url(#b3)">
<path d="M543.5 293.8h0m8.9 -3.1h0m-5.9 6.7h0m-3.7 -12.1h0m5.1 8.4h0m3 5.3h0m-8.4 1.3h0m5.3 -4h0m-6 -1.7h0m14 -1.4h0m-1.6 -0.9h0m-7.8 -8h0m-2.6 8.2h0m-2.8 6.5h0m12.3 -0.2h0m1.9 -10.3h0m-13.9 -0.5h0m7.2 7.8h0m3.1 -4.8h0m0.9 -0.3h0m-6.2 -6.3h0m0.3 9.5h0m-2.4 1.4h0m9 4.7h0m-3 -0.9h0m-7 -11h0m13.6 3.9h0m0.2 0h0m-9.3 -0.9h0m7.1 -5.6h0m-12.9 1.9h0m-0.1 9.2h0m10.8 -11.8h0m-9.8 9.3h0m4.6 2.5h0m8.1 -5.5h0m-5.5 -1h0m3.9 9h0m-2.8 -5.6h0m-7.7 5.4h0m-1.1 1.1h0m1.5 -4.3h0m9.9 -9.4h0m-8.1 7h0m-0.1 -3h0m-4 -1h0m4.7 1.4h0m5.4 9.4h0m-5.1 -4.9h0m3 -2.6h0m7.3 1.9h0m0.1 -6.4h0m-13.3 -2h0m2.2 8.6h0m0.6 -1h0m-1.7 -4.1h0m6.6 3.7h0m-2.1 -8.5h0m-7.1 1.5h0m3.3 7.5h0m9.9 4.1h0m1.5 -7.3h0m0 -4.9h0m-10.8 14.2h0m0.3 -15.6h0m1.4 13.6h0m9.2 -4.6h0m-12.3 5.6h0m4 -14.1h0m3.4 6h0m5.2 0h0m-1.8 -1.2h0m-10.3 -2.2h0m6.2 5h0m-1 6.4h0m-6.6 -2.9h0m-2.7 -4.6h0m10.9 4.8h0m-0.6 -8.2h0m-9.1 0.9h0m10.8 0.8h0m-6.2 -3.2h0m8.8 7.5h0m0.4 6.2h0m-11.9 -2.8h0m5.7 -1h0m-0.7 3.3h0m-7.4 -13.8h0m13.2 1.7h0m-0.4 -2.9h0m-2.1 1.1h0m3.9 0h0m-12.8 11.9h0m-1.5 -6.7h0m1.4 3.8h0m6.3 -2.4h0m-6.4 -0.6h0m9.3 -1.3h0m-3.9 -4.4h0m-1.5 10h0m-6.1 3.6h0m10 -5.1h0m3.5 -3.3h0m-5.7 -3.3h0m-0.3 -0.9h0m-5.4 8.1h0m13.2 -4.1h0m-14.6 -1.4h0m-0.1 6.6h0m5.3 -10h0m8.1 2.1h0m-5.8 11.1h0m-1.4 -6.3h0m1.4 -5h0m5.1 6.6h0m-1.6 -4.1h0m-3.3 6.7h0m3.4 -8.7h0m-10.8 0.9h0m-1.1 -1.7h0m5.7 1.6h0m9.1 4.8h0m-12.4 2h0m12.5 -9.8h0m-9 -1.8h0m9 3.2h0m-10.9 7.4h0m6.2 2h0m-7.3 -3.8h0m9.7 -3.2h0m-6.1 -1.8h0m3.7 9.4h0m-0.9 -11.1h0m-7.7 3.2h0m5.7 -0.4h0m8.6 1.6h0m-9.7 -5.1h0m1.5 5.1h0m8.3 6.8h0m-2.3 -7.5h0m0.7 9.6h0m-2 -9.9h0m-6.5 4.7h0m2.9 -9.5h0m-4.9 5.1h0m0.5 3.8h0m8.6 -2.4h0m-4.7 -1.5h0m1.2 4.9h0m-7.7 -4.1h0" stroke="#e0d828" stroke-width="1.2" stroke-linecap="round" fill="none" opacity="0.9" />
</g>
</g>
<line x1="552.5" y1="299.6" x2="556.5" y2="299.6" stroke="#e0141c" stroke-width="0.6" />
<rect x="558.9" y="284.2" width="16.3" height="16.2" fill="#0c0618" />
<clipPath id="cp15"><rect x="558.9" y="284.2" width="16.3" height="16.2"/></clipPath>
<g clip-path="url(#cp15)">
<g filter="url(#b3)">
<path d="M567.5 286.2h0m-6.2 7.7h0m6 -0.6h0m7.3 5.8h0m-12.4 -4.2h0m3.3 -7.2h0m1.3 8.3h0m-5.1 -10.6h0m7.8 13.7h0m3.9 -13.5h0m-9.5 14.2h0m8.4 -15.2h0m0.9 14.5h0m-3.9 -11.8h0m-8.8 -1.6h0m8.4 12.4h0m-4.2 -6.6h0m7.4 4.1h0m-11.2 -7.9h0m7.6 -2.6h0m-4.5 0.7h0m3.7 5.8h0m-8.3 2.1h0m3.6 1.6h0m9.1 -1.3h0m-7.3 -2.1h0m4.4 7.6h0m-5 -2.9h0m-0.5 -11.8h0m-3.9 8.1h0m6.1 7.2h0m4 -5.9h0m-0.9 -2.2h0m3.4 -5.6h0m0.3 3.9h0m-12.4 -2.4h0m3.8 -0.7h0m3.9 -2.3h0m-0.5 8.4h0m6.4 -9h0m-3.2 1.9h0m-2.4 7.1h0m-6.6 -6h0m13.3 3.6h0m-15.2 2.3h0m14.8 3.9h0m-4.6 -1.2h0m-2 1.5h0m6.9 -6.6h0m-13 -3.1h0m5.9 12.3h0m5.4 -12h0m-7.5 3.2h0m0.9 7.4h0m1.3 1.7h0m3.1 -10.9h0m3.2 5.1h0m-8.5 -5.1h0m0.2 -0.5h0m0 10.1h0m8.7 -13.4h0m-11.3 8.3h0m-2.3 -7.6h0m8.9 12.5h0m-0.4 -4.9h0m-6.7 0h0m-1.3 3.9h0m0.4 -5.3h0m-1 -6.2h0m7.2 9.4h0m-8.5 -4.2h0m11 8.6h0m-1.9 -3.6h0m-1.8 3.1h0m-0.1 -6.5h0m5.9 -5.9h0m-11.9 5.6h0m11.6 -4h0m-7.4 4.6h0m3.9 -7.5h0m-0.8 12.3h0m3.5 -11.7h0m-1.2 12.3h0m-6 0h0m2.3 -12.5h0m7.6 13.4h0m-5.2 -7.2h0m-0.8 3.1h0m6.6 -3.2h0m-1 1.1h0m-4.1 3.8h0m-4 -8.5h0m-2.7 2.9h0m8.2 8.5h0m-7.5 -15.4h0m2.4 8h0m-4.9 5.4h0m12.7 -0.1h0m-8.7 2.2h0m-6.4 -12.2h0m7.3 2.6h0m7.2 3.9h0m-12.1 -0.2h0m6.5 4.6h0m3.4 -10.8h0m-6.1 4.7h0m6.9 -2.2h0m-1 3.9h0m-8.6 5h0m12.4 -5.3h0m-5.9 -1.8h0m1.5 7.3h0m-5.5 -14.9h0m8.1 9h0m-6.4 -8.6h0m-4.4 12.9h0m2.8 -10.9h0m3.5 6.8h0m-0.9 6.2h0m-0.7 -11.6h0m6.6 1.1h0m-0.5 -3.8h0m-8.2 5.6h0m4.8 -4.5h0m-6.4 12.1h0m-0.7 -1.8h0m7.9 -10.1h0m1.9 2.3h0m-10.2 9.5h0m3 -0.5h0m8.9 -4.2h0m-5.8 3.9h0m3.9 -1.8h0m-8 1.6h0m2.4 -11.4h0m6.9 10.4h0m-0.2 -12.8h0m0.9 14.3h0m-9 -14h0m-4.9 4h0m8 2.9h0m0.3 2.5h0m3 -8.9h0m-8.8 8.2h0m0.5 5.1h0m3 -11.9h0m4.1 7.1h0m1.4 4.7h0m-12 -6.8h0m3.3 -2.6h0" stroke="#c030b8" stroke-width="1.2" stroke-linecap="round" fill="none" opacity="0.9" />
</g>
</g>
<line x1="570.4" y1="299.6" x2="574.4" y2="299.6" stroke="#e0141c" stroke-width="0.6" />
<line x1="622" y1="182.5" x2="622" y2="275.4" stroke="#111" stroke-width="0.8" />
<line x1="621.6" y1="275.4" x2="682.7" y2="275.4" stroke="#111" stroke-width="0.8" />
<line x1="619.8" y1="275.4" x2="622" y2="275.4" stroke="#111" stroke-width="0.7" />
<text x="618.8" y="277.7" font-size="6.4" text-anchor="end" fill="#111" stroke="#111" stroke-width="0.2" >0</text>
<line x1="619.8" y1="256.9" x2="622" y2="256.9" stroke="#111" stroke-width="0.7" />
<text x="618.8" y="259.2" font-size="6.4" text-anchor="end" fill="#111" stroke="#111" stroke-width="0.2" >20</text>
<line x1="619.8" y1="238.4" x2="622" y2="238.4" stroke="#111" stroke-width="0.7" />
<text x="618.8" y="240.7" font-size="6.4" text-anchor="end" fill="#111" stroke="#111" stroke-width="0.2" >40</text>
<line x1="619.8" y1="219.9" x2="622" y2="219.9" stroke="#111" stroke-width="0.7" />
<text x="618.8" y="222.2" font-size="6.4" text-anchor="end" fill="#111" stroke="#111" stroke-width="0.2" >60</text>
<line x1="619.8" y1="201.4" x2="622" y2="201.4" stroke="#111" stroke-width="0.7" />
<text x="618.8" y="203.7" font-size="6.4" text-anchor="end" fill="#111" stroke="#111" stroke-width="0.2" >80</text>
<line x1="619.8" y1="182.9" x2="622" y2="182.9" stroke="#111" stroke-width="0.7" />
<text x="618.8" y="185.2" font-size="6.4" text-anchor="end" fill="#111" stroke="#111" stroke-width="0.2" >100</text>
<line x1="635.3" y1="275.4" x2="635.3" y2="277.6" stroke="#111" stroke-width="0.7" />
<line x1="653.6" y1="275.4" x2="653.6" y2="277.6" stroke="#111" stroke-width="0.7" />
<line x1="672" y1="275.4" x2="672" y2="277.6" stroke="#111" stroke-width="0.7" />
<circle cx="635.3" cy="191.2" r="1.8" fill="#c0272d" />
<circle cx="636.2" cy="243.9" r="1.8" fill="#c0272d" />
<circle cx="634.2" cy="245.8" r="1.8" fill="#c0272d" />
<circle cx="635.6" cy="251.3" r="1.8" fill="#c0272d" />
<circle cx="633.6" cy="254.1" r="1.8" fill="#c0272d" />
<circle cx="637.8" cy="255" r="1.8" fill="#c0272d" />
<circle cx="632.8" cy="257.8" r="1.8" fill="#c0272d" />
<circle cx="636.6" cy="258.8" r="1.8" fill="#c0272d" />
<circle cx="634.8" cy="261.1" r="1.8" fill="#c0272d" />
<circle cx="638.2" cy="262" r="1.8" fill="#c0272d" />
<circle cx="633" cy="263.4" r="1.8" fill="#c0272d" />
<circle cx="636.2" cy="265.2" r="1.8" fill="#c0272d" />
<circle cx="634.4" cy="267.5" r="1.8" fill="#c0272d" />
<circle cx="637.6" cy="268.5" r="1.8" fill="#c0272d" />
<circle cx="633.2" cy="268.9" r="1.8" fill="#c0272d" />
<line x1="629.7" y1="257.3" x2="640.9" y2="257.3" stroke="#111" stroke-width="0.7" />
<line x1="635.3" y1="250.9" x2="635.3" y2="261.1" stroke="#111" stroke-width="0.7" />
<line x1="632.3" y1="250.9" x2="638.3" y2="250.9" stroke="#111" stroke-width="0.7" />
<line x1="632.3" y1="261.1" x2="638.3" y2="261.1" stroke="#111" stroke-width="0.7" />
<circle cx="654" cy="259" r="1.8" fill="#f08c1e" />
<circle cx="658" cy="264" r="1.8" fill="#f08c1e" />
<circle cx="649.6" cy="267.4" r="1.8" fill="#f08c1e" />
<line x1="648" y1="264.3" x2="659.2" y2="264.3" stroke="#111" stroke-width="0.7" />
<line x1="653.6" y1="260" x2="653.6" y2="268.2" stroke="#111" stroke-width="0.7" />
<line x1="650.8" y1="260" x2="656.4" y2="260" stroke="#111" stroke-width="0.7" />
<line x1="650.8" y1="268.2" x2="656.4" y2="268.2" stroke="#111" stroke-width="0.7" />
<circle cx="672" cy="215" r="1.8" fill="#5fe0f0" />
<circle cx="676.3" cy="224.6" r="1.8" fill="#5fe0f0" />
<circle cx="667.8" cy="227.6" r="1.8" fill="#5fe0f0" />
<circle cx="672" cy="237.9" r="1.8" fill="#5fe0f0" />
<line x1="666" y1="227.7" x2="678" y2="227.7" stroke="#111" stroke-width="0.7" />
<line x1="672" y1="219.8" x2="672" y2="236.4" stroke="#111" stroke-width="0.7" />
<line x1="669" y1="219.8" x2="675" y2="219.8" stroke="#111" stroke-width="0.7" />
<line x1="669" y1="236.4" x2="675" y2="236.4" stroke="#111" stroke-width="0.7" />
<line x1="632.3" y1="180.2" x2="671.3" y2="180.2" stroke="#333" stroke-width="0.6" />
<text x="649.5" y="181.3" font-size="9.5" text-anchor="middle" fill="#111" stroke="#111" stroke-width="0.2" >*</text>
<line x1="632.3" y1="188.2" x2="650" y2="188.2" stroke="#333" stroke-width="0.6" />
<text x="641.5" y="186.6" font-size="6.3" text-anchor="middle" fill="#111" stroke="#111" stroke-width="0.2" >NS</text>
<line x1="651.3" y1="190.3" x2="672" y2="190.3" stroke="#333" stroke-width="0.6" />
<text x="661.5" y="191.6" font-size="9.5" text-anchor="middle" fill="#111" stroke="#111" stroke-width="0.2" >*</text>
<text x="607" y="229" font-size="6.7" text-anchor="middle" fill="#111" stroke="#111" stroke-width="0.2" transform="rotate(-90 607 229)" >%IGF1<tspan font-size="4.6" dy="-2.4">+</tspan><tspan dy="2.4"> CD68</tspan><tspan font-size="4.6" dy="-2.4">+</tspan><tspan dy="2.4"> macrophages</tspan></text>
<text x="637.1" y="280.4" font-size="6.8" text-anchor="end" fill="#111" stroke="#111" stroke-width="0.2" transform="rotate(-45 637.1 280.4)" >EGPA</text>
<text x="655.4" y="280.4" font-size="6.8" text-anchor="end" fill="#111" stroke="#111" stroke-width="0.2" transform="rotate(-45 655.4 280.4)" >Cs-remission</text>
<text x="673.8" y="280.4" font-size="6.8" text-anchor="end" fill="#111" stroke="#111" stroke-width="0.2" transform="rotate(-45 673.8 280.4)" >Cs-relapse</text>
<text transform="translate(0.5 330) scale(0.93 1)" font-size="14.2" font-weight="bold">g</text>
<text x="81.5" y="334.8" font-size="9.4" text-anchor="middle" fill="#222" stroke="#222" stroke-width="0.2" >Baseline</text>
<line x1="24" y1="341.6" x2="148" y2="341.6" stroke="#444" stroke-width="0.7" />
<text x="237.5" y="334.8" font-size="9.4" text-anchor="middle" fill="#222" stroke="#222" stroke-width="0.2" >Follow-up</text>
<line x1="180" y1="341.6" x2="303.5" y2="341.6" stroke="#444" stroke-width="0.7" />
<line x1="163.3" y1="347" x2="163.3" y2="482.5" stroke="#333" stroke-width="0.6" stroke-dasharray="0.9 0.9"/>
<path d="M78.1 357.6C80.6 356 85.8 360.5 88.8 362.6C91.9 364.7 94.7 367.4 96.3 370.1C98 372.8 98.7 375.5 98.7 378.7C98.7 381.9 97.3 386 96.6 389.5C95.8 392.9 95.7 396.6 94.4 399.4C93.1 402.1 91.2 404.9 88.8 405.8C86.5 406.7 82.9 405.6 80.2 404.9C77.5 404.3 74.7 403.6 72.7 401.7C70.7 399.9 68.7 396.9 68.4 393.8C68 390.6 69.6 386.6 70.5 383C71.4 379.4 72.5 376.5 73.8 372.3C75 368 75.6 359.2 78.1 357.6Z" fill="#33a02c" />
<path d="M43.7 361.5C44.5 358.5 45.8 355.1 48 352.9C50.1 350.8 53.5 349.5 56.6 348.6C59.6 347.7 63.2 346.8 66.2 347.3C69.3 347.8 72.7 349.8 74.8 351.6C77 353.4 78.8 355.9 79.4 358.3C79.9 360.6 78.8 363.1 78.1 365.8C77.3 368.5 75.9 371.5 75.1 374.4C74.2 377.3 73.4 379.8 72.9 383C72.4 386.2 72.5 390.7 71.8 393.8C71.1 396.8 70.4 400 68.6 401.5C66.8 403 63.4 403.1 60.9 402.6C58.3 402 55.3 400.3 53.3 398.3C51.4 396.3 50.3 393.4 49 390.5C47.8 387.6 46.8 384.1 45.8 380.9C44.8 377.6 43.4 374.4 43 371.2C42.7 368 42.8 364.6 43.7 361.5Z" fill="#8b0000" />
<path d="M88.9 405.7h0m-18.5 -5.8h0m27.9 -20.6h0m-4.1 -12.1h0m2.8 18.1h0m-27.5 4.2h0m27.8 -16.5h0m-2.1 21.6h0m-26.3 -6.8h0m23.3 -21.8h0m-21.9 33.5h0m7.2 4.9h0m20.7 -23.7h0m-8.5 26.1h0m3.4 -39.6h0m-15.7 36.3h0m-6.6 -7h0m2.7 -29.3h0m22.7 1.3h0m-25.6 13h0m0.3 0.8h0m8.9 24.7h0m13.9 -6.3h0m2.6 -9h0m-17.9 13.4h0m20.4 -28.6h0m-18.9 27.6h0m18.8 -23.1h0m0.3 -2.7h0m-3.3 11.7h0m-25.2 1.7h0m-0.8 -6.1h0m2.6 -10.5h0m19.6 -8.5h0m6.9 17.7h0m-9.7 -21.3h0m2.5 40.6h0m-4.1 3h0m5.1 -3.4h0m-16.2 0.7h0m-1.3 -34.8h0m23.1 7.8h0m-4.8 23.3h0m-22.3 -1.2h0m25.1 -4.9h0m1.5 -10.5h0m0.1 0.1h0m-0.1 2.2h0m-1 -5h0m-10.8 -19.2h0m-17.7 22.5h0m20.4 21.8h0m8.5 -21.3h0m-28.3 0.2h0m0.8 -4.7h0m6.8 -18.8h0m-4 15.5h0m12.4 28.1h0m12.3 -33h0m-21.8 31.8h0m-0.8 0h0m22.4 -35h0m-3.1 -2.7h0m3.3 22.2h0m-1.5 5.2h0m-23.2 6.5h0m16 3.6h0m-16.5 -5.8h0m-1.9 2.6h0m27.9 -25.6h0m-0.6 -1.9h0m-7.8 30.6h0m6.6 -34h0m-11 -8.1h0m6.2 3.7h0m-19.7 36.2h0m4.8 3.2h0m18.7 -6.3h0m-15.1 7.1h0m13.2 -37.4h0m2.1 29h0m-19.3 -33.5h0m23.1 17.5h0m-17.1 25.4h0m15.3 -25.4h0m-5.5 21.5h0m1.5 -3.3h0m-11.9 -39.7h0m8.9 3.7h0m-1.1 2.3h0m8.5 7.8h0m-24.6 1.6h0m-3 22h0m17.4 -33.3h0m5.8 33.9h0m0.2 -29.5h0m-1.9 -0.8h0m5.1 28.9h0m-0.6 -25.5h0m-1.6 25h0m-17.6 8.7h0m12 -41.6h0m-18.2 35.8h0m9.2 5.2h0m-1.8 -2.1h0m17.9 -5.3h0m-17.2 -32.3h0m9.7 -2h0m8.5 32.3h0m-16.1 10.1h0" stroke="#33a02c" stroke-width="2" stroke-linecap="round" fill="none" />
<path d="M74 380.5h0m-1.7 9.1h0m-5 12h0m-8 0.4h0m13.3 -12.8h0m-28.4 -28.8h0m6.8 -8.3h0m10.1 -4.5h0m-11.2 44h0m19.5 7.6h0m-22.6 -16.1h0m-0.9 -29.4h0m29.9 21.7h0m-6.5 -26.4h0m-23.3 6.4h0m1.1 2.9h0m16.9 -10.1h0m8.3 43.1h0m4.6 -24.1h0m-23.4 30.2h0m-0.4 -47.4h0m22.6 2.9h0m-0.3 -1h0m-3.5 -2.1h0m-1.9 47.6h0m7.8 -28.5h0m-6.7 26.8h0m-29.3 -23.4h0m37 -5.2h0m-6 27.1h0m-1 -2.1h0m-27.6 -23.3h0m0.4 7.4h0m7.4 19.6h0m11.3 7.7h0m-15.9 -49.1h0m4.4 40.7h0m-4.9 -12.3h0m7.9 -31.9h0m17.6 32.1h0m-17.6 16.3h0m-4.6 -8.4h0m6.8 -43.1h0m20.7 8.3h0m-2.6 -3.1h0m-2.5 37.9h0m1.2 -14.2h0m5.5 -13.2h0m-36.5 2.5h0m1.3 10.6h0m35.2 -15.5h0m-7.2 30.7h0m-24.3 -5.4h0m25.3 0.5h0m-14.2 15.1h0m19.4 -35.8h0m-34.2 11.7h0m-1 -17h0m0.3 0.9h0m-0.3 10h0m32.8 -19.2h0m-30.3 27.4h0m31.2 -27.3h0m-8.7 47.9h0m-21.1 -16.6h0m30.1 -13.9h0m-30.6 -13.2h0m17.7 44.8h0m10.4 -22.5h0m-2.4 16.4h0m-23.3 -5.1h0m10.9 11.2h0m-12 -14.6h0m21.2 12.4h0m8.3 -31.5h0m-2.6 8.5h0m-30.7 -11.7h0m12.5 -15.4h0m20.9 16.2h0m-28.9 -13.1h0m16.1 49.8h0m2 -1.3h0m-21.2 -21h0m7.7 18.5h0m5.1 -48.9h0m12.9 -0.6h0m-2.1 51.2h0m-26.6 -31.1h0m23.5 32.7h0m-18.2 -14.2h0m6.9 11h0m19 -13.1h0m-13.9 15.7h0m11.8 -11.6h0m0.4 2.6h0m-15 -42.8h0m-14.2 22.6h0m4.3 11.3h0m0 -30h0m30.3 2.9h0" stroke="#8b0000" stroke-width="1.4" stroke-linecap="round" fill="none" />
<path d="M71.8 380.1h0m0.3 11.6h0m5.7 -30.1h0m-4.6 30.8h0m1.7 -30.3h0m-1 24.1h0m-5.5 4.5h0m9.6 -25.3h0m-3.8 11.2h0m3.4 -7.9h0m-5.3 27h0m4.6 -22.6h0m-3.2 8.4h0m2.2 -8.7h0m0.7 4.3h0m-3.7 19h0m3.6 -23.7h0m0.9 -14.6h0m0.3 8.7h0m-3.1 4.7h0m2.4 -5.9h0m-5.4 33.6h0m-3.7 0.2h0m6.2 -21.9h0m2.1 -3.2h0m-3 13.8h0m-4.5 13h0m3.7 -19.8h0m6.8 -18.8h0m0.9 -2.1h0m-1.6 7.1h0m-6.8 15.7h0m-1 13h0m6 -21h0m0.7 -6.9h0m-6.6 17h0m5.2 -22h0m1.5 6.6h0m-7.9 29.8h0m9.2 -33.6h0m-4 12.2h0m0.7 -12.9h0m2.3 -0.4h0m-6.4 23.2h0m1.2 0h0m1.2 -9.5h0m-6.9 23.4h0m1.4 -1.7h0m5.5 -12.2h0m-0.7 -12h0m8.7 -14.7h0m-9 19.9h0m-5.5 17.3h0m13.5 -33.7h0m0.2 -5.2h0m-5.2 11.1h0m-2.1 10.5h0m-2.4 14h0m-4.7 6.4h0m3.4 -3.4h0m6 -29.8h0m-1.5 16.3h0m6.9 -19.6h0m-12 22.4h0m6.6 -27.9h0m0.7 12.4h0m-5.7 23.6h0m6.5 -28.7h0m-9.4 25.4h0m2.8 7.2h0" stroke="#8b0000" stroke-width="1.4" stroke-linecap="round" fill="none" />
<path d="M70.8 402.5h0m1.2 -14.5h0m0.4 -2.9h0m5.3 -20h0m-9.1 28.9h0m9 -26.2h0m0.6 -1.2h0m3.1 -5.3h0m-7.1 16.9h0m5.5 -14h0m-6 31.6h0m4.7 -28.6h0m0.5 -5.1h0m-4.5 -5.4h0m-0.7 12.3h0m2.3 3.5h0m-6 -2.6h0m7 -2.5h0m-8.4 24.4h0m5.8 -6.9h0m-7.3 18.1h0m11.6 -41.5h0m-7.7 17.6h0m-3.7 27h0m9.2 -39.6h0m-0.6 7.8h0m-3.5 3.7h0m-2.8 12.3h0m5.6 -25.7h0m-4.1 32.7h0m2.9 -8.5h0m2.5 3.2h0m3.8 -23.9h0m-2.9 1.1h0m1.4 -10.4h0m2.3 6.2h0m-3.9 10.4h0m-4.6 19.7h0m0.5 -9.9h0m8.2 -21.7h0m-4.2 -0.3h0m2.9 -7h0m-6 21.2h0m2.6 6.1h0m-5.2 -4h0m4.6 0.7h0m-1.6 9.8h0m5.2 -23.4h0m-1.5 -1.7h0m-6.5 24.4h0" stroke="#33a02c" stroke-width="1.9" stroke-linecap="round" fill="none" />
<path d="M88.5 383.2h0m-7.4 0.5h0m5.7 6.8h0m-3.9 3.3h0m2.3 6h0m0 -12h0m-0.5 -12.6h0m3.6 14.2h0m1.1 -0.4h0m-5.2 -17.6h0m-0.2 6.9h0m-0.4 8.8h0m2.8 -6h0m-0.4 0.9h0m0.1 6.3h0m1.9 -10.1h0m-6.2 14.8h0m4.1 -2.2h0m-4.4 -10.1h0m4.2 -7.8h0m-1.4 15.2h0m4 6.1h0m-4.9 -21h0m3.5 16.4h0m-0.8 -15.7h0m1.4 14.7h0m-0.5 -9h0m-0.6 8.9h0m-2.2 -18.4h0m2.2 16.3h0m-0.8 2.8h0m-1.5 -6.8h0m0.7 4.6h0m4.8 -5.7h0m1.1 12.4h0m-3.1 -6.6h0m2.4 -5.4h0m-4.7 -6.1h0m1.5 16.8h0m0.1 -6.4h0" stroke="#2a8a24" stroke-width="1.2" stroke-linecap="round" fill="none" />
<path d="M57.7 377.6h0m-6.1 5.3h0m5.1 -13h0m-1.7 1.7h0m8 11.3h0m-11.1 -0.8h0m11.3 -9h0m-11.9 -1h0" stroke="#33a02c" stroke-width="1.4" stroke-linecap="round" fill="none" />
<path d="M71.2 362.4h0m1.7 0.8h0m-3 0.5h0" stroke="#fff" stroke-width="1.8" stroke-linecap="round" fill="none" />
<path d="M52.4 402.6h0m0.4 -4.7h0m0.9 1h0m1 0.6h0m-2.4 0.7h0m0.2 4.3h0m2.1 -1.4h0m-0.8 -4.3h0m-1.2 2h0m-0.7 2.2h0m0.3 -2.5h0m-0.4 -2.7h0" stroke="#8b0000" stroke-width="2" stroke-linecap="round" fill="none" />
<path d="M72 414.5h0m-0.6 -5h0m-4 2.5h0m5.5 0.3h0m-0.4 2.6h0m0.3 -4.3h0m-0.1 2.7h0m-3.7 -2.6h0m0.2 0.7h0m2.8 -2.1h0m-3.7 5.2h0m3.4 0.3h0m-2.4 -0.9h0m4.8 2.1h0m-3.2 -3.8h0m0.1 1.6h0m1.6 -2h0m-3.3 1.4h0m1.2 -0.2h0m1.1 2.2h0m1.2 -4.6h0m-1.1 4.9h0m-1.3 -2.9h0m2.4 1.8h0" stroke="#8b0000" stroke-width="2.4" stroke-linecap="round" fill="none" />
<path d="M52.3 392.7h0m42.5 8.2h0m-24.3 -14.7h0" stroke="#1f78b4" stroke-width="1.6" stroke-linecap="round" fill="none" />
<path d="M84.5 406.7h0m-9 -12.5h0m3.6 4.3h0" stroke="#fdbf6f" stroke-width="1.6" stroke-linecap="round" fill="none" />
<path d="M51.8 408.8C52.7 406.8 55.4 406.7 56.6 407.7C57.7 408.8 57.6 412.8 58.7 415.3C59.8 417.8 61.7 420.6 63 422.8C64.3 424.9 65 425.7 66.5 428.2C67.9 430.7 70.8 435 71.8 437.8C72.9 440.7 73.5 443.7 72.9 445.4C72.3 447 70.2 448.5 68.4 447.7C66.6 447 63.7 443.1 61.9 441.1C60.1 439.1 59.1 437.7 57.6 435.7C56.2 433.7 54.3 431.9 53.3 429.2C52.3 426.6 51.9 423 51.6 419.6C51.4 416.2 51 410.8 51.8 408.8Z" fill="#1f78b4" />
<path d="M52 426.1h0m7 -9.6h0m11.4 31.2h0m-10.1 -26.2h0m3.1 3.3h0m4.6 22.4h0m-0.1 -16.3h0m-3.2 12.9h0m7 -3.9h0m-11.9 -26.9h0m0.4 7.4h0m-5.5 8.3h0m13.3 4.4h0m-6.3 -11.5h0m8.7 27.5h0m-15.2 -18.5h0m3.7 5.7h0m-5.6 -18.1h0m-2.2 2.2h0m13.5 7.1h0m1.5 18h0m-0.1 0.2h0m-4.9 -23.8h0m-9.3 4.7h0m0.5 0.8h0m1.2 -18.1h0m20.2 35.3h0m-15.1 -30.4h0m12.8 23.6h0m-11.2 -0.1h0m10.3 2.7h0m-3 -8.8h0m3.3 5.6h0m-7.9 6h0m4.7 -13.9h0m-14.8 -21.3h0m4.6 27.5h0m6.8 -8h0m-7.5 -20.3h0m-0.4 26.2h0m-1.7 -4.6h0m-2.1 -6.6h0m3.2 -12.5h0m-1.4 -2.9h0m5 30h0m-7.3 -27.7h0m0.3 -1.1h0m19 38.2h0m-18.9 -39.9h0m-1.8 13.6h0m4 -11.2h0m0.2 20.4h0m4.3 -14.5h0m-0.7 -5.7h0m6.1 14.1h0m7.7 18.8h0m-20.8 -29.2h0m14.7 31.8h0m-10.7 -36.3h0m-4 13.8h0m20 15h0m-7.9 9h0m-12 -31.5h0m5 -5h0m14.4 36h0m-1 -10h0m-16.2 -28.7h0m0.3 25.2h0m6.9 -11.1h0m2.9 2.8h0m2 3.6h0m3.3 5.4h0m-14.6 -22.5h0m4.3 24.4h0m1 2.4h0m-3.1 -25h0m-4.7 -1h0m0.1 12.3h0m2.6 6.6h0m2.8 -17.7h0" stroke="#1f78b4" stroke-width="1.5" stroke-linecap="round" fill="none" />
<path d="M58.7 408.4h0m1.1 7.9h0m14 29.5h0m-1.3 1.7h0m-8.4 -19.3h0" stroke="#33a02c" stroke-width="1.8" stroke-linecap="round" fill="none" />
<path d="M54.4 414.2h0m1.1 1.1h0" stroke="#8b0000" stroke-width="1.8" stroke-linecap="round" fill="none" />
<path d="M57.6 437.8C59.2 435.9 61.1 435.2 63 435.7C64.9 436.2 68.3 438.7 69 441.1C69.8 443.4 68.2 446.8 67.5 449.7C66.9 452.5 66.2 455.7 65.2 458.3C64.2 460.8 63.1 464 61.5 464.9C59.9 465.9 57 465.2 55.5 463.9C54 462.6 53 459.9 52.7 457.2C52.4 454.5 52.9 450.8 53.8 447.5C54.6 444.3 56.1 439.8 57.6 437.8Z" fill="#cab2d6" />
<path d="M55.4 458.9h0m-1 -14.5h0m13.3 8.2h0m-10.7 12.9h0m12.6 -22.8h0m-4.7 -4.9h0m-7.6 27.4h0m1.4 -25.8h0m-4.9 14.1h0m11.3 7.1h0m4.1 -17.2h0m-0.5 1h0m-14.5 20.2h0m12.7 -25.8h0m-3.5 -2.2h0m-8.6 7.3h0m10.4 14.6h0m-2.4 6.5h0m0.8 -28.5h0m-9.9 21.4h0m11.9 -1.3h0m-0.4 -17.7h0m-6.3 26.1h0m9.5 -16.7h0m-1.8 9.7h0m3.3 -18.7h0m-0.1 7.9h0m-17.4 10.3h0m7.2 7.5h0m1.1 0.1h0m-6.3 -11.8h0m9.2 8h0m0.9 0.1h0m-6.3 3.1h0m-3.2 -18.3h0m11.4 7.9h0m-1.8 4.2h0m1.3 -0.2h0m2.9 -17.3h0m-9.9 -4h0m-5.7 19.4h0m16.2 -11.8h0m-6 18.1h0m2.6 -6.4h0m2.2 -17.1h0m-0.6 2.9h0m-1.4 13.1h0m-10.9 -11.7h0m5.2 19.8h0m-9 -5.9h0" stroke="#cab2d6" stroke-width="1.4" stroke-linecap="round" fill="none" />
<path d="M50.1 464.7C51 463.1 52.3 461.5 54.4 461.5C56.6 461.5 60.6 463.5 63 464.7C65.4 466 67.6 467.4 68.6 469C69.6 470.6 70.2 472.4 69.2 474.4C68.3 476.4 65.1 479.8 63 481.1C60.9 482.4 58.5 482.7 56.6 482.2C54.6 481.6 52.5 479.7 51.2 477.8C49.9 476 49 473.4 48.8 471.2C48.6 469 49.2 466.3 50.1 464.7Z" fill="#a6cee3" />
<path d="M67.8 469h0m-5.3 11.1h0m-8.9 -17.4h0m1.5 -2.2h0m3.6 20.6h0m-6.3 -16.5h0m-3.4 9.6h0m3.1 -9.7h0m11.5 2.1h0m-12.2 -2.5h0m16.9 9.8h0m-19.9 -4h0m12.6 -6h0m-11.2 9.7h0m8.8 -10h0m8.9 5.6h0m1.9 -0.3h0m-16.2 10.6h0m-0.1 -16.8h0m5.9 18.3h0m-1.1 0.7h0m-9.2 -12.1h0m4.7 9.7h0m9.1 -13.9h0m-12.1 -1h0m-0.1 7.7h0m-0.4 -8h0m15.5 14.3h0m-9.7 -16.2h0m-4.7 2.7h0m5.7 -3.7h0m10.5 12.8h0m-15.9 3.5h0m2 3.5h0m-5.3 -11.3h0m21.4 4h0m-20.6 -0.9h0m20 2.3h0m-19.6 -6.5h0m13.4 12.4h0m-3.3 2.9h0m10.6 -9h0m-9 6.9h0m-10.5 -7.3h0m14.7 -8.4h0m4.8 5h0m-19.8 -1.9h0m-0.3 6h0m16.2 -8.2h0m-18.5 0.4h0" stroke="#a6cee3" stroke-width="1.4" stroke-linecap="round" fill="none" />
<path d="M49.7 460.4h0m0.8 1.8h0m1.8 -3.5h0" stroke="#1f78b4" stroke-width="1.8" stroke-linecap="round" fill="none" />
<path d="M60.9 466.9h0" stroke="#b58a5a" stroke-width="2.2" stroke-linecap="round" fill="none" />
<path d="M62.2 467.7h0" stroke="#a9a9a9" stroke-width="1.8" stroke-linecap="round" fill="none" />
<path d="M66.2 432h0m2.2 -3.1h0m-1.9 2.8h0m-0.4 1.9h0m1.4 -2.3h0m-1.3 3.2h0m0.5 -0.4h0m1.8 -5h0m-2.5 3.8h0m2.3 1.6h0m0.7 0.5h0m-1.9 -2.5h0m1.9 -0.4h0m0.4 -2.4h0m-0.6 2.9h0m-4.2 2.3h0m3.6 -2h0m-2.2 -0.9h0m4.2 -0.8h0m-8 0h0m3.6 1.4h0m1.3 -1.5h0m-0.7 3.9h0m-1 1.8h0m1.5 -6.1h0m2.1 3.3h0m-2.9 0.4h0m-1.3 -3.3h0m4.7 1.3h0m-3.8 1.5h0m3.5 -1h0m-4.3 -0.7h0m3.5 2.2h0m2.3 -2h0m-3.7 0.4h0m2.7 -1.8h0m0.1 -3.6h0m-0.8 4.2h0m-0.5 2.7h0m-2.7 -1.6h0m2.3 1.4h0m-1.8 -3.2h0m-1.6 7.1h0m2.7 -5.5h0m-2 2.3h0m1.5 1h0m2.2 -2.9h0m-0.2 -2.2h0m-1.7 1.1h0m-1.5 1.1h0" stroke="#fb9a99" stroke-width="2.4" stroke-linecap="round" fill="none" />
<path d="M71 423.6h0m-3.2 -2.8h0m2.5 0.3h0m1.3 1.1h0m-0.4 -1.1h0m0.5 1.1h0m-2.4 -0.8h0m0.5 -1.2h0m1.5 1.6h0m0 -1.2h0" stroke="#fb9a99" stroke-width="2.2" stroke-linecap="round" fill="none" />
<path d="M79.8 431.9h0m2.4 1h0m5.5 0.3h0m-10.3 -1h0m-0.5 0.5h0m11.7 0.2h0m-16.8 -1.2h0m3.7 1.1h0m5.2 -0.1h0m7.1 -0.7h0m-10.5 1.7h0m4.7 -1.7h0m-9.5 -0.4h0m-1.6 0.9h0m9.9 0.6h0m-0.7 -1h0m-2.4 1.5h0m-4.1 -1h0m7.1 0.2h0m-1.7 0h0m4.9 -0.4h0m-5.1 0h0m-2 -0.1h0m2.6 0.3h0m6.6 0.7h0m-7.1 -0.5h0m2.9 0.1h0m-1.1 -0.3h0m-1.9 -0.6h0m5.3 1.3h0m-0.8 -0.6h0m-1.6 -0.5h0m-8.2 0.7h0m7.9 -0.8h0" stroke="#ff7f00" stroke-width="2.2" stroke-linecap="round" fill="none" />
<path d="M85.9 429.3h0m-0.4 1.3h0m1 1.6h0m-0.6 -6.2h0m0.1 0.4h0m0.2 -2.3h0m0.5 -0.1h0m-0.7 3.5h0m0 -2.6h0m0.4 0.2h0m-0.7 0.7h0m0.4 4.7h0m-0.3 -2h0m0.1 -3.4h0m0.2 1.6h0m0.5 3.9h0m-0.6 -1.1h0m0.6 -1.4h0" stroke="#ff7f00" stroke-width="2.2" stroke-linecap="round" fill="none" />
<path d="M83 432.7h0m1.3 -0.8h0m-0.3 0.5h0m2.7 0.7h0m-2.6 -0.2h0m3.3 -2.9h0m0.1 -0.6h0m-1.9 2.9h0m1.9 -0.5h0m-3.9 -1.6h0" stroke="#fdbf6f" stroke-width="1.8" stroke-linecap="round" fill="none" />
<path d="M25.4 436.8C26 434.9 28.4 432.1 29.7 431.4C31 430.7 32.6 431.2 33.3 432.5C34.1 433.7 34.6 436.9 34.2 438.9C33.8 440.9 32.1 443.9 30.8 444.5C29.4 445.2 26.9 444.1 26 442.8C25.1 441.5 24.8 438.7 25.4 436.8Z" fill="#ee10ee" />
<path d="M35.5 441.1h0m1.7 1.7h0m-0.9 0.9h0" stroke="#a9a9a9" stroke-width="2" stroke-linecap="round" fill="none" />
<path d="M30.8 443.7h0m2.5 0.4h0" stroke="#33a02c" stroke-width="1.8" stroke-linecap="round" fill="none" />
<path d="M35.1 437.2h0m0.4 -1.5h0" stroke="#fdbf6f" stroke-width="1.4" stroke-linecap="round" fill="none" />
<path d="M35.5 439.4h0" stroke="#8b0000" stroke-width="1.6" stroke-linecap="round" fill="none" />
<path d="M125.9 403.6h0m3.1 -4.5h0m2.3 -0.1h0m-2.9 0.9h0m6.2 5.8h0m-5.4 -9.1h0m1.3 4.9h0m0.2 1.5h0m-2 1.1h0m3.5 -2.2h0m-3.7 -2.1h0m3.3 -1.8h0m-2.6 1h0m-3.7 4.1h0m4.1 -1.7h0m2.7 -4.6h0m-2.8 5.4h0m2.7 -4.2h0m-0.4 3.9h0m1.9 2.8h0m-2.4 3h0m-1.6 -7.7h0m-1 -1.5h0m0.9 -2.8h0m-0.2 6.9h0m3.3 -2.4h0m1.1 -0.9h0m-4.5 -3.6h0m-1.9 3.2h0m6.7 3.9h0m-7.7 0.1h0m4.7 -2.3h0m-1.4 -0.2h0m-1.6 -4.3h0m1.3 9h0m4.5 -4.6h0m-6.4 0.2h0m4.8 1.6h0m-4.3 0.1h0m1.1 0.4h0" stroke="#fdbf6f" stroke-width="2.6" stroke-linecap="round" fill="none" />
<path d="M137.1 410.2h0m1.3 4.4h0m-3.4 -1.7h0m5.8 -0.5h0m-4.4 4.7h0m4.3 -2h0m-5.2 1.2h0m-2.1 -4.2h0m7 3.6h0m-4.8 -3.9h0m3.3 -2.4h0m1.2 4.8h0" stroke="#fdbf6f" stroke-width="2.6" stroke-linecap="round" fill="none" />
<path d="M141.7 406.4h0m3.6 -0.4h0m-0.8 1.8h0m-2.9 -2h0m-0.1 1.3h0m0.3 -0.8h0m1.6 -0.6h0m4.6 -0.2h0" stroke="#fdbf6f" stroke-width="2.6" stroke-linecap="round" fill="none" />
<path d="M125.8 404.5h0m5 -7.5h0m1.5 1.5h0m16.1 12h0m-23 -3.8h0" stroke="#33a02c" stroke-width="2" stroke-linecap="round" fill="none" />
<path d="M130.9 429.1h0m-0.4 -2.9h0m-1.5 2.7h0m-6 -1.5h0m1.9 -0.8h0m5.5 -2h0m-11.5 -3h0m4.7 3.2h0m1.8 3.5h0m6.8 -0.7h0m-5 -3.1h0m0.4 6.1h0m3 -9.6h0m-1.8 10.2h0m-0.2 -8.9h0m-4.4 6.1h0m2.8 -4.1h0m-5.1 5.2h0m-1.7 1.3h0m5.3 -3.3h0m-5.3 -2.6h0m7.8 -2.5h0m5.3 0.2h0m-12.6 4.2h0m6.5 2h0m-3.3 -2.7h0" stroke="#e31a1c" stroke-width="2.6" stroke-linecap="round" fill="none" />
<circle cx="63.4" cy="372.7" r="4.3" fill="#fff" opacity="0.55"/>
<text x="63.4" y="375.2" font-size="7.2" text-anchor="middle" fill="#222" stroke="#222" stroke-width="0.2" >9</text>
<circle cx="88" cy="392.3" r="4.3" fill="#fff" opacity="0.55"/>
<text x="88" y="394.8" font-size="7.2" text-anchor="middle" fill="#222" stroke="#222" stroke-width="0.2" >11</text>
<circle cx="57" cy="427.7" r="4.3" fill="#fff" opacity="0.55"/>
<text x="57" y="430.2" font-size="7.2" text-anchor="middle" fill="#222" stroke="#222" stroke-width="0.2" >2</text>
<circle cx="68.2" cy="433.8" r="4.3" fill="#fff" opacity="0.55"/>
<text x="68.2" y="436.3" font-size="7.2" text-anchor="middle" fill="#222" stroke="#222" stroke-width="0.2" >5</text>
<text x="83.4" y="434.5" font-size="7.2" text-anchor="middle" fill="#222" stroke="#222" stroke-width="0.2" >3</text>
<text x="30.1" y="440.8" font-size="7.2" text-anchor="middle" fill="#222" stroke="#222" stroke-width="0.2" >8</text>
<text x="37.6" y="452.2" font-size="7.2" text-anchor="middle" fill="#222" stroke="#222" stroke-width="0.2" >10</text>
<circle cx="59.1" cy="452.9" r="4.3" fill="#fff" opacity="0.55"/>
<text x="59.1" y="455.4" font-size="7.2" text-anchor="middle" fill="#222" stroke="#222" stroke-width="0.2" >7</text>
<circle cx="58.1" cy="474.4" r="4.3" fill="#fff" opacity="0.55"/>
<text x="58.1" y="476.9" font-size="7.2" text-anchor="middle" fill="#222" stroke="#222" stroke-width="0.2" >1</text>
<text x="135.7" y="404.9" font-size="7.2" text-anchor="middle" fill="#222" stroke="#222" stroke-width="0.2" >4</text>
<text x="125.2" y="429.8" font-size="7.2" text-anchor="middle" fill="#222" stroke="#222" stroke-width="0.2" >6</text>
<line x1="16.6" y1="490.6" x2="16.6" y2="463" stroke="#2a2020" stroke-width="0.9" />
<line x1="16.6" y1="490.2" x2="43" y2="490.2" stroke="#2a2020" stroke-width="0.9" />
<path d="M14.3 464.9 L16.6 463.6 L18.9 464.9 L16.6 460 Z" fill="#2a2020" />
<path d="M41.1 487.7 L42.6 490.2 L41.1 492.7 L46.4 490.2 Z" fill="#2a2020" />
<text x="49" y="493" font-size="6.6" fill="#111" stroke="#111" stroke-width="0.2" >UMAP_1</text>
<text x="18.8" y="444.6" font-size="6.6" text-anchor="middle" fill="#111" stroke="#111" stroke-width="0.2" transform="rotate(-90 18.8 444.6)" >UMAP_2</text>
<path d="M223.3 354.6C225.9 353.5 230 357.3 233 358.9C236.1 360.5 239.5 361.7 241.6 364.3C243.7 366.9 244.7 370.9 245.5 374.4C246.2 377.9 245.7 382.1 246.1 385.1C246.6 388.2 248.4 390.1 248.3 392.6C248.1 395.2 246.9 398.2 245 400.6C243.2 403 240 405.7 237.3 407C234.6 408.4 231.8 409.1 228.7 408.8C225.7 408.4 221.6 406.3 219 404.9C216.5 403.5 214.6 403.8 213.7 400.2C212.8 396.5 213 388.7 213.7 383C214.4 377.2 216.4 370.5 218 365.8C219.6 361.1 220.8 355.8 223.3 354.6Z" fill="#33a02c" />
<path d="M190 352.9C191.6 351.1 193.6 349.5 196.5 348.6C199.4 347.7 203.6 347.2 207.2 347.3C210.8 347.4 215 348.2 218 349.5C220.9 350.7 224.3 352.2 224.8 354.6C225.4 357 221.6 360.7 221.4 363.6C221.2 366.6 224.3 369 223.6 372.2C222.8 375.5 218.4 379.4 217.1 383C215.8 386.6 215.8 390.2 215.8 393.7C215.8 397.2 218.5 402 217.1 403.8C215.7 405.7 210.7 404.9 207.2 404.9C203.8 404.9 198.9 405.3 196.5 403.8C194.1 402.3 194.3 399.3 193 395.9C191.8 392.4 190 387.3 189 383C187.9 378.7 186.9 374 186.6 370.1C186.3 366.1 186.7 362.2 187.2 359.3C187.8 356.5 188.5 354.7 190 352.9Z" fill="#8b0000" />
<path d="M219.8 393.7h0m-1.8 -9.5h0m3.7 -18.5h0m-4.5 35.6h0m7.4 -27.8h0m1.1 -0.5h0m-1.9 -0.9h0m-8.3 18.4h0m1 -5.6h0m2.3 16h0m-2 -1.2h0m2.2 -13.3h0m-4.5 7h0m2.1 -12.1h0m5.2 -17.3h0m0.1 6.3h0m-5.2 17.6h0m7 -12.5h0m-6.6 27.8h0m0 -4.2h0m-1.5 -13.3h0m1.1 12.4h0m4.5 -37.4h0m0.6 9.9h0m2.1 -10.6h0m-8.3 32.3h0m7.1 -24.4h0m-6.7 27.4h0m7.5 -34.7h0m-3 1.3h0m-3.3 42.3h0m7.5 -41.8h0m-6.3 18.3h0m3.2 -6h0m-1.4 5.7h0m2.8 -21.4h0m-1.7 3.3h0m4.6 7.7h0m-8.5 14.3h0m4.2 -10.4h0m1.4 -4.2h0m-3.6 6.6h0m-2.6 7.3h0m1.5 15.4h0m6.6 -44.1h0m-7.4 36.8h0m0.1 -5.5h0m5.2 -28.5h0m0.5 11.2h0m-5 12.1h0m2.6 -4.4h0m-2.3 -12h0m4 -4.8h0m-6.6 26.1h0m0.1 13.3h0m-0.3 2.3h0m6.3 -32.3h0m-3.4 10.8h0m3.6 -8.9h0m-1.9 14.3h0m-4.4 16.9h0m4.8 -14.5h0m-1.8 -9.1h0m4.7 -13.8h0m-8.5 23.5h0m8.5 -18.5h0m-7.1 9.4h0m7.3 -4.2h0m-10.4 19h0m3.2 -12.9h0" stroke="#8b0000" stroke-width="1.4" stroke-linecap="round" fill="none" />
<path d="M221.7 362.7h0m-1.6 14h0m3 -6h0m0 1.8h0m0.8 -18.7h0m-6 38.8h0m1.4 -11.7h0m3.2 -12.2h0m0.8 -10.7h0m-7.1 28.5h0m5.8 -24.5h0m-4.5 18.7h0m0.2 1.5h0m2.6 -3.9h0m2.2 -12.9h0m2.9 -8h0m-2.4 1.1h0m2.2 3.7h0m-6.4 17.8h0m-2.5 10.3h0m7.6 -34.6h0m-3.4 18.1h0m-1.3 -0.1h0m2.7 -0.6h0m-0.6 -10.4h0m-1.5 11.2h0m-0.3 6h0m2.1 -10.5h0m-7.2 24.1h0m2.8 -11.1h0m7.2 -27.2h0m-8.6 35.6h0m2.9 -4.6h0m4.3 -22.1h0m-0.6 3.1h0m-0.1 8.2h0m-1.6 -12.3h0m-2.7 20h0m3.6 -25.3h0m-1.4 7h0" stroke="#33a02c" stroke-width="1.4" stroke-linecap="round" fill="none" />
<path d="M225.9 392h0m1.3 0h0" stroke="#8b0000" stroke-width="2" stroke-linecap="round" fill="none" />
<path d="M201.2 383.1h0m1.5 -15.7h0m-2.1 11.3h0m1 -5.3h0m-3.3 9h0m9.5 -5.7h0m-6 0.3h0m1.3 1.9h0m-4.2 9.7h0" stroke="#33a02c" stroke-width="1.4" stroke-linecap="round" fill="none" />
<path d="M195.1 405.6h0m0 -1.3h0m-1 0.6h0m2.9 -1.9h0m-2.3 3.2h0m2.1 -2.6h0m1.8 0.3h0m4 1.3h0m-9.1 -2h0m5.4 0.5h0m1.3 0.1h0m6.6 2.2h0m-2.9 -2.2h0m-2 0.2h0m-8.3 -0.4h0m-6.7 -0.6h0m4.6 0.6h0m9.1 0.3h0" stroke="#8b0000" stroke-width="2" stroke-linecap="round" fill="none" />
<path d="M217.5 410.8h0m-1.5 0.8h0m0.9 2.6h0m-0.8 -2h0m-0.1 -0.7h0m1.2 2.2h0m-1.1 -2.5h0m-1.1 1.6h0m-0.8 -0.1h0m0.4 2.2h0m2.6 -3.1h0m-2.2 3.5h0m-1 -4.1h0m2.4 5.2h0m0.4 -8.3h0m-0.3 1.2h0m-1.2 6.4h0m1.7 -4.1h0m-2.3 -9.4h0m1.3 5.6h0m0.6 6.5h0m0.4 -1.3h0m-3.1 1.3h0m0.8 -5.5h0m-0.2 0.1h0m-0.5 1.4h0" stroke="#8b0000" stroke-width="2.4" stroke-linecap="round" fill="none" />
<path d="M218 414.1h0m-19.8 -10.1h0m3 -0.4h0" stroke="#1f78b4" stroke-width="1.8" stroke-linecap="round" fill="none" />
<path d="M196.5 404.9C197.4 402.6 200.6 402.6 201.9 403.6C203.1 404.6 203.1 408.6 204 410.9C204.9 413.2 206.2 414.8 207.2 417.4C208.3 419.9 209 423.1 210.5 425.9C211.9 428.8 214.2 431.7 215.8 434.5C217.5 437.4 219.8 440.6 220.3 443.1C220.9 445.6 220.4 448.1 219.3 449.6C218.2 451.1 215.7 452.2 213.7 451.9C211.7 451.7 209.4 449.3 207.2 447.9C205.1 446.5 202.4 446.1 200.8 443.6C199.2 441 198.3 436.8 197.6 432.4C196.8 428 196.7 421.9 196.5 417.4C196.3 412.8 195.6 407.2 196.5 404.9Z" fill="#1f78b4" />
<path d="M197 434h0m22.2 9.7h0m2.8 2.6h0m-8.6 -15.7h0m-16.1 2.5h0m-0.1 -19.5h0m-0.9 13h0m8 -16h0m4.9 10.7h0m-5 -9.8h0m-5.5 22.6h0m21.9 10.3h0m-18.5 -39h0m11.5 24.9h0m0.9 21.2h0m-18.1 -36.3h0m8.2 -2h0m13.8 25.3h0m-6.3 12.5h0m-8.8 -38.6h0m8.6 15.3h0m-12.4 10.6h0m-2.7 -26.3h0m-0.6 14.7h0m18.5 8h0m-3.1 -5h0m-4.4 17.1h0m9.4 -10.2h0m-13.8 -26.8h0m10.4 40.9h0m-10.9 -42.6h0m15.9 38h0m-0.3 5.4h0m-17.9 -48.3h0m1.3 1.2h0m18.6 44.1h0m-15.9 -40.6h0m-8.9 7.2h0m14.2 8.4h0m-12.3 -2.7h0m22.8 27.3h0m-2.6 -12h0m-5.3 15.4h0m1.9 -19.1h0m5.6 15.7h0m0.5 -0.3h0m-11.9 -28.2h0m7.5 31.1h0m-20.2 -37.3h0m4.9 30.5h0m19.2 5.2h0m-9.9 -23.7h0m-13.6 -20.7h0m1.4 20.8h0m22.4 23.5h0m-16.2 -39.4h0m-6.2 13.5h0m1.2 11h0m10.9 15.8h0m-1 -28h0" stroke="#1f78b4" stroke-width="1.4" stroke-linecap="round" fill="none" />
<path d="M206.2 425.9h0m7.5 18.3h0m-9 16.1h0" stroke="#e31a1c" stroke-width="1.8" stroke-linecap="round" fill="none" />
<path d="M201.9 421.2h0m4.9 -5.6h0m12.2 32.9h0m-1 -1.5h0m-16.8 -35h0" stroke="#33a02c" stroke-width="1.8" stroke-linecap="round" fill="none" />
<path d="M201.3 415.2h0m0.1 10.1h0m-1.2 -17.4h0m-3 11.7h0m4.5 -6.9h0m0.2 6.9h0m-0.9 -17.7h0m0.7 3.2h0" stroke="#fdbf6f" stroke-width="1.2" stroke-linecap="round" fill="none" />
<path d="M199.7 447.4C201.1 446.4 204.7 445.3 207.2 445.3C209.7 445.3 213.3 446.4 214.8 447.4C216.2 448.5 216.7 449.9 216 451.7C215.4 453.5 212.1 456 210.7 458.2C209.2 460.3 208.9 463.2 207.2 464.6C205.6 466.1 202.4 467.5 200.8 466.8C199.2 466.1 197.9 462.8 197.6 460.3C197.2 457.8 198.3 453.9 198.6 451.7C199 449.6 198.3 448.5 199.7 447.4Z" fill="#cab2d6" />
<path d="M209.4 435.9h0m0.3 6.3h0m1.3 3.3h0m-2 -9h0m2.7 1.5h0m-0.9 2.5h0m-2.9 -5.9h0m2.3 5.4h0m0.4 0.9h0m-1.3 -2h0m-1.4 3h0m2.7 0.8h0m-1.6 -4.5h0m0.4 0.2h0m1.3 -6.2h0m0.4 5.2h0m-1.6 3.5h0m-2.9 -5h0m4 5.7h0m-0.4 -8.3h0m2 2.9h0m-3.3 6h0m1 -3.7h0m0.3 1.5h0" stroke="#fb9a99" stroke-width="2.2" stroke-linecap="round" fill="none" />
<path d="M213 429.9h0m-0.6 0.5h0m0.3 -0.1h0m2.4 0.4h0m-1.1 -3.5h0m-2.8 2.6h0m2.6 -0.1h0m-0.8 -0.3h0m1.9 0.2h0m-3.4 0.6h0" stroke="#fb9a99" stroke-width="2.2" stroke-linecap="round" fill="none" />
<path d="M212.6 428.1h0m1.1 0.4h0" stroke="#8b0000" stroke-width="1.6" stroke-linecap="round" fill="none" />
<path d="M193.9 465.1C194.4 463.3 195.3 460 196.5 460.3C197.6 460.6 199 465.5 200.8 466.8C202.6 468.1 205.3 467.3 207.2 468.1C209.2 468.8 211.2 471.1 212.6 471.3C214 471.4 215.1 468.6 215.8 468.9C216.6 469.2 217.8 471.6 217.1 473.2C216.4 474.9 213.7 477.5 211.5 478.8C209.3 480.1 206.5 481.1 204 481C201.5 480.8 198.2 479.4 196.5 477.7C194.8 476.1 194.1 473.2 193.7 471.1C193.3 469 193.4 466.8 193.9 465.1Z" fill="#a6cee3" />
<path d="M194.8 462.9h0m0.8 -3.4h0m0.9 -1.8h0m2.6 8h0" stroke="#1f78b4" stroke-width="2" stroke-linecap="round" fill="none" />
<path d="M202.5 461.4h0m0.9 1.5h0" stroke="#ff7f00" stroke-width="2" stroke-linecap="round" fill="none" />
<path d="M201.9 460.3h0m10.1 12.5h0" stroke="#e31a1c" stroke-width="1.8" stroke-linecap="round" fill="none" />
<path d="M205.5 481.4h0m1.3 0.4h0m8.4 -12.9h0" stroke="#33a02c" stroke-width="1.6" stroke-linecap="round" fill="none" />
<path d="M225.5 435.4h0m8 -0.3h0m-4 -2.7h0m-0.3 0.9h0m4.3 0.7h0m-2.6 -1.3h0m-1.2 2h0m0.2 0.1h0m-0.5 1.1h0m-0.5 -0.9h0m0.2 -1.3h0m0.4 4.1h0m-0.4 -1.9h0m6.4 -2.3h0" stroke="#fdbf6f" stroke-width="2" stroke-linecap="round" fill="none" />
<path d="M230.9 427.7h0m-5.2 6.2h0" stroke="#ff7f00" stroke-width="2.2" stroke-linecap="round" fill="none" />
<path d="M230.9 426.2h0" stroke="#33a02c" stroke-width="1.8" stroke-linecap="round" fill="none" />
<path d="M172 437.8C172.5 435.8 174.5 433.7 175.5 432.8C176.6 431.9 178.3 431.2 178.5 432.3C178.8 433.3 177.5 436.9 177 439C176.5 441.2 176.3 444.3 175.5 445.3C174.8 446.3 173.1 446.1 172.5 444.8C171.9 443.5 171.5 439.8 172 437.8Z" fill="#ee10ee" />
<path d="M177.5 431.5h0m4.6 12h0" stroke="#8b0000" stroke-width="2" stroke-linecap="round" fill="none" />
<path d="M269.5 399.3C270.8 397.3 275.3 396.2 278.1 395.9C281 395.6 284.2 396.2 286.7 397.6C289.2 399 291.9 402.1 293.2 404.5C294.5 406.9 295 409.8 294.5 412C294 414.2 292.2 416.5 290.2 417.6C288.2 418.7 284.8 419.2 282.4 418.6C280.1 418.1 277.9 416.1 276 414.3C274.1 412.6 271.9 410.4 270.8 407.9C269.8 405.4 268.3 401.3 269.5 399.3Z" fill="#fdbf6f" />
<path d="M271.3 412C272.9 410.8 275.4 412 277.1 413.1C278.7 414.1 281.1 416.3 281.4 418.4C281.6 420.6 279.7 423.6 278.8 425.9C277.9 428.3 277.5 430.9 276 432.4C274.4 433.9 271.5 434.9 269.5 434.8C267.6 434.6 265.2 433 264.2 431.5C263.1 430.1 262.8 427.9 263.3 425.9C263.8 424 266.1 422.3 267.4 419.9C268.7 417.6 269.6 413.1 271.3 412Z" fill="#e31a1c" />
<path d="M271 398.9h0m-2.3 5.6h0m13.7 -8.2h0m-18.9 29.2h0m27.5 -23.2h0" stroke="#33a02c" stroke-width="1.8" stroke-linecap="round" fill="none" />
<path d="M277.7 415.2h0m2.6 2.2h0m-4.3 -3.9h0" stroke="#ff7f00" stroke-width="2.2" stroke-linecap="round" fill="none" />
<circle cx="210.5" cy="375" r="4.3" fill="#fff" opacity="0.55"/>
<text x="210.5" y="377.5" font-size="7.2" text-anchor="middle" fill="#222" stroke="#222" stroke-width="0.2" >9</text>
<circle cx="234.9" cy="392.2" r="4.3" fill="#fff" opacity="0.55"/>
<text x="234.9" y="394.7" font-size="7.2" text-anchor="middle" fill="#222" stroke="#222" stroke-width="0.2" >11</text>
<circle cx="203.1" cy="432.8" r="4.3" fill="#fff" opacity="0.55"/>
<text x="203.1" y="435.3" font-size="7.2" text-anchor="middle" fill="#222" stroke="#222" stroke-width="0.2" >2</text>
<circle cx="212.4" cy="434.1" r="4.3" fill="#fff" opacity="0.55"/>
<text x="212.4" y="436.6" font-size="7.2" text-anchor="middle" fill="#222" stroke="#222" stroke-width="0.2" >5</text>
<text x="230.4" y="436.4" font-size="7.2" text-anchor="middle" fill="#222" stroke="#222" stroke-width="0.2" >3</text>
<text x="173.3" y="443.5" font-size="7.2" text-anchor="middle" fill="#222" stroke="#222" stroke-width="0.2" >8</text>
<text x="182.1" y="454.7" font-size="7.2" text-anchor="middle" fill="#222" stroke="#222" stroke-width="0.2" >10</text>
<circle cx="204.7" cy="454.7" r="4.3" fill="#fff" opacity="0.55"/>
<text x="204.7" y="457.2" font-size="7.2" text-anchor="middle" fill="#222" stroke="#222" stroke-width="0.2" >7</text>
<circle cx="202.5" cy="475.8" r="4.3" fill="#fff" opacity="0.55"/>
<text x="202.5" y="478.3" font-size="7.2" text-anchor="middle" fill="#222" stroke="#222" stroke-width="0.2" >1</text>
<circle cx="281.8" cy="404.5" r="4.3" fill="#fff" opacity="0.55"/>
<text x="281.8" y="407" font-size="7.2" text-anchor="middle" fill="#222" stroke="#222" stroke-width="0.2" >4</text>
<circle cx="270.6" cy="425.9" r="4.3" fill="#fff" opacity="0.55"/>
<text x="270.6" y="428.4" font-size="7.2" text-anchor="middle" fill="#222" stroke="#222" stroke-width="0.2" >6</text>
<circle cx="316.9" cy="354.1" r="2" fill="#a6cee3" />
<text x="321.5" y="356.9" font-size="8.1" fill="#111" stroke="#111" stroke-width="0.2" >Basal (1)</text>
<circle cx="316.9" cy="364.3" r="2" fill="#1f78b4" />
<text x="321.5" y="367.1" font-size="8.1" fill="#111" stroke="#111" stroke-width="0.2" >Club cells (2)</text>
<circle cx="316.9" cy="374" r="2" fill="#ff7f00" />
<text x="321.5" y="376.8" font-size="8.1" fill="#111" stroke="#111" stroke-width="0.2" >Cycling (3)</text>
<circle cx="316.9" cy="383.9" r="2" fill="#fdbf6f" />
<text x="321.5" y="386.7" font-size="8.1" fill="#111" stroke="#111" stroke-width="0.2" >Deuterosome−stage ciliated (4)</text>
<circle cx="316.9" cy="393.8" r="2" fill="#fb9a99" />
<text x="321.5" y="396.6" font-size="8.1" fill="#111" stroke="#111" stroke-width="0.2" >Differentiating basal (5)</text>
<circle cx="316.9" cy="403.2" r="2" fill="#e31a1c" />
<text x="321.5" y="406" font-size="8.1" fill="#111" stroke="#111" stroke-width="0.2" >Goblet−1 (6)</text>
<circle cx="316.9" cy="413.2" r="2" fill="#cab2d6" />
<text x="321.5" y="416" font-size="8.1" fill="#111" stroke="#111" stroke-width="0.2" >Goblet−2 (7)</text>
<circle cx="316.9" cy="422.8" r="2" fill="#ee10ee" />
<text x="321.5" y="425.6" font-size="8.1" fill="#111" stroke="#111" stroke-width="0.2" >Ionocyte (8)</text>
<circle cx="316.9" cy="432.8" r="2" fill="#8b0000" />
<text x="321.5" y="435.6" font-size="8.1" fill="#111" stroke="#111" stroke-width="0.2" >Mature ciliated (9)</text>
<circle cx="316.9" cy="442.4" r="2" fill="#a9a9a9" />
<text x="321.5" y="445.2" font-size="8.1" fill="#111" stroke="#111" stroke-width="0.2" >Neuroendocrine (10)</text>
<circle cx="316.9" cy="452.1" r="2" fill="#33a02c" />
<text x="321.5" y="454.9" font-size="8.1" fill="#111" stroke="#111" stroke-width="0.2" >Proximal ciliated (11)</text>
<text transform="translate(430.6 332.3) scale(0.93 1)" font-size="14.2" font-weight="bold">h</text>
<rect x="448.2" y="336.8" width="3.2" height="52.6" fill="#7b8fc7" />
<rect x="452.2" y="336.8" width="17.2" height="17.5" fill="#fc9c7e" stroke="#a8a8a8" stroke-width="0.8" />
<text x="460.8" y="348.2" font-size="7.1" text-anchor="middle" fill="#111" stroke="#111" stroke-width="0.2" textLength="13.2" lengthAdjust="spacingAndGlyphs">1.65</text>
<rect x="469.4" y="336.8" width="17.2" height="17.5" fill="#fee1d4" stroke="#a8a8a8" stroke-width="0.8" />
<text x="478" y="348.2" font-size="7.1" text-anchor="middle" fill="#111" stroke="#111" stroke-width="0.2" textLength="13.2" lengthAdjust="spacingAndGlyphs">0.56</text>
<rect x="486.7" y="336.8" width="17.2" height="17.5" fill="#f6553c" stroke="#a8a8a8" stroke-width="0.8" />
<text x="495.3" y="348.2" font-size="7.1" text-anchor="middle" fill="#111" stroke="#111" stroke-width="0.2" textLength="13.2" lengthAdjust="spacingAndGlyphs">2.67</text>
<rect x="503.9" y="336.8" width="17.2" height="17.5" fill="#ffeee6" stroke="#a8a8a8" stroke-width="0.8" />
<text x="512.5" y="348.2" font-size="7.1" text-anchor="middle" fill="#111" stroke="#111" stroke-width="0.2" textLength="13.2" lengthAdjust="spacingAndGlyphs">0.21</text>
<rect x="521.1" y="336.8" width="17.2" height="17.5" fill="#cf1c1e" stroke="#a8a8a8" stroke-width="0.8" />
<text x="529.7" y="348.2" font-size="7.1" text-anchor="middle" fill="#111" stroke="#111" stroke-width="0.2" textLength="13.2" lengthAdjust="spacingAndGlyphs">3.54</text>
<rect x="538.4" y="336.8" width="17.2" height="17.5" fill="#fff0e9" stroke="#a8a8a8" stroke-width="0.8" />
<text x="547" y="348.2" font-size="7.1" text-anchor="middle" fill="#111" stroke="#111" stroke-width="0.2" textLength="13.2" lengthAdjust="spacingAndGlyphs">0.14</text>
<rect x="555.6" y="336.8" width="17.2" height="17.5" fill="#fca487" stroke="#a8a8a8" stroke-width="0.8" />
<text x="564.2" y="348.2" font-size="7.1" text-anchor="middle" fill="#111" stroke="#111" stroke-width="0.2" textLength="13.2" lengthAdjust="spacingAndGlyphs">1.53</text>
<rect x="572.8" y="336.8" width="17.2" height="17.5" fill="#f0402f" stroke="#a8a8a8" stroke-width="0.8" />
<text x="581.4" y="348.2" font-size="7.1" text-anchor="middle" fill="#111" stroke="#111" stroke-width="0.2" textLength="13.2" lengthAdjust="spacingAndGlyphs">2.94</text>
<rect x="590" y="336.8" width="17.2" height="17.5" fill="#fcbfa6" stroke="#a8a8a8" stroke-width="0.8" />
<text x="598.7" y="348.2" font-size="7.1" text-anchor="middle" fill="#111" stroke="#111" stroke-width="0.2" textLength="13.2" lengthAdjust="spacingAndGlyphs">1.14</text>
<rect x="607.3" y="336.8" width="17.2" height="17.5" fill="#b01217" stroke="#a8a8a8" stroke-width="0.8" />
<text x="615.9" y="348.2" font-size="7.1" text-anchor="middle" fill="#111" stroke="#111" stroke-width="0.2" textLength="13.2" lengthAdjust="spacingAndGlyphs">3.95</text>
<rect x="624.5" y="336.8" width="17.2" height="17.5" fill="#fee7dc" stroke="#a8a8a8" stroke-width="0.8" />
<text x="633.1" y="348.2" font-size="7.1" text-anchor="middle" fill="#111" stroke="#111" stroke-width="0.2" textLength="13.2" lengthAdjust="spacingAndGlyphs">0.40</text>
<rect x="452.2" y="354.3" width="17.2" height="17.5" fill="#fdc9b4" stroke="#a8a8a8" stroke-width="0.8" />
<text x="460.8" y="365.7" font-size="7.1" text-anchor="middle" fill="#111" stroke="#111" stroke-width="0.2" textLength="13.2" lengthAdjust="spacingAndGlyphs">0.97</text>
<rect x="469.4" y="354.3" width="17.2" height="17.5" fill="#fcad91" stroke="#a8a8a8" stroke-width="0.8" />
<text x="478" y="365.7" font-size="7.1" text-anchor="middle" fill="#111" stroke="#111" stroke-width="0.2" textLength="13.2" lengthAdjust="spacingAndGlyphs">1.40</text>
<rect x="486.7" y="354.3" width="17.2" height="17.5" fill="#fee6da" stroke="#a8a8a8" stroke-width="0.8" />
<text x="495.3" y="365.7" font-size="7.1" text-anchor="middle" fill="#111" stroke="#111" stroke-width="0.2" textLength="13.2" lengthAdjust="spacingAndGlyphs">0.43</text>
<rect x="503.9" y="354.3" width="17.2" height="17.5" fill="#fff5f0" stroke="#a8a8a8" stroke-width="0.8" />
<text x="512.5" y="365.7" font-size="7.1" text-anchor="middle" fill="#111" stroke="#111" stroke-width="0.2" textLength="13.2" lengthAdjust="spacingAndGlyphs">0.01</text>
<rect x="521.1" y="354.3" width="17.2" height="17.5" fill="#fff0ea" stroke="#a8a8a8" stroke-width="0.8" />
<text x="529.7" y="365.7" font-size="7.1" text-anchor="middle" fill="#111" stroke="#111" stroke-width="0.2" textLength="13.2" lengthAdjust="spacingAndGlyphs">0.13</text>
<rect x="538.4" y="354.3" width="17.2" height="17.5" fill="#fff5f0" stroke="#a8a8a8" stroke-width="0.8" />
<text x="547" y="365.7" font-size="7.1" text-anchor="middle" fill="#111" stroke="#111" stroke-width="0.2" textLength="13.2" lengthAdjust="spacingAndGlyphs">0.01</text>
<rect x="555.6" y="354.3" width="17.2" height="17.5" fill="#fdcbb6" stroke="#a8a8a8" stroke-width="0.8" />
<text x="564.2" y="365.7" font-size="7.1" text-anchor="middle" fill="#111" stroke="#111" stroke-width="0.2" textLength="13.2" lengthAdjust="spacingAndGlyphs">0.94</text>
<rect x="572.8" y="354.3" width="17.2" height="17.5" fill="#feeae1" stroke="#a8a8a8" stroke-width="0.8" />
<text x="581.4" y="365.7" font-size="7.1" text-anchor="middle" fill="#111" stroke="#111" stroke-width="0.2" textLength="13.2" lengthAdjust="spacingAndGlyphs">0.30</text>
<rect x="590" y="354.3" width="17.2" height="17.5" fill="#fdc9b4" stroke="#a8a8a8" stroke-width="0.8" />
<text x="598.7" y="365.7" font-size="7.1" text-anchor="middle" fill="#111" stroke="#111" stroke-width="0.2" textLength="13.2" lengthAdjust="spacingAndGlyphs">0.97</text>
<rect x="607.3" y="354.3" width="17.2" height="17.5" fill="#fff4ee" stroke="#a8a8a8" stroke-width="0.8" />
<text x="615.9" y="365.7" font-size="7.1" text-anchor="middle" fill="#111" stroke="#111" stroke-width="0.2" textLength="13.2" lengthAdjust="spacingAndGlyphs">0.03</text>
<rect x="624.5" y="354.3" width="17.2" height="17.5" fill="#fcb195" stroke="#a8a8a8" stroke-width="0.8" />
<text x="633.1" y="365.7" font-size="7.1" text-anchor="middle" fill="#111" stroke="#111" stroke-width="0.2" textLength="13.2" lengthAdjust="spacingAndGlyphs">1.35</text>
<rect x="452.2" y="371.9" width="17.2" height="17.5" fill="#fee9df" stroke="#a8a8a8" stroke-width="0.8" />
<text x="460.8" y="383.2" font-size="7.1" text-anchor="middle" fill="#111" stroke="#111" stroke-width="0.2" textLength="13.2" lengthAdjust="spacingAndGlyphs">0.34</text>
<rect x="469.4" y="371.9" width="17.2" height="17.5" fill="#fee5d8" stroke="#a8a8a8" stroke-width="0.8" />
<text x="478" y="383.2" font-size="7.1" text-anchor="middle" fill="#111" stroke="#111" stroke-width="0.2" textLength="13.2" lengthAdjust="spacingAndGlyphs">0.47</text>
<rect x="486.7" y="371.9" width="17.2" height="17.5" fill="#fee2d4" stroke="#a8a8a8" stroke-width="0.8" />
<text x="495.3" y="383.2" font-size="7.1" text-anchor="middle" fill="#111" stroke="#111" stroke-width="0.2" textLength="13.2" lengthAdjust="spacingAndGlyphs">0.55</text>
<rect x="503.9" y="371.9" width="17.2" height="17.5" fill="#78040f" stroke="#a8a8a8" stroke-width="0.8" />
<text x="512.5" y="383.2" font-size="7.1" text-anchor="middle" fill="#fff" stroke="#fff" stroke-width="0.2" textLength="13.2" lengthAdjust="spacingAndGlyphs">4.46</text>
<rect x="521.1" y="371.9" width="17.2" height="17.5" fill="#feeae0" stroke="#a8a8a8" stroke-width="0.8" />
<text x="529.7" y="383.2" font-size="7.1" text-anchor="middle" fill="#111" stroke="#111" stroke-width="0.2" textLength="13.2" lengthAdjust="spacingAndGlyphs">0.31</text>
<rect x="538.4" y="371.9" width="17.2" height="17.5" fill="#6d010e" stroke="#a8a8a8" stroke-width="0.8" />
<text x="547" y="383.2" font-size="7.1" text-anchor="middle" fill="#fff" stroke="#fff" stroke-width="0.2" textLength="13.2" lengthAdjust="spacingAndGlyphs">4.55</text>
<rect x="555.6" y="371.9" width="17.2" height="17.5" fill="#fee2d4" stroke="#a8a8a8" stroke-width="0.8" />
<text x="564.2" y="383.2" font-size="7.1" text-anchor="middle" fill="#111" stroke="#111" stroke-width="0.2" textLength="13.2" lengthAdjust="spacingAndGlyphs">0.55</text>
<rect x="572.8" y="371.9" width="17.2" height="17.5" fill="#fee1d3" stroke="#a8a8a8" stroke-width="0.8" />
<text x="581.4" y="383.2" font-size="7.1" text-anchor="middle" fill="#111" stroke="#111" stroke-width="0.2" textLength="13.2" lengthAdjust="spacingAndGlyphs">0.58</text>
<rect x="590" y="371.9" width="17.2" height="17.5" fill="#fdccb8" stroke="#a8a8a8" stroke-width="0.8" />
<text x="598.7" y="383.2" font-size="7.1" text-anchor="middle" fill="#111" stroke="#111" stroke-width="0.2" textLength="13.2" lengthAdjust="spacingAndGlyphs">0.92</text>
<rect x="607.3" y="371.9" width="17.2" height="17.5" fill="#fff2ec" stroke="#a8a8a8" stroke-width="0.8" />
<text x="615.9" y="383.2" font-size="7.1" text-anchor="middle" fill="#111" stroke="#111" stroke-width="0.2" textLength="13.2" lengthAdjust="spacingAndGlyphs">0.09</text>
<rect x="624.5" y="371.9" width="17.2" height="17.5" fill="#fdd4c2" stroke="#a8a8a8" stroke-width="0.8" />
<text x="633.1" y="383.2" font-size="7.1" text-anchor="middle" fill="#111" stroke="#111" stroke-width="0.2" textLength="13.2" lengthAdjust="spacingAndGlyphs">0.79</text>
<rect x="448.2" y="336.8" width="193.5" height="52.6" fill="none" stroke="#9a9a9a" stroke-width="0.7" />
<line x1="448.2" y1="354.3" x2="452" y2="354.3" stroke="#fff" stroke-width="0.5" />
<line x1="448.2" y1="371.9" x2="452" y2="371.9" stroke="#fff" stroke-width="0.5" />
<text x="643.9" y="348.7" font-size="6.7" fill="#111" stroke="#111" stroke-width="0.2" >EGPA</text>
<text x="643.9" y="363" font-size="6.7" fill="#111" stroke="#111" stroke-width="0.2" >Cs−remission</text>
<text x="643.9" y="376.6" font-size="6.7" fill="#111" stroke="#111" stroke-width="0.2" >Cs−relapse</text>
<text x="463.4" y="392.8" font-size="6.7" text-anchor="end" fill="#111" stroke="#111" stroke-width="0.2" transform="rotate(-66 463.4 392.8)" >Basal</text>
<text x="480.6" y="392.8" font-size="6.7" text-anchor="end" fill="#111" stroke="#111" stroke-width="0.2" transform="rotate(-66 480.6 392.8)" >Club cells</text>
<text x="497.9" y="392.8" font-size="6.7" text-anchor="end" fill="#111" stroke="#111" stroke-width="0.2" transform="rotate(-66 497.9 392.8)" >Cycling</text>
<text x="515.1" y="392.8" font-size="6.7" text-anchor="end" fill="#111" stroke="#111" stroke-width="0.2" transform="rotate(-66 515.1 392.8)" >Deuterosome−stage ciliated</text>
<text x="532.3" y="392.8" font-size="6.7" text-anchor="end" fill="#111" stroke="#111" stroke-width="0.2" transform="rotate(-66 532.3 392.8)" >Differentiating basal</text>
<text x="549.6" y="392.8" font-size="6.7" text-anchor="end" fill="#111" stroke="#111" stroke-width="0.2" transform="rotate(-66 549.6 392.8)" >Goblet−1</text>
<text x="566.8" y="392.8" font-size="6.7" text-anchor="end" fill="#111" stroke="#111" stroke-width="0.2" transform="rotate(-66 566.8 392.8)" >Goblet−2</text>
<text x="584" y="392.8" font-size="6.7" text-anchor="end" fill="#111" stroke="#111" stroke-width="0.2" transform="rotate(-66 584 392.8)" >Ionocyte</text>
<text x="601.3" y="392.8" font-size="6.7" text-anchor="end" fill="#111" stroke="#111" stroke-width="0.2" transform="rotate(-66 601.3 392.8)" >Mature ciliated</text>
<text x="618.5" y="392.8" font-size="6.7" text-anchor="end" fill="#111" stroke="#111" stroke-width="0.2" transform="rotate(-66 618.5 392.8)" >Neuroendocrine</text>
<text x="635.7" y="392.8" font-size="6.7" text-anchor="end" fill="#111" stroke="#111" stroke-width="0.2" transform="rotate(-66 635.7 392.8)" >Proximal ciliated</text>
<rect x="635.4" y="420.2" width="3.6" height="3.6" fill="#8ea3d8" />
<text x="640.6" y="424.6" font-size="6.7" fill="#111" stroke="#111" stroke-width="0.2" >Bronchi biopsy</text>
<linearGradient id="cbh" x1="0" x2="0" y1="0" y2="1"><stop offset="0" stop-color="#67000d"/><stop offset="0.15" stop-color="#a50f15"/><stop offset="0.3" stop-color="#cb181d"/><stop offset="0.45" stop-color="#ef3b2c"/><stop offset="0.6" stop-color="#fb6a4a"/><stop offset="0.75" stop-color="#fc9272"/><stop offset="0.88" stop-color="#fcbba1"/><stop offset="1" stop-color="#fff5f0"/></linearGradient>
<rect x="649.2" y="434.1" width="9.7" height="57.2" fill="url(#cbh)" />
<text x="662.5" y="443.5" font-size="6.7" fill="#111" stroke="#111" stroke-width="0.2" >4</text>
<text x="662.5" y="456.1" font-size="6.7" fill="#111" stroke="#111" stroke-width="0.2" >3</text>
<text x="662.5" y="469.3" font-size="6.7" fill="#111" stroke="#111" stroke-width="0.2" >2</text>
<text x="662.5" y="481.1" font-size="6.7" fill="#111" stroke="#111" stroke-width="0.2" >1</text>
<text x="638.3" y="464.5" font-size="6.6" text-anchor="middle" fill="#111" stroke="#111" stroke-width="0.2" transform="rotate(90 638.3 464.5)" >Ro/e value</text>
<text transform="translate(1.2 513.5) scale(0.93 1)" font-size="14.2" font-weight="bold">i</text>
<line x1="88.7" y1="544.8" x2="125.4" y2="544.8" stroke="#a9d18e" stroke-width="0.8" />
<line x1="148" y1="544.8" x2="160.3" y2="544.8" stroke="#a9d18e" stroke-width="0.8" />
<line x1="160.3" y1="544.4" x2="160.3" y2="622.9" stroke="#a9d18e" stroke-width="0.8" />
<line x1="160.3" y1="622.5" x2="154" y2="622.5" stroke="#a9d18e" stroke-width="0.8" />
<line x1="125.4" y1="622.5" x2="11.9" y2="622.5" stroke="#a9d18e" stroke-width="0.8" />
<line x1="88.7" y1="544.8" x2="88.7" y2="577.1" stroke="#a9d18e" stroke-width="0.8" />
<line x1="17.6" y1="622.5" x2="17.6" y2="645.5" stroke="#a9d18e" stroke-width="0.8" />
<line x1="27.8" y1="622.5" x2="27.8" y2="645.5" stroke="#a9d18e" stroke-width="0.8" />
<line x1="37.9" y1="622.5" x2="37.9" y2="645.5" stroke="#a9d18e" stroke-width="0.8" />
<line x1="58.2" y1="622.5" x2="58.2" y2="645.5" stroke="#a9d18e" stroke-width="0.8" />
<line x1="78.5" y1="622.5" x2="78.5" y2="645.5" stroke="#a9d18e" stroke-width="0.8" />
<line x1="88.7" y1="622.5" x2="88.7" y2="645.5" stroke="#a9d18e" stroke-width="0.8" />
<line x1="98.8" y1="622.5" x2="98.8" y2="645.5" stroke="#a9d18e" stroke-width="0.8" />
<line x1="109" y1="622.5" x2="109" y2="645.5" stroke="#a9d18e" stroke-width="0.8" />
<line x1="119.1" y1="622.5" x2="119.1" y2="645.5" stroke="#a9d18e" stroke-width="0.8" />
<rect x="11.9" y="521.3" width="113.5" height="55.8" fill="none" stroke="#333" stroke-width="0.7" />
<rect x="11.9" y="585.1" width="113.5" height="58.7" fill="none" stroke="#333" stroke-width="0.7" />
<line x1="17.6" y1="577.1" x2="17.6" y2="578.8" stroke="#333" stroke-width="0.5" />
<line x1="17.6" y1="643.8" x2="17.6" y2="645.3" stroke="#333" stroke-width="0.5" />
<line x1="27.8" y1="577.1" x2="27.8" y2="578.8" stroke="#333" stroke-width="0.5" />
<line x1="27.8" y1="643.8" x2="27.8" y2="645.3" stroke="#333" stroke-width="0.5" />
<line x1="37.9" y1="577.1" x2="37.9" y2="578.8" stroke="#333" stroke-width="0.5" />
<line x1="37.9" y1="643.8" x2="37.9" y2="645.3" stroke="#333" stroke-width="0.5" />
<line x1="48.1" y1="577.1" x2="48.1" y2="578.8" stroke="#333" stroke-width="0.5" />
<line x1="48.1" y1="643.8" x2="48.1" y2="645.3" stroke="#333" stroke-width="0.5" />
<line x1="58.2" y1="577.1" x2="58.2" y2="578.8" stroke="#333" stroke-width="0.5" />
<line x1="58.2" y1="643.8" x2="58.2" y2="645.3" stroke="#333" stroke-width="0.5" />
<line x1="68.3" y1="577.1" x2="68.3" y2="578.8" stroke="#333" stroke-width="0.5" />
<line x1="68.3" y1="643.8" x2="68.3" y2="645.3" stroke="#333" stroke-width="0.5" />
<line x1="78.5" y1="577.1" x2="78.5" y2="578.8" stroke="#333" stroke-width="0.5" />
<line x1="78.5" y1="643.8" x2="78.5" y2="645.3" stroke="#333" stroke-width="0.5" />
<line x1="88.7" y1="577.1" x2="88.7" y2="578.8" stroke="#333" stroke-width="0.5" />
<line x1="88.7" y1="643.8" x2="88.7" y2="645.3" stroke="#333" stroke-width="0.5" />
<line x1="98.8" y1="577.1" x2="98.8" y2="578.8" stroke="#333" stroke-width="0.5" />
<line x1="98.8" y1="643.8" x2="98.8" y2="645.3" stroke="#333" stroke-width="0.5" />
<line x1="109" y1="577.1" x2="109" y2="578.8" stroke="#333" stroke-width="0.5" />
<line x1="109" y1="643.8" x2="109" y2="645.3" stroke="#333" stroke-width="0.5" />
<line x1="119.1" y1="577.1" x2="119.1" y2="578.8" stroke="#333" stroke-width="0.5" />
<line x1="119.1" y1="643.8" x2="119.1" y2="645.3" stroke="#333" stroke-width="0.5" />
<line x1="125.4" y1="527" x2="127" y2="527" stroke="#333" stroke-width="0.5" />
<text x="127.7" y="529.5" font-size="7.0" font-style="italic" fill="#111" stroke="#111" stroke-width="0.2" >EDN1</text>
<line x1="125.4" y1="535.8" x2="127" y2="535.8" stroke="#333" stroke-width="0.5" />
<text x="127.7" y="538.3" font-size="7.0" font-style="italic" fill="#111" stroke="#111" stroke-width="0.2" >NPPC</text>
<line x1="125.4" y1="544.8" x2="127" y2="544.8" stroke="#333" stroke-width="0.5" />
<text x="127.7" y="547.3" font-size="7.0" font-style="italic" fill="#111" stroke="#111" stroke-width="0.2" >IGF1</text>
<line x1="125.4" y1="553.7" x2="127" y2="553.7" stroke="#333" stroke-width="0.5" />
<text x="127.7" y="556.2" font-size="7.0" font-style="italic" fill="#111" stroke="#111" stroke-width="0.2" >AGT</text>
<line x1="125.4" y1="562.7" x2="127" y2="562.7" stroke="#333" stroke-width="0.5" />
<text x="127.7" y="565.2" font-size="7.0" font-style="italic" fill="#111" stroke="#111" stroke-width="0.2" >CALCA</text>
<line x1="125.4" y1="571.8" x2="127" y2="571.8" stroke="#333" stroke-width="0.5" />
<text x="127.7" y="574.3" font-size="7.0" font-style="italic" fill="#111" stroke="#111" stroke-width="0.2" >SST</text>
<line x1="125.4" y1="589.9" x2="127" y2="589.9" stroke="#333" stroke-width="0.5" />
<text x="127.7" y="592.4" font-size="7.0" font-style="italic" fill="#111" stroke="#111" stroke-width="0.2" >ADRB2</text>
<line x1="125.4" y1="598.1" x2="127" y2="598.1" stroke="#333" stroke-width="0.5" />
<text x="127.7" y="600.6" font-size="7.0" font-style="italic" fill="#111" stroke="#111" stroke-width="0.2" >PTGER3</text>
<line x1="125.4" y1="606.4" x2="127" y2="606.4" stroke="#333" stroke-width="0.5" />
<text x="127.7" y="608.9" font-size="7.0" font-style="italic" fill="#111" stroke="#111" stroke-width="0.2" >VIPR1</text>
<line x1="125.4" y1="614.6" x2="127" y2="614.6" stroke="#333" stroke-width="0.5" />
<text x="127.7" y="617.1" font-size="7.0" font-style="italic" fill="#111" stroke="#111" stroke-width="0.2" >PTGER4</text>
<line x1="125.4" y1="622.5" x2="127" y2="622.5" stroke="#333" stroke-width="0.5" />
<text x="127.7" y="625" font-size="7.0" font-style="italic" fill="#111" stroke="#111" stroke-width="0.2" >IGF1R</text>
<line x1="125.4" y1="630.7" x2="127" y2="630.7" stroke="#333" stroke-width="0.5" />
<text x="127.7" y="633.2" font-size="7.0" font-style="italic" fill="#111" stroke="#111" stroke-width="0.2" >EDNRA</text>
<line x1="125.4" y1="639" x2="127" y2="639" stroke="#333" stroke-width="0.5" />
<text x="127.7" y="641.5" font-size="7.0" font-style="italic" fill="#111" stroke="#111" stroke-width="0.2" >OXTR</text>
<path d="M17.6 527h0m10.2 0h0m10.1 0h0m10.2 0h0m10.1 0h0m10.2 0h0m10.1 0h0m10.1 0h0m10.2 0h0m10.2 0h0m10.1 0h0m-101.5 8.8h0m10.2 0h0m10.1 0h0m10.2 0h0m10.1 0h0m10.2 0h0m10.1 0h0m10.1 0h0m10.2 0h0m10.2 0h0m10.1 0h0m-101.5 9h0m10.2 0h0m10.1 0h0m10.2 0h0m10.1 0h0m10.2 0h0m10.1 0h0m10.1 0h0m10.2 0h0m10.2 0h0m10.1 0h0m-101.5 8.9h0m10.2 0h0m10.1 0h0m10.2 0h0m10.1 0h0m10.2 0h0m10.1 0h0m10.1 0h0m10.2 0h0m10.2 0h0m10.1 0h0m-101.5 9h0m10.2 0h0m10.1 0h0m10.2 0h0m10.1 0h0m10.2 0h0m10.1 0h0m10.1 0h0m10.2 0h0m10.2 0h0m10.1 0h0m-101.5 9.1h0m10.2 0h0m10.1 0h0m10.2 0h0m10.1 0h0m10.2 0h0m10.1 0h0m10.1 0h0m10.2 0h0m10.2 0h0m10.1 0h0" stroke="#999" stroke-width="0.6" stroke-linecap="round" fill="none" />
<path d="M17.6 589.9h0m10.2 0h0m10.1 0h0m10.2 0h0m10.1 0h0m10.2 0h0m10.1 0h0m10.1 0h0m10.2 0h0m10.2 0h0m10.1 0h0m-101.5 8.2h0m10.2 0h0m10.1 0h0m10.2 0h0m10.1 0h0m10.2 0h0m10.1 0h0m10.1 0h0m10.2 0h0m10.2 0h0m10.1 0h0m-101.5 8.3h0m10.2 0h0m10.1 0h0m10.2 0h0m10.1 0h0m10.2 0h0m10.1 0h0m10.1 0h0m10.2 0h0m10.2 0h0m10.1 0h0m-101.5 8.2h0m10.2 0h0m10.1 0h0m10.2 0h0m10.1 0h0m10.2 0h0m10.1 0h0m10.1 0h0m10.2 0h0m10.2 0h0m10.1 0h0m-101.5 7.9h0m10.2 0h0m10.1 0h0m10.2 0h0m10.1 0h0m10.2 0h0m10.1 0h0m10.1 0h0m10.2 0h0m10.2 0h0m10.1 0h0m-101.5 8.2h0m10.2 0h0m10.1 0h0m10.2 0h0m10.1 0h0m10.2 0h0m10.1 0h0m10.1 0h0m10.2 0h0m10.2 0h0m10.1 0h0m-101.5 8.3h0m10.2 0h0m10.1 0h0m10.2 0h0m10.1 0h0m10.2 0h0m10.1 0h0m10.1 0h0m10.2 0h0m10.2 0h0m10.1 0h0" stroke="#777" stroke-width="0.8" stroke-linecap="round" fill="none" />
<circle cx="58.2" cy="527" r="0.8" fill="#222" />
<circle cx="17.6" cy="535.8" r="0.6" fill="#222" />
<circle cx="88.7" cy="544.8" r="3.4" fill="#1f1f1f" />
<circle cx="109" cy="553.7" r="1.8" fill="#222" />
<circle cx="109" cy="562.7" r="4.5" fill="#1f1f1f" />
<circle cx="58.2" cy="571.8" r="0.5" fill="#222" />
<circle cx="17.6" cy="589.9" r="1" fill="#222" />
<circle cx="27.8" cy="589.9" r="0.7" fill="#222" />
<circle cx="37.9" cy="589.9" r="1.3" fill="#222" />
<circle cx="58.2" cy="589.9" r="1.4" fill="#222" />
<circle cx="88.7" cy="589.9" r="1.2" fill="#222" />
<circle cx="68.3" cy="589.9" r="0.6" fill="#222" />
<circle cx="78.5" cy="589.9" r="0.6" fill="#222" />
<circle cx="98.8" cy="589.9" r="0.6" fill="#222" />
<circle cx="109" cy="589.9" r="0.6" fill="#222" />
<circle cx="119.1" cy="589.9" r="0.6" fill="#222" />
<circle cx="88.7" cy="598.1" r="4.5" fill="#222" />
<circle cx="17.6" cy="598.1" r="0.6" fill="#444" />
<circle cx="27.8" cy="598.1" r="0.6" fill="#444" />
<circle cx="37.9" cy="598.1" r="0.6" fill="#444" />
<circle cx="58.2" cy="598.1" r="0.6" fill="#444" />
<circle cx="78.5" cy="598.1" r="0.6" fill="#444" />
<circle cx="98.8" cy="598.1" r="0.6" fill="#444" />
<circle cx="109" cy="598.1" r="0.6" fill="#444" />
<circle cx="119.1" cy="598.1" r="0.6" fill="#444" />
<circle cx="17.6" cy="606.4" r="0.9" fill="#222" />
<circle cx="27.8" cy="606.4" r="1.4" fill="#222" />
<circle cx="37.9" cy="606.4" r="0.7" fill="#222" />
<circle cx="58.2" cy="606.4" r="1.2" fill="#222" />
<circle cx="78.5" cy="606.4" r="1.6" fill="#222" />
<circle cx="88.7" cy="606.4" r="0.7" fill="#222" />
<circle cx="98.8" cy="606.4" r="0.8" fill="#222" />
<circle cx="109" cy="606.4" r="1.2" fill="#222" />
<circle cx="119.1" cy="606.4" r="0.7" fill="#222" />
<circle cx="68.3" cy="606.4" r="0.7" fill="#222" />
<circle cx="17.6" cy="614.6" r="1" fill="#2a2a2a" />
<circle cx="27.8" cy="614.6" r="1.7" fill="#2a2a2a" />
<circle cx="37.9" cy="614.6" r="1.4" fill="#2a2a2a" />
<circle cx="58.2" cy="614.6" r="1.9" fill="#2a2a2a" />
<circle cx="68.3" cy="614.6" r="0.8" fill="#2a2a2a" />
<circle cx="78.5" cy="614.6" r="1.1" fill="#2a2a2a" />
<circle cx="88.7" cy="614.6" r="1.2" fill="#2a2a2a" />
<circle cx="98.8" cy="614.6" r="2" fill="#2a2a2a" />
<circle cx="109" cy="614.6" r="2" fill="#2a2a2a" />
<circle cx="119.1" cy="614.6" r="0.9" fill="#2a2a2a" />
<circle cx="48.1" cy="614.6" r="0.6" fill="#2a2a2a" />
<circle cx="17.6" cy="622.5" r="1.2" fill="#222" />
<circle cx="27.8" cy="622.5" r="1.4" fill="#777" />
<circle cx="37.9" cy="622.5" r="1.2" fill="#777" />
<circle cx="58.2" cy="622.5" r="1.7" fill="#777" />
<circle cx="68.3" cy="622.5" r="0.6" fill="#333" />
<circle cx="78.5" cy="622.5" r="0.7" fill="#666" />
<circle cx="88.7" cy="622.5" r="2.3" fill="#222" />
<circle cx="98.8" cy="622.5" r="2.3" fill="#2a2a2a" />
<circle cx="109" cy="622.5" r="3.1" fill="#222" />
<circle cx="119.1" cy="622.5" r="1" fill="#555" />
<circle cx="48.1" cy="622.5" r="0.5" fill="#666" />
<circle cx="17.6" cy="630.7" r="0.6" fill="#444" />
<circle cx="37.9" cy="630.7" r="0.6" fill="#444" />
<circle cx="58.2" cy="630.7" r="0.7" fill="#444" />
<circle cx="88.7" cy="630.7" r="0.9" fill="#444" />
<circle cx="98.8" cy="630.7" r="0.6" fill="#444" />
<circle cx="119.1" cy="630.7" r="0.7" fill="#444" />
<circle cx="27.8" cy="639" r="3.7" fill="#222" />
<circle cx="48.1" cy="639" r="1.3" fill="#555" />
<circle cx="88.7" cy="639" r="1.4" fill="#888" />
<circle cx="98.8" cy="639" r="4.2" fill="#222" />
<circle cx="119.1" cy="639" r="2.8" fill="#2a2a2a" />
<circle cx="17.6" cy="639" r="0.6" fill="#666" />
<circle cx="37.9" cy="639" r="0.6" fill="#666" />
<circle cx="58.2" cy="639" r="0.7" fill="#666" />
<circle cx="78.5" cy="639" r="0.6" fill="#666" />
<rect x="12.6" y="645.7" width="10.2" height="4.1" fill="#a6cee3" />
<rect x="22.7" y="645.7" width="10.2" height="4.1" fill="#1f78b4" />
<rect x="32.9" y="645.7" width="10.2" height="4.1" fill="#f07f1f" />
<rect x="43" y="645.7" width="10.2" height="4.1" fill="#fdbf6f" />
<rect x="53.2" y="645.7" width="10.2" height="4.1" fill="#f29a9a" />
<rect x="63.3" y="645.7" width="10.2" height="4.1" fill="#d8262a" />
<rect x="73.5" y="645.7" width="10.2" height="4.1" fill="#cab2d6" />
<rect x="83.6" y="645.7" width="10.2" height="4.1" fill="#b04fa8" />
<rect x="93.8" y="645.7" width="10.2" height="4.1" fill="#8b1a22" />
<rect x="103.9" y="645.7" width="10.2" height="4.1" fill="#a9a9a9" />
<rect x="114" y="645.7" width="10.2" height="4.1" fill="#33a02c" />
<rect x="12.6" y="645.7" width="111.7" height="4.1" fill="none" stroke="#333" stroke-width="0.7" />
<text x="7.3" y="551" font-size="6.6" text-anchor="middle" fill="#111" stroke="#111" stroke-width="0.2" transform="rotate(-90 7.3 551)" >Ligands</text>
<text x="6.6" y="616.3" font-size="6.0" text-anchor="middle" fill="#111" stroke="#111" stroke-width="0.2" transform="rotate(-90 6.6 616.3)" >Receptors</text>
<text x="35.5" y="665.2" font-size="6.9" text-anchor="middle" fill="#111" stroke="#111" stroke-width="0.2" >Percent Expressed</text>
<circle cx="7.7" cy="671.3" r="0.3" fill="#000" />
<text x="7.7" y="681.6" font-size="6.3" text-anchor="middle" fill="#111" stroke="#111" stroke-width="0.2" >0</text>
<circle cx="16.5" cy="671.3" r="1" fill="#000" />
<text x="16.5" y="681.6" font-size="6.3" text-anchor="middle" fill="#111" stroke="#111" stroke-width="0.2" >10</text>
<circle cx="25" cy="671.3" r="1.7" fill="#000" />
<text x="25" y="681.6" font-size="6.3" text-anchor="middle" fill="#111" stroke="#111" stroke-width="0.2" >20</text>
<circle cx="34" cy="671.3" r="2.5" fill="#000" />
<text x="34" y="681.6" font-size="6.3" text-anchor="middle" fill="#111" stroke="#111" stroke-width="0.2" >30</text>
<circle cx="42.5" cy="671.3" r="3.3" fill="#000" />
<text x="42.5" y="681.6" font-size="6.3" text-anchor="middle" fill="#111" stroke="#111" stroke-width="0.2" >40</text>
<circle cx="52.5" cy="671.3" r="4.2" fill="#000" />
<text x="52.5" y="681.6" font-size="6.3" text-anchor="middle" fill="#111" stroke="#111" stroke-width="0.2" >50</text>
<text x="106" y="663.8" font-size="6.3" text-anchor="middle" fill="#111" stroke="#111" stroke-width="0.2" >Relative expression</text>
<linearGradient id="cbi" x1="0" x2="1" y1="0" y2="0"><stop offset="0" stop-color="#cfcfcf"/><stop offset="0.5" stop-color="#8a8a8a"/><stop offset="1" stop-color="#222"/></linearGradient>
<rect x="85.2" y="666.9" width="45.8" height="9" fill="url(#cbi)" stroke="#888" stroke-width="0.6" />
<line x1="96.7" y1="666.9" x2="96.7" y2="668.4" stroke="#ddd" stroke-width="0.4" />
<line x1="96.7" y1="674.4" x2="96.7" y2="675.9" stroke="#ddd" stroke-width="0.4" />
<line x1="108.1" y1="666.9" x2="108.1" y2="668.4" stroke="#ddd" stroke-width="0.4" />
<line x1="108.1" y1="674.4" x2="108.1" y2="675.9" stroke="#ddd" stroke-width="0.4" />
<line x1="119.5" y1="666.9" x2="119.5" y2="668.4" stroke="#ddd" stroke-width="0.4" />
<line x1="119.5" y1="674.4" x2="119.5" y2="675.9" stroke="#ddd" stroke-width="0.4" />
<text x="84.5" y="683" font-size="6.3" text-anchor="middle" fill="#111" stroke="#111" stroke-width="0.2" >−1.0</text>
<text x="131.8" y="683" font-size="6.3" text-anchor="middle" fill="#111" stroke="#111" stroke-width="0.2" >1.0</text>
<rect x="169" y="585" width="9" height="9.6" fill="#a6cee3" />
<text x="181.3" y="592.1" font-size="6.8" fill="#111" stroke="#111" stroke-width="0.2" >Basal</text>
<rect x="169" y="595" width="9" height="9.6" fill="#1f78b4" />
<text x="181.3" y="602.1" font-size="6.8" fill="#111" stroke="#111" stroke-width="0.2" >Club cells</text>
<rect x="169" y="605" width="9" height="9.6" fill="#f07f1f" />
<text x="181.3" y="612.1" font-size="6.8" fill="#111" stroke="#111" stroke-width="0.2" >Cycling</text>
<rect x="169" y="615" width="9" height="9.6" fill="#fdbf6f" />
<text x="181.3" y="622.1" font-size="6.8" fill="#111" stroke="#111" stroke-width="0.2" >Deuterosome−stage ciliated</text>
<rect x="169" y="625" width="9" height="9.6" fill="#f29a9a" />
<text x="181.3" y="632.1" font-size="6.8" fill="#111" stroke="#111" stroke-width="0.2" >Differentiating basal</text>
<rect x="169" y="635" width="9" height="9.6" fill="#d8262a" />
<text x="181.3" y="642.1" font-size="6.8" fill="#111" stroke="#111" stroke-width="0.2" >Goblet−1</text>
<rect x="169" y="645" width="9" height="9.6" fill="#cab2d6" />
<text x="181.3" y="652.1" font-size="6.8" fill="#111" stroke="#111" stroke-width="0.2" >Goblet−2</text>
<rect x="169" y="655" width="9" height="9.6" fill="#b04fa8" />
<text x="181.3" y="662.1" font-size="6.8" fill="#111" stroke="#111" stroke-width="0.2" >Ionocyte</text>
<rect x="169" y="665" width="9" height="9.6" fill="#8b1a22" />
<text x="181.3" y="672.1" font-size="6.8" fill="#111" stroke="#111" stroke-width="0.2" >Mature ciliated</text>
<rect x="169" y="675" width="9" height="9.6" fill="#a9a9a9" />
<text x="181.3" y="682.1" font-size="6.8" fill="#111" stroke="#111" stroke-width="0.2" >Neuroendocrine</text>
<rect x="169" y="685" width="9" height="9.6" fill="#33a02c" />
<text x="181.3" y="692.1" font-size="6.8" fill="#111" stroke="#111" stroke-width="0.2" >Proximal ciliated</text>
<text transform="translate(245.3 490.3) scale(0.93 1)" font-size="14.2" font-weight="bold">j</text>
<rect x="292" y="489.7" width="76.2" height="10.6" fill="#a0a0a0" />
<text x="330.1" y="499.3" font-size="9.4" text-anchor="middle" fill="#111" stroke="#111" stroke-width="0.2" >Goblet-1</text>
<path d="M306 523.4C306.6 523.7 307.8 524.7 309.2 525.3C310.6 525.9 313.5 526.3 314.7 526.8C315.9 527.2 316.8 527.7 316.3 528C315.8 528.3 314.5 528.5 311.7 528.6C308.9 528.7 302.5 528.7 299.7 528.6C296.9 528.5 295.6 528.3 295.1 528C294.6 527.7 295.5 527.2 296.7 526.8C297.9 526.3 300.8 525.9 302.2 525.3C303.6 524.7 304.8 523.7 305.4 523.4C306 523.1 305.4 523.1 306 523.4Z" fill="#b8002a" stroke="#111" stroke-width="0.7" stroke-linejoin="round"/>
<line x1="319.6" y1="528.6" x2="341.2" y2="528.6" stroke="#111" stroke-width="1.2" />
<path d="M354.5 519.4C354.6 520 354.3 522.1 354.8 523C355.3 523.9 356 524.3 357.3 525C358.6 525.7 361.5 526.5 362.8 527C364.1 527.5 365.7 527.9 365.3 528.2C364.9 528.5 363.1 528.6 360.3 528.7C357.5 528.8 351.1 528.8 348.3 528.7C345.5 528.6 343.7 528.5 343.3 528.2C342.9 527.9 344.5 527.5 345.8 527C347.1 526.5 350 525.7 351.3 525C352.6 524.3 353.3 523.9 353.8 523C354.3 522.1 354 520 354.1 519.4C354.2 518.8 354.4 518.8 354.5 519.4Z" fill="#f078a4" stroke="#111" stroke-width="0.7" stroke-linejoin="round"/>
<path d="M310.2 531.8 L313.2 533 L315.9 538 L317 543.5 L316.2 547 L310.7 551.5 L308.2 553 L303.2 553 L300.7 551.5 L295.2 547 L294.4 543.5 L295.5 538 L298.2 533 L301.2 531.8Z" fill="#b8002a" stroke="#111" stroke-width="0.7" stroke-linejoin="round"/>
<line x1="319.6" y1="549.6" x2="341.2" y2="549.6" stroke="#111" stroke-width="1.2" />
<path d="M357.5 530.7 L359.3 531.6 L359.9 535 L360.5 537.5 L363.9 540 L365.3 544 L364.7 547.5 L359.8 551 L356.8 552.3 L351.8 552.3 L348.8 551 L343.9 547.5 L343.3 544 L344.7 540 L348.1 537.5 L348.7 535 L349.3 531.6 L351.1 530.7Z" fill="#f078a4" stroke="#111" stroke-width="0.7" stroke-linejoin="round"/>
<path d="M307.3 565.4C307.9 565.8 307 566.9 307.5 567.5C308 568.1 308.7 568.5 310.2 569C311.7 569.5 316.6 570.1 316.7 570.6C316.8 571.1 312.2 571.6 310.7 572.2C309.2 572.8 308.4 573.5 307.9 574C307.4 574.5 308.2 574.9 307.5 575.1C306.8 575.3 304.6 575.3 303.9 575.1C303.2 574.9 304 574.5 303.5 574C303 573.5 302.2 572.8 300.7 572.2C299.2 571.6 294.6 571.1 294.7 570.6C294.8 570.1 299.7 569.5 301.2 569C302.7 568.5 303.4 568.1 303.9 567.5C304.4 566.9 303.5 565.8 304.1 565.4C304.7 565 306.7 565 307.3 565.4Z" fill="#b8002a" stroke="#111" stroke-width="0.7" stroke-linejoin="round"/>
<line x1="319.6" y1="568.8" x2="341.2" y2="568.8" stroke="#111" stroke-width="1.2" />
<path d="M357.5 564C358.5 564.2 357.1 564.9 356.9 565.5C356.7 566.1 355.9 566.9 356.3 567.5C356.7 568.1 357.8 568.5 359.3 569C360.8 569.5 365.3 570 365.3 570.3C365.3 570.6 362 570.9 359.3 571C356.6 571.1 352 571.1 349.3 571C346.6 570.9 343.3 570.6 343.3 570.3C343.3 570 347.8 569.5 349.3 569C350.8 568.5 351.9 568.1 352.3 567.5C352.7 566.9 351.9 566.1 351.7 565.5C351.5 564.9 350.1 564.2 351.1 564C352.1 563.8 356.5 563.8 357.5 564Z" fill="#f078a4" stroke="#111" stroke-width="0.7" stroke-linejoin="round"/>
<path d="M308.7 585 L311.2 586 L311.9 588.5 L314.2 590.3 L316.7 591.6 L313.7 593 L310.7 595.5 L308.2 597.4 L303.2 597.4 L300.7 595.5 L297.7 593 L294.7 591.6 L297.2 590.3 L299.5 588.5 L300.2 586 L302.7 585Z" fill="#b8002a" stroke="#111" stroke-width="0.7" stroke-linejoin="round"/>
<line x1="319.6" y1="590.9" x2="341.2" y2="590.9" stroke="#111" stroke-width="1.2" />
<path d="M354.5 583.8C354.7 584.2 354.8 585.4 355.5 586C356.2 586.6 356.9 587 358.5 587.4C360.1 587.8 365.3 587.9 365.3 588.2C365.3 588.5 360 588.6 358.5 589C357 589.4 356.6 589.8 356.1 590.3C355.6 590.8 355.8 591.5 355.3 591.7C354.8 591.9 353.8 591.9 353.3 591.7C352.8 591.5 353 590.8 352.5 590.3C352 589.8 351.6 589.4 350.1 589C348.6 588.6 343.3 588.5 343.3 588.2C343.3 587.9 348.5 587.8 350.1 587.4C351.7 587 352.4 586.6 353.1 586C353.8 585.4 353.9 584.2 354.1 583.8C354.3 583.4 354.3 583.4 354.5 583.8Z" fill="#f078a4" stroke="#111" stroke-width="0.7" stroke-linejoin="round"/>
<rect x="291.2" y="504.4" width="78.3" height="100.4" fill="none" stroke="#222" stroke-width="0.9" />
<line x1="291.2" y1="529.4" x2="369.5" y2="529.4" stroke="#222" stroke-width="0.9" />
<line x1="291.2" y1="554.9" x2="369.5" y2="554.9" stroke="#222" stroke-width="0.9" />
<line x1="291.2" y1="579.8" x2="369.5" y2="579.8" stroke="#222" stroke-width="0.9" />
<line x1="318" y1="504.4" x2="318" y2="604.8" stroke="#5a4040" stroke-width="0.7" stroke-dasharray="0.9 0.7"/>
<text x="289.3" y="522" font-size="8.0" text-anchor="end" font-style="italic" fill="#111" stroke="#111" stroke-width="0.2" >MUC2</text>
<text x="289.3" y="545.6" font-size="8.0" text-anchor="end" font-style="italic" fill="#111" stroke="#111" stroke-width="0.2" >MUC5AC</text>
<text x="289.3" y="570.1" font-size="8.0" text-anchor="end" font-style="italic" fill="#111" stroke="#111" stroke-width="0.2" >IGFBP5</text>
<text x="289.3" y="594.3" font-size="8.0" text-anchor="end" font-style="italic" fill="#111" stroke="#111" stroke-width="0.2" >IGFBP7</text>
<rect x="405.7" y="489.6" width="77.1" height="10.4" fill="#a0a0a0" />
<text x="444.2" y="499.1" font-size="9.4" text-anchor="middle" fill="#111" stroke="#111" stroke-width="0.2" >Goblet-2</text>
<path d="M421.2 505.7C422.2 506 422.6 506.4 423.4 507.5C424.1 508.6 424.8 510.2 425.7 512C426.6 513.8 427.7 516.2 428.5 518C429.3 519.8 430.1 521.6 430.5 523C430.9 524.4 431.2 525.6 430.8 526.5C430.4 527.4 431.6 528 428.2 528.3C424.8 528.6 413.6 528.6 410.2 528.3C406.8 528 408 527.4 407.6 526.5C407.2 525.6 407.5 524.4 407.9 523C408.3 521.6 409.1 519.8 409.9 518C410.7 516.2 411.8 513.8 412.7 512C413.6 510.2 414.2 508.6 415 507.5C415.8 506.4 416.2 506 417.2 505.7C418.2 505.4 420.2 505.4 421.2 505.7Z" fill="#b8002a" stroke="#111" stroke-width="0.7" stroke-linejoin="round"/>
<path d="M444.4 517C444.5 518 444.5 521.5 444.6 523C444.8 524.5 444.6 525.2 445.4 526C446.2 526.8 447.6 527.2 449.2 527.6C450.8 528 455 528.4 455.2 528.6C455.4 528.8 453 528.9 450.2 529C447.4 529.1 441 529.1 438.2 529C435.4 528.9 433 528.8 433.2 528.6C433.4 528.4 437.6 528 439.2 527.6C440.8 527.2 442.2 526.8 443 526C443.8 525.2 443.6 524.5 443.8 523C443.9 521.5 443.9 518 444 517C444.1 516 444.3 516 444.4 517Z" fill="#f28c1a" stroke="#111" stroke-width="0.7" stroke-linejoin="round"/>
<path d="M469.6 506.3C469.8 506.8 469.8 508.6 470 509.5C470.2 510.4 470.6 510.2 470.8 511.5C471 512.8 470.8 515.5 471 517C471.2 518.5 471.1 519.5 471.9 520.5C472.7 521.5 474.6 522.2 475.8 523C477 523.8 478.5 524.3 479.3 525C480.1 525.7 480.6 526.4 480.5 527C480.4 527.6 482.2 528.3 478.8 528.6C475.4 528.9 463.2 528.9 459.8 528.6C456.4 528.3 458.2 527.6 458.1 527C458 526.4 458.5 525.7 459.3 525C460.1 524.3 461.6 523.8 462.8 523C464 522.2 465.9 521.5 466.7 520.5C467.5 519.5 467.4 518.5 467.6 517C467.8 515.5 467.6 512.8 467.8 511.5C468 510.2 468.4 510.4 468.6 509.5C468.8 508.6 468.8 506.8 469 506.3C469.2 505.8 469.4 505.8 469.6 506.3Z" fill="#f078a4" stroke="#111" stroke-width="0.7" stroke-linejoin="round"/>
<path d="M408.2 554.5 L416.2 554.1 L418 553.6 L418.8 552.1 L419.2 550.5 L419.6 552.1 L420.4 553.6 L422.2 554.1 L430.2 554.5Z" fill="#b8002a" stroke="#111" stroke-width="0.5" stroke-linejoin="round"/>
<line x1="419.2" y1="533" x2="419.2" y2="554.5" stroke="#111" stroke-width="0.7" />
<line x1="408.2" y1="554.5" x2="430.2" y2="554.5" stroke="#111" stroke-width="1.3" />
<path d="M433.2 554.5 L441.2 554.1 L443 553.6 L443.8 552.1 L444.2 550.5 L444.6 552.1 L445.4 553.6 L447.2 554.1 L455.2 554.5Z" fill="#f28c1a" stroke="#111" stroke-width="0.5" stroke-linejoin="round"/>
<line x1="444.2" y1="545.8" x2="444.2" y2="554.5" stroke="#111" stroke-width="0.7" />
<line x1="433.2" y1="554.5" x2="455.2" y2="554.5" stroke="#111" stroke-width="1.3" />
<path d="M458.3 554.5 L466.3 554.1 L468.1 553.6 L468.9 552.1 L469.3 550.5 L469.7 552.1 L470.5 553.6 L472.3 554.1 L480.3 554.5Z" fill="#f078a4" stroke="#111" stroke-width="0.5" stroke-linejoin="round"/>
<line x1="469.3" y1="544.2" x2="469.3" y2="554.5" stroke="#111" stroke-width="0.7" />
<line x1="458.3" y1="554.5" x2="480.3" y2="554.5" stroke="#111" stroke-width="1.3" />
<path d="M408.2 579.7 L416.2 579.4 L418 578.8 L418.8 577.3 L419.2 575.7 L419.6 577.3 L420.4 578.8 L422.2 579.4 L430.2 579.7Z" fill="#b8002a" stroke="#111" stroke-width="0.5" stroke-linejoin="round"/>
<line x1="419.2" y1="567.3" x2="419.2" y2="579.7" stroke="#111" stroke-width="0.7" />
<line x1="408.2" y1="579.7" x2="430.2" y2="579.7" stroke="#111" stroke-width="1.3" />
<path d="M433.2 579.7 L441.2 579.4 L443 578.8 L443.8 577.3 L444.2 575.7 L444.6 577.3 L445.4 578.8 L447.2 579.4 L455.2 579.7Z" fill="#f28c1a" stroke="#111" stroke-width="0.5" stroke-linejoin="round"/>
<line x1="444.2" y1="574.7" x2="444.2" y2="579.7" stroke="#111" stroke-width="0.7" />
<line x1="433.2" y1="579.7" x2="455.2" y2="579.7" stroke="#111" stroke-width="1.3" />
<path d="M458.3 579.7 L466.3 579.4 L468.1 578.8 L468.9 577.3 L469.3 575.7 L469.7 577.3 L470.5 578.8 L472.3 579.4 L480.3 579.7Z" fill="#f078a4" stroke="#111" stroke-width="0.5" stroke-linejoin="round"/>
<line x1="469.3" y1="573" x2="469.3" y2="579.7" stroke="#111" stroke-width="0.7" />
<line x1="458.3" y1="579.7" x2="480.3" y2="579.7" stroke="#111" stroke-width="1.3" />
<path d="M408.2 604.8 L416.2 604.4 L418 603.9 L418.8 602.4 L419.2 600.8 L419.6 602.4 L420.4 603.9 L422.2 604.4 L430.2 604.8Z" fill="#b8002a" stroke="#111" stroke-width="0.5" stroke-linejoin="round"/>
<line x1="419.2" y1="592.4" x2="419.2" y2="604.8" stroke="#111" stroke-width="0.7" />
<line x1="408.2" y1="604.8" x2="430.2" y2="604.8" stroke="#111" stroke-width="1.3" />
<line x1="433.2" y1="604.8" x2="455.2" y2="604.8" stroke="#111" stroke-width="1.3" />
<line x1="458.3" y1="604.8" x2="480.3" y2="604.8" stroke="#111" stroke-width="1.3" />
<rect x="404.7" y="504.1" width="79.7" height="101.1" fill="none" stroke="#222" stroke-width="0.9" />
<line x1="404.7" y1="529.8" x2="484.4" y2="529.8" stroke="#222" stroke-width="0.9" />
<line x1="404.7" y1="554.9" x2="484.4" y2="554.9" stroke="#222" stroke-width="0.9" />
<line x1="404.7" y1="580.2" x2="484.4" y2="580.2" stroke="#222" stroke-width="0.9" />
<line x1="432.3" y1="504.1" x2="432.3" y2="605.2" stroke="#4a2020" stroke-width="0.7" stroke-dasharray="1.4 0.8"/>
<text x="402.6" y="523.4" font-size="8.0" text-anchor="end" font-style="italic" fill="#111" stroke="#111" stroke-width="0.2" >IDO1</text>
<text x="402.6" y="546.8" font-size="8.0" text-anchor="end" font-style="italic" fill="#111" stroke="#111" stroke-width="0.2" >CXCL9</text>
<text x="402.6" y="570" font-size="8.0" text-anchor="end" font-style="italic" fill="#111" stroke="#111" stroke-width="0.2" >CXCL10</text>
<text x="402.6" y="594.4" font-size="8.0" text-anchor="end" font-style="italic" fill="#111" stroke="#111" stroke-width="0.2" >IL19</text>
<rect x="512.3" y="489.6" width="77.4" height="10.4" fill="#a0a0a0" />
<text x="551" y="499.1" font-size="9.4" text-anchor="middle" fill="#111" stroke="#111" stroke-width="0.2" >Ionocyte</text>
<path d="M532.2 506.3C534.4 506.6 533.3 507.3 534.2 508C535.1 508.7 537.7 509.9 537.5 510.7C537.3 511.4 534.6 511.8 533.2 512.5C531.8 513.2 530.1 513.9 529.3 515C528.5 516.1 528.7 517.5 528.6 519C528.5 520.5 528.6 522.2 528.5 524C528.4 525.8 528.8 528.7 528.2 529.6C527.7 530.5 525.8 530.5 525.2 529.6C524.7 528.7 525 525.8 524.9 524C524.8 522.2 524.9 520.5 524.8 519C524.7 517.5 524.9 516.1 524.1 515C523.3 513.9 521.6 513.2 520.2 512.5C518.8 511.8 516.1 511.4 515.9 510.7C515.7 509.9 518.3 508.7 519.2 508C520.1 507.3 519 506.6 521.2 506.3C523.4 506 530 506 532.2 506.3Z" fill="#b8002a" stroke="#111" stroke-width="0.7" stroke-linejoin="round"/>
<path d="M551.3 511.4C551.5 511.8 551.4 513.1 551.6 514C551.8 514.9 551.6 515.6 552.4 516.5C553.2 517.4 554.8 518.5 556.3 519.5C557.8 520.5 561 521.5 561.3 522.3C561.6 523 559.1 523.5 558.3 524C557.5 524.5 556.5 524.9 556.6 525.5C556.7 526.1 558.1 526.8 558.8 527.5C559.5 528.2 563.8 529.2 560.8 529.6C557.8 530 543.8 530 540.8 529.6C537.8 529.2 542.1 528.2 542.8 527.5C543.5 526.8 544.9 526.1 545 525.5C545.1 524.9 544.1 524.5 543.3 524C542.5 523.5 540 523 540.3 522.3C540.6 521.5 543.8 520.5 545.3 519.5C546.8 518.5 548.4 517.4 549.2 516.5C550 515.6 549.8 514.9 550 514C550.2 513.1 550.1 511.8 550.3 511.4C550.5 511 551.1 511 551.3 511.4Z" fill="#f28c1a" stroke="#111" stroke-width="0.7" stroke-linejoin="round"/>
<path d="M577.7 509.9 L581.7 511.5 L584.2 515 L585.5 519 L585.7 522.5 L583.7 526 L581.2 528.6 L579.2 529.3 L571.2 529.3 L569.2 528.6 L566.7 526 L564.7 522.5 L564.9 519 L566.2 515 L568.7 511.5 L572.7 509.9Z" fill="#f078a4" stroke="#111" stroke-width="0.7" stroke-linejoin="round"/>
<path d="M532.5 533.3C534.8 533.8 533.8 534.9 534.7 536C535.6 537.1 537.5 538.9 537.7 539.9C538 540.9 536.8 541.3 536.2 542C535.6 542.7 534.9 543.5 534 544.2C533.1 545 531.6 545.8 530.7 546.5C529.9 547.2 529.2 547.7 528.9 548.6C528.6 549.5 528.7 550.7 528.7 552C528.8 553.3 530 555.8 529.2 556.6C528.5 557.4 525 557.4 524.2 556.6C523.5 555.8 524.7 553.3 524.7 552C524.8 550.7 524.8 549.5 524.5 548.6C524.2 547.7 523.6 547.2 522.7 546.5C521.9 545.8 520.3 545 519.4 544.2C518.5 543.5 517.8 542.7 517.2 542C516.6 541.3 515.5 540.9 515.7 539.9C516 538.9 517.8 537.1 518.7 536C519.6 534.9 518.6 533.8 520.9 533.3C523.2 532.8 530.2 532.8 532.5 533.3Z" fill="#b8002a" stroke="#111" stroke-width="0.7" stroke-linejoin="round"/>
<path d="M552.8 537.2C553.8 537.6 553.8 538.7 554.8 539.5C555.8 540.3 557.7 541.2 558.8 542C559.9 542.8 561.4 543.4 561.3 544.2C561.2 545 559.2 546 558.3 547C557.4 548 555.7 549 555.8 550C555.9 551 557.9 552 558.8 553C559.7 554 564.4 555.7 561.3 556.2C558.2 556.7 543.4 556.7 540.3 556.2C537.2 555.7 541.9 554 542.8 553C543.7 552 545.7 551 545.8 550C545.9 549 544.2 548 543.3 547C542.4 546 540.4 545 540.3 544.2C540.2 543.4 541.7 542.8 542.8 542C543.9 541.2 545.8 540.3 546.8 539.5C547.8 538.7 547.8 537.6 548.8 537.2C549.8 536.8 551.8 536.8 552.8 537.2Z" fill="#f28c1a" stroke="#111" stroke-width="0.7" stroke-linejoin="round"/>
<path d="M577.7 536.2 L581.7 538 L583.2 541.5 L585.7 545 L584.7 549 L584.2 552.5 L581.7 555 L578.7 556.2 L571.7 556.2 L568.7 555 L566.2 552.5 L565.7 549 L564.7 545 L567.2 541.5 L568.7 538 L572.7 536.2Z" fill="#f078a4" stroke="#111" stroke-width="0.7" stroke-linejoin="round"/>
<rect x="512.1" y="504.9" width="77.8" height="53.2" fill="none" stroke="#222" stroke-width="0.9" />
<line x1="512.1" y1="531.4" x2="589.9" y2="531.4" stroke="#222" stroke-width="0.9" />
<line x1="538.2" y1="504.9" x2="538.2" y2="558.1" stroke="#4a2020" stroke-width="0.7" stroke-dasharray="1.6 0.9"/>
<text x="510" y="521.1" font-size="8.0" text-anchor="end" font-style="italic" fill="#111" stroke="#111" stroke-width="0.2" >CFTR</text>
<text x="510" y="550" font-size="8.0" text-anchor="end" font-style="italic" fill="#111" stroke="#111" stroke-width="0.2" >IGF1</text>
<text x="532.3" y="562.6" font-size="8.25" text-anchor="end" fill="#111" stroke="#111" stroke-width="0.2" transform="rotate(-45 532.3 562.6)" >EGPA</text>
<text x="555.8" y="562.6" font-size="8.25" text-anchor="end" fill="#111" stroke="#111" stroke-width="0.2" transform="rotate(-45 555.8 562.6)" >Cs-remission</text>
<text x="577.6" y="562.6" font-size="8.25" text-anchor="end" fill="#111" stroke="#111" stroke-width="0.2" transform="rotate(-45 577.6 562.6)" >Cs-relapse</text>
<text transform="translate(280.5 622) scale(0.93 1)" font-size="14.2" font-weight="bold">k</text>
<text x="353.8" y="620" font-size="9.5" text-anchor="middle" fill="#111" stroke="#111" stroke-width="0.2" >EGPA</text>
<text x="434" y="620" font-size="9.5" text-anchor="middle" fill="#111" stroke="#111" stroke-width="0.2" >Cs-remission</text>
<text x="518.5" y="620" font-size="9.5" text-anchor="middle" fill="#111" stroke="#111" stroke-width="0.2" >Cs-relapse</text>
<rect x="299.6" y="633.2" width="8.3" height="53.8" fill="#2a1a14" />
<text x="306.6" y="684.4" font-size="8.4" fill="#2a9fe0" stroke="#2a9fe0" stroke-width="0.2" transform="rotate(-90 306.6 684.4)" textLength="16.2" lengthAdjust="spacingAndGlyphs">DAPI</text>
<text x="306.6" y="663.2" font-size="8.4" fill="#e8e030" stroke="#e8e030" stroke-width="0.2" transform="rotate(-90 306.6 663.2)" textLength="28.5" lengthAdjust="spacingAndGlyphs">MUC5AC</text>
<rect x="316" y="623.6" width="73.6" height="73.2" fill="#020208" />
<clipPath id="cp16"><rect x="316" y="623.6" width="73.6" height="73.2"/></clipPath>
<g clip-path="url(#cp16)">
<g filter="url(#b1)">
<path d="M367.5 666.1h0m-10.9 1.1h0m7.1 9.3h0m0.2 -5.4h0m-45.5 -27.7h0m42.1 30.8h0m-44.4 -35h0m6 8h0m9.3 -2.5h0m-13.8 10h0m5 -10.5h0m16.8 8.9h0m-22.1 -3.3h0m1 -13.1h0m44.1 37.8h0m-24.5 -21.2h0m-5.3 5.9h0m-0.1 -12.2h0m18.7 16.6h0m-9.8 -14.8h0m11 17.5h0m5.8 -5h0m-48.2 -18.6h0m57.5 31.7h0m-32.9 -26.1h0m25.2 19.2h0m-35.9 -19.1h0m10.7 5.4h0m26.8 19.7h0m6.3 9.5h0m5.9 -10.3h0m-7.2 2.3h0m2 15.2h0m-17.6 -35.3h0m13.6 18.8h0m-33.7 -30.4h0m-10.1 -7h0m-8.5 1.7h0m0.4 3.3h0m19.9 7h0m15 6.3h0m-7.2 -7.5h0m10.8 13.3h0m-30.7 -24.9h0m-12.3 -1.4h0m33.9 15.3h0m24.3 19.8h0m-45.8 -29.5h0m39.1 27.8h0m-27.3 -27.2h0m13.3 11.3h0m7.9 15.2h0m6.6 4h0m-13.6 -12.5h0m14 8.1h0m9.1 17.8h0m-10.3 -11h0m-23 -14.2h0m-1.2 -2.6h0m11.5 2.4h0m-19.1 -18.6h0m-8 6.4h0m31.8 20h0m15.6 12h0m-4.1 -10.2h0m-19.2 -10.8h0m23.4 11.9h0m-25 -30.5h0m-26.1 -4.6h0m36.5 26h0m2.6 -1.6h0m13.5 25.2h0m-15.4 -26.7h0m-17.3 -19.2h0m-12.5 -2h0m28.4 25h0m4.8 3.6h0m-11.1 -8.9h0m-18.1 -25.9h0m21.8 25.2h0m-25.9 -14.3h0m41 47h0m-18.2 -32.9h0m-14.9 -15.2h0m17.3 24.6h0m4.2 9.3h0m-33.2 -29.8h0m38.7 35h0m1.7 -12.5h0m12.1 -0.2h0m-11.3 10.3h0m-40.3 -37.4h0m-5.5 5.5h0m52.1 31.8h0m6.1 -2h0m-18.5 -7.6h0m17.9 1.9h0m-4.8 14h0m-24.6 -28.7h0m-9.2 -8.5h0m5.2 10.7h0m22.2 18.5h0m-23.3 -24.7h0m20.3 18.2h0m-0.2 10.3h0m15 8.6h0m-21.7 -20.8h0m-11 -20.5h0m0.7 8.2h0m16.4 6.6h0m-32.3 -20.7h0m-12.3 -11.6h0m22.2 26.3h0m37.1 22.1h0m-11.4 -10.6h0m4.1 17h0m-40.5 -57.3h0m2.4 19.6h0m-4.2 0.9h0m44.1 35.2h0m-38.6 -34.6h0m19.3 13.4h0m19.1 23h0m-4.4 -8.3h0m-11 -3.4h0m-20.3 -14.4h0m37 15.8h0m-8.3 0.1h0m-8 -14.4h0m11.2 26.9h0m-20.2 -33.5h0m16.7 21.9h0m-21 -35.8h0m-19.8 0.5h0m42.6 29.9h0m-6.9 -1.2h0m-17.5 -8.8h0m34.9 26.4h0m-55.1 -54.7h0m49.8 47h0m-32.7 -26.6h0m25.3 25.1h0m1.6 0h0m-13.4 -9.5h0m-4.6 -18.2h0m-9.5 -1.7h0m30.8 19h0m-17.6 -13.6h0m10.7 13h0m-30.3 -26.6h0m14.3 15.7h0m17.3 7.7h0m-34.5 -14.3h0m32.3 17.2h0m-19.9 -6h0m14.9 4.7h0m-2.5 -4.7h0m-0.4 -5.6h0m-11.5 -5.8h0m-3.5 -0.8h0m-6.5 -5.4h0m0.9 3.2h0m-0.3 -3.7h0m5.7 13.3h0m-2.6 -6.5h0m-12.7 -2.4h0m16.4 -1.1h0m-8.6 -7.4h0m20.2 11.9h0m-13.1 1.3h0" stroke="#2222d8" stroke-width="2.6" stroke-linecap="round" fill="none" opacity="0.95" />
<path d="M337.8 677.8h0m-3.6 7.7h0m-13.5 -14h0m-2.2 -0.7h0m19.7 9.9h0m14.7 5.1h0m-3 -11.2h0m-10.9 0.2h0m3.2 -0.2h0m3.2 16.6h0m-11.9 -14h0m20 6.9h0m1.9 13.6h0m-11.9 -12.7h0m-11 -17.2h0m-9 4h0m-1.5 -2.5h0m8.4 3.2h0m16.8 23.3h0m-13.1 -14.2h0m3.7 -8h0m-21.2 -6.9h0m43.6 26.3h0m-5.8 -4.5h0m-17.9 -17.9h0m15.5 18.1h0m-7.2 -1.1h0m6.6 3.9h0" stroke="#2222d8" stroke-width="1.8" stroke-linecap="round" fill="none" opacity="0.85" />
<path d="M333 676.8h0m21.8 -6.5h0m-26.5 1.5h0m13.6 18.5h0m-18.7 -20h0m11.2 14.7h0m18 -15.4h0m-32.1 4.2h0m4.4 1.4h0m20 10.1h0" stroke="#2222d8" stroke-width="1.6" stroke-linecap="round" fill="none" opacity="0.8" />
<path d="M333.4 635.5h0m15.2 9.9h0m-10.1 3.8h0m30.5 17.2h0m-14.1 -18h0m6.1 3.7h0m-38.1 -19.8h0m34.3 24.2h0m-0.3 -1.4h0m-13.2 -14.9h0m-8 -1.6h0m23.2 17.8h0m-20.3 -20.2h0m-20.8 -7.9h0m42.9 28.3h0m2.9 12h0m-13.5 -21.8h0m-1.1 3.4h0m-9.4 -9.5h0m10.2 12.2h0m-30 -23.6h0m36.9 20.5h0m-31.3 -17.7h0m24.3 18h0m-22.7 -20.7h0m29.7 24.2h0m-7.1 -7.7h0m-29 -12h0m20.7 13.1h0m1.2 -1h0m16.3 7.8h0m-27.7 -18h0m-5.7 -5.1h0m33.9 24.3h0m1.1 2.4h0m-26.3 -15.7h0m21.6 8.7h0m-5 -4.6h0m12.4 17.2h0m-15.3 -14.6h0m13.9 12.4h0m-34.8 -25.7h0m1.9 1.3h0m4.9 4.7h0m2.9 -2.3h0m-21.1 -9.1h0m28.7 13.5h0m10.6 13.8h0m-21.2 -17.1h0m34 28.7h0m-18.9 -18.8h0m-5.3 0.6h0m5.9 0.9h0m-31.9 -17.8h0m10.3 -1.2h0m25.6 18.2h0m-26.3 -15h0m22.2 16.2h0m-22.2 -17h0m-2.9 -5.1h0m29.3 24.7h0m9.6 9.5h0m-14.2 -18.5h0m10.4 10.9h0m0.1 3h0m-35.5 -27.6h0m30 20.6h0m-3.8 -4.9h0m7.3 -1h0m-2.2 7.8h0m-4.2 -9.2h0m-6.6 5.9h0m-11.7 -11.4h0m-14.4 -11.6h0m43.2 34.6h0m-21.8 -18.1h0m16.6 12.5h0m4.2 4.6h0m-24.8 -17.3h0m24.7 16.6h0m-40.3 -33.2h0m27.5 19.2h0m12.6 10.5h0m-38.9 -20.8h0m26.9 10.8h0" stroke="#f0e820" stroke-width="4" stroke-linecap="round" fill="none" opacity="0.95" />
<path d="M356.1 656h0m-32.3 -22.7h0m7.8 5.8h0m32.5 24.7h0m-14.7 -13.7h0m-10.9 -8.3h0m24.6 16.2h0m-41 -24.9h0m37.7 27.6h0m-31.7 -26.1h0m11.9 7.4h0m24.4 17.1h0m-36.9 -29.3h0m18.9 14.7h0m14.8 15.3h0m0.1 -2.8h0m0.1 1.3h0m-13.6 -11.8h0m9.3 4.7h0m-21.3 -11.1h0m28.2 19.3h0m-6 -2.6h0m-0.5 -2.5h0m-34.6 -22.2h0m12.6 7.2h0m12.1 5.4h0m14 14.5h0m-7.4 -5.2h0m12.4 10.5h0m-21.7 -22.1h0" stroke="#8a8420" stroke-width="2" stroke-linecap="round" fill="none" opacity="0.8" />
<path d="M381.5 671.4h0m-6.2 3.8h0m5.2 5.1h0m0 -10.1h0m0.2 -0.1h0m2.7 13.9h0m4.6 -15.1h0m1.3 -3.7h0m-9.4 13.7h0m10.8 -12.6h0m-13.7 15.7h0m11 -10.6h0m-10.3 9.9h0m-0.8 -4.1h0m12.7 -7.3h0m-5.5 2.7h0m1.3 -1.4h0m-6.2 4.7h0m-0.5 6.1h0m6.1 -4.7h0m-7.8 8.3h0m4.7 -9.2h0m-4.1 2.4h0m0.8 2.9h0m3.4 -10.9h0m1.1 1h0m-2.6 2.9h0m1.2 3.7h0m2.9 -8.6h0m-2.3 6.4h0m9 -5.9h0m0.4 -3.4h0m-9.1 13.3h0m0.2 0.4h0m2 -11h0" stroke="#2222d8" stroke-width="2.6" stroke-linecap="round" fill="none" opacity="0.95" />
<path d="M387.4 670.1h0m-3 5.8h0m-0.1 7.1h0m5 -16.2h0m-0.3 -3h0m-3 3.9h0m2.3 -2.8h0m-1.6 -0.7h0m-2.6 14.7h0m2.6 -6.7h0m-2.8 4.7h0m4.8 -3.2h0m-0.9 -4.2h0m-2.7 9.8h0m3.5 -14.6h0m-4.9 19.7h0m0.3 -11.7h0m-1.7 4.3h0" stroke="#f0e820" stroke-width="3" stroke-linecap="round" fill="none" opacity="0.95" />
</g>
</g>
<line x1="370" y1="694" x2="387" y2="694" stroke="#bbb" stroke-width="1.3" />
<rect x="398.2" y="623.6" width="73.6" height="73.2" fill="#020208" />
<clipPath id="cp17"><rect x="398.2" y="623.6" width="73.6" height="73.2"/></clipPath>
<g clip-path="url(#cp17)">
<g filter="url(#b1)">
<line x1="427.1" y1="643.6" x2="436.7" y2="652.1" stroke="#1818a8" stroke-width="1.1" opacity="0.7"/>
<line x1="404.2" y1="666.6" x2="417.5" y2="678.3" stroke="#1818a8" stroke-width="1" opacity="0.7"/>
<line x1="426.9" y1="673.1" x2="434.6" y2="679.8" stroke="#1818a8" stroke-width="1" opacity="0.7"/>
<line x1="410.4" y1="657.4" x2="420.3" y2="666.1" stroke="#1818a8" stroke-width="0.8" opacity="0.7"/>
<line x1="419.4" y1="655.6" x2="427.9" y2="663.1" stroke="#1818a8" stroke-width="0.7" opacity="0.7"/>
<line x1="404.6" y1="634.3" x2="416" y2="644.3" stroke="#1818a8" stroke-width="0.7" opacity="0.7"/>
<line x1="395.4" y1="627.7" x2="402.5" y2="633.9" stroke="#1818a8" stroke-width="1" opacity="0.7"/>
<line x1="397.1" y1="650.7" x2="411.3" y2="663.1" stroke="#1818a8" stroke-width="0.9" opacity="0.7"/>
<line x1="398.9" y1="675.6" x2="414" y2="688.9" stroke="#1818a8" stroke-width="0.6" opacity="0.7"/>
<line x1="402.1" y1="654" x2="416.4" y2="666.7" stroke="#1818a8" stroke-width="0.8" opacity="0.7"/>
<line x1="418.3" y1="638.7" x2="431.8" y2="650.6" stroke="#1818a8" stroke-width="0.8" opacity="0.7"/>
<line x1="404.9" y1="669.2" x2="419.7" y2="682.2" stroke="#1818a8" stroke-width="1.1" opacity="0.7"/>
<line x1="413.1" y1="648.8" x2="426.5" y2="660.6" stroke="#1818a8" stroke-width="1" opacity="0.7"/>
<line x1="422.3" y1="671.7" x2="429.6" y2="678.1" stroke="#1818a8" stroke-width="0.8" opacity="0.7"/>
<line x1="416.6" y1="637.5" x2="424.6" y2="644.4" stroke="#1818a8" stroke-width="0.6" opacity="0.7"/>
<line x1="413.7" y1="680.1" x2="429.9" y2="694.3" stroke="#1818a8" stroke-width="0.7" opacity="0.7"/>
<line x1="417.3" y1="648.8" x2="429.9" y2="659.9" stroke="#1818a8" stroke-width="0.8" opacity="0.7"/>
<line x1="425.9" y1="682.9" x2="432.4" y2="688.7" stroke="#1818a8" stroke-width="1" opacity="0.7"/>
<line x1="397.3" y1="626.1" x2="406.3" y2="634.1" stroke="#1818a8" stroke-width="1" opacity="0.7"/>
<line x1="428" y1="630.8" x2="437.4" y2="639.1" stroke="#1818a8" stroke-width="0.6" opacity="0.7"/>
<line x1="412.2" y1="652.6" x2="422.1" y2="661.3" stroke="#1818a8" stroke-width="0.8" opacity="0.7"/>
<line x1="421.2" y1="673.9" x2="430.2" y2="681.8" stroke="#1818a8" stroke-width="0.8" opacity="0.7"/>
<line x1="414.8" y1="669.5" x2="431.1" y2="683.9" stroke="#1818a8" stroke-width="0.8" opacity="0.7"/>
<line x1="417.5" y1="656.4" x2="431.9" y2="669" stroke="#1818a8" stroke-width="0.7" opacity="0.7"/>
<line x1="399.3" y1="630" x2="415.1" y2="643.9" stroke="#1818a8" stroke-width="0.8" opacity="0.7"/>
<line x1="410.3" y1="630.8" x2="419.7" y2="639.1" stroke="#1818a8" stroke-width="0.6" opacity="0.7"/>
<path d="M456.2 688.8h0m-19.4 -39.8h0m5.1 4.6h0m2.6 1.4h0m-7.3 -6h0m7.9 13h0m6.8 13.9h0m3.9 6.1h0m-22.9 -35.3h0m-17.5 -22.8h0m4.8 6.2h0m35 51.7h0m-32.3 -45.1h0m22.2 17.4h0m0.9 9.9h0m-26 -30.8h0m28.5 30.2h0m5 17.6h0m4 6.1h0m-9.2 -18h0m-6.3 -13.9h0m-15.4 -21.3h0m0.5 2.4h0m12.7 12.1h0m-23.7 -19.9h0m8.7 5.9h0m31.7 43.2h0m-25.6 -41.7h0m2.9 13.3h0m-0.5 -6.3h0m22.5 32.1h0m-9.2 -19h0m12.3 38.6h0m-12.6 -27.3h0m6.9 11.5h0m2.7 14.9h0m-17.2 -42.1h0m-8.7 -10.3h0m25 35.1h0m-5.4 -16.6h0m-0.9 5.3h0m-13.9 -23.6h0m4 2.9h0m1.9 9.4h0m-17.6 -20.4h0m-1 0h0m33 41.2h0m-37.4 -44.9h0m16.9 15.1h0m11.4 15.6h0m-1 4.4h0m10.3 20.2h0m-26.5 -40.9h0m3.9 -3.8h0m12.9 11.5h0m10.2 30.9h0m-24.2 -40.6h0m-17.7 -15.3h0m27 21.5h0m4.2 8.3h0m-28.3 -25.9h0m32.3 34.1h0m-33.1 -40.3h0m41.3 56h0m-41 -49.6h0m30.4 32.5h0m-31.3 -35.3h0m22.8 19.1h0m-15.5 -11.7h0m17.2 16.4h0m13.6 24.1h0m-29.4 -40h0m30.6 56.2h0m-34.1 -62h0m8.1 11.4h0m25.8 35.6h0m-4.6 -8.4h0m-23.9 -34.4h0m28.5 36.9h0m-0.1 9.2h0m-7.4 -19.5h0m12.6 28.8h0m-5.7 -16.4h0m-39.5 -44.8h0m-2.9 -4.5h0m15.5 10.5h0m26.8 43.1h0m-36.1 -48.4h0m8.9 7.6h0m5.1 4.5h0m5.5 4.5h0m-12.3 -11h0m34.8 49.4h0m-6.5 -8.4h0m-32.4 -46.5h0m34.1 59.8h0m2.2 -1.2h0m-8 -21.4h0m-2.9 -1.6h0m9.9 28.7h0m-40.1 -64.6h0m25.2 21.2h0m6.1 15.9h0m-32.4 -41.1h0m34.6 44h0m-27.1 -38.6h0m5.2 8.8h0m12.9 11.9h0m15.2 36.2h0m-10.3 -27.1h0" stroke="#2222d8" stroke-width="2.2" stroke-linecap="round" fill="none" opacity="0.95" />
<path d="M400.7 669.5h0m2.8 18.4h0m10.2 3.1h0m-5.9 -8.5h0m26.7 11.3h0m-7.2 -18.3h0m-25.1 6.4h0m0.4 -5.6h0m5.7 -4.7h0m-8.6 -3.2h0m5.5 4.3h0m5.7 22.9h0" stroke="#2222d8" stroke-width="1.6" stroke-linecap="round" fill="none" opacity="0.8" />
<path d="M448.6 652.3h0m3.8 -2.3h0m-10.8 -12.5h0m7.9 17.3h0m-22.7 -27.3h0m6.9 8.6h0m-4.2 -10.5h0m-0.3 9h0m36.8 49.9h0m1.8 4.2h0m-11.6 -26.4h0m-15.8 -21.9h0m18.3 29.5h0m-5.4 -11.4h0m-2.3 -4.8h0m13.2 18.8h0m-0.8 12.5h0m-11.7 -26.4h0m6.8 9h0m-29.1 -36.4h0m41.2 57.5h0m-25.9 -44.9h0m14.9 26.8h0m-0.3 3.5h0m-2 -1.1h0m-25.9 -40.4h0m24.6 30.1h0m-4.2 -9.2h0m-7.4 -14.8h0m-1 1.5h0m0.8 13.7h0m20 36.4h0m-22 -46.3h0m4.7 8.4h0m-1.1 -3.2h0m5.2 5.5h0m10.2 23.1h0m3.7 2.7h0m-2.1 -1.3h0m-17.8 -30.4h0m20 32.8h0m-5.8 -14.7h0m-23.5 -32.3h0m31.4 57.6h0m-2.4 -9.2h0m-12.5 -29.7h0m-29.6 -27.1h0m50.4 68.3h0m-15.7 -26.1h0m1.3 5.7h0m6.9 10h0m-4.9 2.2h0m-0.5 -18.5h0m-15.3 -31.4h0m-3.6 3.6h0m18.2 24.7h0m2.5 10.6h0m-19.1 -33.9h0m7.6 11.8h0m-14.2 -15.1h0m32.1 54.8h0m-25.2 -53.5h0m-2.8 7.8h0m-7.8 -14.4h0m12 17.6h0m8.1 7h0m0.6 -1.4h0m13.4 37.4h0m-17.9 -44.7h0m-25.2 -18.9h0m40.9 53.3h0m2.9 10.7h0m-10.5 -29.9h0m-23.3 -33.1h0m2.1 3.6h0m-0.3 3.9h0m34 43.5h0m-42.7 -53.2h0m8.3 8.8h0m3.8 7.8h0m1.3 -5h0m-8.4 -11.3h0m35.1 63.3h0m-2.8 -3.8h0m-32.4 -60.2h0m-5.8 -0.4h0m36.6 44.9h0m0.2 0.3h0m-40.9 -44.4h0m45.7 61.7h0" stroke="#f0e820" stroke-width="4.8" stroke-linecap="round" fill="none" opacity="0.97" />
<path d="M442.2 635.6h0m3 2h0" stroke="#f0e820" stroke-width="6.4" stroke-linecap="round" fill="none" opacity="0.97" />
</g>
</g>
<line x1="452.2" y1="694" x2="469.2" y2="694" stroke="#bbb" stroke-width="1.3" />
<rect x="482.6" y="623.7" width="73.6" height="73.2" fill="#030312" />
<clipPath id="cp18"><rect x="482.6" y="623.7" width="73.6" height="73.2"/></clipPath>
<g clip-path="url(#cp18)">
<g filter="url(#b1)">
<path d="M488.5 633.9h0m60.7 5.3h0m-55 1.1h0m-10.5 1.7h0m40.2 7h0m-2.9 -4.6h0m29.7 -5.8h0m-33.2 6.2h0m11.4 -6h0m-0.4 6.5h0m15.1 -7.9h0m5.9 -0.7h0m-50.8 4.7h0m15.6 7.1h0m29.5 -9.5h0m-47.9 6.1h0m-2.6 -2.7h0m55.9 -7.9h0m-3.1 0.6h0m-61 8.1h0m31.1 4.8h0m-25.8 -2.1h0m62.9 0.2h0m-74.5 -4.8h0m78 -1.2h0m-24.4 -4.1h0m30.1 0.3h0m-50.7 0.7h0m-18.1 9.4h0m7.3 -0.2h0m22.3 -8.6h0m32 -1.8h0m-47.5 8.8h0m9.6 -6.1h0m18.4 0.8h0m-51.1 7.5h0m10.9 -3.9h0m46.2 -4.2h0m-31.3 5.6h0m-21.6 0.4h0m45.6 -2.5h0m-40.4 -1.7h0m31.2 0h0m26.2 -0.1h0m-7.4 3.6h0m-55.6 -2.4h0m24.9 5.4h0m29.1 -5.4h0m5.6 -5.2h0m-71 10h0m51.7 -4.2h0m-44.8 0.5h0m24.2 1.3h0m15.1 -2.2h0m-36.7 3.6h0m54.7 3.2h0m-66.1 -3.7h0m35.3 -1.1h0m-8.4 -3.8h0m35.9 -1.5h0m-50.9 8.6h0m63.1 -11.2h0m-40.9 8.5h0m24.5 -6.2h0m-46.3 2.4h0m66.7 -4.8h0m-61.3 5.3h0m39.2 4.7h0m-24.9 0.5h0m-27 -0.3h0m68.5 -12.2h0m9.2 4.7h0m-40.3 3.9h0m27.1 -5.8h0m-51.3 7.7h0m38.6 -0.2h0m-18.4 4.8h0m26.8 0.2h0m-48.7 -3.5h0m53.5 -6h0m-15.3 0.4h0m20.7 -1.7h0m-17.6 2.9h0m-7.3 1h0m23.4 2.9h0m3 -6.4h0m1.3 -0.4h0m-28.7 2.8h0m5.7 4.3h0m-25.8 3.3h0m-18.1 -1.5h0m46.4 -10.1h0m-30.5 9.4h0m-9.7 3.3h0m-1.7 -1.3h0m36.3 0.1h0m-13.1 -5.5h0m18.4 -1.5h0m-25.4 8.1h0m28 -10h0m-20.4 2h0m10.9 5.8h0m9.9 -2.7h0m-31.9 -6.9h0m-14.1 -1.3h0m-3.8 8.3h0m64.7 -7.7h0m-58.2 4.3h0m29.6 7h0m-34.6 1.1h0m44.4 -6.5h0m-5.5 0.2h0m-17.4 6.9h0m44.2 -7.5h0m-5.7 -4.8h0m-2.9 5.7h0m-42.2 5.4h0m-11.6 -1.5h0m60.7 -14h0m-2.9 10.4h0m-49.1 12.3h0m45.7 -10.2h0m3.7 0.5h0m-51.5 -7.1h0m-0.5 4.6h0m-4.1 4.8h0m19.4 -0.2h0m30.3 -10.5h0m-59.5 3.7h0m1 4.7h0m14.4 1.5h0m15.6 -3.4h0m-4.7 -5.4h0m48.6 -1.8h0m-53.4 8h0m-11.7 7.8h0m30.3 -14h0m-39.8 13.8h0m-0.2 -6.5h0m52.4 -7.4h0m20.8 -1.7h0m-12.3 4.6h0m-64.7 6.2h0m51.7 -7.7h0m-23.3 5.2h0m-2.1 -0.8h0m-24.7 1h0m69.1 -14.4h0m-60.3 14.2h0m6.6 5.6h0m10.6 -3.5h0m-15.7 -0.4h0m50.6 -1.7h0m-39.3 -6.4h0m34 -1.2h0m-2.8 13.7h0m-49.9 -7.2h0m58.5 0.7h0m-37.8 -4.1h0m-5.1 5.1h0m25.1 -3.4h0m-11.7 -1.2h0m13.8 0.8h0m0.7 -5.3h0m13.6 -1.4h0m-39.6 9.4h0m-15.5 -1.9h0m48.4 -0.8h0m-53 6.3h0m27.1 -0.3h0m28.7 -3h0m-11 -2.8h0m-44.7 -1.7h0m55.6 0h0m3.5 -2.5h0m1.6 -6h0m-46.6 9.4h0m53.3 3.1h0m-9.8 -3.6h0m-57.1 -0.2h0m49.3 -2.2h0m-52 1.2h0m3 4.8h0m32.3 -6.2h0m17.7 6.3h0m-1.6 -5.8h0m-34.9 5.2h0m34.3 -2.6h0m16.2 -3.6h0m-36.1 7.1h0m28.5 -4.2h0m-22.5 -0.4h0m13.7 -0.5h0m22.7 -3.6h0m-72.1 8.1h0m24.7 -0.8h0m4.9 1.3h0m21.1 -6.1h0m-37.3 6.5h0m11 -4.8h0" stroke="#2222d8" stroke-width="2.4" stroke-linecap="round" fill="none" opacity="0.95" />
<path d="M524.3 655.9h0m-17.2 0.4h0m47.7 1.3h0m-68.6 6h0m27.7 -8.8h0m9.4 12.6h0m-16.2 -8.1h0m43.2 5.1h0m-6.7 2.1h0m-47.9 -5.9h0m9.5 -1h0m34.4 7.5h0m-26.1 -11.2h0m2.8 0.3h0m-29.2 3.3h0m64 7.8h0m-8.4 -10.3h0m2 3.9h0m-21.9 -3.2h0m-27.6 3.2h0m51.8 1.1h0m-45.1 -4.9h0m30.3 8.8h0m19.4 -9.1h0m-64.4 4h0m12.4 -3.7h0m14 8.4h0m4.8 -9h0" stroke="#2222d8" stroke-width="1.6" stroke-linecap="round" fill="none" opacity="0.75" />
<path d="M497.2 678.7h0m31.8 0.5h0m-31 5.6h0m25.7 10.4h0m18.7 -4h0m-2.9 -8h0m-32.7 12h0m40.5 -4.3h0m-47.3 -11.7h0m20.5 6.8h0m-11.8 2.8h0m-6.9 -8.8h0" stroke="#2a2aa0" stroke-width="1.4" stroke-linecap="round" fill="none" opacity="0.6" />
<path d="M484.5 632.4h0m21.4 5.2h0m-12.5 -5.1h0m-4.4 -2.7h0m2.5 5.5h0m17.1 -1.6h0m13 1.9h0m-4.3 -0.2h0m-25.7 -2.6h0m36.1 1.1h0m13.5 1.8h0m-24.1 -4h0m-33.5 -1.5h0m63.8 -0.2h0m-4.3 1.9h0m-21 -0.3h0m2.1 3.9h0m20.1 -3.6h0m4 -5.5h0m-56.2 2.4h0m18.1 7.8h0m32.5 -7h0m-20.3 5.3h0m-28.6 0.5h0m57.5 -3.9h0m-50.4 3.3h0m24.2 0.8h0m16.1 -4.7h0m-36.7 5.4h0m20.9 -6h0m16.7 2.5h0m-35.5 2.8h0m1.3 0.9h0m40.7 -6h0m-13.6 0.1h0m-13.2 2.9h0m22 -1.9h0m-51.3 0.4h0m14.7 5.6h0m15.3 -1.5h0m22.1 -4h0m-57.1 -1.5h0m-5.1 2.4h0m8 2.2h0m23.2 3.8h0m-24.5 -8.8h0m-3.8 0.9h0m10.1 5.1h0m55.1 -1.7h0m-13.7 2.7h0m-4.4 -1.3h0m-8.6 2.2h0m-13.4 -2.8h0m1.3 -0.6h0m33.4 -2.4h0m-61.3 -0.5h0m36.8 3.5h0m-22 -0.9h0m-7.2 -1.5h0m56.1 -2.1h0m3 0.5h0m-34.3 -0.1h0m-15.5 4.5h0m44.6 -7h0m-51.6 2.1h0m61.7 -1h0m-36.8 2.6h0m-8.8 0.6h0m8.3 2.7h0m18 -4.5h0" stroke="#f0e820" stroke-width="4" stroke-linecap="round" fill="none" opacity="0.95" />
<path d="M500.6 631.7h0m6 2h0m43 -4h0" stroke="#f0e820" stroke-width="6.8" stroke-linecap="round" fill="none" opacity="0.97" />
<path d="M480.2 633.6h0m72.5 -4.8h0m-24.5 8.9h0m10.7 -2.6h0m-24.9 0h0m11.6 -0.7h0m22.2 -2.4h0m-6.2 3.1h0m-15.3 5.9h0m-4.1 -0.9h0m-30.8 -6.5h0m1.8 1.2h0m28.3 -3.4h0m-4.8 3.4h0m29.6 -9.2h0m-47.8 8h0m6.4 2.1h0m32.1 -6.2h0m-39.4 1.9h0m-10.9 1.3h0m32.7 -0.4h0m-17.1 0h0m-14.2 4h0m42.3 0.6h0m24.3 0.3h0m-44.1 4.2h0m42.2 -12.9h0m-12.9 5.3h0m-49.9 -0.2h0m1.7 -0.7h0" stroke="#8a8420" stroke-width="2" stroke-linecap="round" fill="none" opacity="0.8" />
<rect x="522.6" y="673.7" width="36" height="24" fill="#101030" opacity="0.4"/>
</g>
</g>
<line x1="536.6" y1="694.1" x2="553.6" y2="694.1" stroke="#bbb" stroke-width="1.3" />
<text x="562" y="694" font-size="6.6" fill="#111" stroke="#111" stroke-width="0.2" >100μm</text>
<line x1="608.7" y1="585.4" x2="608.7" y2="664.2" stroke="#111" stroke-width="0.8" />
<line x1="608.3" y1="664.2" x2="661.5" y2="664.2" stroke="#111" stroke-width="0.8" />
<line x1="606.5" y1="664.2" x2="608.7" y2="664.2" stroke="#111" stroke-width="0.7" />
<text x="605.7" y="666.5" font-size="6.4" text-anchor="end" fill="#111" stroke="#111" stroke-width="0.2" >0</text>
<line x1="606.5" y1="648.5" x2="608.7" y2="648.5" stroke="#111" stroke-width="0.7" />
<text x="605.7" y="650.8" font-size="6.4" text-anchor="end" fill="#111" stroke="#111" stroke-width="0.2" >20</text>
<line x1="606.5" y1="632.8" x2="608.7" y2="632.8" stroke="#111" stroke-width="0.7" />
<text x="605.7" y="635.1" font-size="6.4" text-anchor="end" fill="#111" stroke="#111" stroke-width="0.2" >40</text>
<line x1="606.5" y1="617.1" x2="608.7" y2="617.1" stroke="#111" stroke-width="0.7" />
<text x="605.7" y="619.4" font-size="6.4" text-anchor="end" fill="#111" stroke="#111" stroke-width="0.2" >60</text>
<line x1="606.5" y1="601.4" x2="608.7" y2="601.4" stroke="#111" stroke-width="0.7" />
<text x="605.7" y="603.7" font-size="6.4" text-anchor="end" fill="#111" stroke="#111" stroke-width="0.2" >80</text>
<line x1="606.5" y1="585.7" x2="608.7" y2="585.7" stroke="#111" stroke-width="0.7" />
<text x="605.7" y="588" font-size="6.4" text-anchor="end" fill="#111" stroke="#111" stroke-width="0.2" >100</text>
<line x1="619.7" y1="664.2" x2="619.7" y2="666.4" stroke="#111" stroke-width="0.7" />
<line x1="635.4" y1="664.2" x2="635.4" y2="666.4" stroke="#111" stroke-width="0.7" />
<line x1="651.4" y1="664.2" x2="651.4" y2="666.4" stroke="#111" stroke-width="0.7" />
<circle cx="616.6" cy="597" r="1.7" fill="#c0272d" />
<circle cx="623.2" cy="595.5" r="1.7" fill="#c0272d" />
<circle cx="619.7" cy="608.7" r="1.7" fill="#c0272d" />
<circle cx="616" cy="616" r="1.7" fill="#c0272d" />
<circle cx="623.6" cy="615" r="1.7" fill="#c0272d" />
<circle cx="616" cy="622.2" r="1.7" fill="#c0272d" />
<circle cx="623.6" cy="625.6" r="1.7" fill="#c0272d" />
<circle cx="616.9" cy="642.2" r="1.7" fill="#c0272d" />
<circle cx="622.9" cy="643.2" r="1.7" fill="#c0272d" />
<circle cx="619.7" cy="651.7" r="1.7" fill="#c0272d" />
<line x1="615.1" y1="619.6" x2="624.3" y2="619.6" stroke="#111" stroke-width="0.7" />
<line x1="619.7" y1="606.5" x2="619.7" y2="643.2" stroke="#111" stroke-width="0.7" />
<line x1="617.1" y1="606.5" x2="622.3" y2="606.5" stroke="#111" stroke-width="0.7" />
<line x1="617.1" y1="643.2" x2="622.3" y2="643.2" stroke="#111" stroke-width="0.7" />
<circle cx="631.6" cy="656.7" r="1.7" fill="#f08c1e" />
<circle cx="638.9" cy="656.7" r="1.7" fill="#f08c1e" />
<circle cx="635.4" cy="663" r="1.7" fill="#f08c1e" />
<line x1="631" y1="656.7" x2="639.8" y2="656.7" stroke="#111" stroke-width="0.7" />
<line x1="635.4" y1="656.7" x2="635.4" y2="664" stroke="#111" stroke-width="0.7" />
<line x1="633" y1="656.7" x2="637.8" y2="656.7" stroke="#111" stroke-width="0.7" />
<line x1="633" y1="664" x2="637.8" y2="664" stroke="#111" stroke-width="0.7" />
<circle cx="651.4" cy="604.9" r="1.7" fill="#5fe0f0" />
<circle cx="648" cy="618" r="1.7" fill="#5fe0f0" />
<circle cx="655.2" cy="618" r="1.7" fill="#5fe0f0" />
<circle cx="651.4" cy="629.7" r="1.7" fill="#5fe0f0" />
<line x1="646.8" y1="618" x2="656" y2="618" stroke="#111" stroke-width="0.7" />
<line x1="651.4" y1="610.2" x2="651.4" y2="625.3" stroke="#111" stroke-width="0.7" />
<line x1="648.8" y1="610.2" x2="654" y2="610.2" stroke="#111" stroke-width="0.7" />
<line x1="648.8" y1="625.3" x2="654" y2="625.3" stroke="#111" stroke-width="0.7" />
<line x1="619" y1="584.2" x2="648.9" y2="584.2" stroke="#333" stroke-width="0.6" />
<text x="634.2" y="582" font-size="6.5" text-anchor="middle" fill="#111" stroke="#111" stroke-width="0.2" >NS</text>
<line x1="620" y1="591.3" x2="633" y2="591.3" stroke="#333" stroke-width="0.6" />
<text x="626.3" y="592.6" font-size="9.5" text-anchor="middle" fill="#111" stroke="#111" stroke-width="0.2" >*</text>
<line x1="633.8" y1="594.6" x2="648.9" y2="594.6" stroke="#333" stroke-width="0.6" />
<text x="643.3" y="592.6" font-size="6.5" text-anchor="middle" fill="#111" stroke="#111" stroke-width="0.2" >NS</text>
<text x="592.5" y="626" font-size="6.7" text-anchor="middle" fill="#111" stroke="#111" stroke-width="0.2" transform="rotate(-90 592.5 626)" >%MUC5AC<tspan font-size="4.6" dy="-2.4">+</tspan><tspan dy="2.4"> epithelial cells</tspan></text>
<text x="621.5" y="669.2" font-size="6.5" text-anchor="end" fill="#111" stroke="#111" stroke-width="0.2" transform="rotate(-45 621.5 669.2)" >EGPA</text>
<text x="637.2" y="669.2" font-size="6.5" text-anchor="end" fill="#111" stroke="#111" stroke-width="0.2" transform="rotate(-45 637.2 669.2)" >Cs-remission</text>
<text x="653.2" y="669.2" font-size="6.5" text-anchor="end" fill="#111" stroke="#111" stroke-width="0.2" transform="rotate(-45 653.2 669.2)" >Cs-relapse</text>
</svg>
</body></html>
